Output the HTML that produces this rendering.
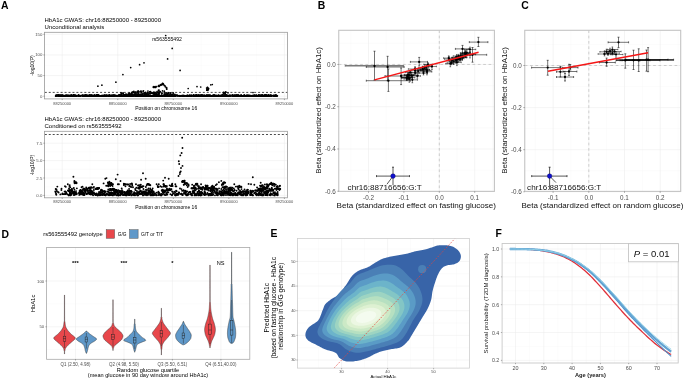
<!DOCTYPE html>
<html><head><meta charset="utf-8"><title>Figure</title>
<style>html,body{margin:0;padding:0;background:#fff;width:685px;height:381px;overflow:hidden}
svg{display:block;font-family:"Liberation Sans", sans-serif;will-change:transform}</style></head>
<body><svg width="685" height="381" viewBox="0 0 685 381">
<rect width="685" height="381" fill="#fff"/>
<text x="1" y="8.9" font-size="10.4" text-anchor="start" fill="#000" font-weight="bold" font-style="normal">A</text>
<text x="44.5" y="22" font-size="6" text-anchor="start" fill="#000" font-weight="normal" font-style="normal">HbA1c GWAS: chr16:88250000 - 89250000</text>
<text x="44.5" y="28.6" font-size="6" text-anchor="start" fill="#000" font-weight="normal" font-style="normal">Unconditional analysis</text>
<rect x="44.5" y="32.3" width="243" height="66.6" fill="#fff" stroke="none" stroke-width="0.5"/>
<line x1="89.97" y1="32.3" x2="89.97" y2="98.9" stroke="#f4f4f4" stroke-width="0.3"/>
<line x1="145.52" y1="32.3" x2="145.52" y2="98.9" stroke="#f4f4f4" stroke-width="0.3"/>
<line x1="201.07" y1="32.3" x2="201.07" y2="98.9" stroke="#f4f4f4" stroke-width="0.3"/>
<line x1="256.62" y1="32.3" x2="256.62" y2="98.9" stroke="#f4f4f4" stroke-width="0.3"/>
<line x1="44.5" y1="85.88" x2="287.5" y2="85.88" stroke="#f4f4f4" stroke-width="0.3"/>
<line x1="44.5" y1="65.25" x2="287.5" y2="65.25" stroke="#f4f4f4" stroke-width="0.3"/>
<line x1="44.5" y1="44.61" x2="287.5" y2="44.61" stroke="#f4f4f4" stroke-width="0.3"/>
<line x1="62.2" y1="32.3" x2="62.2" y2="98.9" stroke="#ebebeb" stroke-width="0.5"/>
<line x1="117.75" y1="32.3" x2="117.75" y2="98.9" stroke="#ebebeb" stroke-width="0.5"/>
<line x1="173.3" y1="32.3" x2="173.3" y2="98.9" stroke="#ebebeb" stroke-width="0.5"/>
<line x1="228.85" y1="32.3" x2="228.85" y2="98.9" stroke="#ebebeb" stroke-width="0.5"/>
<line x1="284.4" y1="32.3" x2="284.4" y2="98.9" stroke="#ebebeb" stroke-width="0.5"/>
<line x1="44.5" y1="96.2" x2="287.5" y2="96.2" stroke="#ebebeb" stroke-width="0.5"/>
<line x1="44.5" y1="75.56" x2="287.5" y2="75.56" stroke="#ebebeb" stroke-width="0.5"/>
<line x1="44.5" y1="54.93" x2="287.5" y2="54.93" stroke="#ebebeb" stroke-width="0.5"/>
<line x1="44.5" y1="34.3" x2="287.5" y2="34.3" stroke="#ebebeb" stroke-width="0.5"/>
<g fill="#000">
<circle cx="194.08" cy="96.03" r="0.85"/>
<circle cx="227.59" cy="95.69" r="0.85"/>
<circle cx="121.79" cy="95.63" r="0.85"/>
<circle cx="56.17" cy="95.43" r="0.85"/>
<circle cx="232.35" cy="95.84" r="0.85"/>
<circle cx="122.42" cy="95.99" r="0.85"/>
<circle cx="111.71" cy="95.66" r="0.85"/>
<circle cx="167.26" cy="95.8" r="0.85"/>
<circle cx="276.5" cy="95.94" r="0.85"/>
<circle cx="193.43" cy="95.45" r="0.85"/>
<circle cx="102.91" cy="96.06" r="0.85"/>
<circle cx="191.29" cy="96.04" r="0.85"/>
<circle cx="62.94" cy="96.09" r="0.85"/>
<circle cx="158.73" cy="95.89" r="0.85"/>
<circle cx="195" cy="96.13" r="0.85"/>
<circle cx="165.55" cy="95.92" r="0.85"/>
<circle cx="97.81" cy="95.73" r="0.85"/>
<circle cx="99.63" cy="95.73" r="0.85"/>
<circle cx="55.83" cy="95.69" r="0.85"/>
<circle cx="89.37" cy="96.14" r="0.85"/>
<circle cx="250.87" cy="96.16" r="0.85"/>
<circle cx="243.49" cy="96.16" r="0.85"/>
<circle cx="220.04" cy="95.31" r="0.85"/>
<circle cx="175.4" cy="96.13" r="0.85"/>
<circle cx="248.87" cy="95.04" r="0.85"/>
<circle cx="188.1" cy="95.51" r="0.85"/>
<circle cx="141.25" cy="95.87" r="0.85"/>
<circle cx="88.42" cy="95.81" r="0.85"/>
<circle cx="139.43" cy="95.81" r="0.85"/>
<circle cx="186.27" cy="95.81" r="0.85"/>
<circle cx="196.95" cy="95.93" r="0.85"/>
<circle cx="88.55" cy="95.51" r="0.85"/>
<circle cx="108.3" cy="96.09" r="0.85"/>
<circle cx="76.52" cy="95.54" r="0.85"/>
<circle cx="102.84" cy="95.74" r="0.85"/>
<circle cx="121.84" cy="95.05" r="0.85"/>
<circle cx="202.34" cy="96.14" r="0.85"/>
<circle cx="243.03" cy="95.8" r="0.85"/>
<circle cx="256.12" cy="95.99" r="0.85"/>
<circle cx="87.36" cy="95.32" r="0.85"/>
<circle cx="261.46" cy="96.02" r="0.85"/>
<circle cx="95.17" cy="96.13" r="0.85"/>
<circle cx="197.75" cy="95.56" r="0.85"/>
<circle cx="138.72" cy="95.94" r="0.85"/>
<circle cx="108.29" cy="95.82" r="0.85"/>
<circle cx="249.96" cy="95.81" r="0.85"/>
<circle cx="176.85" cy="95.59" r="0.85"/>
<circle cx="222.17" cy="95.86" r="0.85"/>
<circle cx="137.81" cy="96" r="0.85"/>
<circle cx="82.34" cy="95.02" r="0.85"/>
<circle cx="201.35" cy="95.68" r="0.85"/>
<circle cx="171.53" cy="94.9" r="0.85"/>
<circle cx="131.59" cy="95.84" r="0.85"/>
<circle cx="207.12" cy="95.92" r="0.85"/>
<circle cx="170.5" cy="96.08" r="0.85"/>
<circle cx="257.29" cy="95.9" r="0.85"/>
<circle cx="262.69" cy="96.15" r="0.85"/>
<circle cx="222.54" cy="95.59" r="0.85"/>
<circle cx="85.43" cy="95.7" r="0.85"/>
<circle cx="236.39" cy="96.09" r="0.85"/>
<circle cx="194.83" cy="95.86" r="0.85"/>
<circle cx="169.14" cy="95.05" r="0.85"/>
<circle cx="105.38" cy="95.99" r="0.85"/>
<circle cx="135.8" cy="95.71" r="0.85"/>
<circle cx="132" cy="95.76" r="0.85"/>
<circle cx="182.57" cy="95.75" r="0.85"/>
<circle cx="115.41" cy="95.31" r="0.85"/>
<circle cx="153.9" cy="95.37" r="0.85"/>
<circle cx="169.7" cy="96.04" r="0.85"/>
<circle cx="254.48" cy="95.64" r="0.85"/>
<circle cx="184.2" cy="95.89" r="0.85"/>
<circle cx="250.4" cy="95.74" r="0.85"/>
<circle cx="260.31" cy="95.46" r="0.85"/>
<circle cx="150.67" cy="96.11" r="0.85"/>
<circle cx="266.58" cy="96.19" r="0.85"/>
<circle cx="234.34" cy="96.01" r="0.85"/>
<circle cx="214.55" cy="96.2" r="0.85"/>
<circle cx="129.02" cy="96.03" r="0.85"/>
<circle cx="100.15" cy="95.73" r="0.85"/>
<circle cx="102.37" cy="95.81" r="0.85"/>
<circle cx="241.94" cy="96.01" r="0.85"/>
<circle cx="161.62" cy="95.36" r="0.85"/>
<circle cx="201.69" cy="95.83" r="0.85"/>
<circle cx="268.9" cy="95.78" r="0.85"/>
<circle cx="194.75" cy="96.16" r="0.85"/>
<circle cx="95.92" cy="95.94" r="0.85"/>
<circle cx="146.56" cy="96.12" r="0.85"/>
<circle cx="236.39" cy="95.5" r="0.85"/>
<circle cx="80.19" cy="95.91" r="0.85"/>
<circle cx="233.45" cy="96.18" r="0.85"/>
<circle cx="171.44" cy="95.91" r="0.85"/>
<circle cx="65.38" cy="96.03" r="0.85"/>
<circle cx="59.5" cy="96.19" r="0.85"/>
<circle cx="110.31" cy="95.81" r="0.85"/>
<circle cx="181.17" cy="95.87" r="0.85"/>
<circle cx="186.36" cy="95.65" r="0.85"/>
<circle cx="205.83" cy="96.12" r="0.85"/>
<circle cx="124.1" cy="95.75" r="0.85"/>
<circle cx="174.79" cy="95.67" r="0.85"/>
<circle cx="201.41" cy="95.32" r="0.85"/>
<circle cx="97.55" cy="95.7" r="0.85"/>
<circle cx="63.83" cy="95.7" r="0.85"/>
<circle cx="268.62" cy="95.34" r="0.85"/>
<circle cx="66.28" cy="95.22" r="0.85"/>
<circle cx="125.76" cy="95.61" r="0.85"/>
<circle cx="194.42" cy="95.71" r="0.85"/>
<circle cx="124.8" cy="94.98" r="0.85"/>
<circle cx="232.36" cy="96.17" r="0.85"/>
<circle cx="225.63" cy="96.18" r="0.85"/>
<circle cx="98.9" cy="95.33" r="0.85"/>
<circle cx="197.12" cy="95.64" r="0.85"/>
<circle cx="76.41" cy="95.91" r="0.85"/>
<circle cx="195.61" cy="95.97" r="0.85"/>
<circle cx="233.78" cy="95.82" r="0.85"/>
<circle cx="215.66" cy="95.69" r="0.85"/>
<circle cx="253.68" cy="95.75" r="0.85"/>
<circle cx="60.94" cy="96" r="0.85"/>
<circle cx="102.77" cy="95.4" r="0.85"/>
<circle cx="265.22" cy="96.15" r="0.85"/>
<circle cx="111.24" cy="95.36" r="0.85"/>
<circle cx="201.24" cy="95.77" r="0.85"/>
<circle cx="139.68" cy="96.15" r="0.85"/>
<circle cx="202.39" cy="95.53" r="0.85"/>
<circle cx="138.85" cy="94.93" r="0.85"/>
<circle cx="175.04" cy="95.06" r="0.85"/>
<circle cx="110.05" cy="95.8" r="0.85"/>
<circle cx="156.78" cy="95.43" r="0.85"/>
<circle cx="222.48" cy="95.52" r="0.85"/>
<circle cx="121.68" cy="95.55" r="0.85"/>
<circle cx="224.81" cy="96.17" r="0.85"/>
<circle cx="84.64" cy="96.18" r="0.85"/>
<circle cx="73.08" cy="95.88" r="0.85"/>
<circle cx="114.91" cy="95.6" r="0.85"/>
<circle cx="240.3" cy="95.8" r="0.85"/>
<circle cx="96.64" cy="95.47" r="0.85"/>
<circle cx="251.67" cy="96.2" r="0.85"/>
<circle cx="213.17" cy="95.21" r="0.85"/>
<circle cx="216.83" cy="95.93" r="0.85"/>
<circle cx="238.73" cy="95.98" r="0.85"/>
<circle cx="137.49" cy="96.06" r="0.85"/>
<circle cx="170.43" cy="96.15" r="0.85"/>
<circle cx="97.46" cy="96.04" r="0.85"/>
<circle cx="174.29" cy="95.51" r="0.85"/>
<circle cx="254.49" cy="96.2" r="0.85"/>
<circle cx="96" cy="95.88" r="0.85"/>
<circle cx="198.41" cy="95.15" r="0.85"/>
<circle cx="276.78" cy="95.64" r="0.85"/>
<circle cx="242.57" cy="95.81" r="0.85"/>
<circle cx="142.89" cy="96.08" r="0.85"/>
<circle cx="96.04" cy="96.08" r="0.85"/>
<circle cx="223.59" cy="95.33" r="0.85"/>
<circle cx="153.97" cy="96.17" r="0.85"/>
<circle cx="148.4" cy="95.83" r="0.85"/>
<circle cx="242.86" cy="95.91" r="0.85"/>
<circle cx="141.22" cy="96" r="0.85"/>
<circle cx="215.56" cy="96.16" r="0.85"/>
<circle cx="239.82" cy="95.97" r="0.85"/>
<circle cx="141.2" cy="96.07" r="0.85"/>
<circle cx="224.18" cy="95.28" r="0.85"/>
<circle cx="87.93" cy="95.71" r="0.85"/>
<circle cx="238.63" cy="95.75" r="0.85"/>
<circle cx="82.45" cy="95.41" r="0.85"/>
<circle cx="274.8" cy="96.02" r="0.85"/>
<circle cx="182.93" cy="96.09" r="0.85"/>
<circle cx="221.96" cy="95.63" r="0.85"/>
<circle cx="258.46" cy="95.04" r="0.85"/>
<circle cx="226.13" cy="96.08" r="0.85"/>
<circle cx="160.33" cy="96.02" r="0.85"/>
<circle cx="124.82" cy="95.56" r="0.85"/>
<circle cx="215.14" cy="95.68" r="0.85"/>
<circle cx="67.63" cy="95.32" r="0.85"/>
<circle cx="252.74" cy="95.88" r="0.85"/>
<circle cx="109.86" cy="96.09" r="0.85"/>
<circle cx="105.55" cy="95.42" r="0.85"/>
<circle cx="166.99" cy="95.35" r="0.85"/>
<circle cx="94.23" cy="95.66" r="0.85"/>
<circle cx="162.74" cy="95.91" r="0.85"/>
<circle cx="204.04" cy="96.08" r="0.85"/>
<circle cx="172.24" cy="96.03" r="0.85"/>
<circle cx="169.85" cy="96.18" r="0.85"/>
<circle cx="174.31" cy="96.15" r="0.85"/>
<circle cx="230.96" cy="95.12" r="0.85"/>
<circle cx="94.91" cy="96.17" r="0.85"/>
<circle cx="80.19" cy="95.98" r="0.85"/>
<circle cx="264.5" cy="95.39" r="0.85"/>
<circle cx="270.8" cy="95.79" r="0.85"/>
<circle cx="167.69" cy="95.21" r="0.85"/>
<circle cx="258.58" cy="95.81" r="0.85"/>
<circle cx="125.17" cy="94.9" r="0.85"/>
<circle cx="69.77" cy="95.75" r="0.85"/>
<circle cx="158.48" cy="96.17" r="0.85"/>
<circle cx="224.31" cy="95.53" r="0.85"/>
<circle cx="224.34" cy="95.54" r="0.85"/>
<circle cx="244.06" cy="95.59" r="0.85"/>
<circle cx="218.69" cy="95.93" r="0.85"/>
<circle cx="92.3" cy="96.12" r="0.85"/>
<circle cx="91.9" cy="96" r="0.85"/>
<circle cx="187.75" cy="95.37" r="0.85"/>
<circle cx="263.4" cy="96.09" r="0.85"/>
<circle cx="169.47" cy="95.62" r="0.85"/>
<circle cx="269.81" cy="95.75" r="0.85"/>
<circle cx="233.82" cy="95.97" r="0.85"/>
<circle cx="233.4" cy="95.61" r="0.85"/>
<circle cx="198.22" cy="95.5" r="0.85"/>
<circle cx="151.45" cy="95.73" r="0.85"/>
<circle cx="209" cy="95.1" r="0.85"/>
<circle cx="129.55" cy="95.85" r="0.85"/>
<circle cx="101.51" cy="95.98" r="0.85"/>
<circle cx="226.14" cy="95.55" r="0.85"/>
<circle cx="216.94" cy="96.1" r="0.85"/>
<circle cx="268.23" cy="95.83" r="0.85"/>
<circle cx="146.02" cy="95.23" r="0.85"/>
<circle cx="171.43" cy="95.63" r="0.85"/>
<circle cx="73.86" cy="95.58" r="0.85"/>
<circle cx="179.18" cy="95.6" r="0.85"/>
<circle cx="63.81" cy="95.93" r="0.85"/>
<circle cx="195.41" cy="95.89" r="0.85"/>
<circle cx="71.5" cy="96.02" r="0.85"/>
<circle cx="104.44" cy="95.45" r="0.85"/>
<circle cx="250.51" cy="95.69" r="0.85"/>
<circle cx="156.08" cy="96.2" r="0.85"/>
<circle cx="212.38" cy="95.64" r="0.85"/>
<circle cx="234.57" cy="95.9" r="0.85"/>
<circle cx="193.04" cy="95.75" r="0.85"/>
<circle cx="205.88" cy="96.07" r="0.85"/>
<circle cx="145.36" cy="95.86" r="0.85"/>
<circle cx="143.13" cy="95.85" r="0.85"/>
<circle cx="139.65" cy="95.57" r="0.85"/>
<circle cx="223.09" cy="96.17" r="0.85"/>
<circle cx="130.21" cy="95.68" r="0.85"/>
<circle cx="139.76" cy="95.21" r="0.85"/>
<circle cx="229.72" cy="95.58" r="0.85"/>
<circle cx="213.62" cy="96.17" r="0.85"/>
<circle cx="246.42" cy="95.32" r="0.85"/>
<circle cx="179.12" cy="95.77" r="0.85"/>
<circle cx="205.78" cy="95.98" r="0.85"/>
<circle cx="148.59" cy="95.78" r="0.85"/>
<circle cx="120.11" cy="95.76" r="0.85"/>
<circle cx="150.84" cy="95.64" r="0.85"/>
<circle cx="154.54" cy="95.14" r="0.85"/>
<circle cx="184.37" cy="96.01" r="0.85"/>
<circle cx="252.82" cy="96.18" r="0.85"/>
<circle cx="114.39" cy="96.17" r="0.85"/>
<circle cx="164.88" cy="95.6" r="0.85"/>
<circle cx="71.31" cy="95.62" r="0.85"/>
<circle cx="99.06" cy="95.77" r="0.85"/>
<circle cx="239.24" cy="95.64" r="0.85"/>
<circle cx="160.39" cy="96" r="0.85"/>
<circle cx="156.92" cy="94.8" r="0.85"/>
<circle cx="176.46" cy="95.58" r="0.85"/>
<circle cx="125.43" cy="95.58" r="0.85"/>
<circle cx="226.44" cy="95.33" r="0.85"/>
<circle cx="218.05" cy="95.4" r="0.85"/>
<circle cx="154.06" cy="95.97" r="0.85"/>
<circle cx="206.95" cy="95.11" r="0.85"/>
<circle cx="198.15" cy="96.18" r="0.85"/>
<circle cx="196.77" cy="96.15" r="0.85"/>
<circle cx="161.03" cy="96.16" r="0.85"/>
<circle cx="195.4" cy="95.45" r="0.85"/>
<circle cx="269.06" cy="96.12" r="0.85"/>
<circle cx="123.09" cy="96.16" r="0.85"/>
<circle cx="70.01" cy="95.77" r="0.85"/>
<circle cx="226.73" cy="95.6" r="0.85"/>
<circle cx="98.51" cy="96.14" r="0.85"/>
<circle cx="126.52" cy="96.09" r="0.85"/>
<circle cx="163.6" cy="95.65" r="0.85"/>
<circle cx="201.05" cy="95.88" r="0.85"/>
<circle cx="225.81" cy="96.2" r="0.85"/>
<circle cx="131.5" cy="96.16" r="0.85"/>
<circle cx="152.37" cy="95.84" r="0.85"/>
<circle cx="86.53" cy="95" r="0.85"/>
<circle cx="197.36" cy="96.11" r="0.85"/>
<circle cx="85.71" cy="95.95" r="0.85"/>
<circle cx="118.04" cy="95.64" r="0.85"/>
<circle cx="60.74" cy="95.88" r="0.85"/>
<circle cx="91.72" cy="95.5" r="0.85"/>
<circle cx="58.35" cy="96.12" r="0.85"/>
<circle cx="114.99" cy="95.95" r="0.85"/>
<circle cx="95.95" cy="95.24" r="0.85"/>
<circle cx="145.4" cy="96.06" r="0.85"/>
<circle cx="236.75" cy="95.98" r="0.85"/>
<circle cx="260.55" cy="96.05" r="0.85"/>
<circle cx="203.7" cy="95.95" r="0.85"/>
<circle cx="202.59" cy="95.33" r="0.85"/>
<circle cx="226.82" cy="95.52" r="0.85"/>
<circle cx="267.12" cy="96.06" r="0.85"/>
<circle cx="80.44" cy="95.66" r="0.85"/>
<circle cx="62.22" cy="94.8" r="0.85"/>
<circle cx="258.61" cy="95.34" r="0.85"/>
<circle cx="191.15" cy="95.83" r="0.85"/>
<circle cx="205.95" cy="95.99" r="0.85"/>
<circle cx="266.91" cy="95.19" r="0.85"/>
<circle cx="129.7" cy="96.14" r="0.85"/>
<circle cx="59.15" cy="95.47" r="0.85"/>
<circle cx="209.4" cy="95.95" r="0.85"/>
<circle cx="244.45" cy="96.14" r="0.85"/>
<circle cx="129.91" cy="95.75" r="0.85"/>
<circle cx="84.42" cy="95.78" r="0.85"/>
<circle cx="122.62" cy="95.58" r="0.85"/>
<circle cx="261.48" cy="96.02" r="0.85"/>
<circle cx="254.94" cy="95.62" r="0.85"/>
<circle cx="244.9" cy="95.86" r="0.85"/>
<circle cx="55.73" cy="96.02" r="0.85"/>
<circle cx="109.62" cy="95.99" r="0.85"/>
<circle cx="232.89" cy="95.7" r="0.85"/>
<circle cx="102.26" cy="96.01" r="0.85"/>
<circle cx="263.98" cy="95.98" r="0.85"/>
<circle cx="211.29" cy="96.19" r="0.85"/>
<circle cx="236.35" cy="94.8" r="0.85"/>
<circle cx="169.82" cy="95.89" r="0.85"/>
<circle cx="177.39" cy="95.22" r="0.85"/>
<circle cx="73.78" cy="96.02" r="0.85"/>
<circle cx="225.14" cy="95.75" r="0.85"/>
<circle cx="124.6" cy="96.18" r="0.85"/>
<circle cx="156.17" cy="95.07" r="0.85"/>
<circle cx="120.18" cy="96.17" r="0.85"/>
<circle cx="196.44" cy="95.42" r="0.85"/>
<circle cx="139.16" cy="95.35" r="0.85"/>
<circle cx="210.4" cy="96.09" r="0.85"/>
<circle cx="60.89" cy="95.75" r="0.85"/>
<circle cx="213.78" cy="95.33" r="0.85"/>
<circle cx="217.6" cy="96.01" r="0.85"/>
<circle cx="159.42" cy="95.32" r="0.85"/>
<circle cx="154.7" cy="95.91" r="0.85"/>
<circle cx="122.97" cy="95.93" r="0.85"/>
<circle cx="103.84" cy="96.06" r="0.85"/>
<circle cx="93.49" cy="95.67" r="0.85"/>
<circle cx="158.64" cy="96.08" r="0.85"/>
<circle cx="219.38" cy="95.81" r="0.85"/>
<circle cx="115.74" cy="95.67" r="0.85"/>
<circle cx="167.75" cy="96" r="0.85"/>
<circle cx="82.78" cy="96.08" r="0.85"/>
<circle cx="160.5" cy="95.83" r="0.85"/>
<circle cx="69.81" cy="95.5" r="0.85"/>
<circle cx="247.53" cy="95.05" r="0.85"/>
<circle cx="56.27" cy="96.07" r="0.85"/>
<circle cx="137.1" cy="96.13" r="0.85"/>
<circle cx="71.29" cy="96.13" r="0.85"/>
<circle cx="235.81" cy="95.72" r="0.85"/>
<circle cx="155.83" cy="95.37" r="0.85"/>
<circle cx="126.18" cy="95.76" r="0.85"/>
<circle cx="142.26" cy="96.08" r="0.85"/>
<circle cx="73.22" cy="96.01" r="0.85"/>
<circle cx="267.17" cy="95.69" r="0.85"/>
<circle cx="198.98" cy="95.61" r="0.85"/>
<circle cx="182.07" cy="96.18" r="0.85"/>
<circle cx="186.12" cy="96" r="0.85"/>
<circle cx="177.48" cy="95.8" r="0.85"/>
<circle cx="184.66" cy="95.6" r="0.85"/>
<circle cx="91.92" cy="94.8" r="0.85"/>
<circle cx="236.77" cy="96.14" r="0.85"/>
<circle cx="176.25" cy="95.01" r="0.85"/>
<circle cx="144.67" cy="95.99" r="0.85"/>
<circle cx="137.83" cy="95.91" r="0.85"/>
<circle cx="207.78" cy="95.91" r="0.85"/>
<circle cx="78.81" cy="95.21" r="0.85"/>
<circle cx="260.56" cy="95.8" r="0.85"/>
<circle cx="110.52" cy="95.78" r="0.85"/>
<circle cx="243.94" cy="96.09" r="0.85"/>
<circle cx="64.85" cy="95.81" r="0.85"/>
<circle cx="97.83" cy="95.22" r="0.85"/>
<circle cx="260.05" cy="95.77" r="0.85"/>
<circle cx="93.11" cy="95.85" r="0.85"/>
<circle cx="171.6" cy="94.87" r="0.85"/>
<circle cx="152.39" cy="96.05" r="0.85"/>
<circle cx="133.68" cy="95.06" r="0.85"/>
<circle cx="222.04" cy="95.16" r="0.85"/>
<circle cx="234.83" cy="95.5" r="0.85"/>
<circle cx="228.86" cy="96.15" r="0.85"/>
<circle cx="248.86" cy="96" r="0.85"/>
<circle cx="156.4" cy="96.03" r="0.85"/>
<circle cx="168" cy="96.02" r="0.85"/>
<circle cx="85.95" cy="95.89" r="0.85"/>
<circle cx="66.66" cy="95.23" r="0.85"/>
<circle cx="83.95" cy="95.13" r="0.85"/>
<circle cx="134.32" cy="95.44" r="0.85"/>
<circle cx="117.5" cy="95.81" r="0.85"/>
<circle cx="128.67" cy="96.17" r="0.85"/>
<circle cx="111.92" cy="96.03" r="0.85"/>
<circle cx="222.98" cy="95.95" r="0.85"/>
<circle cx="252.39" cy="95.57" r="0.85"/>
<circle cx="124.09" cy="94.88" r="0.85"/>
<circle cx="111.32" cy="96.06" r="0.85"/>
<circle cx="152.43" cy="95.79" r="0.85"/>
<circle cx="263.17" cy="96.08" r="0.85"/>
<circle cx="213.5" cy="96.04" r="0.85"/>
<circle cx="84.31" cy="95.3" r="0.85"/>
<circle cx="209.81" cy="96.15" r="0.85"/>
<circle cx="256.53" cy="95.34" r="0.85"/>
<circle cx="75.62" cy="95.81" r="0.85"/>
<circle cx="263.7" cy="95.82" r="0.85"/>
<circle cx="259.3" cy="95.39" r="0.85"/>
<circle cx="69.92" cy="95.77" r="0.85"/>
<circle cx="157.08" cy="95.82" r="0.85"/>
<circle cx="219.03" cy="95.67" r="0.85"/>
<circle cx="276.88" cy="95.99" r="0.85"/>
<circle cx="235.86" cy="95.83" r="0.85"/>
<circle cx="229.29" cy="96.02" r="0.85"/>
<circle cx="275.72" cy="96.08" r="0.85"/>
<circle cx="155.78" cy="95.76" r="0.85"/>
<circle cx="265.43" cy="95.5" r="0.85"/>
<circle cx="264.2" cy="95.83" r="0.85"/>
<circle cx="138.39" cy="96.17" r="0.85"/>
<circle cx="159.84" cy="95.8" r="0.85"/>
<circle cx="140.91" cy="95.99" r="0.85"/>
<circle cx="86.11" cy="95.84" r="0.85"/>
<circle cx="222.76" cy="95.49" r="0.85"/>
<circle cx="204.5" cy="95.97" r="0.85"/>
<circle cx="106.2" cy="95.36" r="0.85"/>
<circle cx="116.83" cy="96.05" r="0.85"/>
<circle cx="224.25" cy="95.41" r="0.85"/>
<circle cx="126.91" cy="96.14" r="0.85"/>
<circle cx="96.51" cy="95.21" r="0.85"/>
<circle cx="210.11" cy="96.15" r="0.85"/>
<circle cx="120.94" cy="96.15" r="0.85"/>
<circle cx="62.58" cy="95.88" r="0.85"/>
<circle cx="183.6" cy="96.18" r="0.85"/>
<circle cx="132.48" cy="94.8" r="0.85"/>
<circle cx="186.25" cy="95.93" r="0.85"/>
<circle cx="212.21" cy="95.75" r="0.85"/>
<circle cx="270.76" cy="95.92" r="0.85"/>
<circle cx="111.41" cy="95.63" r="0.85"/>
<circle cx="275.61" cy="95.93" r="0.85"/>
<circle cx="189.68" cy="95.36" r="0.85"/>
<circle cx="266.39" cy="96.11" r="0.85"/>
<circle cx="170.96" cy="95.18" r="0.85"/>
<circle cx="211.28" cy="95.74" r="0.85"/>
<circle cx="127.96" cy="96.15" r="0.85"/>
<circle cx="62.84" cy="95.84" r="0.85"/>
<circle cx="71.88" cy="95.52" r="0.85"/>
<circle cx="129.15" cy="95.36" r="0.85"/>
<circle cx="61.87" cy="95.53" r="0.85"/>
<circle cx="151.83" cy="95.66" r="0.85"/>
<circle cx="212.63" cy="96.11" r="0.85"/>
<circle cx="109.52" cy="95.76" r="0.85"/>
<circle cx="254.74" cy="96.15" r="0.85"/>
<circle cx="75.74" cy="95.5" r="0.85"/>
<circle cx="61.21" cy="95.19" r="0.85"/>
<circle cx="60.66" cy="96.19" r="0.85"/>
<circle cx="195.89" cy="95.44" r="0.85"/>
<circle cx="89.66" cy="95.73" r="0.85"/>
<circle cx="129.64" cy="95.7" r="0.85"/>
<circle cx="74.26" cy="95.75" r="0.85"/>
<circle cx="205.49" cy="96.11" r="0.85"/>
<circle cx="192.49" cy="95.66" r="0.85"/>
<circle cx="112.92" cy="95.93" r="0.85"/>
<circle cx="266.87" cy="95.95" r="0.85"/>
<circle cx="197.56" cy="96.04" r="0.85"/>
<circle cx="58.37" cy="96.12" r="0.85"/>
<circle cx="69.88" cy="96.19" r="0.85"/>
<circle cx="209.21" cy="95.64" r="0.85"/>
<circle cx="230.01" cy="95.82" r="0.85"/>
<circle cx="94.39" cy="96.09" r="0.85"/>
<circle cx="244.43" cy="95.54" r="0.85"/>
<circle cx="109.32" cy="95.03" r="0.85"/>
<circle cx="144.56" cy="95.77" r="0.85"/>
<circle cx="167.4" cy="96.14" r="0.85"/>
<circle cx="153.5" cy="95.44" r="0.85"/>
<circle cx="213.52" cy="96.17" r="0.85"/>
<circle cx="248.32" cy="96.09" r="0.85"/>
<circle cx="125.48" cy="96.04" r="0.85"/>
<circle cx="263.96" cy="96.18" r="0.85"/>
<circle cx="76.47" cy="95.9" r="0.85"/>
<circle cx="275.37" cy="95.68" r="0.85"/>
<circle cx="67.12" cy="96.11" r="0.85"/>
<circle cx="167.16" cy="95.6" r="0.85"/>
<circle cx="266.66" cy="95.79" r="0.85"/>
<circle cx="82.81" cy="96.02" r="0.85"/>
<circle cx="145.67" cy="95.51" r="0.85"/>
<circle cx="193.78" cy="95.51" r="0.85"/>
<circle cx="183.17" cy="95.56" r="0.85"/>
<circle cx="236.95" cy="96.14" r="0.85"/>
<circle cx="210.41" cy="95.99" r="0.85"/>
<circle cx="159.82" cy="95.51" r="0.85"/>
<circle cx="174.94" cy="95.97" r="0.85"/>
<circle cx="150.4" cy="95.83" r="0.85"/>
<circle cx="67.62" cy="96.18" r="0.85"/>
<circle cx="59.08" cy="95.92" r="0.85"/>
<circle cx="139.88" cy="96.18" r="0.85"/>
<circle cx="120.82" cy="95.95" r="0.85"/>
<circle cx="93.51" cy="96.08" r="0.85"/>
<circle cx="268.62" cy="95.51" r="0.85"/>
<circle cx="158.55" cy="94.89" r="0.85"/>
<circle cx="119.49" cy="95.73" r="0.85"/>
<circle cx="118.93" cy="95.13" r="0.85"/>
<circle cx="129.32" cy="95.07" r="0.85"/>
<circle cx="261.01" cy="95.82" r="0.85"/>
<circle cx="234.61" cy="95.77" r="0.85"/>
<circle cx="139.34" cy="95.94" r="0.85"/>
<circle cx="70.44" cy="96.16" r="0.85"/>
<circle cx="193.65" cy="94.89" r="0.85"/>
<circle cx="203.94" cy="95.6" r="0.85"/>
<circle cx="273.22" cy="96.07" r="0.85"/>
<circle cx="234.47" cy="95.98" r="0.85"/>
<circle cx="270.86" cy="95.67" r="0.85"/>
<circle cx="248.36" cy="96.18" r="0.85"/>
<circle cx="193.37" cy="96.11" r="0.85"/>
<circle cx="99.59" cy="96.12" r="0.85"/>
<circle cx="119.66" cy="96.19" r="0.85"/>
<circle cx="83.52" cy="95.87" r="0.85"/>
<circle cx="260.23" cy="96" r="0.85"/>
<circle cx="57.95" cy="96.11" r="0.85"/>
<circle cx="84.91" cy="95.68" r="0.85"/>
<circle cx="184.79" cy="95.97" r="0.85"/>
<circle cx="150.5" cy="95.72" r="0.85"/>
<circle cx="202.87" cy="95.97" r="0.85"/>
<circle cx="143.81" cy="95.03" r="0.85"/>
<circle cx="256.23" cy="95.17" r="0.85"/>
<circle cx="214.9" cy="95.82" r="0.85"/>
<circle cx="254.01" cy="95.95" r="0.85"/>
<circle cx="167.4" cy="96.17" r="0.85"/>
<circle cx="204.69" cy="95.16" r="0.85"/>
<circle cx="85.45" cy="94.92" r="0.85"/>
<circle cx="61.48" cy="95.78" r="0.85"/>
<circle cx="268.35" cy="96.07" r="0.85"/>
<circle cx="90.91" cy="95.37" r="0.85"/>
<circle cx="74.22" cy="95.58" r="0.85"/>
<circle cx="186.82" cy="95.64" r="0.85"/>
<circle cx="79.17" cy="95.59" r="0.85"/>
<circle cx="233.99" cy="95.41" r="0.85"/>
<circle cx="85.65" cy="96.02" r="0.85"/>
<circle cx="195.07" cy="95.87" r="0.85"/>
<circle cx="247.21" cy="96.09" r="0.85"/>
<circle cx="168.67" cy="95.64" r="0.85"/>
<circle cx="180.39" cy="96.06" r="0.85"/>
<circle cx="217.7" cy="96.17" r="0.85"/>
<circle cx="275.69" cy="95.05" r="0.85"/>
<circle cx="149.28" cy="95.69" r="0.85"/>
<circle cx="228.4" cy="95.74" r="0.85"/>
<circle cx="197.32" cy="95.4" r="0.85"/>
<circle cx="169.89" cy="94.8" r="0.85"/>
<circle cx="159.27" cy="95.56" r="0.85"/>
<circle cx="118.34" cy="95.97" r="0.85"/>
<circle cx="125.37" cy="95.73" r="0.85"/>
<circle cx="146.08" cy="95.69" r="0.85"/>
<circle cx="265.92" cy="95.98" r="0.85"/>
<circle cx="276.28" cy="95.3" r="0.85"/>
<circle cx="71.43" cy="94.91" r="0.85"/>
<circle cx="66.01" cy="95.84" r="0.85"/>
<circle cx="96.26" cy="95.12" r="0.85"/>
<circle cx="122.8" cy="95.53" r="0.85"/>
<circle cx="237.98" cy="95.53" r="0.85"/>
<circle cx="128.17" cy="95.65" r="0.85"/>
<circle cx="56.31" cy="95.27" r="0.85"/>
<circle cx="268.76" cy="94.81" r="0.85"/>
<circle cx="248.54" cy="96.04" r="0.85"/>
<circle cx="120.39" cy="96.1" r="0.85"/>
<circle cx="119.37" cy="96.08" r="0.85"/>
<circle cx="73.41" cy="94.96" r="0.85"/>
<circle cx="221.88" cy="95.79" r="0.85"/>
<circle cx="87.81" cy="96.07" r="0.85"/>
<circle cx="121.08" cy="95.83" r="0.85"/>
<circle cx="220.48" cy="96" r="0.85"/>
<circle cx="68.13" cy="95.02" r="0.85"/>
<circle cx="273.87" cy="95.36" r="0.85"/>
<circle cx="226.23" cy="94.8" r="0.85"/>
<circle cx="249.36" cy="95.51" r="0.85"/>
<circle cx="252.64" cy="96.08" r="0.85"/>
<circle cx="248.41" cy="96.08" r="0.85"/>
<circle cx="214.2" cy="95.77" r="0.85"/>
<circle cx="114.14" cy="95.95" r="0.85"/>
<circle cx="186.57" cy="96.17" r="0.85"/>
<circle cx="262.25" cy="96.1" r="0.85"/>
<circle cx="98.04" cy="95.99" r="0.85"/>
<circle cx="237.01" cy="95.99" r="0.85"/>
<circle cx="168.92" cy="96.13" r="0.85"/>
<circle cx="200.75" cy="95.76" r="0.85"/>
<circle cx="74.38" cy="95.43" r="0.85"/>
<circle cx="250.84" cy="95.77" r="0.85"/>
<circle cx="66.86" cy="95.81" r="0.85"/>
<circle cx="140.58" cy="95.79" r="0.85"/>
<circle cx="185.64" cy="95.75" r="0.85"/>
<circle cx="130.23" cy="95.78" r="0.85"/>
<circle cx="191.51" cy="96.18" r="0.85"/>
<circle cx="212.12" cy="95.83" r="0.85"/>
<circle cx="236.24" cy="95.76" r="0.85"/>
<circle cx="269.38" cy="96.02" r="0.85"/>
<circle cx="83.34" cy="95.91" r="0.85"/>
<circle cx="121.15" cy="94.8" r="0.85"/>
<circle cx="190.59" cy="96.12" r="0.85"/>
<circle cx="74.36" cy="95.84" r="0.85"/>
<circle cx="69.67" cy="95.59" r="0.85"/>
<circle cx="250.13" cy="95.65" r="0.85"/>
<circle cx="83.45" cy="96.14" r="0.85"/>
<circle cx="161.77" cy="95.71" r="0.85"/>
<circle cx="145.74" cy="96.11" r="0.85"/>
<circle cx="258.67" cy="95.6" r="0.85"/>
<circle cx="90.82" cy="95.73" r="0.85"/>
<circle cx="164.45" cy="95.66" r="0.85"/>
<circle cx="74.33" cy="96.17" r="0.85"/>
<circle cx="258.45" cy="95.98" r="0.85"/>
<circle cx="113.23" cy="95.91" r="0.85"/>
<circle cx="126.22" cy="96.06" r="0.85"/>
<circle cx="73.87" cy="95.53" r="0.85"/>
<circle cx="73.66" cy="94.94" r="0.85"/>
<circle cx="120.22" cy="96.07" r="0.85"/>
<circle cx="253.83" cy="95.73" r="0.85"/>
<circle cx="111.99" cy="96.2" r="0.85"/>
<circle cx="141.24" cy="95.12" r="0.85"/>
<circle cx="224.93" cy="95.71" r="0.85"/>
<circle cx="211.32" cy="96.07" r="0.85"/>
<circle cx="270.32" cy="95.68" r="0.85"/>
<circle cx="247.02" cy="95.67" r="0.85"/>
<circle cx="134.73" cy="95.54" r="0.85"/>
<circle cx="216.86" cy="96.12" r="0.85"/>
<circle cx="140.48" cy="95.72" r="0.85"/>
<circle cx="179.55" cy="96.08" r="0.85"/>
<circle cx="265.9" cy="95.99" r="0.85"/>
<circle cx="277.37" cy="95.87" r="0.85"/>
<circle cx="135.97" cy="95.69" r="0.85"/>
<circle cx="83.16" cy="95.69" r="0.85"/>
<circle cx="96.34" cy="96.15" r="0.85"/>
<circle cx="253.04" cy="95.72" r="0.85"/>
<circle cx="204.49" cy="96.06" r="0.85"/>
<circle cx="75.44" cy="95.19" r="0.85"/>
<circle cx="167.21" cy="95.33" r="0.85"/>
<circle cx="201.27" cy="95.36" r="0.85"/>
<circle cx="65.33" cy="95.45" r="0.85"/>
<circle cx="254.69" cy="95.32" r="0.85"/>
<circle cx="173.64" cy="95.47" r="0.85"/>
<circle cx="263.97" cy="95.81" r="0.85"/>
<circle cx="146.23" cy="96.04" r="0.85"/>
<circle cx="214.9" cy="95.52" r="0.85"/>
<circle cx="218.84" cy="95.52" r="0.85"/>
<circle cx="71.76" cy="95.82" r="0.85"/>
<circle cx="271.38" cy="96.12" r="0.85"/>
<circle cx="227.37" cy="95.98" r="0.85"/>
<circle cx="157.34" cy="95.99" r="0.85"/>
<circle cx="191.71" cy="95.37" r="0.85"/>
<circle cx="207.95" cy="96.07" r="0.85"/>
<circle cx="214.09" cy="95.59" r="0.85"/>
<circle cx="146.92" cy="94.8" r="0.85"/>
<circle cx="164.78" cy="95.94" r="0.85"/>
<circle cx="108.87" cy="96.09" r="0.85"/>
<circle cx="152.95" cy="95.92" r="0.85"/>
<circle cx="241.22" cy="95.03" r="0.85"/>
<circle cx="131.51" cy="95.49" r="0.85"/>
<circle cx="255.76" cy="95.95" r="0.85"/>
<circle cx="178.42" cy="95.74" r="0.85"/>
<circle cx="199.68" cy="95.67" r="0.85"/>
<circle cx="85.84" cy="95.75" r="0.85"/>
<circle cx="203.13" cy="96.01" r="0.85"/>
<circle cx="196.31" cy="94.8" r="0.85"/>
<circle cx="127.59" cy="95.4" r="0.85"/>
<circle cx="113.77" cy="96.13" r="0.85"/>
<circle cx="206.63" cy="95.68" r="0.85"/>
<circle cx="68.61" cy="96.01" r="0.85"/>
<circle cx="234.99" cy="95.89" r="0.85"/>
<circle cx="126.52" cy="95.86" r="0.85"/>
<circle cx="73.66" cy="95.96" r="0.85"/>
<circle cx="183.2" cy="95.32" r="0.85"/>
<circle cx="154.45" cy="95.34" r="0.85"/>
<circle cx="216.51" cy="95.37" r="0.85"/>
<circle cx="220.85" cy="95.71" r="0.85"/>
<circle cx="74.53" cy="95.86" r="0.85"/>
<circle cx="193.56" cy="95.62" r="0.85"/>
<circle cx="252.53" cy="96.08" r="0.85"/>
<circle cx="226.73" cy="96.1" r="0.85"/>
<circle cx="210.13" cy="96.18" r="0.85"/>
<circle cx="126.66" cy="95.22" r="0.85"/>
<circle cx="173.04" cy="95.68" r="0.85"/>
<circle cx="196.93" cy="95.71" r="0.85"/>
<circle cx="140.46" cy="95.75" r="0.85"/>
<circle cx="131.85" cy="95.56" r="0.85"/>
<circle cx="157.25" cy="95.84" r="0.85"/>
<circle cx="58.9" cy="94.8" r="0.85"/>
<circle cx="103.94" cy="96.07" r="0.85"/>
<circle cx="71.41" cy="96.03" r="0.85"/>
<circle cx="253.81" cy="95.38" r="0.85"/>
<circle cx="78.38" cy="95.16" r="0.85"/>
<circle cx="83.27" cy="96.07" r="0.85"/>
<circle cx="82.25" cy="95.69" r="0.85"/>
<circle cx="165.06" cy="95.79" r="0.85"/>
<circle cx="125.92" cy="95.89" r="0.85"/>
<circle cx="213.71" cy="95.43" r="0.85"/>
<circle cx="135.73" cy="96.08" r="0.85"/>
<circle cx="86.23" cy="95.69" r="0.85"/>
<circle cx="151.28" cy="95.98" r="0.85"/>
<circle cx="237.83" cy="95.46" r="0.85"/>
<circle cx="84.81" cy="95.79" r="0.85"/>
<circle cx="237.34" cy="95.47" r="0.85"/>
<circle cx="191.07" cy="95.13" r="0.85"/>
<circle cx="273.99" cy="95.26" r="0.85"/>
<circle cx="198.45" cy="95.96" r="0.85"/>
<circle cx="137.42" cy="95.33" r="0.85"/>
<circle cx="261.12" cy="95.67" r="0.85"/>
<circle cx="142.93" cy="96.01" r="0.85"/>
<circle cx="210.02" cy="96" r="0.85"/>
<circle cx="232.5" cy="95.44" r="0.85"/>
<circle cx="201.77" cy="96.02" r="0.85"/>
<circle cx="158.31" cy="95.63" r="0.85"/>
<circle cx="144.65" cy="95.87" r="0.85"/>
<circle cx="97.09" cy="95.84" r="0.85"/>
<circle cx="157.97" cy="95.17" r="0.85"/>
<circle cx="233.12" cy="95.96" r="0.85"/>
<circle cx="265.32" cy="94.96" r="0.85"/>
<circle cx="199.06" cy="95.77" r="0.85"/>
<circle cx="238.12" cy="94.93" r="0.85"/>
<circle cx="221.18" cy="95.55" r="0.85"/>
<circle cx="239.68" cy="95.49" r="0.85"/>
<circle cx="204.62" cy="96.11" r="0.85"/>
<circle cx="130.17" cy="95.84" r="0.85"/>
<circle cx="89.59" cy="94.8" r="0.85"/>
<circle cx="137.04" cy="95.79" r="0.85"/>
<circle cx="244.5" cy="95.67" r="0.85"/>
<circle cx="206.36" cy="95.28" r="0.85"/>
<circle cx="103.47" cy="96.19" r="0.85"/>
<circle cx="75.59" cy="96.1" r="0.85"/>
<circle cx="266.45" cy="95.22" r="0.85"/>
<circle cx="223.59" cy="95.63" r="0.85"/>
<circle cx="168.24" cy="96.14" r="0.85"/>
<circle cx="153.13" cy="95.45" r="0.85"/>
<circle cx="167.53" cy="95.5" r="0.85"/>
<circle cx="123.42" cy="96.01" r="0.85"/>
<circle cx="274.92" cy="95.48" r="0.85"/>
<circle cx="105.92" cy="95.44" r="0.85"/>
<circle cx="85.83" cy="95.26" r="0.85"/>
<circle cx="244.86" cy="96.07" r="0.85"/>
<circle cx="150.19" cy="95.54" r="0.85"/>
<circle cx="78.63" cy="95.36" r="0.85"/>
<circle cx="132.68" cy="95.92" r="0.85"/>
<circle cx="260.53" cy="95.79" r="0.85"/>
<circle cx="87.55" cy="95.74" r="0.85"/>
<circle cx="90.46" cy="96.04" r="0.85"/>
<circle cx="264.99" cy="95.87" r="0.85"/>
<circle cx="97.18" cy="95.21" r="0.85"/>
<circle cx="200.1" cy="95.38" r="0.85"/>
<circle cx="57.6" cy="95.65" r="0.85"/>
<circle cx="112.11" cy="95.94" r="0.85"/>
<circle cx="163.71" cy="95.73" r="0.85"/>
<circle cx="156.73" cy="95.77" r="0.85"/>
<circle cx="275.29" cy="95.71" r="0.85"/>
<circle cx="70.38" cy="95.35" r="0.85"/>
<circle cx="107.13" cy="95.33" r="0.85"/>
<circle cx="98.43" cy="94.8" r="0.85"/>
<circle cx="268.54" cy="95.29" r="0.85"/>
<circle cx="244.79" cy="96.1" r="0.85"/>
<circle cx="125.23" cy="96.14" r="0.85"/>
<circle cx="153.05" cy="95.81" r="0.85"/>
<circle cx="148.77" cy="96.07" r="0.85"/>
<circle cx="71.84" cy="96.15" r="0.85"/>
<circle cx="161.58" cy="95.79" r="0.85"/>
<circle cx="198.72" cy="95.09" r="0.85"/>
<circle cx="78.42" cy="95.43" r="0.85"/>
<circle cx="123.75" cy="95.89" r="0.85"/>
<circle cx="223.12" cy="95.6" r="0.85"/>
<circle cx="206.99" cy="95.9" r="0.85"/>
<circle cx="121.21" cy="95.76" r="0.85"/>
<circle cx="260.67" cy="95.87" r="0.85"/>
<circle cx="132.61" cy="96.04" r="0.85"/>
<circle cx="195.94" cy="95.61" r="0.85"/>
<circle cx="130.83" cy="95.71" r="0.85"/>
<circle cx="55.62" cy="96.1" r="0.85"/>
<circle cx="244.39" cy="95.68" r="0.85"/>
<circle cx="136.44" cy="95.97" r="0.85"/>
<circle cx="202.12" cy="95.77" r="0.85"/>
<circle cx="144.32" cy="96.09" r="0.85"/>
<circle cx="208.03" cy="95.25" r="0.85"/>
<circle cx="96.87" cy="95.17" r="0.85"/>
<circle cx="158.8" cy="95.34" r="0.85"/>
<circle cx="174" cy="95.79" r="0.85"/>
<circle cx="107.66" cy="95.49" r="0.85"/>
<circle cx="97.45" cy="95.22" r="0.85"/>
<circle cx="147.31" cy="95.76" r="0.85"/>
<circle cx="135.67" cy="95.81" r="0.85"/>
<circle cx="59.75" cy="95.69" r="0.85"/>
<circle cx="234.74" cy="95.84" r="0.85"/>
<circle cx="152.65" cy="96.11" r="0.85"/>
<circle cx="175.67" cy="95.36" r="0.85"/>
<circle cx="245.99" cy="95.52" r="0.85"/>
<circle cx="126.61" cy="95.99" r="0.85"/>
<circle cx="252.51" cy="95.88" r="0.85"/>
<circle cx="201.15" cy="95.21" r="0.85"/>
<circle cx="232.64" cy="94.8" r="0.85"/>
<circle cx="163.83" cy="95.61" r="0.85"/>
<circle cx="157.61" cy="96.13" r="0.85"/>
<circle cx="162.02" cy="95.5" r="0.85"/>
<circle cx="225.69" cy="95.33" r="0.85"/>
<circle cx="86.41" cy="95.95" r="0.85"/>
<circle cx="140.36" cy="95.94" r="0.85"/>
<circle cx="267.78" cy="95.66" r="0.85"/>
<circle cx="270.17" cy="95.46" r="0.85"/>
<circle cx="205.68" cy="96.14" r="0.85"/>
<circle cx="137.92" cy="96.2" r="0.85"/>
<circle cx="240.33" cy="95.94" r="0.85"/>
<circle cx="72.64" cy="95.54" r="0.85"/>
<circle cx="126.91" cy="95.34" r="0.85"/>
<circle cx="56.27" cy="95.28" r="0.85"/>
<circle cx="254.46" cy="95.68" r="0.85"/>
<circle cx="194.96" cy="95.47" r="0.85"/>
<circle cx="104.53" cy="96.2" r="0.85"/>
<circle cx="224.26" cy="96.13" r="0.85"/>
<circle cx="90.83" cy="95.05" r="0.85"/>
<circle cx="139.39" cy="95.11" r="0.85"/>
<circle cx="68.58" cy="95.92" r="0.85"/>
<circle cx="154.84" cy="95.82" r="0.85"/>
<circle cx="140.51" cy="95.8" r="0.85"/>
<circle cx="138.85" cy="95.21" r="0.85"/>
<circle cx="165.66" cy="95.73" r="0.85"/>
<circle cx="231.95" cy="95.98" r="0.85"/>
<circle cx="156.99" cy="95.81" r="0.85"/>
<circle cx="222.35" cy="94.94" r="0.85"/>
<circle cx="235.5" cy="95.99" r="0.85"/>
<circle cx="215.45" cy="95.96" r="0.85"/>
<circle cx="210.58" cy="96.16" r="0.85"/>
<circle cx="112.37" cy="95.03" r="0.85"/>
<circle cx="143.31" cy="96.03" r="0.85"/>
<circle cx="201.18" cy="95.22" r="0.85"/>
<circle cx="227.56" cy="96.18" r="0.85"/>
<circle cx="197.64" cy="95.53" r="0.85"/>
<circle cx="63" cy="95.48" r="0.85"/>
<circle cx="114.58" cy="95.42" r="0.85"/>
<circle cx="93.31" cy="95.9" r="0.85"/>
<circle cx="131.53" cy="95.97" r="0.85"/>
<circle cx="173.22" cy="96.07" r="0.85"/>
<circle cx="109.81" cy="94.89" r="0.85"/>
<circle cx="218.46" cy="95.6" r="0.85"/>
<circle cx="70.23" cy="95.69" r="0.85"/>
<circle cx="183.35" cy="96.02" r="0.85"/>
<circle cx="151.6" cy="96.13" r="0.85"/>
<circle cx="170.2" cy="95.77" r="0.85"/>
<circle cx="113.95" cy="95.23" r="0.85"/>
<circle cx="228.76" cy="95.82" r="0.85"/>
<circle cx="63.6" cy="95.67" r="0.85"/>
<circle cx="99.8" cy="96.04" r="0.85"/>
<circle cx="272.39" cy="95.72" r="0.85"/>
<circle cx="174.59" cy="95.54" r="0.85"/>
<circle cx="66.88" cy="96.09" r="0.85"/>
<circle cx="263.18" cy="95.72" r="0.85"/>
<circle cx="148" cy="94.94" r="0.85"/>
<circle cx="92.21" cy="95.89" r="0.85"/>
<circle cx="228.99" cy="96.1" r="0.85"/>
<circle cx="205.24" cy="96.09" r="0.85"/>
<circle cx="106.09" cy="96.08" r="0.85"/>
<circle cx="211.38" cy="96.04" r="0.85"/>
<circle cx="154.96" cy="95.37" r="0.85"/>
<circle cx="60.24" cy="96.16" r="0.85"/>
<circle cx="119.51" cy="94.96" r="0.85"/>
<circle cx="105.63" cy="95.98" r="0.85"/>
<circle cx="147.66" cy="96.05" r="0.85"/>
<circle cx="89.14" cy="95.96" r="0.85"/>
<circle cx="98.71" cy="95.66" r="0.85"/>
<circle cx="91" cy="96.12" r="0.85"/>
<circle cx="99.79" cy="95.87" r="0.85"/>
<circle cx="241.61" cy="96.17" r="0.85"/>
<circle cx="75.65" cy="95.59" r="0.85"/>
<circle cx="166.03" cy="95.71" r="0.85"/>
<circle cx="228.85" cy="95.75" r="0.85"/>
<circle cx="165.59" cy="95.2" r="0.85"/>
<circle cx="156.15" cy="95.96" r="0.85"/>
<circle cx="90.8" cy="95.9" r="0.85"/>
<circle cx="113.94" cy="94.97" r="0.85"/>
<circle cx="229.18" cy="95.38" r="0.85"/>
<circle cx="100.71" cy="95.96" r="0.85"/>
<circle cx="124.54" cy="95.41" r="0.85"/>
<circle cx="138.08" cy="96.19" r="0.85"/>
<circle cx="205.04" cy="95.87" r="0.85"/>
<circle cx="244.71" cy="95.74" r="0.85"/>
<circle cx="155.49" cy="95.94" r="0.85"/>
<circle cx="108.16" cy="95.48" r="0.85"/>
<circle cx="70.28" cy="95.75" r="0.85"/>
<circle cx="202.29" cy="95.6" r="0.85"/>
<circle cx="117" cy="95.59" r="0.85"/>
<circle cx="146.1" cy="95.49" r="0.85"/>
<circle cx="75.25" cy="96.14" r="0.85"/>
<circle cx="77.92" cy="96.1" r="0.85"/>
<circle cx="252.04" cy="95.67" r="0.85"/>
<circle cx="256.13" cy="95.75" r="0.85"/>
<circle cx="106.91" cy="95.82" r="0.85"/>
<circle cx="155.53" cy="96.04" r="0.85"/>
<circle cx="268.72" cy="96.14" r="0.85"/>
<circle cx="127.42" cy="95.76" r="0.85"/>
<circle cx="58.05" cy="94.83" r="0.85"/>
<circle cx="71.92" cy="95.82" r="0.85"/>
<circle cx="208" cy="95.14" r="0.85"/>
<circle cx="242.25" cy="96.06" r="0.85"/>
<circle cx="127.63" cy="95.67" r="0.85"/>
<circle cx="261.79" cy="94.9" r="0.85"/>
<circle cx="133.27" cy="95.79" r="0.85"/>
<circle cx="264.79" cy="95.61" r="0.85"/>
<circle cx="74.2" cy="95.2" r="0.85"/>
<circle cx="202.92" cy="95.2" r="0.85"/>
<circle cx="181.14" cy="95.56" r="0.85"/>
<circle cx="259.52" cy="95.53" r="0.85"/>
<circle cx="98.67" cy="96.1" r="0.85"/>
<circle cx="131.21" cy="95.38" r="0.85"/>
<circle cx="103.58" cy="95.81" r="0.85"/>
<circle cx="271.29" cy="96.16" r="0.85"/>
<circle cx="120.65" cy="95.74" r="0.85"/>
<circle cx="76.3" cy="95.92" r="0.85"/>
<circle cx="240.69" cy="95.99" r="0.85"/>
<circle cx="186.8" cy="95.92" r="0.85"/>
<circle cx="209.35" cy="95.61" r="0.85"/>
<circle cx="140.47" cy="95.56" r="0.85"/>
<circle cx="119.95" cy="95.76" r="0.85"/>
<circle cx="256.23" cy="96.14" r="0.85"/>
<circle cx="135.1" cy="95.79" r="0.85"/>
<circle cx="164.09" cy="95.96" r="0.85"/>
<circle cx="132.79" cy="95.94" r="0.85"/>
<circle cx="130.98" cy="95.88" r="0.85"/>
<circle cx="265.29" cy="95.66" r="0.85"/>
<circle cx="234.99" cy="94.95" r="0.85"/>
<circle cx="218.17" cy="95.78" r="0.85"/>
<circle cx="241.33" cy="95.39" r="0.85"/>
<circle cx="213.18" cy="95.53" r="0.85"/>
<circle cx="116.93" cy="95.99" r="0.85"/>
<circle cx="102.63" cy="95.77" r="0.85"/>
<circle cx="152.66" cy="95.58" r="0.85"/>
<circle cx="228.2" cy="96.16" r="0.85"/>
<circle cx="264.64" cy="95.13" r="0.85"/>
<circle cx="120.01" cy="96.06" r="0.85"/>
<circle cx="253.96" cy="95.38" r="0.85"/>
<circle cx="129.05" cy="95.62" r="0.85"/>
<circle cx="240.7" cy="95.55" r="0.85"/>
<circle cx="234.18" cy="95.99" r="0.85"/>
<circle cx="159.28" cy="96.02" r="0.85"/>
<circle cx="140.56" cy="94.9" r="0.85"/>
<circle cx="173.32" cy="95.73" r="0.85"/>
<circle cx="174.44" cy="95.52" r="0.85"/>
<circle cx="275.6" cy="95.5" r="0.85"/>
<circle cx="63.34" cy="95.84" r="0.85"/>
<circle cx="173.26" cy="96.19" r="0.85"/>
<circle cx="237.58" cy="95.87" r="0.85"/>
<circle cx="213.68" cy="95.95" r="0.85"/>
<circle cx="174.71" cy="96.04" r="0.85"/>
<circle cx="238" cy="95.49" r="0.85"/>
<circle cx="257.51" cy="96.1" r="0.85"/>
<circle cx="229.7" cy="95.41" r="0.85"/>
<circle cx="134" cy="95.99" r="0.85"/>
<circle cx="129.31" cy="96.16" r="0.85"/>
<circle cx="106.52" cy="95.6" r="0.85"/>
<circle cx="79.12" cy="96.03" r="0.85"/>
<circle cx="150" cy="95.61" r="0.85"/>
<circle cx="118.32" cy="95.55" r="0.85"/>
<circle cx="222.63" cy="95.51" r="0.85"/>
<circle cx="187.73" cy="95.79" r="0.85"/>
<circle cx="178.94" cy="95.97" r="0.85"/>
<circle cx="114.5" cy="96.07" r="0.85"/>
<circle cx="207.91" cy="95.9" r="0.85"/>
<circle cx="269.05" cy="96.14" r="0.85"/>
<circle cx="236.47" cy="96.15" r="0.85"/>
<circle cx="258.85" cy="95.03" r="0.85"/>
<circle cx="172.39" cy="95.46" r="0.85"/>
<circle cx="258.99" cy="96.02" r="0.85"/>
<circle cx="189.01" cy="96.08" r="0.85"/>
<circle cx="182.18" cy="95.62" r="0.85"/>
<circle cx="256.37" cy="95.81" r="0.85"/>
<circle cx="219.03" cy="95.8" r="0.85"/>
<circle cx="69.72" cy="96.03" r="0.85"/>
<circle cx="158.15" cy="96.19" r="0.85"/>
<circle cx="120.9" cy="94.86" r="0.85"/>
<circle cx="238.47" cy="95.89" r="0.85"/>
<circle cx="119.78" cy="95.43" r="0.85"/>
<circle cx="244.46" cy="96.05" r="0.85"/>
<circle cx="238.13" cy="95.39" r="0.85"/>
<circle cx="122.45" cy="95.73" r="0.85"/>
<circle cx="200.49" cy="96.16" r="0.85"/>
<circle cx="250.68" cy="96.2" r="0.85"/>
<circle cx="220.9" cy="96.13" r="0.85"/>
<circle cx="140.92" cy="96.04" r="0.85"/>
<circle cx="254.7" cy="95.68" r="0.85"/>
<circle cx="258.83" cy="96.17" r="0.85"/>
<circle cx="91.98" cy="96.13" r="0.85"/>
<circle cx="122.99" cy="95.04" r="0.85"/>
<circle cx="165.6" cy="95.94" r="0.85"/>
<circle cx="222.82" cy="94.93" r="0.85"/>
<circle cx="87.31" cy="96.15" r="0.85"/>
<circle cx="233.13" cy="96.02" r="0.85"/>
<circle cx="248.6" cy="96.19" r="0.85"/>
<circle cx="136.75" cy="95.69" r="0.85"/>
<circle cx="94.25" cy="95.62" r="0.85"/>
<circle cx="106.37" cy="96.01" r="0.85"/>
<circle cx="139.69" cy="95.67" r="0.85"/>
<circle cx="159.65" cy="95.56" r="0.85"/>
<circle cx="199.94" cy="95.39" r="0.85"/>
<circle cx="252.09" cy="96.14" r="0.85"/>
<circle cx="254.72" cy="95.8" r="0.85"/>
<circle cx="232.75" cy="95.77" r="0.85"/>
<circle cx="172.19" cy="95.32" r="0.85"/>
<circle cx="188.23" cy="96.13" r="0.85"/>
<circle cx="230.18" cy="95.92" r="0.85"/>
<circle cx="239.91" cy="96.12" r="0.85"/>
<circle cx="108.01" cy="95.8" r="0.85"/>
<circle cx="112.26" cy="96.11" r="0.85"/>
<circle cx="60.32" cy="96.06" r="0.85"/>
<circle cx="182.8" cy="95.86" r="0.85"/>
<circle cx="227.17" cy="96.11" r="0.85"/>
<circle cx="103.99" cy="95.5" r="0.85"/>
<circle cx="82.17" cy="95.75" r="0.85"/>
<circle cx="106.53" cy="95.38" r="0.85"/>
<circle cx="264.63" cy="95.52" r="0.85"/>
<circle cx="180.48" cy="95.91" r="0.85"/>
<circle cx="209.29" cy="96.18" r="0.85"/>
<circle cx="129.83" cy="95.5" r="0.85"/>
<circle cx="99.71" cy="95.81" r="0.85"/>
<circle cx="196.17" cy="95.84" r="0.85"/>
<circle cx="64.9" cy="96.01" r="0.85"/>
<circle cx="140.05" cy="95.72" r="0.85"/>
<circle cx="187.28" cy="95.82" r="0.85"/>
<circle cx="237.02" cy="96.2" r="0.85"/>
<circle cx="205.09" cy="95.92" r="0.85"/>
<circle cx="189.49" cy="95.41" r="0.85"/>
<circle cx="71.82" cy="96.15" r="0.85"/>
<circle cx="161.76" cy="96.06" r="0.85"/>
<circle cx="225.28" cy="94.8" r="0.85"/>
<circle cx="58.07" cy="94.99" r="0.85"/>
<circle cx="124.64" cy="96.14" r="0.85"/>
<circle cx="101.74" cy="95.7" r="0.85"/>
<circle cx="144.51" cy="96" r="0.85"/>
<circle cx="63.68" cy="95.69" r="0.85"/>
<circle cx="275.33" cy="95.89" r="0.85"/>
<circle cx="135.1" cy="95.4" r="0.85"/>
<circle cx="95.71" cy="95.82" r="0.85"/>
<circle cx="244.49" cy="96.16" r="0.85"/>
<circle cx="229.88" cy="95.98" r="0.85"/>
<circle cx="59.23" cy="95.55" r="0.85"/>
<circle cx="218.55" cy="95.56" r="0.85"/>
<circle cx="124.75" cy="95.19" r="0.85"/>
<circle cx="101.76" cy="95.64" r="0.85"/>
<circle cx="80.59" cy="96.03" r="0.85"/>
<circle cx="74.36" cy="95.85" r="0.85"/>
<circle cx="225.51" cy="96.2" r="0.85"/>
<circle cx="202.27" cy="95.32" r="0.85"/>
<circle cx="189.96" cy="95.44" r="0.85"/>
<circle cx="210.42" cy="95.42" r="0.85"/>
<circle cx="115.03" cy="95.82" r="0.85"/>
<circle cx="80.46" cy="95.73" r="0.85"/>
<circle cx="200.13" cy="95.92" r="0.85"/>
<circle cx="137.48" cy="96.12" r="0.85"/>
<circle cx="101.19" cy="96.14" r="0.85"/>
<circle cx="184.13" cy="95.76" r="0.85"/>
<circle cx="64.03" cy="95.88" r="0.85"/>
<circle cx="275.42" cy="95.24" r="0.85"/>
<circle cx="216.49" cy="95.74" r="0.85"/>
<circle cx="199.88" cy="95.92" r="0.85"/>
<circle cx="193.6" cy="96.19" r="0.85"/>
<circle cx="78.82" cy="95.65" r="0.85"/>
<circle cx="60.04" cy="95.4" r="0.85"/>
<circle cx="228.21" cy="95.9" r="0.85"/>
<circle cx="220.94" cy="95.82" r="0.85"/>
<circle cx="83.09" cy="95.99" r="0.85"/>
<circle cx="208.38" cy="95.51" r="0.85"/>
<circle cx="167.12" cy="95.2" r="0.85"/>
<circle cx="196.44" cy="96.19" r="0.85"/>
<circle cx="69.68" cy="95.62" r="0.85"/>
<circle cx="244.3" cy="95.12" r="0.85"/>
<circle cx="240.81" cy="95.3" r="0.85"/>
<circle cx="183.16" cy="95.99" r="0.85"/>
<circle cx="218.56" cy="95.6" r="0.85"/>
<circle cx="165.52" cy="95.66" r="0.85"/>
<circle cx="202.21" cy="95.59" r="0.85"/>
<circle cx="60.58" cy="95.04" r="0.85"/>
<circle cx="94.88" cy="95.89" r="0.85"/>
<circle cx="214.5" cy="94.99" r="0.85"/>
<circle cx="158.52" cy="94.92" r="0.85"/>
<circle cx="168.29" cy="96.12" r="0.85"/>
<circle cx="138.26" cy="96" r="0.85"/>
<circle cx="194.42" cy="95.86" r="0.85"/>
<circle cx="131.9" cy="96.16" r="0.85"/>
<circle cx="209.86" cy="95.9" r="0.85"/>
<circle cx="183.15" cy="96.16" r="0.85"/>
<circle cx="222.63" cy="95.67" r="0.85"/>
<circle cx="214.84" cy="95.4" r="0.85"/>
<circle cx="130.5" cy="95.65" r="0.85"/>
<circle cx="140.83" cy="95.76" r="0.85"/>
<circle cx="254.34" cy="95.93" r="0.85"/>
<circle cx="240" cy="96.03" r="0.85"/>
<circle cx="218.11" cy="95.88" r="0.85"/>
<circle cx="86.69" cy="95.29" r="0.85"/>
<circle cx="182.93" cy="96.11" r="0.85"/>
<circle cx="88.12" cy="95.53" r="0.85"/>
<circle cx="131.97" cy="94.8" r="0.85"/>
<circle cx="222.45" cy="95.36" r="0.85"/>
<circle cx="135.7" cy="94.8" r="0.85"/>
<circle cx="74.56" cy="96.16" r="0.85"/>
<circle cx="227.11" cy="96" r="0.85"/>
<circle cx="136.21" cy="95.46" r="0.85"/>
<circle cx="121.05" cy="95.29" r="0.85"/>
<circle cx="259.44" cy="96.04" r="0.85"/>
<circle cx="246.53" cy="95.79" r="0.85"/>
<circle cx="211.29" cy="95.79" r="0.85"/>
<circle cx="174.41" cy="96.17" r="0.85"/>
<circle cx="136.66" cy="95.45" r="0.85"/>
<circle cx="255.49" cy="95.85" r="0.85"/>
<circle cx="226.81" cy="95.93" r="0.85"/>
<circle cx="95.91" cy="95.92" r="0.85"/>
<circle cx="182.56" cy="95.87" r="0.85"/>
<circle cx="108.91" cy="95.1" r="0.85"/>
<circle cx="127.25" cy="96.05" r="0.85"/>
<circle cx="59.81" cy="95.64" r="0.85"/>
<circle cx="189.12" cy="95.98" r="0.85"/>
<circle cx="120.41" cy="95.91" r="0.85"/>
<circle cx="276.24" cy="95.37" r="0.85"/>
<circle cx="92.76" cy="96.06" r="0.85"/>
<circle cx="155.32" cy="95.75" r="0.85"/>
<circle cx="162" cy="95.89" r="0.85"/>
<circle cx="250.19" cy="96.1" r="0.85"/>
<circle cx="69.1" cy="96.05" r="0.85"/>
<circle cx="274.45" cy="96.11" r="0.85"/>
<circle cx="105.12" cy="95.84" r="0.85"/>
<circle cx="209.92" cy="95.26" r="0.85"/>
<circle cx="133.44" cy="95.23" r="0.85"/>
<circle cx="121.05" cy="95.76" r="0.85"/>
<circle cx="111.75" cy="95.84" r="0.85"/>
<circle cx="56.8" cy="95.39" r="0.85"/>
<circle cx="230.53" cy="96" r="0.85"/>
<circle cx="187.44" cy="95.69" r="0.85"/>
<circle cx="203.64" cy="95.55" r="0.85"/>
<circle cx="218.44" cy="95.39" r="0.85"/>
<circle cx="270.92" cy="94.8" r="0.85"/>
<circle cx="182.37" cy="95.65" r="0.85"/>
<circle cx="116.14" cy="95.56" r="0.85"/>
<circle cx="198.54" cy="96.07" r="0.85"/>
<circle cx="119.22" cy="95.08" r="0.85"/>
<circle cx="78.46" cy="95.98" r="0.85"/>
<circle cx="79.58" cy="95.87" r="0.85"/>
<circle cx="225.02" cy="95.69" r="0.85"/>
<circle cx="140.15" cy="95.96" r="0.85"/>
<circle cx="244.19" cy="95.03" r="0.85"/>
<circle cx="129.89" cy="94.88" r="0.85"/>
<circle cx="207.84" cy="95.61" r="0.85"/>
<circle cx="275.54" cy="96.13" r="0.85"/>
<circle cx="202.92" cy="95.86" r="0.85"/>
<circle cx="71.07" cy="95.74" r="0.85"/>
<circle cx="226.95" cy="95.1" r="0.85"/>
<circle cx="113.44" cy="96.15" r="0.85"/>
<circle cx="173.69" cy="95.78" r="0.85"/>
<circle cx="221.51" cy="95.5" r="0.85"/>
<circle cx="234.66" cy="95.73" r="0.85"/>
<circle cx="164.91" cy="94.99" r="0.85"/>
<circle cx="228.63" cy="95.79" r="0.85"/>
<circle cx="107.22" cy="95.58" r="0.85"/>
<circle cx="206.74" cy="95.36" r="0.85"/>
<circle cx="245.31" cy="96.16" r="0.85"/>
<circle cx="264.7" cy="95.77" r="0.85"/>
<circle cx="274.02" cy="95.59" r="0.85"/>
<circle cx="218.44" cy="95.98" r="0.85"/>
<circle cx="149.32" cy="96.14" r="0.85"/>
<circle cx="65.2" cy="95.63" r="0.85"/>
<circle cx="78.14" cy="95.66" r="0.85"/>
<circle cx="104.23" cy="95.07" r="0.85"/>
<circle cx="128.09" cy="95.51" r="0.85"/>
<circle cx="263.08" cy="96.16" r="0.85"/>
<circle cx="199.73" cy="95.58" r="0.85"/>
<circle cx="237.71" cy="96.14" r="0.85"/>
<circle cx="72.49" cy="95.59" r="0.85"/>
<circle cx="92.83" cy="96.05" r="0.85"/>
<circle cx="259.63" cy="96.2" r="0.85"/>
<circle cx="147.2" cy="96.13" r="0.85"/>
<circle cx="224.38" cy="95.81" r="0.85"/>
<circle cx="93.78" cy="95.77" r="0.85"/>
<circle cx="266.56" cy="95.46" r="0.85"/>
<circle cx="238.93" cy="95.97" r="0.85"/>
<circle cx="121.85" cy="96.1" r="0.85"/>
<circle cx="88.68" cy="95.9" r="0.85"/>
<circle cx="69.7" cy="96.1" r="0.85"/>
<circle cx="214.2" cy="95.43" r="0.85"/>
<circle cx="210.14" cy="95.87" r="0.85"/>
<circle cx="240.86" cy="95.78" r="0.85"/>
<circle cx="243.4" cy="96.07" r="0.85"/>
<circle cx="261.32" cy="95.98" r="0.85"/>
<circle cx="64.63" cy="96.09" r="0.85"/>
<circle cx="141.51" cy="96.18" r="0.85"/>
<circle cx="94.36" cy="94.8" r="0.85"/>
<circle cx="224.15" cy="95.1" r="0.85"/>
<circle cx="112.48" cy="95.55" r="0.85"/>
<circle cx="224.69" cy="95.97" r="0.85"/>
<circle cx="85.3" cy="96.12" r="0.85"/>
<circle cx="273.31" cy="95.86" r="0.85"/>
<circle cx="70.55" cy="95.51" r="0.85"/>
<circle cx="138.67" cy="95.65" r="0.85"/>
<circle cx="120.74" cy="96.16" r="0.85"/>
<circle cx="59.38" cy="95.93" r="0.85"/>
<circle cx="246.43" cy="96.06" r="0.85"/>
<circle cx="207.01" cy="95.75" r="0.85"/>
<circle cx="98.3" cy="96.04" r="0.85"/>
<circle cx="255.08" cy="95.35" r="0.85"/>
<circle cx="153.58" cy="95.89" r="0.85"/>
<circle cx="262.69" cy="94.84" r="0.85"/>
<circle cx="120.81" cy="95.88" r="0.85"/>
<circle cx="141.77" cy="95.38" r="0.85"/>
<circle cx="157.78" cy="95.96" r="0.85"/>
<circle cx="59.24" cy="96.06" r="0.85"/>
<circle cx="209.85" cy="95.37" r="0.85"/>
<circle cx="89.11" cy="95.36" r="0.85"/>
<circle cx="187.64" cy="95.53" r="0.85"/>
<circle cx="159.97" cy="95.69" r="0.85"/>
<circle cx="187.32" cy="95.7" r="0.85"/>
<circle cx="248.15" cy="95.98" r="0.85"/>
<circle cx="146.34" cy="96.1" r="0.85"/>
<circle cx="248.7" cy="95.85" r="0.85"/>
<circle cx="244.43" cy="96.08" r="0.85"/>
<circle cx="118.67" cy="95.36" r="0.85"/>
<circle cx="248.71" cy="95.94" r="0.85"/>
<circle cx="136.69" cy="95.26" r="0.85"/>
<circle cx="154.66" cy="95.77" r="0.85"/>
<circle cx="104.24" cy="96.1" r="0.85"/>
<circle cx="114.33" cy="96.15" r="0.85"/>
<circle cx="169.7" cy="95.9" r="0.85"/>
<circle cx="228.63" cy="95.71" r="0.85"/>
<circle cx="153.78" cy="96.03" r="0.85"/>
<circle cx="85.71" cy="95.95" r="0.85"/>
<circle cx="180.3" cy="96.04" r="0.85"/>
<circle cx="253.59" cy="95.97" r="0.85"/>
<circle cx="81.9" cy="95.68" r="0.85"/>
<circle cx="177.33" cy="95.81" r="0.85"/>
<circle cx="90.59" cy="95.24" r="0.85"/>
<circle cx="210.73" cy="95.9" r="0.85"/>
<circle cx="234.29" cy="95.52" r="0.85"/>
<circle cx="240.28" cy="96.06" r="0.85"/>
<circle cx="203.78" cy="95.95" r="0.85"/>
<circle cx="145.22" cy="95.77" r="0.85"/>
<circle cx="251.08" cy="95.86" r="0.85"/>
<circle cx="139.54" cy="95.94" r="0.85"/>
<circle cx="93.52" cy="96.1" r="0.85"/>
<circle cx="253.23" cy="96.05" r="0.85"/>
<circle cx="220.71" cy="95.86" r="0.85"/>
<circle cx="63.13" cy="95.89" r="0.85"/>
<circle cx="161.61" cy="96.03" r="0.85"/>
<circle cx="61.72" cy="95.98" r="0.85"/>
<circle cx="130.16" cy="96.13" r="0.85"/>
<circle cx="98.33" cy="95.4" r="0.85"/>
<circle cx="143.38" cy="95.75" r="0.85"/>
<circle cx="203.26" cy="96.1" r="0.85"/>
<circle cx="69.21" cy="96.17" r="0.85"/>
<circle cx="263.18" cy="96.07" r="0.85"/>
<circle cx="260.09" cy="95.06" r="0.85"/>
<circle cx="189.8" cy="96.04" r="0.85"/>
<circle cx="134.12" cy="95.61" r="0.85"/>
<circle cx="104.49" cy="95.57" r="0.85"/>
<circle cx="167.95" cy="96.05" r="0.85"/>
<circle cx="142.58" cy="96.03" r="0.85"/>
<circle cx="196.1" cy="95.75" r="0.85"/>
<circle cx="191.71" cy="95.81" r="0.85"/>
<circle cx="191.59" cy="96.16" r="0.85"/>
<circle cx="138.73" cy="95.23" r="0.85"/>
<circle cx="265.49" cy="95.7" r="0.85"/>
<circle cx="57.35" cy="95.24" r="0.85"/>
<circle cx="246.26" cy="95.5" r="0.85"/>
<circle cx="236.76" cy="95.95" r="0.85"/>
<circle cx="256.32" cy="95.66" r="0.85"/>
<circle cx="153.82" cy="95.86" r="0.85"/>
<circle cx="102.98" cy="95.76" r="0.85"/>
<circle cx="113.38" cy="95.36" r="0.85"/>
<circle cx="233.94" cy="95.87" r="0.85"/>
<circle cx="275.3" cy="96.16" r="0.85"/>
<circle cx="223.34" cy="95.98" r="0.85"/>
<circle cx="80.1" cy="95.75" r="0.85"/>
<circle cx="264.84" cy="96.18" r="0.85"/>
<circle cx="258.11" cy="95.66" r="0.85"/>
<circle cx="169.04" cy="93.12" r="0.85"/>
<circle cx="154.59" cy="94.69" r="0.85"/>
<circle cx="158.77" cy="95.34" r="0.85"/>
<circle cx="156.72" cy="93.76" r="0.85"/>
<circle cx="149.69" cy="95.29" r="0.85"/>
<circle cx="120.12" cy="95.51" r="0.85"/>
<circle cx="165.86" cy="95.46" r="0.85"/>
<circle cx="124.09" cy="95.33" r="0.85"/>
<circle cx="148.55" cy="94.14" r="0.85"/>
<circle cx="168.24" cy="93.2" r="0.85"/>
<circle cx="173.28" cy="93.1" r="0.85"/>
<circle cx="144.76" cy="95.7" r="0.85"/>
<circle cx="172.57" cy="95.4" r="0.85"/>
<circle cx="154.22" cy="95.27" r="0.85"/>
<circle cx="164.93" cy="95.5" r="0.85"/>
<circle cx="143.14" cy="95.43" r="0.85"/>
<circle cx="167.33" cy="94.03" r="0.85"/>
<circle cx="154.7" cy="95.1" r="0.85"/>
<circle cx="129.71" cy="93.19" r="0.85"/>
<circle cx="162.05" cy="93.62" r="0.85"/>
<circle cx="174.84" cy="94.24" r="0.85"/>
<circle cx="129.82" cy="94.06" r="0.85"/>
<circle cx="135.8" cy="94.4" r="0.85"/>
<circle cx="145.26" cy="94.22" r="0.85"/>
<circle cx="170.68" cy="93.36" r="0.85"/>
<circle cx="142.83" cy="93.33" r="0.85"/>
<circle cx="167.33" cy="93.48" r="0.85"/>
<circle cx="150.33" cy="93.05" r="0.85"/>
<circle cx="147.06" cy="95.83" r="0.85"/>
<circle cx="134.97" cy="93.89" r="0.85"/>
<circle cx="140.85" cy="94.72" r="0.85"/>
<circle cx="142.12" cy="95.53" r="0.85"/>
<circle cx="125.14" cy="96.03" r="0.85"/>
<circle cx="156.99" cy="95.06" r="0.85"/>
<circle cx="145.13" cy="92.92" r="0.85"/>
<circle cx="154.47" cy="93.36" r="0.85"/>
<circle cx="161.93" cy="92.85" r="0.85"/>
<circle cx="123.68" cy="94.85" r="0.85"/>
<circle cx="172.23" cy="94.57" r="0.85"/>
<circle cx="172.13" cy="95.55" r="0.85"/>
<circle cx="123.31" cy="93.06" r="0.85"/>
<circle cx="142.62" cy="94.42" r="0.85"/>
<circle cx="171.5" cy="95.43" r="0.85"/>
<circle cx="173.25" cy="94.81" r="0.85"/>
<circle cx="133.61" cy="95.38" r="0.85"/>
<circle cx="148.51" cy="94.56" r="0.85"/>
<circle cx="168.74" cy="96.02" r="0.85"/>
<circle cx="122.42" cy="95.66" r="0.85"/>
<circle cx="153.31" cy="93.46" r="0.85"/>
<circle cx="146.39" cy="94.05" r="0.85"/>
<circle cx="155.34" cy="96.13" r="0.85"/>
<circle cx="133.55" cy="92.7" r="0.85"/>
<circle cx="138.19" cy="92.88" r="0.85"/>
<circle cx="147.08" cy="95.42" r="0.85"/>
<circle cx="120.13" cy="95.44" r="0.85"/>
<circle cx="137.68" cy="94.66" r="0.85"/>
<circle cx="144.59" cy="94.28" r="0.85"/>
<circle cx="146.08" cy="96.08" r="0.85"/>
<circle cx="134.68" cy="92.83" r="0.85"/>
<circle cx="121.51" cy="93.62" r="0.85"/>
<circle cx="146.2" cy="93.72" r="0.85"/>
<circle cx="138.29" cy="94.9" r="0.85"/>
<circle cx="148.42" cy="93.01" r="0.85"/>
<circle cx="138.06" cy="95.9" r="0.85"/>
<circle cx="122.1" cy="93.11" r="0.85"/>
<circle cx="137.26" cy="95.78" r="0.85"/>
<circle cx="152.8" cy="93.24" r="0.85"/>
<circle cx="152.98" cy="95.67" r="0.85"/>
<circle cx="142.32" cy="95.27" r="0.85"/>
<circle cx="120.91" cy="92.81" r="0.85"/>
<circle cx="145.26" cy="95.73" r="0.85"/>
<circle cx="168.67" cy="92.74" r="0.85"/>
<circle cx="164.88" cy="95.31" r="0.85"/>
<circle cx="130.48" cy="94.36" r="0.85"/>
<circle cx="152.09" cy="93.12" r="0.85"/>
<circle cx="173.2" cy="93.01" r="0.85"/>
<circle cx="138.81" cy="94.15" r="0.85"/>
<circle cx="126.81" cy="94.38" r="0.85"/>
<circle cx="123.89" cy="95.81" r="0.85"/>
<circle cx="126.71" cy="95.14" r="0.85"/>
<circle cx="137.03" cy="93.73" r="0.85"/>
<circle cx="124.18" cy="95.81" r="0.85"/>
<circle cx="156.1" cy="93.84" r="0.85"/>
<circle cx="159.07" cy="93.67" r="0.85"/>
<circle cx="156.46" cy="94.26" r="0.85"/>
<circle cx="160.77" cy="95.91" r="0.85"/>
<circle cx="131.65" cy="93.6" r="0.85"/>
<circle cx="130.59" cy="94.34" r="0.85"/>
<circle cx="134.32" cy="94.69" r="0.85"/>
<circle cx="165.88" cy="93.88" r="0.85"/>
<circle cx="144.49" cy="95.24" r="0.85"/>
<circle cx="164.28" cy="93.9" r="0.85"/>
<circle cx="144.2" cy="93.15" r="0.85"/>
<circle cx="158.09" cy="92.76" r="0.85"/>
<circle cx="156.54" cy="93.04" r="0.85"/>
<circle cx="150.27" cy="93.71" r="0.85"/>
<circle cx="166.33" cy="95.88" r="0.85"/>
<circle cx="146.08" cy="94.08" r="0.85"/>
<circle cx="123.18" cy="93.43" r="0.85"/>
<circle cx="159.36" cy="92.92" r="0.85"/>
<circle cx="140.46" cy="94.55" r="0.85"/>
<circle cx="170.15" cy="94.76" r="0.85"/>
<circle cx="165.89" cy="94.72" r="0.85"/>
<circle cx="138.58" cy="95.23" r="0.85"/>
<circle cx="131.74" cy="94.69" r="0.85"/>
<circle cx="128.89" cy="93.3" r="0.85"/>
<circle cx="173.59" cy="95.86" r="0.85"/>
<circle cx="123.02" cy="96.19" r="0.85"/>
<circle cx="171.26" cy="95.94" r="0.85"/>
<circle cx="157.41" cy="95.13" r="0.85"/>
<circle cx="130.9" cy="95.34" r="0.85"/>
<circle cx="157.93" cy="96.14" r="0.85"/>
<circle cx="167.56" cy="94.21" r="0.85"/>
<circle cx="132.96" cy="95.47" r="0.85"/>
<circle cx="156.01" cy="93.99" r="0.85"/>
<circle cx="137.5" cy="95.03" r="0.85"/>
<circle cx="145.49" cy="93.01" r="0.85"/>
<circle cx="149.61" cy="93.25" r="0.85"/>
<circle cx="155.25" cy="94.23" r="0.85"/>
<circle cx="146.93" cy="93.81" r="0.85"/>
<circle cx="147.03" cy="93.65" r="0.85"/>
<circle cx="130.01" cy="95.07" r="0.85"/>
<circle cx="168.02" cy="94.81" r="0.85"/>
<circle cx="166.37" cy="92.91" r="0.85"/>
<circle cx="151.82" cy="95.84" r="0.85"/>
<circle cx="161.63" cy="93.86" r="0.85"/>
<circle cx="135.99" cy="93.17" r="0.85"/>
<circle cx="146.55" cy="96" r="0.85"/>
<circle cx="123.74" cy="95.4" r="0.85"/>
<circle cx="153.54" cy="93.34" r="0.85"/>
<circle cx="125.45" cy="96.12" r="0.85"/>
<circle cx="154.24" cy="94.76" r="0.85"/>
<circle cx="144.29" cy="93.32" r="0.85"/>
<circle cx="170.55" cy="92.81" r="0.85"/>
<circle cx="162.85" cy="96.19" r="0.85"/>
<circle cx="128.28" cy="94.14" r="0.85"/>
<circle cx="172.54" cy="95.91" r="0.85"/>
<circle cx="148.32" cy="94.81" r="0.85"/>
<circle cx="142.38" cy="95.26" r="0.85"/>
<circle cx="134.89" cy="95.36" r="0.85"/>
<circle cx="125.67" cy="94.26" r="0.85"/>
<circle cx="144.53" cy="93.7" r="0.85"/>
<circle cx="155.2" cy="92.86" r="0.85"/>
<circle cx="138.68" cy="93.1" r="0.85"/>
<circle cx="141.16" cy="93.88" r="0.85"/>
<circle cx="164.27" cy="94.81" r="0.85"/>
<circle cx="144.54" cy="93.99" r="0.85"/>
<circle cx="126.09" cy="94.33" r="0.85"/>
<circle cx="125.22" cy="95.41" r="0.85"/>
<circle cx="154.27" cy="92.79" r="0.85"/>
<circle cx="164.98" cy="92.67" r="0.85"/>
<circle cx="135.55" cy="92.03" r="0.85"/>
<circle cx="145.73" cy="92.37" r="0.85"/>
<circle cx="157.01" cy="91.55" r="0.85"/>
<circle cx="149.88" cy="91.77" r="0.85"/>
<circle cx="150.57" cy="91.64" r="0.85"/>
<circle cx="162.51" cy="90.97" r="0.85"/>
<circle cx="164.29" cy="91.18" r="0.85"/>
<circle cx="134.11" cy="92.19" r="0.85"/>
<circle cx="157.46" cy="92.58" r="0.85"/>
<circle cx="151.43" cy="93.17" r="0.85"/>
<circle cx="137.53" cy="92.32" r="0.85"/>
<circle cx="132.92" cy="92.26" r="0.85"/>
<circle cx="138.44" cy="91.18" r="0.85"/>
<circle cx="141.5" cy="92.37" r="0.85"/>
<circle cx="158.17" cy="91.93" r="0.85"/>
<circle cx="132.23" cy="92.77" r="0.85"/>
<circle cx="151.58" cy="92.82" r="0.85"/>
<circle cx="139.07" cy="91.77" r="0.85"/>
<circle cx="147.56" cy="92.64" r="0.85"/>
<circle cx="149.79" cy="91.74" r="0.85"/>
<circle cx="131.86" cy="92.63" r="0.85"/>
<circle cx="141.12" cy="91.14" r="0.85"/>
<circle cx="132.27" cy="92.45" r="0.85"/>
<circle cx="137.21" cy="91.59" r="0.85"/>
<circle cx="158.49" cy="93.17" r="0.85"/>
<circle cx="160.28" cy="91.59" r="0.85"/>
<circle cx="137.99" cy="91.04" r="0.85"/>
<circle cx="140.61" cy="91.36" r="0.85"/>
<circle cx="133.09" cy="92.18" r="0.85"/>
<circle cx="147.95" cy="91.09" r="0.85"/>
<circle cx="159.36" cy="91.96" r="0.85"/>
<circle cx="132.28" cy="92.25" r="0.85"/>
<circle cx="143.45" cy="90.85" r="0.85"/>
<circle cx="153.98" cy="92.31" r="0.85"/>
<circle cx="143.09" cy="91.41" r="0.85"/>
<circle cx="133.8" cy="91.29" r="0.85"/>
<circle cx="153.65" cy="92.23" r="0.85"/>
<circle cx="155.01" cy="92.33" r="0.85"/>
<circle cx="135.44" cy="92.28" r="0.85"/>
<circle cx="153.99" cy="87.26" r="0.85"/>
<circle cx="159.23" cy="86.3" r="0.85"/>
<circle cx="156.05" cy="86.67" r="0.85"/>
<circle cx="166.52" cy="88.58" r="0.85"/>
<circle cx="165.48" cy="86.89" r="0.85"/>
<circle cx="161.25" cy="84.41" r="0.85"/>
<circle cx="161.42" cy="84.97" r="0.85"/>
<circle cx="158.17" cy="86.3" r="0.85"/>
<circle cx="154.18" cy="86.76" r="0.85"/>
<circle cx="163.69" cy="84.53" r="0.85"/>
<circle cx="155.51" cy="87.42" r="0.85"/>
<circle cx="153.86" cy="87.48" r="0.85"/>
<circle cx="162.1" cy="84.33" r="0.85"/>
<circle cx="158.87" cy="85.66" r="0.85"/>
<circle cx="153.39" cy="87.26" r="0.85"/>
<circle cx="160.32" cy="85.29" r="0.85"/>
<circle cx="158.72" cy="85.61" r="0.85"/>
<circle cx="153.89" cy="86.57" r="0.85"/>
<circle cx="162.45" cy="84.38" r="0.85"/>
<circle cx="163.27" cy="83.87" r="0.85"/>
<circle cx="162.57" cy="83.25" r="0.85"/>
<circle cx="166.68" cy="87.59" r="0.85"/>
<circle cx="166.75" cy="89.15" r="0.85"/>
<circle cx="156.01" cy="86.59" r="0.85"/>
<circle cx="160.38" cy="84.8" r="0.85"/>
<circle cx="162.95" cy="83.59" r="0.85"/>
<circle cx="164.3" cy="85.51" r="0.85"/>
<circle cx="164.98" cy="85.85" r="0.85"/>
<circle cx="153.41" cy="86.81" r="0.85"/>
<circle cx="154.94" cy="87.05" r="0.85"/>
<circle cx="159" cy="90.2" r="0.85"/>
<circle cx="206.77" cy="90.13" r="0.85"/>
<circle cx="207.05" cy="89.41" r="0.85"/>
<circle cx="208.46" cy="88.26" r="0.85"/>
<circle cx="207.14" cy="90.22" r="0.85"/>
<circle cx="206.62" cy="88.04" r="0.85"/>
<circle cx="207.48" cy="89.13" r="0.85"/>
<circle cx="207.61" cy="87.57" r="0.85"/>
<circle cx="208.21" cy="89.59" r="0.85"/>
<circle cx="208.61" cy="88.82" r="0.85"/>
<circle cx="207.42" cy="87.23" r="0.85"/>
<circle cx="208.1" cy="89.27" r="0.85"/>
<circle cx="207.82" cy="90.37" r="0.85"/>
<circle cx="223.61" cy="93.13" r="0.85"/>
<circle cx="225.16" cy="93.3" r="0.85"/>
<circle cx="225.77" cy="91.97" r="0.85"/>
<circle cx="225.77" cy="92.31" r="0.85"/>
<circle cx="225.04" cy="93.41" r="0.85"/>
<circle cx="224.79" cy="92.67" r="0.85"/>
<circle cx="223.21" cy="92.69" r="0.85"/>
<circle cx="223.72" cy="92.28" r="0.85"/>
<circle cx="97.9" cy="86.2" r="0.85"/>
<circle cx="101.9" cy="85.2" r="0.85"/>
<circle cx="115.9" cy="82.2" r="0.85"/>
<circle cx="122.9" cy="74.6" r="0.85"/>
<circle cx="130.7" cy="67.6" r="0.85"/>
<circle cx="139.6" cy="64.7" r="0.85"/>
<circle cx="144" cy="62.8" r="0.85"/>
<circle cx="165.7" cy="35.5" r="0.85"/>
<circle cx="172.2" cy="48.4" r="0.85"/>
<circle cx="167.6" cy="58.9" r="0.85"/>
<circle cx="180.1" cy="70.4" r="0.85"/>
<circle cx="188.2" cy="88.5" r="0.85"/>
<circle cx="197" cy="86.6" r="0.85"/>
<circle cx="200.7" cy="87" r="0.85"/>
<circle cx="210.8" cy="84.8" r="0.85"/>
<circle cx="212.3" cy="84.5" r="0.85"/>
<circle cx="158.4" cy="90.3" r="0.85"/>
<circle cx="228" cy="92.8" r="0.85"/>
<circle cx="253" cy="92.5" r="0.85"/>
</g>
<line x1="44.8" y1="92.4" x2="287.5" y2="92.4" stroke="#000" stroke-width="0.7" stroke-dasharray="2,1.95"/>
<rect x="44.5" y="32.3" width="243" height="66.6" fill="none" stroke="#9a9a9a" stroke-width="0.8"/>
<text x="167" y="41" font-size="5.1" text-anchor="middle" fill="#000" font-weight="normal" font-style="normal">rs563555492</text>
<line x1="62.2" y1="98.9" x2="62.2" y2="100.1" stroke="#333" stroke-width="0.4"/>
<line x1="117.75" y1="98.9" x2="117.75" y2="100.1" stroke="#333" stroke-width="0.4"/>
<line x1="173.3" y1="98.9" x2="173.3" y2="100.1" stroke="#333" stroke-width="0.4"/>
<line x1="228.85" y1="98.9" x2="228.85" y2="100.1" stroke="#333" stroke-width="0.4"/>
<line x1="284.4" y1="98.9" x2="284.4" y2="100.1" stroke="#333" stroke-width="0.4"/>
<line x1="43.3" y1="96.2" x2="44.5" y2="96.2" stroke="#333" stroke-width="0.4"/>
<line x1="43.3" y1="75.56" x2="44.5" y2="75.56" stroke="#333" stroke-width="0.4"/>
<line x1="43.3" y1="54.93" x2="44.5" y2="54.93" stroke="#333" stroke-width="0.4"/>
<line x1="43.3" y1="34.3" x2="44.5" y2="34.3" stroke="#333" stroke-width="0.4"/>
<text x="42.3" y="97.7" font-size="4.3" text-anchor="end" fill="#4d4d4d" font-weight="normal" font-style="normal">0</text>
<text x="42.3" y="77.06" font-size="4.3" text-anchor="end" fill="#4d4d4d" font-weight="normal" font-style="normal">50</text>
<text x="42.3" y="56.43" font-size="4.3" text-anchor="end" fill="#4d4d4d" font-weight="normal" font-style="normal">100</text>
<text x="42.3" y="35.8" font-size="4.3" text-anchor="end" fill="#4d4d4d" font-weight="normal" font-style="normal">150</text>
<text x="62.2" y="104.5" font-size="4" text-anchor="middle" fill="#4d4d4d" font-weight="normal" font-style="normal">88250000</text>
<text x="117.75" y="104.5" font-size="4" text-anchor="middle" fill="#4d4d4d" font-weight="normal" font-style="normal">88500000</text>
<text x="173.3" y="104.5" font-size="4" text-anchor="middle" fill="#4d4d4d" font-weight="normal" font-style="normal">88750000</text>
<text x="228.85" y="104.5" font-size="4" text-anchor="middle" fill="#4d4d4d" font-weight="normal" font-style="normal">89000000</text>
<text x="284.4" y="104.5" font-size="4" text-anchor="middle" fill="#4d4d4d" font-weight="normal" font-style="normal">89250000</text>
<text x="166.2" y="110.4" font-size="5" text-anchor="middle" fill="#000" font-weight="normal" font-style="normal">Position on chromosome 16</text>
<text x="33.9" y="65.5" font-size="5" text-anchor="middle" fill="#000" font-weight="normal" font-style="normal" transform="rotate(-90 33.9 65.5)">-log10(P)</text>
<text x="44.5" y="121" font-size="6" text-anchor="start" fill="#000" font-weight="normal" font-style="normal">HbA1c GWAS: chr16:88250000 - 89250000</text>
<text x="44.5" y="127.6" font-size="6" text-anchor="start" fill="#000" font-weight="normal" font-style="normal">Conditioned on rs563555492</text>
<rect x="44.5" y="131.3" width="243" height="66.5" fill="#fff" stroke="none" stroke-width="0.5"/>
<line x1="89.97" y1="131.3" x2="89.97" y2="197.8" stroke="#f4f4f4" stroke-width="0.3"/>
<line x1="145.52" y1="131.3" x2="145.52" y2="197.8" stroke="#f4f4f4" stroke-width="0.3"/>
<line x1="201.07" y1="131.3" x2="201.07" y2="197.8" stroke="#f4f4f4" stroke-width="0.3"/>
<line x1="256.62" y1="131.3" x2="256.62" y2="197.8" stroke="#f4f4f4" stroke-width="0.3"/>
<line x1="44.5" y1="186.7" x2="287.5" y2="186.7" stroke="#f4f4f4" stroke-width="0.3"/>
<line x1="44.5" y1="169.3" x2="287.5" y2="169.3" stroke="#f4f4f4" stroke-width="0.3"/>
<line x1="44.5" y1="151.9" x2="287.5" y2="151.9" stroke="#f4f4f4" stroke-width="0.3"/>
<line x1="44.5" y1="134.5" x2="287.5" y2="134.5" stroke="#f4f4f4" stroke-width="0.3"/>
<line x1="62.2" y1="131.3" x2="62.2" y2="197.8" stroke="#ebebeb" stroke-width="0.5"/>
<line x1="117.75" y1="131.3" x2="117.75" y2="197.8" stroke="#ebebeb" stroke-width="0.5"/>
<line x1="173.3" y1="131.3" x2="173.3" y2="197.8" stroke="#ebebeb" stroke-width="0.5"/>
<line x1="228.85" y1="131.3" x2="228.85" y2="197.8" stroke="#ebebeb" stroke-width="0.5"/>
<line x1="284.4" y1="131.3" x2="284.4" y2="197.8" stroke="#ebebeb" stroke-width="0.5"/>
<line x1="44.5" y1="195.4" x2="287.5" y2="195.4" stroke="#ebebeb" stroke-width="0.5"/>
<line x1="44.5" y1="178" x2="287.5" y2="178" stroke="#ebebeb" stroke-width="0.5"/>
<line x1="44.5" y1="160.6" x2="287.5" y2="160.6" stroke="#ebebeb" stroke-width="0.5"/>
<line x1="44.5" y1="143.2" x2="287.5" y2="143.2" stroke="#ebebeb" stroke-width="0.5"/>
<g fill="#000">
<circle cx="139.19" cy="191.35" r="0.95"/>
<circle cx="216.52" cy="193.87" r="0.95"/>
<circle cx="250.5" cy="190.61" r="0.95"/>
<circle cx="150.23" cy="188.41" r="0.95"/>
<circle cx="153.76" cy="192.09" r="0.95"/>
<circle cx="211.35" cy="193.68" r="0.95"/>
<circle cx="151.81" cy="192.1" r="0.95"/>
<circle cx="165.14" cy="195.15" r="0.95"/>
<circle cx="143.42" cy="188.99" r="0.95"/>
<circle cx="241.31" cy="195.19" r="0.95"/>
<circle cx="140.84" cy="193.74" r="0.95"/>
<circle cx="204.92" cy="192.78" r="0.95"/>
<circle cx="176.66" cy="193.63" r="0.95"/>
<circle cx="57.32" cy="186.61" r="0.95"/>
<circle cx="266.27" cy="193.65" r="0.95"/>
<circle cx="276.29" cy="193.58" r="0.95"/>
<circle cx="178.19" cy="194.82" r="0.95"/>
<circle cx="213.81" cy="189.27" r="0.95"/>
<circle cx="232.61" cy="195.04" r="0.95"/>
<circle cx="195.4" cy="194.93" r="0.95"/>
<circle cx="241.5" cy="189.08" r="0.95"/>
<circle cx="152.52" cy="193.16" r="0.95"/>
<circle cx="149.56" cy="192.65" r="0.95"/>
<circle cx="216.86" cy="184.26" r="0.95"/>
<circle cx="222.38" cy="190.7" r="0.95"/>
<circle cx="104.5" cy="191.89" r="0.95"/>
<circle cx="124.03" cy="194.41" r="0.95"/>
<circle cx="262.85" cy="194.69" r="0.95"/>
<circle cx="140.4" cy="191.17" r="0.95"/>
<circle cx="151.7" cy="194.86" r="0.95"/>
<circle cx="175.72" cy="195.38" r="0.95"/>
<circle cx="187.19" cy="194.08" r="0.95"/>
<circle cx="250.8" cy="194.61" r="0.95"/>
<circle cx="195.45" cy="194.41" r="0.95"/>
<circle cx="132.74" cy="194.76" r="0.95"/>
<circle cx="274.71" cy="193.59" r="0.95"/>
<circle cx="258.98" cy="193.4" r="0.95"/>
<circle cx="258.82" cy="195.37" r="0.95"/>
<circle cx="217.7" cy="195.2" r="0.95"/>
<circle cx="58.62" cy="192.51" r="0.95"/>
<circle cx="152.69" cy="188.34" r="0.95"/>
<circle cx="137.1" cy="193.11" r="0.95"/>
<circle cx="193.35" cy="190.87" r="0.95"/>
<circle cx="109.26" cy="190.27" r="0.95"/>
<circle cx="100.39" cy="192.79" r="0.95"/>
<circle cx="128.52" cy="191.81" r="0.95"/>
<circle cx="101" cy="190.56" r="0.95"/>
<circle cx="116.32" cy="192.48" r="0.95"/>
<circle cx="126.55" cy="192.86" r="0.95"/>
<circle cx="243.64" cy="195.16" r="0.95"/>
<circle cx="222.67" cy="194.41" r="0.95"/>
<circle cx="100.89" cy="194.99" r="0.95"/>
<circle cx="148.84" cy="190.21" r="0.95"/>
<circle cx="67.33" cy="194.23" r="0.95"/>
<circle cx="115.16" cy="190.93" r="0.95"/>
<circle cx="138.18" cy="192.29" r="0.95"/>
<circle cx="271.76" cy="187.77" r="0.95"/>
<circle cx="139.25" cy="193.96" r="0.95"/>
<circle cx="234.63" cy="190.35" r="0.95"/>
<circle cx="247.04" cy="191.49" r="0.95"/>
<circle cx="114.88" cy="192.72" r="0.95"/>
<circle cx="258.31" cy="189.81" r="0.95"/>
<circle cx="238.31" cy="193.24" r="0.95"/>
<circle cx="225.58" cy="192.79" r="0.95"/>
<circle cx="250.94" cy="191.84" r="0.95"/>
<circle cx="238.51" cy="192.33" r="0.95"/>
<circle cx="148.6" cy="188.38" r="0.95"/>
<circle cx="216.07" cy="193.41" r="0.95"/>
<circle cx="180.16" cy="194.08" r="0.95"/>
<circle cx="135.09" cy="195.22" r="0.95"/>
<circle cx="205.64" cy="193.67" r="0.95"/>
<circle cx="198.94" cy="190.55" r="0.95"/>
<circle cx="201.38" cy="192.47" r="0.95"/>
<circle cx="90.93" cy="192.95" r="0.95"/>
<circle cx="185.75" cy="194.01" r="0.95"/>
<circle cx="265.59" cy="194.11" r="0.95"/>
<circle cx="161.28" cy="195.38" r="0.95"/>
<circle cx="197.65" cy="193.9" r="0.95"/>
<circle cx="127.63" cy="190.46" r="0.95"/>
<circle cx="111.77" cy="194.15" r="0.95"/>
<circle cx="270.6" cy="195.21" r="0.95"/>
<circle cx="227.19" cy="193.65" r="0.95"/>
<circle cx="235.91" cy="195.27" r="0.95"/>
<circle cx="256.86" cy="195.34" r="0.95"/>
<circle cx="162.76" cy="191.94" r="0.95"/>
<circle cx="161.72" cy="186.92" r="0.95"/>
<circle cx="259.57" cy="192.74" r="0.95"/>
<circle cx="200.71" cy="193.64" r="0.95"/>
<circle cx="214.96" cy="188.52" r="0.95"/>
<circle cx="218.5" cy="193.69" r="0.95"/>
<circle cx="175.32" cy="184.26" r="0.95"/>
<circle cx="186.59" cy="191.54" r="0.95"/>
<circle cx="190.37" cy="192.04" r="0.95"/>
<circle cx="164.11" cy="194.51" r="0.95"/>
<circle cx="154.93" cy="193.41" r="0.95"/>
<circle cx="239.28" cy="194.27" r="0.95"/>
<circle cx="178.12" cy="194" r="0.95"/>
<circle cx="148.78" cy="193.92" r="0.95"/>
<circle cx="217.37" cy="194.33" r="0.95"/>
<circle cx="135.55" cy="190.15" r="0.95"/>
<circle cx="76.42" cy="193.13" r="0.95"/>
<circle cx="217.28" cy="193.94" r="0.95"/>
<circle cx="223.55" cy="189.61" r="0.95"/>
<circle cx="198.69" cy="194.74" r="0.95"/>
<circle cx="220.85" cy="191.5" r="0.95"/>
<circle cx="80.27" cy="191.75" r="0.95"/>
<circle cx="136.34" cy="187.72" r="0.95"/>
<circle cx="259.13" cy="193.66" r="0.95"/>
<circle cx="266.88" cy="193.89" r="0.95"/>
<circle cx="96.68" cy="193.87" r="0.95"/>
<circle cx="220.23" cy="193.37" r="0.95"/>
<circle cx="206.27" cy="185.99" r="0.95"/>
<circle cx="152.54" cy="194.85" r="0.95"/>
<circle cx="76.85" cy="188.33" r="0.95"/>
<circle cx="221.35" cy="188.97" r="0.95"/>
<circle cx="217.66" cy="194.94" r="0.95"/>
<circle cx="244.55" cy="189.57" r="0.95"/>
<circle cx="233.11" cy="191.24" r="0.95"/>
<circle cx="274.86" cy="188.72" r="0.95"/>
<circle cx="139.06" cy="192.59" r="0.95"/>
<circle cx="195.38" cy="194.95" r="0.95"/>
<circle cx="158.42" cy="191.72" r="0.95"/>
<circle cx="138.55" cy="188.56" r="0.95"/>
<circle cx="76.07" cy="191.11" r="0.95"/>
<circle cx="167.35" cy="194.58" r="0.95"/>
<circle cx="244.95" cy="191.36" r="0.95"/>
<circle cx="212.52" cy="185.8" r="0.95"/>
<circle cx="204.52" cy="195.01" r="0.95"/>
<circle cx="113.31" cy="194.24" r="0.95"/>
<circle cx="198.75" cy="187.84" r="0.95"/>
<circle cx="234.83" cy="194.47" r="0.95"/>
<circle cx="250.99" cy="194.12" r="0.95"/>
<circle cx="140.5" cy="190.78" r="0.95"/>
<circle cx="148.62" cy="193.05" r="0.95"/>
<circle cx="208.38" cy="188.15" r="0.95"/>
<circle cx="168.32" cy="192.39" r="0.95"/>
<circle cx="113.45" cy="190.51" r="0.95"/>
<circle cx="214.96" cy="195.37" r="0.95"/>
<circle cx="260.52" cy="194.96" r="0.95"/>
<circle cx="195.24" cy="195.21" r="0.95"/>
<circle cx="211.85" cy="193.57" r="0.95"/>
<circle cx="258.37" cy="188.66" r="0.95"/>
<circle cx="138.77" cy="193.1" r="0.95"/>
<circle cx="162.35" cy="194.53" r="0.95"/>
<circle cx="56.15" cy="193.97" r="0.95"/>
<circle cx="133.6" cy="193.96" r="0.95"/>
<circle cx="187.03" cy="191.46" r="0.95"/>
<circle cx="102.72" cy="191.66" r="0.95"/>
<circle cx="240.44" cy="194.4" r="0.95"/>
<circle cx="88.28" cy="193.43" r="0.95"/>
<circle cx="82.99" cy="192.62" r="0.95"/>
<circle cx="78.79" cy="193.12" r="0.95"/>
<circle cx="75.13" cy="192.96" r="0.95"/>
<circle cx="145.2" cy="192.31" r="0.95"/>
<circle cx="108.3" cy="192.05" r="0.95"/>
<circle cx="271.02" cy="194.07" r="0.95"/>
<circle cx="220.79" cy="194.45" r="0.95"/>
<circle cx="271" cy="191" r="0.95"/>
<circle cx="108.26" cy="194.77" r="0.95"/>
<circle cx="264.9" cy="184.51" r="0.95"/>
<circle cx="91.92" cy="193.35" r="0.95"/>
<circle cx="275.11" cy="194.18" r="0.95"/>
<circle cx="121.94" cy="192.89" r="0.95"/>
<circle cx="113.78" cy="194.69" r="0.95"/>
<circle cx="145.72" cy="189.91" r="0.95"/>
<circle cx="187.19" cy="195.34" r="0.95"/>
<circle cx="264.22" cy="193.21" r="0.95"/>
<circle cx="144.5" cy="193.56" r="0.95"/>
<circle cx="110.65" cy="194.4" r="0.95"/>
<circle cx="128.98" cy="193.71" r="0.95"/>
<circle cx="216.88" cy="195.05" r="0.95"/>
<circle cx="148.77" cy="184.26" r="0.95"/>
<circle cx="133.89" cy="194.01" r="0.95"/>
<circle cx="239.96" cy="190.78" r="0.95"/>
<circle cx="266.3" cy="194.88" r="0.95"/>
<circle cx="230.73" cy="194.31" r="0.95"/>
<circle cx="72.39" cy="192.68" r="0.95"/>
<circle cx="251.35" cy="191.9" r="0.95"/>
<circle cx="272.54" cy="185.2" r="0.95"/>
<circle cx="208.34" cy="190.49" r="0.95"/>
<circle cx="83" cy="194.7" r="0.95"/>
<circle cx="262.76" cy="194.35" r="0.95"/>
<circle cx="89.76" cy="193.46" r="0.95"/>
<circle cx="142.07" cy="193.39" r="0.95"/>
<circle cx="199.24" cy="195.13" r="0.95"/>
<circle cx="123.96" cy="192.2" r="0.95"/>
<circle cx="189.69" cy="192.32" r="0.95"/>
<circle cx="142.07" cy="186.49" r="0.95"/>
<circle cx="242.58" cy="194.89" r="0.95"/>
<circle cx="98.88" cy="194.22" r="0.95"/>
<circle cx="193.88" cy="188.36" r="0.95"/>
<circle cx="95.68" cy="189.1" r="0.95"/>
<circle cx="235.47" cy="194.28" r="0.95"/>
<circle cx="115.38" cy="193.86" r="0.95"/>
<circle cx="117.85" cy="184.26" r="0.95"/>
<circle cx="244.05" cy="191.56" r="0.95"/>
<circle cx="201.99" cy="193.06" r="0.95"/>
<circle cx="230.37" cy="192.68" r="0.95"/>
<circle cx="163.4" cy="192" r="0.95"/>
<circle cx="240.26" cy="193.44" r="0.95"/>
<circle cx="80.33" cy="194.11" r="0.95"/>
<circle cx="72.02" cy="190.82" r="0.95"/>
<circle cx="277.62" cy="195.27" r="0.95"/>
<circle cx="229.38" cy="194.81" r="0.95"/>
<circle cx="84.09" cy="195.03" r="0.95"/>
<circle cx="112.34" cy="192.87" r="0.95"/>
<circle cx="203.71" cy="194.2" r="0.95"/>
<circle cx="99.08" cy="192" r="0.95"/>
<circle cx="192.87" cy="192.12" r="0.95"/>
<circle cx="194.66" cy="194.32" r="0.95"/>
<circle cx="146.51" cy="193.49" r="0.95"/>
<circle cx="188.83" cy="192.43" r="0.95"/>
<circle cx="213.06" cy="194.43" r="0.95"/>
<circle cx="131.02" cy="193.96" r="0.95"/>
<circle cx="234.47" cy="190.01" r="0.95"/>
<circle cx="242.86" cy="191.55" r="0.95"/>
<circle cx="250.62" cy="194.69" r="0.95"/>
<circle cx="226.02" cy="191.49" r="0.95"/>
<circle cx="276.2" cy="194.84" r="0.95"/>
<circle cx="119.48" cy="191.72" r="0.95"/>
<circle cx="151.27" cy="192.76" r="0.95"/>
<circle cx="186.29" cy="195.32" r="0.95"/>
<circle cx="266.88" cy="184.26" r="0.95"/>
<circle cx="129.78" cy="192.81" r="0.95"/>
<circle cx="75.05" cy="193.98" r="0.95"/>
<circle cx="83.36" cy="193.09" r="0.95"/>
<circle cx="124.72" cy="193.61" r="0.95"/>
<circle cx="129.74" cy="191.86" r="0.95"/>
<circle cx="150.98" cy="195.38" r="0.95"/>
<circle cx="67.81" cy="184.26" r="0.95"/>
<circle cx="146.8" cy="190.85" r="0.95"/>
<circle cx="74.56" cy="194.69" r="0.95"/>
<circle cx="155.94" cy="194.84" r="0.95"/>
<circle cx="261.39" cy="192.86" r="0.95"/>
<circle cx="210.45" cy="191.22" r="0.95"/>
<circle cx="147.67" cy="194.84" r="0.95"/>
<circle cx="100.27" cy="194.44" r="0.95"/>
<circle cx="149.08" cy="191.37" r="0.95"/>
<circle cx="113.74" cy="190.35" r="0.95"/>
<circle cx="189.62" cy="191.83" r="0.95"/>
<circle cx="266.72" cy="194.8" r="0.95"/>
<circle cx="190.81" cy="193.93" r="0.95"/>
<circle cx="167.4" cy="192.28" r="0.95"/>
<circle cx="264.63" cy="193.2" r="0.95"/>
<circle cx="251.93" cy="194.6" r="0.95"/>
<circle cx="267.38" cy="184.79" r="0.95"/>
<circle cx="209.74" cy="194.31" r="0.95"/>
<circle cx="274.04" cy="195.34" r="0.95"/>
<circle cx="98.58" cy="193.98" r="0.95"/>
<circle cx="73.38" cy="193.23" r="0.95"/>
<circle cx="144.67" cy="191.34" r="0.95"/>
<circle cx="250.56" cy="194.41" r="0.95"/>
<circle cx="134.76" cy="192.8" r="0.95"/>
<circle cx="134.11" cy="192.32" r="0.95"/>
<circle cx="160.43" cy="186.24" r="0.95"/>
<circle cx="177.62" cy="194.71" r="0.95"/>
<circle cx="111.87" cy="193.09" r="0.95"/>
<circle cx="95.83" cy="193.71" r="0.95"/>
<circle cx="150.71" cy="189.63" r="0.95"/>
<circle cx="167.29" cy="192.39" r="0.95"/>
<circle cx="162.14" cy="191.06" r="0.95"/>
<circle cx="109.87" cy="193.78" r="0.95"/>
<circle cx="229.94" cy="193.78" r="0.95"/>
<circle cx="135.36" cy="193.44" r="0.95"/>
<circle cx="109.12" cy="193.88" r="0.95"/>
<circle cx="141.95" cy="191.15" r="0.95"/>
<circle cx="101.83" cy="189.95" r="0.95"/>
<circle cx="269.49" cy="195.11" r="0.95"/>
<circle cx="175.06" cy="195.36" r="0.95"/>
<circle cx="198.06" cy="188.82" r="0.95"/>
<circle cx="81.55" cy="187.28" r="0.95"/>
<circle cx="200.84" cy="195.15" r="0.95"/>
<circle cx="95.52" cy="194.98" r="0.95"/>
<circle cx="99.21" cy="192.51" r="0.95"/>
<circle cx="238.88" cy="192.82" r="0.95"/>
<circle cx="213.22" cy="190.61" r="0.95"/>
<circle cx="69.49" cy="194.81" r="0.95"/>
<circle cx="245.61" cy="194.63" r="0.95"/>
<circle cx="211.81" cy="192.55" r="0.95"/>
<circle cx="128.51" cy="194.52" r="0.95"/>
<circle cx="71" cy="194.62" r="0.95"/>
<circle cx="234.19" cy="194.67" r="0.95"/>
<circle cx="184.96" cy="192.6" r="0.95"/>
<circle cx="169.36" cy="189.89" r="0.95"/>
<circle cx="274.96" cy="192.09" r="0.95"/>
<circle cx="252.91" cy="195.18" r="0.95"/>
<circle cx="230.87" cy="195.35" r="0.95"/>
<circle cx="60.36" cy="194.42" r="0.95"/>
<circle cx="85.7" cy="192.6" r="0.95"/>
<circle cx="111.27" cy="194.82" r="0.95"/>
<circle cx="131.48" cy="195.38" r="0.95"/>
<circle cx="150.53" cy="193.63" r="0.95"/>
<circle cx="91.29" cy="190.47" r="0.95"/>
<circle cx="274.19" cy="184.26" r="0.95"/>
<circle cx="191.97" cy="195.37" r="0.95"/>
<circle cx="251.96" cy="194.82" r="0.95"/>
<circle cx="201.06" cy="193.97" r="0.95"/>
<circle cx="166.47" cy="194.55" r="0.95"/>
<circle cx="100.62" cy="192.55" r="0.95"/>
<circle cx="73.87" cy="195.12" r="0.95"/>
<circle cx="72.87" cy="192.24" r="0.95"/>
<circle cx="116.64" cy="192.45" r="0.95"/>
<circle cx="115.3" cy="194.49" r="0.95"/>
<circle cx="198.85" cy="194.4" r="0.95"/>
<circle cx="235.23" cy="192.98" r="0.95"/>
<circle cx="102.48" cy="194.4" r="0.95"/>
<circle cx="265.63" cy="194.97" r="0.95"/>
<circle cx="138.06" cy="185.45" r="0.95"/>
<circle cx="137.65" cy="195.21" r="0.95"/>
<circle cx="110.29" cy="193.96" r="0.95"/>
<circle cx="110.48" cy="192.64" r="0.95"/>
<circle cx="267.62" cy="192.72" r="0.95"/>
<circle cx="205.13" cy="193.49" r="0.95"/>
<circle cx="99.57" cy="194.25" r="0.95"/>
<circle cx="236.57" cy="190.75" r="0.95"/>
<circle cx="185.47" cy="194.05" r="0.95"/>
<circle cx="129" cy="192.55" r="0.95"/>
<circle cx="163.67" cy="192.95" r="0.95"/>
<circle cx="87.99" cy="191.74" r="0.95"/>
<circle cx="245.97" cy="194.69" r="0.95"/>
<circle cx="247.33" cy="195.12" r="0.95"/>
<circle cx="104.08" cy="195.02" r="0.95"/>
<circle cx="178.83" cy="192.53" r="0.95"/>
<circle cx="222.7" cy="194.82" r="0.95"/>
<circle cx="250.22" cy="194.97" r="0.95"/>
<circle cx="84.41" cy="194.92" r="0.95"/>
<circle cx="226.94" cy="195.04" r="0.95"/>
<circle cx="250.68" cy="194.98" r="0.95"/>
<circle cx="86.4" cy="194.03" r="0.95"/>
<circle cx="185.21" cy="190.81" r="0.95"/>
<circle cx="177.66" cy="193.98" r="0.95"/>
<circle cx="88.12" cy="190.66" r="0.95"/>
<circle cx="55.72" cy="189.01" r="0.95"/>
<circle cx="166.36" cy="193.27" r="0.95"/>
<circle cx="80.4" cy="193.3" r="0.95"/>
<circle cx="119.89" cy="192.48" r="0.95"/>
<circle cx="126.6" cy="195.21" r="0.95"/>
<circle cx="176.69" cy="191.24" r="0.95"/>
<circle cx="182.39" cy="194.42" r="0.95"/>
<circle cx="121.31" cy="194.08" r="0.95"/>
<circle cx="237.58" cy="195.35" r="0.95"/>
<circle cx="210.93" cy="188.18" r="0.95"/>
<circle cx="102.23" cy="194.94" r="0.95"/>
<circle cx="122.41" cy="193.69" r="0.95"/>
<circle cx="65.8" cy="186.86" r="0.95"/>
<circle cx="79.27" cy="194.91" r="0.95"/>
<circle cx="118.84" cy="195.35" r="0.95"/>
<circle cx="199.02" cy="193.75" r="0.95"/>
<circle cx="166.57" cy="193.91" r="0.95"/>
<circle cx="61.39" cy="190.05" r="0.95"/>
<circle cx="156.95" cy="195.12" r="0.95"/>
<circle cx="90.9" cy="194.33" r="0.95"/>
<circle cx="120.91" cy="194.6" r="0.95"/>
<circle cx="266.96" cy="193.77" r="0.95"/>
<circle cx="174.87" cy="193.97" r="0.95"/>
<circle cx="65.27" cy="191.4" r="0.95"/>
<circle cx="66.3" cy="192.17" r="0.95"/>
<circle cx="145.15" cy="194.81" r="0.95"/>
<circle cx="211.76" cy="186.49" r="0.95"/>
<circle cx="277.57" cy="193.57" r="0.95"/>
<circle cx="87.8" cy="193.24" r="0.95"/>
<circle cx="81.54" cy="191.77" r="0.95"/>
<circle cx="191.37" cy="193.94" r="0.95"/>
<circle cx="112.8" cy="195.39" r="0.95"/>
<circle cx="126.43" cy="194.81" r="0.95"/>
<circle cx="245.33" cy="191.66" r="0.95"/>
<circle cx="69" cy="188.46" r="0.95"/>
<circle cx="117.66" cy="193.65" r="0.95"/>
<circle cx="122.71" cy="191.22" r="0.95"/>
<circle cx="215.74" cy="185.14" r="0.95"/>
<circle cx="128.36" cy="193.38" r="0.95"/>
<circle cx="99.9" cy="195.31" r="0.95"/>
<circle cx="108.26" cy="189.45" r="0.95"/>
<circle cx="111.03" cy="194.96" r="0.95"/>
<circle cx="99.77" cy="195.02" r="0.95"/>
<circle cx="179.09" cy="192.65" r="0.95"/>
<circle cx="248.22" cy="193.07" r="0.95"/>
<circle cx="152.72" cy="195.31" r="0.95"/>
<circle cx="242.7" cy="194.62" r="0.95"/>
<circle cx="146.95" cy="195.2" r="0.95"/>
<circle cx="162.8" cy="192.6" r="0.95"/>
<circle cx="160.87" cy="195.32" r="0.95"/>
<circle cx="176.11" cy="190.67" r="0.95"/>
<circle cx="104.98" cy="192.36" r="0.95"/>
<circle cx="141.37" cy="193.79" r="0.95"/>
<circle cx="62.37" cy="194.15" r="0.95"/>
<circle cx="118.91" cy="184.26" r="0.95"/>
<circle cx="263.2" cy="195.34" r="0.95"/>
<circle cx="194.43" cy="195.25" r="0.95"/>
<circle cx="239.43" cy="192.53" r="0.95"/>
<circle cx="164.9" cy="191.91" r="0.95"/>
<circle cx="65.36" cy="193.77" r="0.95"/>
<circle cx="152.9" cy="193.53" r="0.95"/>
<circle cx="146.02" cy="194.26" r="0.95"/>
<circle cx="254.32" cy="184.7" r="0.95"/>
<circle cx="164.02" cy="190.81" r="0.95"/>
<circle cx="160.5" cy="194.17" r="0.95"/>
<circle cx="251.36" cy="194.32" r="0.95"/>
<circle cx="118.1" cy="193.43" r="0.95"/>
<circle cx="163.86" cy="184.26" r="0.95"/>
<circle cx="165.23" cy="191.26" r="0.95"/>
<circle cx="166.45" cy="194.66" r="0.95"/>
<circle cx="134.72" cy="194.07" r="0.95"/>
<circle cx="276.93" cy="194.17" r="0.95"/>
<circle cx="82.38" cy="194.12" r="0.95"/>
<circle cx="206.91" cy="194.49" r="0.95"/>
<circle cx="235.33" cy="193.5" r="0.95"/>
<circle cx="138.17" cy="195.2" r="0.95"/>
<circle cx="210.32" cy="193.65" r="0.95"/>
<circle cx="205.12" cy="193.09" r="0.95"/>
<circle cx="241.2" cy="194.04" r="0.95"/>
<circle cx="96.01" cy="188.75" r="0.95"/>
<circle cx="156.74" cy="192.8" r="0.95"/>
<circle cx="212.43" cy="186.67" r="0.95"/>
<circle cx="205.12" cy="189.57" r="0.95"/>
<circle cx="166.98" cy="188.41" r="0.95"/>
<circle cx="117.69" cy="194.22" r="0.95"/>
<circle cx="101.19" cy="194.13" r="0.95"/>
<circle cx="74.43" cy="189.79" r="0.95"/>
<circle cx="144.65" cy="192.65" r="0.95"/>
<circle cx="236.6" cy="194.68" r="0.95"/>
<circle cx="82.29" cy="191.49" r="0.95"/>
<circle cx="201.07" cy="191.65" r="0.95"/>
<circle cx="276.2" cy="193.7" r="0.95"/>
<circle cx="248.71" cy="191.69" r="0.95"/>
<circle cx="105.48" cy="195.01" r="0.95"/>
<circle cx="151.03" cy="194.97" r="0.95"/>
<circle cx="149.05" cy="194.85" r="0.95"/>
<circle cx="70.27" cy="195.38" r="0.95"/>
<circle cx="274.71" cy="195.39" r="0.95"/>
<circle cx="80.84" cy="192.72" r="0.95"/>
<circle cx="257.8" cy="194.64" r="0.95"/>
<circle cx="244.9" cy="193.87" r="0.95"/>
<circle cx="83.44" cy="194.73" r="0.95"/>
<circle cx="240.4" cy="194.54" r="0.95"/>
<circle cx="134" cy="194.98" r="0.95"/>
<circle cx="201.06" cy="184.26" r="0.95"/>
<circle cx="238.19" cy="188.54" r="0.95"/>
<circle cx="120.2" cy="195.15" r="0.95"/>
<circle cx="111.89" cy="189.7" r="0.95"/>
<circle cx="65.54" cy="193.21" r="0.95"/>
<circle cx="226.22" cy="193.15" r="0.95"/>
<circle cx="118.78" cy="195.22" r="0.95"/>
<circle cx="207.42" cy="193.07" r="0.95"/>
<circle cx="188.04" cy="194.73" r="0.95"/>
<circle cx="132.85" cy="194.18" r="0.95"/>
<circle cx="94.88" cy="193.63" r="0.95"/>
<circle cx="114.87" cy="193.6" r="0.95"/>
<circle cx="65.42" cy="194.08" r="0.95"/>
<circle cx="129.88" cy="195.05" r="0.95"/>
<circle cx="62.47" cy="193.52" r="0.95"/>
<circle cx="233.82" cy="188.34" r="0.95"/>
<circle cx="267.09" cy="193.97" r="0.95"/>
<circle cx="158.73" cy="195.05" r="0.95"/>
<circle cx="74.27" cy="193.85" r="0.95"/>
<circle cx="149.18" cy="190.37" r="0.95"/>
<circle cx="125.44" cy="186.32" r="0.95"/>
<circle cx="182.11" cy="190.81" r="0.95"/>
<circle cx="139.48" cy="193.89" r="0.95"/>
<circle cx="209.13" cy="193.88" r="0.95"/>
<circle cx="117.71" cy="193.88" r="0.95"/>
<circle cx="127.43" cy="193.12" r="0.95"/>
<circle cx="120.51" cy="193.41" r="0.95"/>
<circle cx="237.65" cy="194.69" r="0.95"/>
<circle cx="267.27" cy="195.23" r="0.95"/>
<circle cx="170.41" cy="194.29" r="0.95"/>
<circle cx="190.63" cy="194.43" r="0.95"/>
<circle cx="175.1" cy="192.14" r="0.95"/>
<circle cx="70.25" cy="190.45" r="0.95"/>
<circle cx="270.72" cy="193.97" r="0.95"/>
<circle cx="110.5" cy="194.89" r="0.95"/>
<circle cx="56.32" cy="194.77" r="0.95"/>
<circle cx="195.62" cy="187.34" r="0.95"/>
<circle cx="148.17" cy="193.47" r="0.95"/>
<circle cx="150.88" cy="194.92" r="0.95"/>
<circle cx="125.22" cy="195.17" r="0.95"/>
<circle cx="261.08" cy="190.91" r="0.95"/>
<circle cx="69.73" cy="192.17" r="0.95"/>
<circle cx="91.35" cy="192.09" r="0.95"/>
<circle cx="130.03" cy="194.07" r="0.95"/>
<circle cx="124.95" cy="184.26" r="0.95"/>
<circle cx="251.91" cy="192.57" r="0.95"/>
<circle cx="146.55" cy="193.19" r="0.95"/>
<circle cx="241.95" cy="194.96" r="0.95"/>
<circle cx="124.97" cy="184.26" r="0.95"/>
<circle cx="156.62" cy="184.26" r="0.95"/>
<circle cx="143.37" cy="195.12" r="0.95"/>
<circle cx="57.84" cy="191.87" r="0.95"/>
<circle cx="139.96" cy="194.29" r="0.95"/>
<circle cx="207.76" cy="188.39" r="0.95"/>
<circle cx="210.53" cy="194.4" r="0.95"/>
<circle cx="242.96" cy="193.12" r="0.95"/>
<circle cx="154.65" cy="194.93" r="0.95"/>
<circle cx="137.01" cy="193.54" r="0.95"/>
<circle cx="213.95" cy="192.77" r="0.95"/>
<circle cx="266.07" cy="193.94" r="0.95"/>
<circle cx="197.64" cy="192.05" r="0.95"/>
<circle cx="173.36" cy="193.31" r="0.95"/>
<circle cx="181.43" cy="189.11" r="0.95"/>
<circle cx="245.95" cy="195.39" r="0.95"/>
<circle cx="196.39" cy="189.05" r="0.95"/>
<circle cx="142.28" cy="192.38" r="0.95"/>
<circle cx="195.25" cy="188.57" r="0.95"/>
<circle cx="136.64" cy="193.37" r="0.95"/>
<circle cx="131.76" cy="192.06" r="0.95"/>
<circle cx="251.02" cy="184.26" r="0.95"/>
<circle cx="266.31" cy="193.75" r="0.95"/>
<circle cx="232.65" cy="195" r="0.95"/>
<circle cx="260.63" cy="193.96" r="0.95"/>
<circle cx="196.05" cy="194.31" r="0.95"/>
<circle cx="212.86" cy="188.27" r="0.95"/>
<circle cx="120.38" cy="195.25" r="0.95"/>
<circle cx="106.94" cy="193.44" r="0.95"/>
<circle cx="153.5" cy="191.37" r="0.95"/>
<circle cx="242.8" cy="194.98" r="0.95"/>
<circle cx="134.2" cy="193.27" r="0.95"/>
<circle cx="228.29" cy="194.78" r="0.95"/>
<circle cx="81.95" cy="191.46" r="0.95"/>
<circle cx="116.69" cy="195.27" r="0.95"/>
<circle cx="110.31" cy="193.74" r="0.95"/>
<circle cx="66.26" cy="193.6" r="0.95"/>
<circle cx="75.56" cy="194.02" r="0.95"/>
<circle cx="243.95" cy="193.93" r="0.95"/>
<circle cx="83.05" cy="192.46" r="0.95"/>
<circle cx="145.75" cy="194.42" r="0.95"/>
<circle cx="201.78" cy="195.11" r="0.95"/>
<circle cx="121.15" cy="193.9" r="0.95"/>
<circle cx="191.96" cy="195.23" r="0.95"/>
<circle cx="158.35" cy="193.01" r="0.95"/>
<circle cx="139.96" cy="193.09" r="0.95"/>
<circle cx="213.02" cy="194.38" r="0.95"/>
<circle cx="86.22" cy="187.36" r="0.95"/>
<circle cx="150.64" cy="191.92" r="0.95"/>
<circle cx="250.65" cy="192.17" r="0.95"/>
<circle cx="181.31" cy="193.73" r="0.95"/>
<circle cx="118.28" cy="193.27" r="0.95"/>
<circle cx="275.89" cy="193.49" r="0.95"/>
<circle cx="239.5" cy="187.18" r="0.95"/>
<circle cx="142.02" cy="194.29" r="0.95"/>
<circle cx="268.06" cy="192.48" r="0.95"/>
<circle cx="114.63" cy="193.05" r="0.95"/>
<circle cx="172.16" cy="191.48" r="0.95"/>
<circle cx="70.15" cy="187.18" r="0.95"/>
<circle cx="111.38" cy="192.08" r="0.95"/>
<circle cx="198.85" cy="193.54" r="0.95"/>
<circle cx="126.59" cy="195.36" r="0.95"/>
<circle cx="75.02" cy="194.62" r="0.95"/>
<circle cx="274.32" cy="193.1" r="0.95"/>
<circle cx="101.16" cy="189.63" r="0.95"/>
<circle cx="83.35" cy="188.36" r="0.95"/>
<circle cx="109.31" cy="192.9" r="0.95"/>
<circle cx="123.35" cy="194.98" r="0.95"/>
<circle cx="130.58" cy="191.42" r="0.95"/>
<circle cx="93.95" cy="192.57" r="0.95"/>
<circle cx="121.69" cy="188.41" r="0.95"/>
<circle cx="216.86" cy="192.24" r="0.95"/>
<circle cx="142.96" cy="195.39" r="0.95"/>
<circle cx="153.08" cy="191.93" r="0.95"/>
<circle cx="192.21" cy="184.64" r="0.95"/>
<circle cx="219.82" cy="193.58" r="0.95"/>
<circle cx="221.81" cy="192.61" r="0.95"/>
<circle cx="104.77" cy="193.99" r="0.95"/>
<circle cx="231.18" cy="194.15" r="0.95"/>
<circle cx="247.73" cy="192.69" r="0.95"/>
<circle cx="111.6" cy="193.32" r="0.95"/>
<circle cx="153.34" cy="194.55" r="0.95"/>
<circle cx="212.24" cy="191.77" r="0.95"/>
<circle cx="225.1" cy="194.95" r="0.95"/>
<circle cx="146.97" cy="189.47" r="0.95"/>
<circle cx="225.99" cy="189.39" r="0.95"/>
<circle cx="137.36" cy="192.08" r="0.95"/>
<circle cx="258.87" cy="193.2" r="0.95"/>
<circle cx="183.39" cy="190.61" r="0.95"/>
<circle cx="273.63" cy="192.53" r="0.95"/>
<circle cx="193.68" cy="193.09" r="0.95"/>
<circle cx="238.67" cy="189.48" r="0.95"/>
<circle cx="153.19" cy="195.21" r="0.95"/>
<circle cx="71.06" cy="193.8" r="0.95"/>
<circle cx="134.12" cy="195.2" r="0.95"/>
<circle cx="148.23" cy="192.34" r="0.95"/>
<circle cx="107.23" cy="194.45" r="0.95"/>
<circle cx="246.28" cy="191.26" r="0.95"/>
<circle cx="121.01" cy="191.62" r="0.95"/>
<circle cx="154.85" cy="193.37" r="0.95"/>
<circle cx="204.46" cy="192.29" r="0.95"/>
<circle cx="188.74" cy="194.24" r="0.95"/>
<circle cx="261.85" cy="191.92" r="0.95"/>
<circle cx="92.42" cy="192.02" r="0.95"/>
<circle cx="89.36" cy="193.5" r="0.95"/>
<circle cx="68.15" cy="190.51" r="0.95"/>
<circle cx="118.15" cy="195.39" r="0.95"/>
<circle cx="114.66" cy="194.49" r="0.95"/>
<circle cx="121.77" cy="194.03" r="0.95"/>
<circle cx="113.29" cy="193.54" r="0.95"/>
<circle cx="215.95" cy="192.22" r="0.95"/>
<circle cx="90.42" cy="192.33" r="0.95"/>
<circle cx="156.41" cy="195.18" r="0.95"/>
<circle cx="250.31" cy="193.3" r="0.95"/>
<circle cx="234.27" cy="184.26" r="0.95"/>
<circle cx="70.91" cy="193.9" r="0.95"/>
<circle cx="202.46" cy="193.43" r="0.95"/>
<circle cx="204.33" cy="193.51" r="0.95"/>
<circle cx="92.68" cy="192" r="0.95"/>
<circle cx="254.26" cy="193.13" r="0.95"/>
<circle cx="84.47" cy="193.34" r="0.95"/>
<circle cx="277.57" cy="194.52" r="0.95"/>
<circle cx="145.87" cy="186.93" r="0.95"/>
<circle cx="222.84" cy="193.76" r="0.95"/>
<circle cx="228.48" cy="194.13" r="0.95"/>
<circle cx="270.54" cy="193.1" r="0.95"/>
<circle cx="182.42" cy="195.05" r="0.95"/>
<circle cx="92.32" cy="184.26" r="0.95"/>
<circle cx="246.32" cy="192.33" r="0.95"/>
<circle cx="129.52" cy="194.7" r="0.95"/>
<circle cx="265.91" cy="192.41" r="0.95"/>
<circle cx="254.68" cy="193.16" r="0.95"/>
<circle cx="141.95" cy="192.97" r="0.95"/>
<circle cx="109.1" cy="195.18" r="0.95"/>
<circle cx="55.69" cy="192.72" r="0.95"/>
<circle cx="205.47" cy="194.63" r="0.95"/>
<circle cx="114.02" cy="193.55" r="0.95"/>
<circle cx="70.6" cy="192.58" r="0.95"/>
<circle cx="277.15" cy="194.81" r="0.95"/>
<circle cx="272.56" cy="194.86" r="0.95"/>
<circle cx="215.49" cy="192.85" r="0.95"/>
<circle cx="229.6" cy="194.99" r="0.95"/>
<circle cx="164.21" cy="192.13" r="0.95"/>
<circle cx="175.97" cy="194.41" r="0.95"/>
<circle cx="64.56" cy="191.6" r="0.95"/>
<circle cx="151.8" cy="190.1" r="0.95"/>
<circle cx="79.95" cy="192.77" r="0.95"/>
<circle cx="176.75" cy="195.07" r="0.95"/>
<circle cx="122.92" cy="195.09" r="0.95"/>
<circle cx="178.7" cy="192.91" r="0.95"/>
<circle cx="161.62" cy="193.83" r="0.95"/>
<circle cx="182.61" cy="195.08" r="0.95"/>
<circle cx="222.46" cy="187.29" r="0.95"/>
<circle cx="144.02" cy="192.7" r="0.95"/>
<circle cx="239.24" cy="192.54" r="0.95"/>
<circle cx="252.13" cy="190.75" r="0.95"/>
<circle cx="255.63" cy="194.59" r="0.95"/>
<circle cx="84.81" cy="191.04" r="0.95"/>
<circle cx="200.41" cy="193.91" r="0.95"/>
<circle cx="233.4" cy="194.23" r="0.95"/>
<circle cx="252.82" cy="195.34" r="0.95"/>
<circle cx="194.64" cy="190.31" r="0.95"/>
<circle cx="276.5" cy="189.97" r="0.95"/>
<circle cx="162.77" cy="189.69" r="0.95"/>
<circle cx="69.46" cy="186.01" r="0.95"/>
<circle cx="117.21" cy="195.01" r="0.95"/>
<circle cx="100.74" cy="191.07" r="0.95"/>
<circle cx="269.43" cy="188.6" r="0.95"/>
<circle cx="163.24" cy="190.73" r="0.95"/>
<circle cx="191.78" cy="193.58" r="0.95"/>
<circle cx="202.36" cy="189.7" r="0.95"/>
<circle cx="187.69" cy="186.99" r="0.95"/>
<circle cx="171.97" cy="195.33" r="0.95"/>
<circle cx="257.07" cy="187.4" r="0.95"/>
<circle cx="71.77" cy="190.79" r="0.95"/>
<circle cx="174.55" cy="191.66" r="0.95"/>
<circle cx="260.7" cy="190.78" r="0.95"/>
<circle cx="81.03" cy="194.42" r="0.95"/>
<circle cx="118.43" cy="190.12" r="0.95"/>
<circle cx="141.49" cy="193.07" r="0.95"/>
<circle cx="197.88" cy="185.88" r="0.95"/>
<circle cx="120.23" cy="194.57" r="0.95"/>
<circle cx="93.85" cy="190.05" r="0.95"/>
<circle cx="79.77" cy="194.31" r="0.95"/>
<circle cx="74.1" cy="191.68" r="0.95"/>
<circle cx="90.58" cy="194.42" r="0.95"/>
<circle cx="146.17" cy="194.26" r="0.95"/>
<circle cx="111.82" cy="192.88" r="0.95"/>
<circle cx="92.58" cy="194.2" r="0.95"/>
<circle cx="90.28" cy="194.09" r="0.95"/>
<circle cx="120.83" cy="192.66" r="0.95"/>
<circle cx="250.97" cy="193.71" r="0.95"/>
<circle cx="230.02" cy="192.04" r="0.95"/>
<circle cx="233.84" cy="194.52" r="0.95"/>
<circle cx="171.46" cy="189.09" r="0.95"/>
<circle cx="186.68" cy="195.11" r="0.95"/>
<circle cx="204.62" cy="195.02" r="0.95"/>
<circle cx="129.05" cy="195.14" r="0.95"/>
<circle cx="244" cy="193.32" r="0.95"/>
<circle cx="128.44" cy="184.5" r="0.95"/>
<circle cx="270.3" cy="194.21" r="0.95"/>
<circle cx="240.63" cy="192.21" r="0.95"/>
<circle cx="208.73" cy="195.38" r="0.95"/>
<circle cx="262.41" cy="190.7" r="0.95"/>
<circle cx="149.86" cy="192.27" r="0.95"/>
<circle cx="93.09" cy="195.29" r="0.95"/>
<circle cx="144.3" cy="194.16" r="0.95"/>
<circle cx="269.27" cy="190.85" r="0.95"/>
<circle cx="109.37" cy="192.36" r="0.95"/>
<circle cx="172.63" cy="194.15" r="0.95"/>
<circle cx="148.46" cy="190.71" r="0.95"/>
<circle cx="158.78" cy="184.26" r="0.95"/>
<circle cx="193.38" cy="192.03" r="0.95"/>
<circle cx="260.56" cy="194.63" r="0.95"/>
<circle cx="192.7" cy="191.21" r="0.95"/>
<circle cx="217.84" cy="192.18" r="0.95"/>
<circle cx="68.68" cy="195.22" r="0.95"/>
<circle cx="232.88" cy="195.38" r="0.95"/>
<circle cx="277.63" cy="192.01" r="0.95"/>
<circle cx="242.97" cy="195.39" r="0.95"/>
<circle cx="63.25" cy="194.17" r="0.95"/>
<circle cx="172.74" cy="191.87" r="0.95"/>
<circle cx="187.36" cy="194.46" r="0.95"/>
<circle cx="273.02" cy="193.49" r="0.95"/>
<circle cx="232.13" cy="194.52" r="0.95"/>
<circle cx="99.55" cy="194.67" r="0.95"/>
<circle cx="69.6" cy="194.82" r="0.95"/>
<circle cx="275.06" cy="193.53" r="0.95"/>
<circle cx="109.91" cy="193.5" r="0.95"/>
<circle cx="240.78" cy="191.55" r="0.95"/>
<circle cx="71.23" cy="194.02" r="0.95"/>
<circle cx="250.53" cy="190.82" r="0.95"/>
<circle cx="188.4" cy="194.31" r="0.95"/>
<circle cx="202.03" cy="192.35" r="0.95"/>
<circle cx="107.67" cy="191.34" r="0.95"/>
<circle cx="223.48" cy="192.52" r="0.95"/>
<circle cx="256.13" cy="194.16" r="0.95"/>
<circle cx="259.69" cy="194.51" r="0.95"/>
<circle cx="245.47" cy="192.08" r="0.95"/>
<circle cx="234.01" cy="194.42" r="0.95"/>
<circle cx="106.71" cy="194.29" r="0.95"/>
<circle cx="71.55" cy="194.09" r="0.95"/>
<circle cx="127.51" cy="191.81" r="0.95"/>
<circle cx="263.28" cy="195.06" r="0.95"/>
<circle cx="243.21" cy="191.72" r="0.95"/>
<circle cx="114.85" cy="194.47" r="0.95"/>
<circle cx="135.23" cy="188.95" r="0.95"/>
<circle cx="224.53" cy="192.73" r="0.95"/>
<circle cx="205.09" cy="192.85" r="0.95"/>
<circle cx="196.34" cy="193.84" r="0.95"/>
<circle cx="223.71" cy="194.18" r="0.95"/>
<circle cx="135.97" cy="184.26" r="0.95"/>
<circle cx="256.36" cy="193.18" r="0.95"/>
<circle cx="204.7" cy="191.38" r="0.95"/>
<circle cx="169.5" cy="189.15" r="0.95"/>
<circle cx="243.25" cy="191.25" r="0.95"/>
<circle cx="265.5" cy="189.52" r="0.95"/>
<circle cx="171.94" cy="194.84" r="0.95"/>
<circle cx="55.28" cy="191.4" r="0.95"/>
<circle cx="136.87" cy="190.92" r="0.95"/>
<circle cx="240.89" cy="192.51" r="0.95"/>
<circle cx="137.25" cy="195.37" r="0.95"/>
<circle cx="159.22" cy="192.93" r="0.95"/>
<circle cx="121.95" cy="190.23" r="0.95"/>
<circle cx="171.96" cy="184.75" r="0.95"/>
<circle cx="269.22" cy="194.83" r="0.95"/>
<circle cx="183.97" cy="192.89" r="0.95"/>
<circle cx="129.06" cy="188.97" r="0.95"/>
<circle cx="69.74" cy="193.73" r="0.95"/>
<circle cx="56.46" cy="189.54" r="0.95"/>
<circle cx="184.12" cy="193.63" r="0.95"/>
<circle cx="211.85" cy="194.24" r="0.95"/>
<circle cx="102.65" cy="190.75" r="0.95"/>
<circle cx="108.4" cy="194.62" r="0.95"/>
<circle cx="191.88" cy="193.82" r="0.95"/>
<circle cx="235.47" cy="193.12" r="0.95"/>
<circle cx="109.23" cy="194.95" r="0.95"/>
<circle cx="251.2" cy="192.87" r="0.95"/>
<circle cx="69.7" cy="190.86" r="0.95"/>
<circle cx="211.4" cy="186.91" r="0.95"/>
<circle cx="125.44" cy="195.21" r="0.95"/>
<circle cx="195.53" cy="190.22" r="0.95"/>
<circle cx="265.28" cy="194.96" r="0.95"/>
<circle cx="89.19" cy="193.05" r="0.95"/>
<circle cx="224.1" cy="193.24" r="0.95"/>
<circle cx="64.89" cy="194.13" r="0.95"/>
<circle cx="231.7" cy="193.47" r="0.95"/>
<circle cx="210.6" cy="190.37" r="0.95"/>
<circle cx="179" cy="192.59" r="0.95"/>
<circle cx="230.19" cy="188.83" r="0.95"/>
<circle cx="181.6" cy="193.72" r="0.95"/>
<circle cx="274.19" cy="186.02" r="0.95"/>
<circle cx="231.39" cy="192.91" r="0.95"/>
<circle cx="268.35" cy="191.45" r="0.95"/>
<circle cx="68.7" cy="195.29" r="0.95"/>
<circle cx="144.87" cy="194.48" r="0.95"/>
<circle cx="270.94" cy="194.44" r="0.95"/>
<circle cx="263.59" cy="188.5" r="0.95"/>
<circle cx="265.04" cy="192.98" r="0.95"/>
<circle cx="102.27" cy="194.77" r="0.95"/>
<circle cx="125.03" cy="194.85" r="0.95"/>
<circle cx="136.81" cy="194.31" r="0.95"/>
<circle cx="161.73" cy="190.3" r="0.95"/>
<circle cx="255.18" cy="192.14" r="0.95"/>
<circle cx="247.52" cy="193.96" r="0.95"/>
<circle cx="163.42" cy="184.26" r="0.95"/>
<circle cx="198.97" cy="195.26" r="0.95"/>
<circle cx="83.63" cy="193.86" r="0.95"/>
<circle cx="71.43" cy="194.77" r="0.95"/>
<circle cx="130.63" cy="193.65" r="0.95"/>
<circle cx="100.44" cy="194.3" r="0.95"/>
<circle cx="221.8" cy="194.59" r="0.95"/>
<circle cx="159.23" cy="194.74" r="0.95"/>
<circle cx="236.35" cy="194.51" r="0.95"/>
<circle cx="221.03" cy="194.67" r="0.95"/>
<circle cx="233.75" cy="191.39" r="0.95"/>
<circle cx="124.57" cy="193.56" r="0.95"/>
<circle cx="125.27" cy="193.52" r="0.95"/>
<circle cx="124.42" cy="191.9" r="0.95"/>
<circle cx="125.47" cy="192.75" r="0.95"/>
<circle cx="125.47" cy="192.66" r="0.95"/>
<circle cx="127.15" cy="194.22" r="0.95"/>
<circle cx="128.27" cy="194.61" r="0.95"/>
<circle cx="126.32" cy="194.12" r="0.95"/>
<circle cx="171.19" cy="189.55" r="0.95"/>
<circle cx="168.08" cy="190.56" r="0.95"/>
<circle cx="167.33" cy="189.82" r="0.95"/>
<circle cx="168.65" cy="189.9" r="0.95"/>
<circle cx="169.24" cy="189.22" r="0.95"/>
<circle cx="169.89" cy="190.34" r="0.95"/>
<circle cx="168" cy="189.63" r="0.95"/>
<circle cx="169.65" cy="189.79" r="0.95"/>
<circle cx="170.59" cy="189.87" r="0.95"/>
<circle cx="169.27" cy="189.89" r="0.95"/>
<circle cx="111.23" cy="182.84" r="0.95"/>
<circle cx="108.06" cy="182.43" r="0.95"/>
<circle cx="108.7" cy="183.03" r="0.95"/>
<circle cx="109.97" cy="183" r="0.95"/>
<circle cx="107.86" cy="182.81" r="0.95"/>
<circle cx="109.75" cy="183.55" r="0.95"/>
<circle cx="108.6" cy="183.48" r="0.95"/>
<circle cx="111.33" cy="182.98" r="0.95"/>
<circle cx="109.86" cy="183.66" r="0.95"/>
<circle cx="108.92" cy="183.1" r="0.95"/>
<circle cx="223.46" cy="183.29" r="0.95"/>
<circle cx="225.17" cy="182.82" r="0.95"/>
<circle cx="223.33" cy="183.25" r="0.95"/>
<circle cx="224.12" cy="182.15" r="0.95"/>
<circle cx="221.84" cy="185.02" r="0.95"/>
<circle cx="222.27" cy="184.14" r="0.95"/>
<circle cx="222.81" cy="183.5" r="0.95"/>
<circle cx="224" cy="182.68" r="0.95"/>
<circle cx="223.36" cy="184.6" r="0.95"/>
<circle cx="223.5" cy="182.69" r="0.95"/>
<circle cx="123.82" cy="183.63" r="0.95"/>
<circle cx="123.91" cy="184.39" r="0.95"/>
<circle cx="127.24" cy="184.59" r="0.95"/>
<circle cx="131.79" cy="183.49" r="0.95"/>
<circle cx="123.84" cy="185.07" r="0.95"/>
<circle cx="130.14" cy="183.96" r="0.95"/>
<circle cx="124.19" cy="183.86" r="0.95"/>
<circle cx="132.1" cy="184.17" r="0.95"/>
<circle cx="124.96" cy="184.37" r="0.95"/>
<circle cx="126.94" cy="184.23" r="0.95"/>
<circle cx="278.16" cy="189.17" r="0.95"/>
<circle cx="280.23" cy="189.05" r="0.95"/>
<circle cx="279.44" cy="189.97" r="0.95"/>
<circle cx="277.55" cy="188.58" r="0.95"/>
<circle cx="276.58" cy="188.51" r="0.95"/>
<circle cx="278.06" cy="188.11" r="0.95"/>
<circle cx="279.15" cy="189.31" r="0.95"/>
<circle cx="279.96" cy="188.82" r="0.95"/>
<circle cx="279.13" cy="188.41" r="0.95"/>
<circle cx="277.25" cy="188.6" r="0.95"/>
<circle cx="275.57" cy="188.66" r="0.95"/>
<circle cx="270.16" cy="183.69" r="0.95"/>
<circle cx="272.04" cy="184.02" r="0.95"/>
<circle cx="270.39" cy="184.15" r="0.95"/>
<circle cx="269.23" cy="184.54" r="0.95"/>
<circle cx="273" cy="183.51" r="0.95"/>
<circle cx="272.95" cy="184.44" r="0.95"/>
<circle cx="271.45" cy="183.92" r="0.95"/>
<circle cx="267.94" cy="185.49" r="0.95"/>
<circle cx="272.2" cy="184.36" r="0.95"/>
<circle cx="271.41" cy="184.1" r="0.95"/>
<circle cx="271.8" cy="184.51" r="0.95"/>
<circle cx="200.61" cy="195.3" r="0.95"/>
<circle cx="196.35" cy="195.19" r="0.95"/>
<circle cx="200.41" cy="195.3" r="0.95"/>
<circle cx="198.1" cy="195.3" r="0.95"/>
<circle cx="201.1" cy="195.3" r="0.95"/>
<circle cx="194.94" cy="194.14" r="0.95"/>
<circle cx="194.32" cy="192.97" r="0.95"/>
<circle cx="68.87" cy="190.97" r="0.95"/>
<circle cx="73.79" cy="188.05" r="0.95"/>
<circle cx="67.98" cy="190.62" r="0.95"/>
<circle cx="71.93" cy="188.76" r="0.95"/>
<circle cx="69.05" cy="190.44" r="0.95"/>
<circle cx="71.32" cy="189.66" r="0.95"/>
<circle cx="70.08" cy="190.36" r="0.95"/>
<circle cx="69.14" cy="190.79" r="0.95"/>
<circle cx="69.19" cy="190.95" r="0.95"/>
<circle cx="69.73" cy="190.26" r="0.95"/>
<circle cx="253.23" cy="191.03" r="0.95"/>
<circle cx="255.02" cy="190.39" r="0.95"/>
<circle cx="257.6" cy="190.82" r="0.95"/>
<circle cx="256.47" cy="190.9" r="0.95"/>
<circle cx="253.15" cy="191.58" r="0.95"/>
<circle cx="257.44" cy="190.87" r="0.95"/>
<circle cx="256.02" cy="190.29" r="0.95"/>
<circle cx="129.38" cy="186.24" r="0.95"/>
<circle cx="129.76" cy="186.07" r="0.95"/>
<circle cx="132.25" cy="185.67" r="0.95"/>
<circle cx="133" cy="187.18" r="0.95"/>
<circle cx="130.53" cy="186.58" r="0.95"/>
<circle cx="131.2" cy="187.08" r="0.95"/>
<circle cx="79.97" cy="190.92" r="0.95"/>
<circle cx="80.35" cy="190.99" r="0.95"/>
<circle cx="80.97" cy="190.41" r="0.95"/>
<circle cx="80.72" cy="190.48" r="0.95"/>
<circle cx="79.68" cy="190.71" r="0.95"/>
<circle cx="80.53" cy="190.42" r="0.95"/>
<circle cx="80.78" cy="190.65" r="0.95"/>
<circle cx="80.48" cy="189.98" r="0.95"/>
<circle cx="232.3" cy="187.61" r="0.95"/>
<circle cx="230.11" cy="187.88" r="0.95"/>
<circle cx="229.72" cy="188.97" r="0.95"/>
<circle cx="230.93" cy="187.4" r="0.95"/>
<circle cx="228.99" cy="188.4" r="0.95"/>
<circle cx="227.12" cy="189" r="0.95"/>
<circle cx="228.91" cy="188.43" r="0.95"/>
<circle cx="229.34" cy="187.6" r="0.95"/>
<circle cx="219.21" cy="193.65" r="0.95"/>
<circle cx="222" cy="193.36" r="0.95"/>
<circle cx="219.54" cy="193.04" r="0.95"/>
<circle cx="222.37" cy="193.39" r="0.95"/>
<circle cx="220.25" cy="194.26" r="0.95"/>
<circle cx="205.95" cy="186.51" r="0.95"/>
<circle cx="205.56" cy="185.46" r="0.95"/>
<circle cx="207.36" cy="185.62" r="0.95"/>
<circle cx="205.94" cy="186.31" r="0.95"/>
<circle cx="207.62" cy="186.06" r="0.95"/>
<circle cx="206.27" cy="186.37" r="0.95"/>
<circle cx="206.89" cy="186.28" r="0.95"/>
<circle cx="207.1" cy="185.71" r="0.95"/>
<circle cx="206.43" cy="185.94" r="0.95"/>
<circle cx="207.23" cy="186.18" r="0.95"/>
<circle cx="128.81" cy="191.21" r="0.95"/>
<circle cx="129.1" cy="191.02" r="0.95"/>
<circle cx="130.1" cy="191.01" r="0.95"/>
<circle cx="131.58" cy="191.37" r="0.95"/>
<circle cx="131.09" cy="190.86" r="0.95"/>
<circle cx="129.69" cy="190.91" r="0.95"/>
<circle cx="130.98" cy="191.53" r="0.95"/>
<circle cx="242.41" cy="191.45" r="0.95"/>
<circle cx="237.54" cy="193.71" r="0.95"/>
<circle cx="238.05" cy="193" r="0.95"/>
<circle cx="241.48" cy="192.11" r="0.95"/>
<circle cx="141.88" cy="187.08" r="0.95"/>
<circle cx="140.43" cy="187.07" r="0.95"/>
<circle cx="139.15" cy="187.73" r="0.95"/>
<circle cx="138.27" cy="187.9" r="0.95"/>
<circle cx="138.31" cy="188.08" r="0.95"/>
<circle cx="141.34" cy="186.87" r="0.95"/>
<circle cx="140.99" cy="187.17" r="0.95"/>
<circle cx="139.76" cy="188.75" r="0.95"/>
<circle cx="140.78" cy="184.66" r="0.95"/>
<circle cx="143.43" cy="186.29" r="0.95"/>
<circle cx="139.76" cy="186.16" r="0.95"/>
<circle cx="140.1" cy="185.03" r="0.95"/>
<circle cx="138.6" cy="185.51" r="0.95"/>
<circle cx="142.26" cy="186.48" r="0.95"/>
<circle cx="206.67" cy="189.24" r="0.95"/>
<circle cx="206.8" cy="189.36" r="0.95"/>
<circle cx="206.68" cy="189.15" r="0.95"/>
<circle cx="208.02" cy="189.46" r="0.95"/>
<circle cx="197.54" cy="192.16" r="0.95"/>
<circle cx="199.08" cy="191.2" r="0.95"/>
<circle cx="194.34" cy="191.96" r="0.95"/>
<circle cx="198.76" cy="191.16" r="0.95"/>
<circle cx="75.21" cy="193.78" r="0.95"/>
<circle cx="75.1" cy="193.2" r="0.95"/>
<circle cx="75.26" cy="193.11" r="0.95"/>
<circle cx="74" cy="193.68" r="0.95"/>
<circle cx="74.94" cy="193.17" r="0.95"/>
<circle cx="74.61" cy="192.55" r="0.95"/>
<circle cx="73.76" cy="192.54" r="0.95"/>
<circle cx="75.43" cy="193.09" r="0.95"/>
<circle cx="224.11" cy="190.24" r="0.95"/>
<circle cx="225.97" cy="191.85" r="0.95"/>
<circle cx="226.98" cy="192.31" r="0.95"/>
<circle cx="224.8" cy="191.06" r="0.95"/>
<circle cx="226.67" cy="192.34" r="0.95"/>
<circle cx="224.44" cy="191.4" r="0.95"/>
<circle cx="267.03" cy="190.74" r="0.95"/>
<circle cx="273.26" cy="190.47" r="0.95"/>
<circle cx="272.81" cy="190.85" r="0.95"/>
<circle cx="273.19" cy="189.82" r="0.95"/>
<circle cx="268.92" cy="190.57" r="0.95"/>
<circle cx="104.66" cy="194.24" r="0.95"/>
<circle cx="103.2" cy="193.78" r="0.95"/>
<circle cx="101.67" cy="192.26" r="0.95"/>
<circle cx="101.97" cy="192.56" r="0.95"/>
<circle cx="103.68" cy="194.47" r="0.95"/>
<circle cx="105.64" cy="195.3" r="0.95"/>
<circle cx="103.31" cy="193.82" r="0.95"/>
<circle cx="101.91" cy="192.63" r="0.95"/>
<circle cx="104.7" cy="194.7" r="0.95"/>
<circle cx="105.09" cy="195.01" r="0.95"/>
<circle cx="105.44" cy="195.3" r="0.95"/>
<circle cx="203.38" cy="187.42" r="0.95"/>
<circle cx="202.18" cy="187.41" r="0.95"/>
<circle cx="200.39" cy="187.56" r="0.95"/>
<circle cx="203.68" cy="187.74" r="0.95"/>
<circle cx="202.22" cy="187.7" r="0.95"/>
<circle cx="203.08" cy="186.88" r="0.95"/>
<circle cx="198.76" cy="186.9" r="0.95"/>
<circle cx="230.1" cy="189.65" r="0.95"/>
<circle cx="229.66" cy="190.51" r="0.95"/>
<circle cx="228.76" cy="189.39" r="0.95"/>
<circle cx="229.01" cy="189.45" r="0.95"/>
<circle cx="89.71" cy="190.55" r="0.95"/>
<circle cx="90.27" cy="190.98" r="0.95"/>
<circle cx="89.85" cy="190.44" r="0.95"/>
<circle cx="91.31" cy="191.43" r="0.95"/>
<circle cx="90.25" cy="189.87" r="0.95"/>
<circle cx="91.26" cy="190.92" r="0.95"/>
<circle cx="90.38" cy="190.67" r="0.95"/>
<circle cx="90.1" cy="190.72" r="0.95"/>
<circle cx="92.06" cy="191.31" r="0.95"/>
<circle cx="158.52" cy="186.83" r="0.95"/>
<circle cx="157.75" cy="186.04" r="0.95"/>
<circle cx="157.87" cy="186.94" r="0.95"/>
<circle cx="158.47" cy="187.03" r="0.95"/>
<circle cx="261.55" cy="185.57" r="0.95"/>
<circle cx="260.03" cy="185.58" r="0.95"/>
<circle cx="262.66" cy="185.21" r="0.95"/>
<circle cx="260.65" cy="186.38" r="0.95"/>
<circle cx="262.63" cy="185.76" r="0.95"/>
<circle cx="260.78" cy="185.87" r="0.95"/>
<circle cx="112.05" cy="184" r="0.95"/>
<circle cx="111.22" cy="184.33" r="0.95"/>
<circle cx="110.96" cy="184.87" r="0.95"/>
<circle cx="111.55" cy="185.01" r="0.95"/>
<circle cx="111.51" cy="184.62" r="0.95"/>
<circle cx="112.99" cy="184.13" r="0.95"/>
<circle cx="111.4" cy="184.86" r="0.95"/>
<circle cx="108.45" cy="186.29" r="0.95"/>
<circle cx="259.35" cy="193.95" r="0.95"/>
<circle cx="258.39" cy="193.64" r="0.95"/>
<circle cx="260.29" cy="193.67" r="0.95"/>
<circle cx="263.03" cy="194.79" r="0.95"/>
<circle cx="260.15" cy="194.1" r="0.95"/>
<circle cx="262.03" cy="195.09" r="0.95"/>
<circle cx="262.82" cy="195.28" r="0.95"/>
<circle cx="258.34" cy="193.36" r="0.95"/>
<circle cx="261.75" cy="195.3" r="0.95"/>
<circle cx="262.38" cy="195.3" r="0.95"/>
<circle cx="261.91" cy="194.25" r="0.95"/>
<circle cx="221.51" cy="195.3" r="0.95"/>
<circle cx="223.29" cy="195.28" r="0.95"/>
<circle cx="221.11" cy="195.2" r="0.95"/>
<circle cx="216.8" cy="193.66" r="0.95"/>
<circle cx="220.5" cy="194.76" r="0.95"/>
<circle cx="144.93" cy="193.02" r="0.95"/>
<circle cx="147.15" cy="193.64" r="0.95"/>
<circle cx="143.52" cy="191.36" r="0.95"/>
<circle cx="143.58" cy="192.64" r="0.95"/>
<circle cx="147.23" cy="193.12" r="0.95"/>
<circle cx="143.31" cy="192.8" r="0.95"/>
<circle cx="145.76" cy="192.3" r="0.95"/>
<circle cx="146.36" cy="192.81" r="0.95"/>
<circle cx="146.05" cy="192.87" r="0.95"/>
<circle cx="146.12" cy="193.34" r="0.95"/>
<circle cx="145.09" cy="192.73" r="0.95"/>
<circle cx="107.51" cy="185.85" r="0.95"/>
<circle cx="108.23" cy="185.05" r="0.95"/>
<circle cx="112.57" cy="186" r="0.95"/>
<circle cx="109.24" cy="184.99" r="0.95"/>
<circle cx="110.17" cy="186.02" r="0.95"/>
<circle cx="106.21" cy="185.7" r="0.95"/>
<circle cx="260.7" cy="188.72" r="0.95"/>
<circle cx="260.83" cy="188.9" r="0.95"/>
<circle cx="259.62" cy="189.45" r="0.95"/>
<circle cx="262.53" cy="188.02" r="0.95"/>
<circle cx="260.31" cy="188.49" r="0.95"/>
<circle cx="259.79" cy="189.5" r="0.95"/>
<circle cx="262.52" cy="189.07" r="0.95"/>
<circle cx="259.62" cy="190.03" r="0.95"/>
<circle cx="259.96" cy="188.6" r="0.95"/>
<circle cx="259.94" cy="188.72" r="0.95"/>
<circle cx="122.16" cy="192.71" r="0.95"/>
<circle cx="122.37" cy="193.14" r="0.95"/>
<circle cx="125.26" cy="192.78" r="0.95"/>
<circle cx="125.1" cy="192.65" r="0.95"/>
<circle cx="120.86" cy="191.54" r="0.95"/>
<circle cx="126.63" cy="193.34" r="0.95"/>
<circle cx="122.17" cy="192.27" r="0.95"/>
<circle cx="79.5" cy="192.23" r="0.95"/>
<circle cx="79.52" cy="192.33" r="0.95"/>
<circle cx="82.29" cy="193.6" r="0.95"/>
<circle cx="81.16" cy="192.95" r="0.95"/>
<circle cx="80.08" cy="193.51" r="0.95"/>
<circle cx="80.72" cy="193.21" r="0.95"/>
<circle cx="81.48" cy="193.3" r="0.95"/>
<circle cx="119.44" cy="192.14" r="0.95"/>
<circle cx="121.22" cy="192.75" r="0.95"/>
<circle cx="114.27" cy="191.82" r="0.95"/>
<circle cx="114.58" cy="192.04" r="0.95"/>
<circle cx="114.24" cy="192.42" r="0.95"/>
<circle cx="119.56" cy="192.2" r="0.95"/>
<circle cx="120.52" cy="191.91" r="0.95"/>
<circle cx="93.9" cy="187.02" r="0.95"/>
<circle cx="89.02" cy="188.4" r="0.95"/>
<circle cx="88.92" cy="187.76" r="0.95"/>
<circle cx="89.23" cy="188.42" r="0.95"/>
<circle cx="90.49" cy="188.16" r="0.95"/>
<circle cx="91.75" cy="187.53" r="0.95"/>
<circle cx="91.19" cy="187.53" r="0.95"/>
<circle cx="88.77" cy="188.2" r="0.95"/>
<circle cx="93.12" cy="187.87" r="0.95"/>
<circle cx="115.98" cy="189.87" r="0.95"/>
<circle cx="115.53" cy="190.03" r="0.95"/>
<circle cx="110.97" cy="189.53" r="0.95"/>
<circle cx="114.67" cy="189.52" r="0.95"/>
<circle cx="112.45" cy="189.59" r="0.95"/>
<circle cx="265.15" cy="191.63" r="0.95"/>
<circle cx="265.54" cy="192.22" r="0.95"/>
<circle cx="264.02" cy="192.18" r="0.95"/>
<circle cx="267.59" cy="190.45" r="0.95"/>
<circle cx="266.42" cy="191.19" r="0.95"/>
<circle cx="269.27" cy="189.91" r="0.95"/>
<circle cx="196.34" cy="184.17" r="0.95"/>
<circle cx="196.56" cy="183.84" r="0.95"/>
<circle cx="196.15" cy="183.73" r="0.95"/>
<circle cx="195.66" cy="184.65" r="0.95"/>
<circle cx="197.45" cy="184.28" r="0.95"/>
<circle cx="196.24" cy="184.04" r="0.95"/>
<circle cx="193.91" cy="185.99" r="0.95"/>
<circle cx="194.11" cy="185.77" r="0.95"/>
<circle cx="197.21" cy="183.58" r="0.95"/>
<circle cx="197.04" cy="184.27" r="0.95"/>
<circle cx="69.59" cy="190.62" r="0.95"/>
<circle cx="71.21" cy="190.65" r="0.95"/>
<circle cx="71.7" cy="191.29" r="0.95"/>
<circle cx="69.59" cy="191.36" r="0.95"/>
<circle cx="71.5" cy="190.15" r="0.95"/>
<circle cx="72.23" cy="190.32" r="0.95"/>
<circle cx="68.84" cy="190.72" r="0.95"/>
<circle cx="184.9" cy="183.5" r="0.95"/>
<circle cx="183.76" cy="184.77" r="0.95"/>
<circle cx="185.18" cy="184.09" r="0.95"/>
<circle cx="183.84" cy="184.62" r="0.95"/>
<circle cx="74.43" cy="192.59" r="0.95"/>
<circle cx="76.5" cy="193.33" r="0.95"/>
<circle cx="73.6" cy="192.25" r="0.95"/>
<circle cx="72.13" cy="192.7" r="0.95"/>
<circle cx="75.29" cy="192.14" r="0.95"/>
<circle cx="76.39" cy="193.47" r="0.95"/>
<circle cx="73.84" cy="193.33" r="0.95"/>
<circle cx="76.68" cy="194.37" r="0.95"/>
<circle cx="267.11" cy="186.71" r="0.95"/>
<circle cx="268.46" cy="185.41" r="0.95"/>
<circle cx="267.95" cy="186.39" r="0.95"/>
<circle cx="267.52" cy="185.85" r="0.95"/>
<circle cx="267.3" cy="186.72" r="0.95"/>
<circle cx="267.3" cy="186.01" r="0.95"/>
<circle cx="266.1" cy="187.51" r="0.95"/>
<circle cx="268.28" cy="185.98" r="0.95"/>
<circle cx="220.12" cy="191.77" r="0.95"/>
<circle cx="219.54" cy="191.26" r="0.95"/>
<circle cx="216.27" cy="190.85" r="0.95"/>
<circle cx="221.59" cy="191.35" r="0.95"/>
<circle cx="259.83" cy="191.05" r="0.95"/>
<circle cx="258.76" cy="189.94" r="0.95"/>
<circle cx="261.11" cy="189.73" r="0.95"/>
<circle cx="263.47" cy="190.79" r="0.95"/>
<circle cx="263.45" cy="190.41" r="0.95"/>
<circle cx="261.68" cy="190.71" r="0.95"/>
<circle cx="257.45" cy="190.33" r="0.95"/>
<circle cx="260.07" cy="190.8" r="0.95"/>
<circle cx="260.04" cy="189.72" r="0.95"/>
<circle cx="261.49" cy="190.35" r="0.95"/>
<circle cx="258.85" cy="190.73" r="0.95"/>
<circle cx="209.77" cy="187.99" r="0.95"/>
<circle cx="212.32" cy="187.6" r="0.95"/>
<circle cx="210.27" cy="188.35" r="0.95"/>
<circle cx="212.64" cy="187.71" r="0.95"/>
<circle cx="214.02" cy="186.66" r="0.95"/>
<circle cx="213.78" cy="187.93" r="0.95"/>
<circle cx="213.16" cy="187.2" r="0.95"/>
<circle cx="212.68" cy="188.03" r="0.95"/>
<circle cx="213.97" cy="187.26" r="0.95"/>
<circle cx="172.64" cy="185.97" r="0.95"/>
<circle cx="170.94" cy="186.08" r="0.95"/>
<circle cx="171.47" cy="185.41" r="0.95"/>
<circle cx="171.41" cy="186.16" r="0.95"/>
<circle cx="171.87" cy="185.26" r="0.95"/>
<circle cx="169.67" cy="185.37" r="0.95"/>
<circle cx="262.55" cy="188.43" r="0.95"/>
<circle cx="265.14" cy="188.19" r="0.95"/>
<circle cx="267.36" cy="187.48" r="0.95"/>
<circle cx="265.98" cy="188" r="0.95"/>
<circle cx="261.32" cy="189.18" r="0.95"/>
<circle cx="263.94" cy="188.98" r="0.95"/>
<circle cx="262.64" cy="188.63" r="0.95"/>
<circle cx="266.68" cy="188.47" r="0.95"/>
<circle cx="264.48" cy="189.04" r="0.95"/>
<circle cx="267.2" cy="188.12" r="0.95"/>
<circle cx="267.7" cy="188.29" r="0.95"/>
<circle cx="224.58" cy="187.99" r="0.95"/>
<circle cx="224.47" cy="187.65" r="0.95"/>
<circle cx="226.11" cy="186.65" r="0.95"/>
<circle cx="225.98" cy="186.56" r="0.95"/>
<circle cx="245.58" cy="191.85" r="0.95"/>
<circle cx="247.91" cy="189.84" r="0.95"/>
<circle cx="247.35" cy="189.81" r="0.95"/>
<circle cx="246.24" cy="191.28" r="0.95"/>
<circle cx="247.41" cy="189.95" r="0.95"/>
<circle cx="201.72" cy="188.25" r="0.95"/>
<circle cx="201.16" cy="189.01" r="0.95"/>
<circle cx="206.03" cy="188.42" r="0.95"/>
<circle cx="200.45" cy="188.81" r="0.95"/>
<circle cx="206.17" cy="189.02" r="0.95"/>
<circle cx="204.57" cy="189.51" r="0.95"/>
<circle cx="206.69" cy="189.11" r="0.95"/>
<circle cx="206.47" cy="188.73" r="0.95"/>
<circle cx="206.7" cy="189.2" r="0.95"/>
<circle cx="199.41" cy="188.29" r="0.95"/>
<circle cx="96.81" cy="188.53" r="0.95"/>
<circle cx="97.43" cy="188.38" r="0.95"/>
<circle cx="97.15" cy="189.15" r="0.95"/>
<circle cx="99.03" cy="188.07" r="0.95"/>
<circle cx="98.39" cy="188.81" r="0.95"/>
<circle cx="98.58" cy="188.53" r="0.95"/>
<circle cx="96.77" cy="188.33" r="0.95"/>
<circle cx="97.62" cy="188.01" r="0.95"/>
<circle cx="272.43" cy="190.17" r="0.95"/>
<circle cx="270.53" cy="190.42" r="0.95"/>
<circle cx="271.87" cy="189.65" r="0.95"/>
<circle cx="271.7" cy="188.81" r="0.95"/>
<circle cx="270.19" cy="189.43" r="0.95"/>
<circle cx="272.32" cy="189.54" r="0.95"/>
<circle cx="270.08" cy="189.86" r="0.95"/>
<circle cx="164.87" cy="186.26" r="0.95"/>
<circle cx="165.41" cy="185.93" r="0.95"/>
<circle cx="165.65" cy="185.96" r="0.95"/>
<circle cx="165.19" cy="186.48" r="0.95"/>
<circle cx="164.43" cy="185.64" r="0.95"/>
<circle cx="166.16" cy="186.64" r="0.95"/>
<circle cx="165.64" cy="186.48" r="0.95"/>
<circle cx="164.15" cy="185.65" r="0.95"/>
<circle cx="166.92" cy="186.11" r="0.95"/>
<circle cx="163.4" cy="186.46" r="0.95"/>
<circle cx="165.28" cy="186.01" r="0.95"/>
<circle cx="204.53" cy="188.3" r="0.95"/>
<circle cx="208.51" cy="188.13" r="0.95"/>
<circle cx="208.83" cy="187.93" r="0.95"/>
<circle cx="206.96" cy="187.65" r="0.95"/>
<circle cx="205.53" cy="187.95" r="0.95"/>
<circle cx="206.19" cy="187.98" r="0.95"/>
<circle cx="231.97" cy="189.25" r="0.95"/>
<circle cx="229.85" cy="188.9" r="0.95"/>
<circle cx="230.96" cy="189.04" r="0.95"/>
<circle cx="232.32" cy="190.06" r="0.95"/>
<circle cx="232.36" cy="190.2" r="0.95"/>
<circle cx="231.14" cy="188.97" r="0.95"/>
<circle cx="231.57" cy="189.19" r="0.95"/>
<circle cx="230.93" cy="188.74" r="0.95"/>
<circle cx="229.54" cy="189.05" r="0.95"/>
<circle cx="232.07" cy="189.38" r="0.95"/>
<circle cx="89.44" cy="187.74" r="0.95"/>
<circle cx="87.62" cy="188.6" r="0.95"/>
<circle cx="87.42" cy="189.13" r="0.95"/>
<circle cx="87.26" cy="188.79" r="0.95"/>
<circle cx="90.56" cy="187.36" r="0.95"/>
<circle cx="89.93" cy="187.59" r="0.95"/>
<circle cx="86.19" cy="188.69" r="0.95"/>
<circle cx="85.09" cy="190.54" r="0.95"/>
<circle cx="200.82" cy="192.9" r="0.95"/>
<circle cx="199.57" cy="193.32" r="0.95"/>
<circle cx="199.76" cy="193.4" r="0.95"/>
<circle cx="199.98" cy="192.22" r="0.95"/>
<circle cx="200.6" cy="193.1" r="0.95"/>
<circle cx="200.06" cy="192.63" r="0.95"/>
<circle cx="198.15" cy="193.52" r="0.95"/>
<circle cx="111.91" cy="189.41" r="0.95"/>
<circle cx="116.59" cy="190.08" r="0.95"/>
<circle cx="116.27" cy="189.88" r="0.95"/>
<circle cx="114.34" cy="189.36" r="0.95"/>
<circle cx="110.82" cy="189.86" r="0.95"/>
<circle cx="74.84" cy="182.35" r="0.95"/>
<circle cx="75.98" cy="182.91" r="0.95"/>
<circle cx="76.24" cy="183.26" r="0.95"/>
<circle cx="75.33" cy="182.8" r="0.95"/>
<circle cx="74.6" cy="182.06" r="0.95"/>
<circle cx="74.62" cy="183.23" r="0.95"/>
<circle cx="75.25" cy="183.13" r="0.95"/>
<circle cx="76.61" cy="182.91" r="0.95"/>
<circle cx="74.63" cy="182.13" r="0.95"/>
<circle cx="186.77" cy="183.14" r="0.95"/>
<circle cx="186.79" cy="183.21" r="0.95"/>
<circle cx="186.6" cy="183.49" r="0.95"/>
<circle cx="184.98" cy="182.78" r="0.95"/>
<circle cx="184.42" cy="181.94" r="0.95"/>
<circle cx="183.28" cy="181.54" r="0.95"/>
<circle cx="188.59" cy="185.76" r="0.95"/>
<circle cx="188.51" cy="184.43" r="0.95"/>
<circle cx="187.41" cy="183.91" r="0.95"/>
<circle cx="186.79" cy="185.37" r="0.95"/>
<circle cx="214.21" cy="190.34" r="0.95"/>
<circle cx="210.64" cy="190.25" r="0.95"/>
<circle cx="215.8" cy="188.67" r="0.95"/>
<circle cx="211.52" cy="190.16" r="0.95"/>
<circle cx="216.6" cy="188.81" r="0.95"/>
<circle cx="210.91" cy="190.05" r="0.95"/>
<circle cx="211.84" cy="190.27" r="0.95"/>
<circle cx="217.25" cy="189.19" r="0.95"/>
<circle cx="219.05" cy="188.36" r="0.95"/>
<circle cx="211.83" cy="189.25" r="0.95"/>
<circle cx="216.25" cy="188.98" r="0.95"/>
<circle cx="117.01" cy="191.83" r="0.95"/>
<circle cx="117.53" cy="190.74" r="0.95"/>
<circle cx="117.73" cy="191.53" r="0.95"/>
<circle cx="119.74" cy="190.99" r="0.95"/>
<circle cx="119.35" cy="191.84" r="0.95"/>
<circle cx="119.98" cy="191.07" r="0.95"/>
<circle cx="117.12" cy="191.78" r="0.95"/>
<circle cx="115.8" cy="191.87" r="0.95"/>
<circle cx="104.21" cy="191.25" r="0.95"/>
<circle cx="104.05" cy="191.45" r="0.95"/>
<circle cx="105.71" cy="191.39" r="0.95"/>
<circle cx="104.86" cy="191.35" r="0.95"/>
<circle cx="109.82" cy="192.9" r="0.95"/>
<circle cx="104.23" cy="191.54" r="0.95"/>
<circle cx="172.21" cy="183.74" r="0.95"/>
<circle cx="175.6" cy="186.29" r="0.95"/>
<circle cx="176.36" cy="186.4" r="0.95"/>
<circle cx="179.98" cy="188.52" r="0.95"/>
<circle cx="127.48" cy="192.32" r="0.95"/>
<circle cx="127.32" cy="193.09" r="0.95"/>
<circle cx="126.68" cy="191.94" r="0.95"/>
<circle cx="126.88" cy="192.98" r="0.95"/>
<circle cx="127.21" cy="192.75" r="0.95"/>
<circle cx="128.09" cy="192.34" r="0.95"/>
<circle cx="129.43" cy="192.1" r="0.95"/>
<circle cx="127.65" cy="192.01" r="0.95"/>
<circle cx="126.69" cy="192.44" r="0.95"/>
<circle cx="127.94" cy="192.6" r="0.95"/>
<circle cx="127.53" cy="192.15" r="0.95"/>
<circle cx="212.32" cy="189.18" r="0.95"/>
<circle cx="212.8" cy="188.96" r="0.95"/>
<circle cx="210.34" cy="190.41" r="0.95"/>
<circle cx="210.46" cy="189.68" r="0.95"/>
<circle cx="211.93" cy="189.09" r="0.95"/>
<circle cx="212.36" cy="189.44" r="0.95"/>
<circle cx="166.33" cy="190.05" r="0.95"/>
<circle cx="167.87" cy="189.82" r="0.95"/>
<circle cx="164.02" cy="190.47" r="0.95"/>
<circle cx="165.18" cy="191.19" r="0.95"/>
<circle cx="169.27" cy="189.34" r="0.95"/>
<circle cx="164.73" cy="190.66" r="0.95"/>
<circle cx="169.66" cy="188.74" r="0.95"/>
<circle cx="162.95" cy="191.51" r="0.95"/>
<circle cx="166.74" cy="189.61" r="0.95"/>
<circle cx="166.05" cy="190.64" r="0.95"/>
<circle cx="86.76" cy="194" r="0.95"/>
<circle cx="83.89" cy="192.51" r="0.95"/>
<circle cx="81.73" cy="192.71" r="0.95"/>
<circle cx="86.7" cy="193.84" r="0.95"/>
<circle cx="82.79" cy="192.34" r="0.95"/>
<circle cx="80.69" cy="192.08" r="0.95"/>
<circle cx="84.69" cy="193.87" r="0.95"/>
<circle cx="82.62" cy="193.02" r="0.95"/>
<circle cx="85.43" cy="190.65" r="0.95"/>
<circle cx="84.77" cy="190.35" r="0.95"/>
<circle cx="85.66" cy="191.3" r="0.95"/>
<circle cx="82.04" cy="191.79" r="0.95"/>
<circle cx="90.41" cy="193.49" r="0.95"/>
<circle cx="88.81" cy="192.86" r="0.95"/>
<circle cx="96.74" cy="193.54" r="0.95"/>
<circle cx="94.27" cy="193.59" r="0.95"/>
<circle cx="91.33" cy="193.64" r="0.95"/>
<circle cx="91.91" cy="194.2" r="0.95"/>
<circle cx="93.27" cy="193.19" r="0.95"/>
<circle cx="94.86" cy="194.16" r="0.95"/>
<circle cx="89.69" cy="194.03" r="0.95"/>
<circle cx="92.21" cy="193.58" r="0.95"/>
<circle cx="182.79" cy="181.87" r="0.95"/>
<circle cx="183.87" cy="181.55" r="0.95"/>
<circle cx="182.28" cy="181.46" r="0.95"/>
<circle cx="182.21" cy="182.04" r="0.95"/>
<circle cx="182.92" cy="181.39" r="0.95"/>
<circle cx="184.67" cy="180.74" r="0.95"/>
<circle cx="182.64" cy="180.97" r="0.95"/>
<circle cx="184.14" cy="180.74" r="0.95"/>
<circle cx="98.05" cy="195.3" r="0.95"/>
<circle cx="96.92" cy="194.66" r="0.95"/>
<circle cx="95.21" cy="194.28" r="0.95"/>
<circle cx="95.07" cy="194.1" r="0.95"/>
<circle cx="97.32" cy="195.3" r="0.95"/>
<circle cx="97.93" cy="195.3" r="0.95"/>
<circle cx="97.37" cy="195.3" r="0.95"/>
<circle cx="95.5" cy="194.81" r="0.95"/>
<circle cx="95.87" cy="194.42" r="0.95"/>
<circle cx="228.83" cy="191.48" r="0.95"/>
<circle cx="226.92" cy="190.91" r="0.95"/>
<circle cx="228.25" cy="191.99" r="0.95"/>
<circle cx="226.58" cy="192.05" r="0.95"/>
<circle cx="225.84" cy="192.54" r="0.95"/>
<circle cx="230.9" cy="190.07" r="0.95"/>
<circle cx="225.49" cy="193.32" r="0.95"/>
<circle cx="228.46" cy="190.81" r="0.95"/>
<circle cx="230.82" cy="190.75" r="0.95"/>
<circle cx="112.1" cy="189.44" r="0.95"/>
<circle cx="109.97" cy="188.85" r="0.95"/>
<circle cx="112.99" cy="189.22" r="0.95"/>
<circle cx="110.56" cy="188.96" r="0.95"/>
<circle cx="113.74" cy="189.15" r="0.95"/>
<circle cx="110.42" cy="190.36" r="0.95"/>
<circle cx="111.17" cy="189.79" r="0.95"/>
<circle cx="112.52" cy="188.67" r="0.95"/>
<circle cx="113.44" cy="188.6" r="0.95"/>
<circle cx="113.84" cy="189.25" r="0.95"/>
<circle cx="233.96" cy="193.72" r="0.95"/>
<circle cx="232.86" cy="193.63" r="0.95"/>
<circle cx="234.05" cy="193.74" r="0.95"/>
<circle cx="236.76" cy="194.58" r="0.95"/>
<circle cx="236.37" cy="194.75" r="0.95"/>
<circle cx="279.64" cy="185.95" r="0.95"/>
<circle cx="277.41" cy="186.69" r="0.95"/>
<circle cx="277.18" cy="186.66" r="0.95"/>
<circle cx="279.95" cy="185.81" r="0.95"/>
<circle cx="277.66" cy="186.81" r="0.95"/>
<circle cx="277.56" cy="186.32" r="0.95"/>
<circle cx="276.52" cy="186.63" r="0.95"/>
<circle cx="151.22" cy="190.99" r="0.95"/>
<circle cx="152.25" cy="189.99" r="0.95"/>
<circle cx="150" cy="191.63" r="0.95"/>
<circle cx="152.17" cy="190.71" r="0.95"/>
<circle cx="149.44" cy="192.58" r="0.95"/>
<circle cx="149.04" cy="192.2" r="0.95"/>
<circle cx="151.8" cy="190.92" r="0.95"/>
<circle cx="149.13" cy="190.75" r="0.95"/>
<circle cx="151.27" cy="191.08" r="0.95"/>
<circle cx="149.54" cy="192.08" r="0.95"/>
<circle cx="267.27" cy="192.23" r="0.95"/>
<circle cx="265.73" cy="192.06" r="0.95"/>
<circle cx="267.84" cy="192.62" r="0.95"/>
<circle cx="266.1" cy="193.28" r="0.95"/>
<circle cx="266.35" cy="191.76" r="0.95"/>
<circle cx="266.71" cy="191.68" r="0.95"/>
<circle cx="266.36" cy="192.5" r="0.95"/>
<circle cx="265.87" cy="191.81" r="0.95"/>
<circle cx="267.2" cy="192.6" r="0.95"/>
<circle cx="266.08" cy="192.11" r="0.95"/>
<circle cx="185.1" cy="191.52" r="0.95"/>
<circle cx="185.92" cy="192.14" r="0.95"/>
<circle cx="183.31" cy="190.4" r="0.95"/>
<circle cx="183.79" cy="190.5" r="0.95"/>
<circle cx="241" cy="186.89" r="0.95"/>
<circle cx="237.26" cy="186.48" r="0.95"/>
<circle cx="240.8" cy="186.39" r="0.95"/>
<circle cx="241.41" cy="187.05" r="0.95"/>
<circle cx="238.06" cy="186.98" r="0.95"/>
<circle cx="239.18" cy="185.81" r="0.95"/>
<circle cx="235.87" cy="186.61" r="0.95"/>
<circle cx="238.95" cy="186.68" r="0.95"/>
<circle cx="261.76" cy="185.98" r="0.95"/>
<circle cx="261.09" cy="186.36" r="0.95"/>
<circle cx="264.69" cy="187.42" r="0.95"/>
<circle cx="265.98" cy="188.41" r="0.95"/>
<circle cx="263.96" cy="186.63" r="0.95"/>
<circle cx="261.51" cy="186.44" r="0.95"/>
<circle cx="263.86" cy="187.51" r="0.95"/>
<circle cx="84.7" cy="188.73" r="0.95"/>
<circle cx="83.39" cy="189.69" r="0.95"/>
<circle cx="82.82" cy="190.04" r="0.95"/>
<circle cx="83.63" cy="189.25" r="0.95"/>
<circle cx="85.71" cy="190.1" r="0.95"/>
<circle cx="87.15" cy="190.49" r="0.95"/>
<circle cx="85.79" cy="189.97" r="0.95"/>
<circle cx="84.07" cy="189.18" r="0.95"/>
<circle cx="192.25" cy="188.43" r="0.95"/>
<circle cx="192.12" cy="188.12" r="0.95"/>
<circle cx="194.21" cy="188.16" r="0.95"/>
<circle cx="191.42" cy="188.27" r="0.95"/>
<circle cx="194.37" cy="187.45" r="0.95"/>
<circle cx="193.58" cy="188.17" r="0.95"/>
<circle cx="193.6" cy="188.28" r="0.95"/>
<circle cx="194.37" cy="188.87" r="0.95"/>
<circle cx="192.31" cy="188.34" r="0.95"/>
<circle cx="227.99" cy="192.86" r="0.95"/>
<circle cx="230.53" cy="193.39" r="0.95"/>
<circle cx="228.77" cy="193.73" r="0.95"/>
<circle cx="227.85" cy="192.44" r="0.95"/>
<circle cx="228.2" cy="192.19" r="0.95"/>
<circle cx="227.76" cy="192.65" r="0.95"/>
<circle cx="228.37" cy="193.03" r="0.95"/>
<circle cx="224.78" cy="191.62" r="0.95"/>
<circle cx="224.47" cy="191.8" r="0.95"/>
<circle cx="223.98" cy="193.16" r="0.95"/>
<circle cx="222.97" cy="192.76" r="0.95"/>
<circle cx="224.88" cy="192.03" r="0.95"/>
<circle cx="223.33" cy="192.35" r="0.95"/>
<circle cx="225.46" cy="192.16" r="0.95"/>
<circle cx="224.8" cy="192.04" r="0.95"/>
<circle cx="223.97" cy="192.58" r="0.95"/>
<circle cx="224.64" cy="191.96" r="0.95"/>
<circle cx="210.64" cy="194.67" r="0.95"/>
<circle cx="212.6" cy="195.01" r="0.95"/>
<circle cx="211.28" cy="195.12" r="0.95"/>
<circle cx="209.02" cy="193.88" r="0.95"/>
<circle cx="210.92" cy="195.3" r="0.95"/>
<circle cx="210.78" cy="194.65" r="0.95"/>
<circle cx="209.88" cy="194.71" r="0.95"/>
<circle cx="208.28" cy="194.5" r="0.95"/>
<circle cx="209.92" cy="194.58" r="0.95"/>
<circle cx="147.6" cy="183.96" r="0.95"/>
<circle cx="148.67" cy="184.09" r="0.95"/>
<circle cx="149.65" cy="184.78" r="0.95"/>
<circle cx="147.38" cy="184.26" r="0.95"/>
<circle cx="150.32" cy="185.31" r="0.95"/>
<circle cx="148.36" cy="184.47" r="0.95"/>
<circle cx="149.27" cy="184.88" r="0.95"/>
<circle cx="245.84" cy="194.31" r="0.95"/>
<circle cx="248.6" cy="192.85" r="0.95"/>
<circle cx="245.99" cy="194.06" r="0.95"/>
<circle cx="247.14" cy="193.97" r="0.95"/>
<circle cx="246.73" cy="193.97" r="0.95"/>
<circle cx="247.74" cy="192.35" r="0.95"/>
<circle cx="246.6" cy="193.88" r="0.95"/>
<circle cx="247.62" cy="192.96" r="0.95"/>
<circle cx="248.15" cy="192.46" r="0.95"/>
<circle cx="223.87" cy="187.82" r="0.95"/>
<circle cx="225.18" cy="187.32" r="0.95"/>
<circle cx="223.68" cy="187.31" r="0.95"/>
<circle cx="227.07" cy="186.98" r="0.95"/>
<circle cx="224.94" cy="186.82" r="0.95"/>
<circle cx="225.32" cy="187.45" r="0.95"/>
<circle cx="225.13" cy="187.67" r="0.95"/>
<circle cx="214.68" cy="191.13" r="0.95"/>
<circle cx="213.07" cy="190.51" r="0.95"/>
<circle cx="213.07" cy="190.22" r="0.95"/>
<circle cx="217.6" cy="190.02" r="0.95"/>
<circle cx="73.4" cy="176.7" r="0.95"/>
<circle cx="74.4" cy="181" r="0.95"/>
<circle cx="76.1" cy="182.2" r="0.95"/>
<circle cx="105.3" cy="178.7" r="0.95"/>
<circle cx="106.5" cy="178.1" r="0.95"/>
<circle cx="103.6" cy="183.4" r="0.95"/>
<circle cx="109.4" cy="181.6" r="0.95"/>
<circle cx="117.6" cy="174.6" r="0.95"/>
<circle cx="115.8" cy="179.3" r="0.95"/>
<circle cx="120.5" cy="181" r="0.95"/>
<circle cx="143" cy="173.2" r="0.95"/>
<circle cx="141.1" cy="179.7" r="0.95"/>
<circle cx="145.7" cy="178.7" r="0.95"/>
<circle cx="146.7" cy="185.2" r="0.95"/>
<circle cx="165" cy="177.8" r="0.95"/>
<circle cx="168.7" cy="178.7" r="0.95"/>
<circle cx="163.2" cy="180.6" r="0.95"/>
<circle cx="182.2" cy="137.7" r="0.95"/>
<circle cx="182.5" cy="148" r="0.95"/>
<circle cx="181.6" cy="153" r="0.95"/>
<circle cx="180.3" cy="155.4" r="0.95"/>
<circle cx="178.8" cy="161.3" r="0.95"/>
<circle cx="179.2" cy="164" r="0.95"/>
<circle cx="182.5" cy="165.9" r="0.95"/>
<circle cx="180.7" cy="171.4" r="0.95"/>
<circle cx="179.8" cy="174.1" r="0.95"/>
<circle cx="178.5" cy="176" r="0.95"/>
<circle cx="181" cy="168" r="0.95"/>
<circle cx="180" cy="172.5" r="0.95"/>
<circle cx="252.8" cy="177.2" r="0.95"/>
<circle cx="221.3" cy="180.9" r="0.95"/>
<circle cx="218.9" cy="182.2" r="0.95"/>
<circle cx="222.6" cy="184.2" r="0.95"/>
<circle cx="248.6" cy="183.9" r="0.95"/>
<circle cx="260.7" cy="182.8" r="0.95"/>
<circle cx="271.2" cy="182.8" r="0.95"/>
<circle cx="274.5" cy="183.9" r="0.95"/>
<circle cx="275.8" cy="184.8" r="0.95"/>
<circle cx="196.3" cy="184.8" r="0.95"/>
<circle cx="198.9" cy="186.1" r="0.95"/>
<circle cx="56.8" cy="191" r="0.95"/>
<circle cx="61.5" cy="188.6" r="0.95"/>
<circle cx="65" cy="186.3" r="0.95"/>
<circle cx="69.7" cy="185.1" r="0.95"/>
<circle cx="82.5" cy="186.6" r="0.95"/>
<circle cx="95.4" cy="188.6" r="0.95"/>
<circle cx="98.9" cy="188" r="0.95"/>
</g>
<line x1="44.8" y1="134.5" x2="287.5" y2="134.5" stroke="#000" stroke-width="0.7" stroke-dasharray="2,1.95"/>
<rect x="44.5" y="131.3" width="243" height="66.5" fill="none" stroke="#9a9a9a" stroke-width="0.8"/>
<line x1="62.2" y1="197.8" x2="62.2" y2="199" stroke="#333" stroke-width="0.4"/>
<line x1="117.75" y1="197.8" x2="117.75" y2="199" stroke="#333" stroke-width="0.4"/>
<line x1="173.3" y1="197.8" x2="173.3" y2="199" stroke="#333" stroke-width="0.4"/>
<line x1="228.85" y1="197.8" x2="228.85" y2="199" stroke="#333" stroke-width="0.4"/>
<line x1="284.4" y1="197.8" x2="284.4" y2="199" stroke="#333" stroke-width="0.4"/>
<line x1="43.3" y1="195.4" x2="44.5" y2="195.4" stroke="#333" stroke-width="0.4"/>
<line x1="43.3" y1="178" x2="44.5" y2="178" stroke="#333" stroke-width="0.4"/>
<line x1="43.3" y1="160.6" x2="44.5" y2="160.6" stroke="#333" stroke-width="0.4"/>
<line x1="43.3" y1="143.2" x2="44.5" y2="143.2" stroke="#333" stroke-width="0.4"/>
<text x="42.3" y="196.9" font-size="4.3" text-anchor="end" fill="#4d4d4d" font-weight="normal" font-style="normal">0.0</text>
<text x="42.3" y="179.5" font-size="4.3" text-anchor="end" fill="#4d4d4d" font-weight="normal" font-style="normal">2.5</text>
<text x="42.3" y="162.1" font-size="4.3" text-anchor="end" fill="#4d4d4d" font-weight="normal" font-style="normal">5.0</text>
<text x="42.3" y="144.7" font-size="4.3" text-anchor="end" fill="#4d4d4d" font-weight="normal" font-style="normal">7.5</text>
<text x="62.2" y="203.4" font-size="4" text-anchor="middle" fill="#4d4d4d" font-weight="normal" font-style="normal">88250000</text>
<text x="117.75" y="203.4" font-size="4" text-anchor="middle" fill="#4d4d4d" font-weight="normal" font-style="normal">88500000</text>
<text x="173.3" y="203.4" font-size="4" text-anchor="middle" fill="#4d4d4d" font-weight="normal" font-style="normal">88750000</text>
<text x="228.85" y="203.4" font-size="4" text-anchor="middle" fill="#4d4d4d" font-weight="normal" font-style="normal">89000000</text>
<text x="284.4" y="203.4" font-size="4" text-anchor="middle" fill="#4d4d4d" font-weight="normal" font-style="normal">89250000</text>
<text x="166.2" y="209.3" font-size="5" text-anchor="middle" fill="#000" font-weight="normal" font-style="normal">Position on chromosome 16</text>
<text x="33.9" y="165" font-size="5" text-anchor="middle" fill="#000" font-weight="normal" font-style="normal" transform="rotate(-90 33.9 165)">-log10(P)</text>
<text x="317.8" y="8.9" font-size="10.4" text-anchor="start" fill="#000" font-weight="bold" font-style="normal">B</text>
<rect x="338.75" y="30.3" width="155.65" height="161.1" fill="#fff" stroke="none" stroke-width="0.5"/>
<line x1="386.2" y1="30.3" x2="386.2" y2="191.4" stroke="#f4f4f4" stroke-width="0.35"/>
<line x1="421.6" y1="30.3" x2="421.6" y2="191.4" stroke="#f4f4f4" stroke-width="0.35"/>
<line x1="457" y1="30.3" x2="457" y2="191.4" stroke="#f4f4f4" stroke-width="0.35"/>
<line x1="492.4" y1="30.3" x2="492.4" y2="191.4" stroke="#f4f4f4" stroke-width="0.35"/>
<line x1="350.8" y1="30.3" x2="350.8" y2="191.4" stroke="#f4f4f4" stroke-width="0.35"/>
<line x1="338.75" y1="43.32" x2="494.4" y2="43.32" stroke="#f4f4f4" stroke-width="0.35"/>
<line x1="338.75" y1="85.58" x2="494.4" y2="85.58" stroke="#f4f4f4" stroke-width="0.35"/>
<line x1="338.75" y1="127.84" x2="494.4" y2="127.84" stroke="#f4f4f4" stroke-width="0.35"/>
<line x1="338.75" y1="170.1" x2="494.4" y2="170.1" stroke="#f4f4f4" stroke-width="0.35"/>
<line x1="368.5" y1="30.3" x2="368.5" y2="191.4" stroke="#ebebeb" stroke-width="0.55"/>
<line x1="403.9" y1="30.3" x2="403.9" y2="191.4" stroke="#ebebeb" stroke-width="0.55"/>
<line x1="439.3" y1="30.3" x2="439.3" y2="191.4" stroke="#ebebeb" stroke-width="0.55"/>
<line x1="474.7" y1="30.3" x2="474.7" y2="191.4" stroke="#ebebeb" stroke-width="0.55"/>
<line x1="338.75" y1="64.45" x2="494.4" y2="64.45" stroke="#ebebeb" stroke-width="0.55"/>
<line x1="338.75" y1="106.71" x2="494.4" y2="106.71" stroke="#ebebeb" stroke-width="0.55"/>
<line x1="338.75" y1="148.97" x2="494.4" y2="148.97" stroke="#ebebeb" stroke-width="0.55"/>
<line x1="338.75" y1="191.23" x2="494.4" y2="191.23" stroke="#ebebeb" stroke-width="0.55"/>
<line x1="439.3" y1="30.3" x2="439.3" y2="191.4" stroke="#aaaaaa" stroke-width="0.55" stroke-dasharray="2.7,2.65"/>
<line x1="338.75" y1="64.45" x2="494.4" y2="64.45" stroke="#aaaaaa" stroke-width="0.55" stroke-dasharray="2.7,2.65"/>
<g>
<line x1="345.1" y1="65.7" x2="404.1" y2="65.7" stroke="#7a7a7a" stroke-width="1.4"/>
<line x1="345.1" y1="64.7" x2="345.1" y2="66.7" stroke="#555" stroke-width="0.5"/>
<line x1="374.5" y1="51.2" x2="374.5" y2="80" stroke="#000" stroke-width="0.55"/>
<line x1="373.5" y1="51.2" x2="375.5" y2="51.2" stroke="#000" stroke-width="0.55"/>
<line x1="373.5" y1="80" x2="375.5" y2="80" stroke="#000" stroke-width="0.55"/>
<circle cx="374.5" cy="66" r="1.15" fill="#000"/>
<line x1="366.3" y1="67" x2="404.1" y2="67" stroke="#000" stroke-width="0.55"/>
<line x1="366.3" y1="66" x2="366.3" y2="68" stroke="#000" stroke-width="0.55"/>
<line x1="404.1" y1="66" x2="404.1" y2="68" stroke="#000" stroke-width="0.55"/>
<line x1="387.6" y1="56.3" x2="387.6" y2="80.7" stroke="#000" stroke-width="0.55"/>
<line x1="386.6" y1="56.3" x2="388.6" y2="56.3" stroke="#000" stroke-width="0.55"/>
<line x1="386.6" y1="80.7" x2="388.6" y2="80.7" stroke="#000" stroke-width="0.55"/>
<circle cx="387.6" cy="67" r="1.15" fill="#000"/>
<line x1="366.3" y1="80.7" x2="410.4" y2="80.7" stroke="#000" stroke-width="0.55"/>
<line x1="366.3" y1="79.7" x2="366.3" y2="81.7" stroke="#000" stroke-width="0.55"/>
<line x1="410.4" y1="79.7" x2="410.4" y2="81.7" stroke="#000" stroke-width="0.55"/>
<line x1="388.4" y1="68.9" x2="388.4" y2="91.4" stroke="#000" stroke-width="0.55"/>
<line x1="387.4" y1="68.9" x2="389.4" y2="68.9" stroke="#000" stroke-width="0.55"/>
<line x1="387.4" y1="91.4" x2="389.4" y2="91.4" stroke="#000" stroke-width="0.55"/>
<circle cx="388.4" cy="80.7" r="1.15" fill="#000"/>
<line x1="385" y1="76" x2="412.5" y2="76" stroke="#000" stroke-width="0.55"/>
<line x1="385" y1="75" x2="385" y2="77" stroke="#000" stroke-width="0.55"/>
<line x1="412.5" y1="75" x2="412.5" y2="77" stroke="#000" stroke-width="0.55"/>
<line x1="401.1" y1="68" x2="401.1" y2="84.6" stroke="#000" stroke-width="0.55"/>
<line x1="400.1" y1="68" x2="402.1" y2="68" stroke="#000" stroke-width="0.55"/>
<line x1="400.1" y1="84.6" x2="402.1" y2="84.6" stroke="#000" stroke-width="0.55"/>
<circle cx="401.1" cy="76" r="1.15" fill="#000"/>
<line x1="410.4" y1="61.9" x2="427.5" y2="61.9" stroke="#000" stroke-width="0.55"/>
<line x1="410.4" y1="60.9" x2="410.4" y2="62.9" stroke="#000" stroke-width="0.55"/>
<line x1="427.5" y1="60.9" x2="427.5" y2="62.9" stroke="#000" stroke-width="0.55"/>
<line x1="419.2" y1="57.4" x2="419.2" y2="66" stroke="#000" stroke-width="0.55"/>
<line x1="418.2" y1="57.4" x2="420.2" y2="57.4" stroke="#000" stroke-width="0.55"/>
<line x1="418.2" y1="66" x2="420.2" y2="66" stroke="#000" stroke-width="0.55"/>
<circle cx="419.2" cy="61.9" r="1.15" fill="#000"/>
<line x1="469.3" y1="42.1" x2="487.9" y2="42.1" stroke="#000" stroke-width="0.55"/>
<line x1="469.3" y1="41.1" x2="469.3" y2="43.1" stroke="#000" stroke-width="0.55"/>
<line x1="487.9" y1="41.1" x2="487.9" y2="43.1" stroke="#000" stroke-width="0.55"/>
<line x1="478.4" y1="37.3" x2="478.4" y2="46.5" stroke="#000" stroke-width="0.55"/>
<line x1="477.4" y1="37.3" x2="479.4" y2="37.3" stroke="#000" stroke-width="0.55"/>
<line x1="477.4" y1="46.5" x2="479.4" y2="46.5" stroke="#000" stroke-width="0.55"/>
<circle cx="478.4" cy="42.1" r="1.15" fill="#000"/>
<line x1="463.6" y1="54.8" x2="486.7" y2="54.8" stroke="#000" stroke-width="0.55"/>
<line x1="463.6" y1="53.8" x2="463.6" y2="55.8" stroke="#000" stroke-width="0.55"/>
<line x1="486.7" y1="53.8" x2="486.7" y2="55.8" stroke="#000" stroke-width="0.55"/>
<line x1="472.5" y1="47.5" x2="472.5" y2="62.2" stroke="#000" stroke-width="0.55"/>
<line x1="471.5" y1="47.5" x2="473.5" y2="47.5" stroke="#000" stroke-width="0.55"/>
<line x1="471.5" y1="62.2" x2="473.5" y2="62.2" stroke="#000" stroke-width="0.55"/>
<circle cx="472.5" cy="54.8" r="1.15" fill="#000"/>
<line x1="455.4" y1="48.9" x2="469" y2="48.9" stroke="#000" stroke-width="0.55"/>
<line x1="455.4" y1="47.9" x2="455.4" y2="49.9" stroke="#000" stroke-width="0.55"/>
<line x1="469" y1="47.9" x2="469" y2="49.9" stroke="#000" stroke-width="0.55"/>
<line x1="462.5" y1="45.4" x2="462.5" y2="53.6" stroke="#000" stroke-width="0.55"/>
<line x1="461.5" y1="45.4" x2="463.5" y2="45.4" stroke="#000" stroke-width="0.55"/>
<line x1="461.5" y1="53.6" x2="463.5" y2="53.6" stroke="#000" stroke-width="0.55"/>
<circle cx="462.5" cy="48.9" r="1.15" fill="#000"/>
<line x1="403.94" y1="78.92" x2="412.46" y2="78.92" stroke="#000" stroke-width="0.5"/>
<line x1="403.94" y1="78.12" x2="403.94" y2="79.72" stroke="#000" stroke-width="0.5"/>
<line x1="412.46" y1="78.12" x2="412.46" y2="79.72" stroke="#000" stroke-width="0.5"/>
<line x1="409.34" y1="77.13" x2="409.34" y2="82.28" stroke="#000" stroke-width="0.5"/>
<line x1="408.54" y1="77.13" x2="410.14" y2="77.13" stroke="#000" stroke-width="0.5"/>
<line x1="408.54" y1="82.28" x2="410.14" y2="82.28" stroke="#000" stroke-width="0.5"/>
<circle cx="409.34" cy="78.92" r="1.1" fill="#000"/>
<line x1="401.04" y1="75.2" x2="413.32" y2="75.2" stroke="#000" stroke-width="0.5"/>
<line x1="401.04" y1="74.4" x2="401.04" y2="76" stroke="#000" stroke-width="0.5"/>
<line x1="413.32" y1="74.4" x2="413.32" y2="76" stroke="#000" stroke-width="0.5"/>
<line x1="407.83" y1="72.96" x2="407.83" y2="77.72" stroke="#000" stroke-width="0.5"/>
<line x1="407.03" y1="72.96" x2="408.63" y2="72.96" stroke="#000" stroke-width="0.5"/>
<line x1="407.03" y1="77.72" x2="408.63" y2="77.72" stroke="#000" stroke-width="0.5"/>
<circle cx="407.83" cy="75.2" r="1.1" fill="#000"/>
<line x1="419.68" y1="69.62" x2="429.39" y2="69.62" stroke="#000" stroke-width="0.5"/>
<line x1="419.68" y1="68.82" x2="419.68" y2="70.42" stroke="#000" stroke-width="0.5"/>
<line x1="429.39" y1="68.82" x2="429.39" y2="70.42" stroke="#000" stroke-width="0.5"/>
<line x1="423.23" y1="66.78" x2="423.23" y2="72.15" stroke="#000" stroke-width="0.5"/>
<line x1="422.43" y1="66.78" x2="424.03" y2="66.78" stroke="#000" stroke-width="0.5"/>
<line x1="422.43" y1="72.15" x2="424.03" y2="72.15" stroke="#000" stroke-width="0.5"/>
<circle cx="423.23" cy="69.62" r="1.1" fill="#000"/>
<line x1="420.31" y1="70.71" x2="431.05" y2="70.71" stroke="#000" stroke-width="0.5"/>
<line x1="420.31" y1="69.91" x2="420.31" y2="71.51" stroke="#000" stroke-width="0.5"/>
<line x1="431.05" y1="69.91" x2="431.05" y2="71.51" stroke="#000" stroke-width="0.5"/>
<line x1="427.24" y1="68.1" x2="427.24" y2="73.17" stroke="#000" stroke-width="0.5"/>
<line x1="426.44" y1="68.1" x2="428.04" y2="68.1" stroke="#000" stroke-width="0.5"/>
<line x1="426.44" y1="73.17" x2="428.04" y2="73.17" stroke="#000" stroke-width="0.5"/>
<circle cx="427.24" cy="70.71" r="1.1" fill="#000"/>
<line x1="411.24" y1="70.38" x2="421.39" y2="70.38" stroke="#000" stroke-width="0.5"/>
<line x1="411.24" y1="69.58" x2="411.24" y2="71.18" stroke="#000" stroke-width="0.5"/>
<line x1="421.39" y1="69.58" x2="421.39" y2="71.18" stroke="#000" stroke-width="0.5"/>
<line x1="415.19" y1="67.14" x2="415.19" y2="72.14" stroke="#000" stroke-width="0.5"/>
<line x1="414.39" y1="67.14" x2="415.99" y2="67.14" stroke="#000" stroke-width="0.5"/>
<line x1="414.39" y1="72.14" x2="415.99" y2="72.14" stroke="#000" stroke-width="0.5"/>
<circle cx="415.19" cy="70.38" r="1.1" fill="#000"/>
<line x1="414.81" y1="71.1" x2="424.73" y2="71.1" stroke="#000" stroke-width="0.5"/>
<line x1="414.81" y1="70.3" x2="414.81" y2="71.9" stroke="#000" stroke-width="0.5"/>
<line x1="424.73" y1="70.3" x2="424.73" y2="71.9" stroke="#000" stroke-width="0.5"/>
<line x1="418.14" y1="68.74" x2="418.14" y2="72.89" stroke="#000" stroke-width="0.5"/>
<line x1="417.34" y1="68.74" x2="418.94" y2="68.74" stroke="#000" stroke-width="0.5"/>
<line x1="417.34" y1="72.89" x2="418.94" y2="72.89" stroke="#000" stroke-width="0.5"/>
<circle cx="418.14" cy="71.1" r="1.1" fill="#000"/>
<line x1="416.9" y1="73.07" x2="427.38" y2="73.07" stroke="#000" stroke-width="0.5"/>
<line x1="416.9" y1="72.27" x2="416.9" y2="73.87" stroke="#000" stroke-width="0.5"/>
<line x1="427.38" y1="72.27" x2="427.38" y2="73.87" stroke="#000" stroke-width="0.5"/>
<line x1="423.51" y1="71.5" x2="423.51" y2="74.97" stroke="#000" stroke-width="0.5"/>
<line x1="422.71" y1="71.5" x2="424.31" y2="71.5" stroke="#000" stroke-width="0.5"/>
<line x1="422.71" y1="74.97" x2="424.31" y2="74.97" stroke="#000" stroke-width="0.5"/>
<circle cx="423.51" cy="73.07" r="1.1" fill="#000"/>
<line x1="408.36" y1="69.03" x2="420.78" y2="69.03" stroke="#000" stroke-width="0.5"/>
<line x1="408.36" y1="68.23" x2="408.36" y2="69.83" stroke="#000" stroke-width="0.5"/>
<line x1="420.78" y1="68.23" x2="420.78" y2="69.83" stroke="#000" stroke-width="0.5"/>
<line x1="414.99" y1="66.86" x2="414.99" y2="70.57" stroke="#000" stroke-width="0.5"/>
<line x1="414.19" y1="66.86" x2="415.79" y2="66.86" stroke="#000" stroke-width="0.5"/>
<line x1="414.19" y1="70.57" x2="415.79" y2="70.57" stroke="#000" stroke-width="0.5"/>
<circle cx="414.99" cy="69.03" r="1.1" fill="#000"/>
<line x1="405.32" y1="72.35" x2="415.92" y2="72.35" stroke="#000" stroke-width="0.5"/>
<line x1="405.32" y1="71.55" x2="405.32" y2="73.15" stroke="#000" stroke-width="0.5"/>
<line x1="415.92" y1="71.55" x2="415.92" y2="73.15" stroke="#000" stroke-width="0.5"/>
<line x1="410.16" y1="70.74" x2="410.16" y2="73.91" stroke="#000" stroke-width="0.5"/>
<line x1="409.36" y1="70.74" x2="410.96" y2="70.74" stroke="#000" stroke-width="0.5"/>
<line x1="409.36" y1="73.91" x2="410.96" y2="73.91" stroke="#000" stroke-width="0.5"/>
<circle cx="410.16" cy="72.35" r="1.1" fill="#000"/>
<line x1="423.76" y1="64.39" x2="432.26" y2="64.39" stroke="#000" stroke-width="0.5"/>
<line x1="423.76" y1="63.59" x2="423.76" y2="65.19" stroke="#000" stroke-width="0.5"/>
<line x1="432.26" y1="63.59" x2="432.26" y2="65.19" stroke="#000" stroke-width="0.5"/>
<line x1="427.99" y1="62.71" x2="427.99" y2="66.24" stroke="#000" stroke-width="0.5"/>
<line x1="427.19" y1="62.71" x2="428.79" y2="62.71" stroke="#000" stroke-width="0.5"/>
<line x1="427.19" y1="66.24" x2="428.79" y2="66.24" stroke="#000" stroke-width="0.5"/>
<circle cx="427.99" cy="64.39" r="1.1" fill="#000"/>
<line x1="401.77" y1="78.12" x2="410.15" y2="78.12" stroke="#000" stroke-width="0.5"/>
<line x1="401.77" y1="77.32" x2="401.77" y2="78.92" stroke="#000" stroke-width="0.5"/>
<line x1="410.15" y1="77.32" x2="410.15" y2="78.92" stroke="#000" stroke-width="0.5"/>
<line x1="406.64" y1="75.14" x2="406.64" y2="80.01" stroke="#000" stroke-width="0.5"/>
<line x1="405.84" y1="75.14" x2="407.44" y2="75.14" stroke="#000" stroke-width="0.5"/>
<line x1="405.84" y1="80.01" x2="407.44" y2="80.01" stroke="#000" stroke-width="0.5"/>
<circle cx="406.64" cy="78.12" r="1.1" fill="#000"/>
<line x1="401.03" y1="77.24" x2="410.72" y2="77.24" stroke="#000" stroke-width="0.5"/>
<line x1="401.03" y1="76.44" x2="401.03" y2="78.04" stroke="#000" stroke-width="0.5"/>
<line x1="410.72" y1="76.44" x2="410.72" y2="78.04" stroke="#000" stroke-width="0.5"/>
<line x1="407.61" y1="74.13" x2="407.61" y2="79.12" stroke="#000" stroke-width="0.5"/>
<line x1="406.81" y1="74.13" x2="408.41" y2="74.13" stroke="#000" stroke-width="0.5"/>
<line x1="406.81" y1="79.12" x2="408.41" y2="79.12" stroke="#000" stroke-width="0.5"/>
<circle cx="407.61" cy="77.24" r="1.1" fill="#000"/>
<line x1="404.24" y1="74.63" x2="414.32" y2="74.63" stroke="#000" stroke-width="0.5"/>
<line x1="404.24" y1="73.83" x2="404.24" y2="75.43" stroke="#000" stroke-width="0.5"/>
<line x1="414.32" y1="73.83" x2="414.32" y2="75.43" stroke="#000" stroke-width="0.5"/>
<line x1="408.42" y1="72.14" x2="408.42" y2="77.84" stroke="#000" stroke-width="0.5"/>
<line x1="407.62" y1="72.14" x2="409.22" y2="72.14" stroke="#000" stroke-width="0.5"/>
<line x1="407.62" y1="77.84" x2="409.22" y2="77.84" stroke="#000" stroke-width="0.5"/>
<circle cx="408.42" cy="74.63" r="1.1" fill="#000"/>
<line x1="407.61" y1="75.44" x2="418.56" y2="75.44" stroke="#000" stroke-width="0.5"/>
<line x1="407.61" y1="74.64" x2="407.61" y2="76.24" stroke="#000" stroke-width="0.5"/>
<line x1="418.56" y1="74.64" x2="418.56" y2="76.24" stroke="#000" stroke-width="0.5"/>
<line x1="411.65" y1="72.06" x2="411.65" y2="77.62" stroke="#000" stroke-width="0.5"/>
<line x1="410.85" y1="72.06" x2="412.45" y2="72.06" stroke="#000" stroke-width="0.5"/>
<line x1="410.85" y1="77.62" x2="412.45" y2="77.62" stroke="#000" stroke-width="0.5"/>
<circle cx="411.65" cy="75.44" r="1.1" fill="#000"/>
<line x1="411.35" y1="75.98" x2="420.5" y2="75.98" stroke="#000" stroke-width="0.5"/>
<line x1="411.35" y1="75.18" x2="411.35" y2="76.78" stroke="#000" stroke-width="0.5"/>
<line x1="420.5" y1="75.18" x2="420.5" y2="76.78" stroke="#000" stroke-width="0.5"/>
<line x1="417.34" y1="74.35" x2="417.34" y2="78.29" stroke="#000" stroke-width="0.5"/>
<line x1="416.54" y1="74.35" x2="418.14" y2="74.35" stroke="#000" stroke-width="0.5"/>
<line x1="416.54" y1="78.29" x2="418.14" y2="78.29" stroke="#000" stroke-width="0.5"/>
<circle cx="417.34" cy="75.98" r="1.1" fill="#000"/>
<line x1="406.41" y1="79.86" x2="417.56" y2="79.86" stroke="#000" stroke-width="0.5"/>
<line x1="406.41" y1="79.06" x2="406.41" y2="80.66" stroke="#000" stroke-width="0.5"/>
<line x1="417.56" y1="79.06" x2="417.56" y2="80.66" stroke="#000" stroke-width="0.5"/>
<line x1="412.37" y1="77.04" x2="412.37" y2="82.75" stroke="#000" stroke-width="0.5"/>
<line x1="411.57" y1="77.04" x2="413.17" y2="77.04" stroke="#000" stroke-width="0.5"/>
<line x1="411.57" y1="82.75" x2="413.17" y2="82.75" stroke="#000" stroke-width="0.5"/>
<circle cx="412.37" cy="79.86" r="1.1" fill="#000"/>
<line x1="422.71" y1="66.73" x2="431.81" y2="66.73" stroke="#000" stroke-width="0.5"/>
<line x1="422.71" y1="65.93" x2="422.71" y2="67.53" stroke="#000" stroke-width="0.5"/>
<line x1="431.81" y1="65.93" x2="431.81" y2="67.53" stroke="#000" stroke-width="0.5"/>
<line x1="426.31" y1="64.94" x2="426.31" y2="69.12" stroke="#000" stroke-width="0.5"/>
<line x1="425.51" y1="64.94" x2="427.11" y2="64.94" stroke="#000" stroke-width="0.5"/>
<line x1="425.51" y1="69.12" x2="427.11" y2="69.12" stroke="#000" stroke-width="0.5"/>
<circle cx="426.31" cy="66.73" r="1.1" fill="#000"/>
<line x1="420.41" y1="69.85" x2="429.59" y2="69.85" stroke="#000" stroke-width="0.5"/>
<line x1="420.41" y1="69.05" x2="420.41" y2="70.65" stroke="#000" stroke-width="0.5"/>
<line x1="429.59" y1="69.05" x2="429.59" y2="70.65" stroke="#000" stroke-width="0.5"/>
<line x1="426.44" y1="67.63" x2="426.44" y2="71.67" stroke="#000" stroke-width="0.5"/>
<line x1="425.64" y1="67.63" x2="427.24" y2="67.63" stroke="#000" stroke-width="0.5"/>
<line x1="425.64" y1="71.67" x2="427.24" y2="71.67" stroke="#000" stroke-width="0.5"/>
<circle cx="426.44" cy="69.85" r="1.1" fill="#000"/>
<line x1="427.99" y1="66.44" x2="436.4" y2="66.44" stroke="#000" stroke-width="0.5"/>
<line x1="427.99" y1="65.64" x2="427.99" y2="67.24" stroke="#000" stroke-width="0.5"/>
<line x1="436.4" y1="65.64" x2="436.4" y2="67.24" stroke="#000" stroke-width="0.5"/>
<line x1="431.97" y1="64.82" x2="431.97" y2="69.68" stroke="#000" stroke-width="0.5"/>
<line x1="431.17" y1="64.82" x2="432.77" y2="64.82" stroke="#000" stroke-width="0.5"/>
<line x1="431.17" y1="69.68" x2="432.77" y2="69.68" stroke="#000" stroke-width="0.5"/>
<circle cx="431.97" cy="66.44" r="1.1" fill="#000"/>
<line x1="417.55" y1="68.89" x2="425.86" y2="68.89" stroke="#000" stroke-width="0.5"/>
<line x1="417.55" y1="68.09" x2="417.55" y2="69.69" stroke="#000" stroke-width="0.5"/>
<line x1="425.86" y1="68.09" x2="425.86" y2="69.69" stroke="#000" stroke-width="0.5"/>
<line x1="422.55" y1="66.17" x2="422.55" y2="70.85" stroke="#000" stroke-width="0.5"/>
<line x1="421.75" y1="66.17" x2="423.35" y2="66.17" stroke="#000" stroke-width="0.5"/>
<line x1="421.75" y1="70.85" x2="423.35" y2="70.85" stroke="#000" stroke-width="0.5"/>
<circle cx="422.55" cy="68.89" r="1.1" fill="#000"/>
<line x1="401.78" y1="77.44" x2="412.55" y2="77.44" stroke="#000" stroke-width="0.5"/>
<line x1="401.78" y1="76.64" x2="401.78" y2="78.24" stroke="#000" stroke-width="0.5"/>
<line x1="412.55" y1="76.64" x2="412.55" y2="78.24" stroke="#000" stroke-width="0.5"/>
<line x1="407" y1="75.29" x2="407" y2="80.23" stroke="#000" stroke-width="0.5"/>
<line x1="406.2" y1="75.29" x2="407.8" y2="75.29" stroke="#000" stroke-width="0.5"/>
<line x1="406.2" y1="80.23" x2="407.8" y2="80.23" stroke="#000" stroke-width="0.5"/>
<circle cx="407" cy="77.44" r="1.1" fill="#000"/>
<line x1="410.89" y1="72.9" x2="419.73" y2="72.9" stroke="#000" stroke-width="0.5"/>
<line x1="410.89" y1="72.1" x2="410.89" y2="73.7" stroke="#000" stroke-width="0.5"/>
<line x1="419.73" y1="72.1" x2="419.73" y2="73.7" stroke="#000" stroke-width="0.5"/>
<line x1="415.15" y1="69.57" x2="415.15" y2="74.63" stroke="#000" stroke-width="0.5"/>
<line x1="414.35" y1="69.57" x2="415.95" y2="69.57" stroke="#000" stroke-width="0.5"/>
<line x1="414.35" y1="74.63" x2="415.95" y2="74.63" stroke="#000" stroke-width="0.5"/>
<circle cx="415.15" cy="72.9" r="1.1" fill="#000"/>
<line x1="401.39" y1="77.61" x2="414.87" y2="77.61" stroke="#000" stroke-width="0.5"/>
<line x1="401.39" y1="76.81" x2="401.39" y2="78.41" stroke="#000" stroke-width="0.5"/>
<line x1="414.87" y1="76.81" x2="414.87" y2="78.41" stroke="#000" stroke-width="0.5"/>
<line x1="408.24" y1="74.71" x2="408.24" y2="79.25" stroke="#000" stroke-width="0.5"/>
<line x1="407.44" y1="74.71" x2="409.04" y2="74.71" stroke="#000" stroke-width="0.5"/>
<line x1="407.44" y1="79.25" x2="409.04" y2="79.25" stroke="#000" stroke-width="0.5"/>
<circle cx="408.24" cy="77.61" r="1.1" fill="#000"/>
<line x1="423.39" y1="71.79" x2="431.83" y2="71.79" stroke="#000" stroke-width="0.5"/>
<line x1="423.39" y1="70.99" x2="423.39" y2="72.59" stroke="#000" stroke-width="0.5"/>
<line x1="431.83" y1="70.99" x2="431.83" y2="72.59" stroke="#000" stroke-width="0.5"/>
<line x1="426.97" y1="70.19" x2="426.97" y2="74.9" stroke="#000" stroke-width="0.5"/>
<line x1="426.17" y1="70.19" x2="427.77" y2="70.19" stroke="#000" stroke-width="0.5"/>
<line x1="426.17" y1="74.9" x2="427.77" y2="74.9" stroke="#000" stroke-width="0.5"/>
<circle cx="426.97" cy="71.79" r="1.1" fill="#000"/>
<line x1="418.64" y1="67.89" x2="428.75" y2="67.89" stroke="#000" stroke-width="0.5"/>
<line x1="418.64" y1="67.09" x2="418.64" y2="68.69" stroke="#000" stroke-width="0.5"/>
<line x1="428.75" y1="67.09" x2="428.75" y2="68.69" stroke="#000" stroke-width="0.5"/>
<line x1="424.68" y1="64.81" x2="424.68" y2="69.89" stroke="#000" stroke-width="0.5"/>
<line x1="423.88" y1="64.81" x2="425.48" y2="64.81" stroke="#000" stroke-width="0.5"/>
<line x1="423.88" y1="69.89" x2="425.48" y2="69.89" stroke="#000" stroke-width="0.5"/>
<circle cx="424.68" cy="67.89" r="1.1" fill="#000"/>
<line x1="404.59" y1="75.43" x2="413.73" y2="75.43" stroke="#000" stroke-width="0.5"/>
<line x1="404.59" y1="74.63" x2="404.59" y2="76.23" stroke="#000" stroke-width="0.5"/>
<line x1="413.73" y1="74.63" x2="413.73" y2="76.23" stroke="#000" stroke-width="0.5"/>
<line x1="409.59" y1="72.72" x2="409.59" y2="78.14" stroke="#000" stroke-width="0.5"/>
<line x1="408.79" y1="72.72" x2="410.39" y2="72.72" stroke="#000" stroke-width="0.5"/>
<line x1="408.79" y1="78.14" x2="410.39" y2="78.14" stroke="#000" stroke-width="0.5"/>
<circle cx="409.59" cy="75.43" r="1.1" fill="#000"/>
<line x1="449.68" y1="61.34" x2="458.96" y2="61.34" stroke="#000" stroke-width="0.5"/>
<line x1="449.68" y1="60.54" x2="449.68" y2="62.14" stroke="#000" stroke-width="0.5"/>
<line x1="458.96" y1="60.54" x2="458.96" y2="62.14" stroke="#000" stroke-width="0.5"/>
<line x1="453.76" y1="59.26" x2="453.76" y2="64.44" stroke="#000" stroke-width="0.5"/>
<line x1="452.96" y1="59.26" x2="454.56" y2="59.26" stroke="#000" stroke-width="0.5"/>
<line x1="452.96" y1="64.44" x2="454.56" y2="64.44" stroke="#000" stroke-width="0.5"/>
<circle cx="453.76" cy="61.34" r="1.1" fill="#000"/>
<line x1="452.94" y1="59.14" x2="462.52" y2="59.14" stroke="#000" stroke-width="0.5"/>
<line x1="452.94" y1="58.34" x2="452.94" y2="59.94" stroke="#000" stroke-width="0.5"/>
<line x1="462.52" y1="58.34" x2="462.52" y2="59.94" stroke="#000" stroke-width="0.5"/>
<line x1="457.96" y1="57.12" x2="457.96" y2="62.59" stroke="#000" stroke-width="0.5"/>
<line x1="457.16" y1="57.12" x2="458.76" y2="57.12" stroke="#000" stroke-width="0.5"/>
<line x1="457.16" y1="62.59" x2="458.76" y2="62.59" stroke="#000" stroke-width="0.5"/>
<circle cx="457.96" cy="59.14" r="1.1" fill="#000"/>
<line x1="445.66" y1="63.65" x2="453.39" y2="63.65" stroke="#000" stroke-width="0.5"/>
<line x1="445.66" y1="62.85" x2="445.66" y2="64.45" stroke="#000" stroke-width="0.5"/>
<line x1="453.39" y1="62.85" x2="453.39" y2="64.45" stroke="#000" stroke-width="0.5"/>
<line x1="450.31" y1="61.84" x2="450.31" y2="66.75" stroke="#000" stroke-width="0.5"/>
<line x1="449.51" y1="61.84" x2="451.11" y2="61.84" stroke="#000" stroke-width="0.5"/>
<line x1="449.51" y1="66.75" x2="451.11" y2="66.75" stroke="#000" stroke-width="0.5"/>
<circle cx="450.31" cy="63.65" r="1.1" fill="#000"/>
<line x1="461.11" y1="54.87" x2="472.08" y2="54.87" stroke="#000" stroke-width="0.5"/>
<line x1="461.11" y1="54.07" x2="461.11" y2="55.67" stroke="#000" stroke-width="0.5"/>
<line x1="472.08" y1="54.07" x2="472.08" y2="55.67" stroke="#000" stroke-width="0.5"/>
<line x1="466.81" y1="52.77" x2="466.81" y2="57.66" stroke="#000" stroke-width="0.5"/>
<line x1="466.01" y1="52.77" x2="467.61" y2="52.77" stroke="#000" stroke-width="0.5"/>
<line x1="466.01" y1="57.66" x2="467.61" y2="57.66" stroke="#000" stroke-width="0.5"/>
<circle cx="466.81" cy="54.87" r="1.1" fill="#000"/>
<line x1="450.53" y1="59.49" x2="461.23" y2="59.49" stroke="#000" stroke-width="0.5"/>
<line x1="450.53" y1="58.69" x2="450.53" y2="60.29" stroke="#000" stroke-width="0.5"/>
<line x1="461.23" y1="58.69" x2="461.23" y2="60.29" stroke="#000" stroke-width="0.5"/>
<line x1="456.16" y1="56.5" x2="456.16" y2="62.11" stroke="#000" stroke-width="0.5"/>
<line x1="455.36" y1="56.5" x2="456.96" y2="56.5" stroke="#000" stroke-width="0.5"/>
<line x1="455.36" y1="62.11" x2="456.96" y2="62.11" stroke="#000" stroke-width="0.5"/>
<circle cx="456.16" cy="59.49" r="1.1" fill="#000"/>
<line x1="462.09" y1="52.48" x2="469.98" y2="52.48" stroke="#000" stroke-width="0.5"/>
<line x1="462.09" y1="51.68" x2="462.09" y2="53.28" stroke="#000" stroke-width="0.5"/>
<line x1="469.98" y1="51.68" x2="469.98" y2="53.28" stroke="#000" stroke-width="0.5"/>
<line x1="466.79" y1="49.87" x2="466.79" y2="55.61" stroke="#000" stroke-width="0.5"/>
<line x1="465.99" y1="49.87" x2="467.59" y2="49.87" stroke="#000" stroke-width="0.5"/>
<line x1="465.99" y1="55.61" x2="467.59" y2="55.61" stroke="#000" stroke-width="0.5"/>
<circle cx="466.79" cy="52.48" r="1.1" fill="#000"/>
<line x1="460.44" y1="53" x2="470.58" y2="53" stroke="#000" stroke-width="0.5"/>
<line x1="460.44" y1="52.2" x2="460.44" y2="53.8" stroke="#000" stroke-width="0.5"/>
<line x1="470.58" y1="52.2" x2="470.58" y2="53.8" stroke="#000" stroke-width="0.5"/>
<line x1="464.93" y1="51.28" x2="464.93" y2="56.25" stroke="#000" stroke-width="0.5"/>
<line x1="464.13" y1="51.28" x2="465.73" y2="51.28" stroke="#000" stroke-width="0.5"/>
<line x1="464.13" y1="56.25" x2="465.73" y2="56.25" stroke="#000" stroke-width="0.5"/>
<circle cx="464.93" cy="53" r="1.1" fill="#000"/>
<line x1="452.05" y1="62.4" x2="461.28" y2="62.4" stroke="#000" stroke-width="0.5"/>
<line x1="452.05" y1="61.6" x2="452.05" y2="63.2" stroke="#000" stroke-width="0.5"/>
<line x1="461.28" y1="61.6" x2="461.28" y2="63.2" stroke="#000" stroke-width="0.5"/>
<line x1="456.91" y1="60.05" x2="456.91" y2="65.61" stroke="#000" stroke-width="0.5"/>
<line x1="456.11" y1="60.05" x2="457.71" y2="60.05" stroke="#000" stroke-width="0.5"/>
<line x1="456.11" y1="65.61" x2="457.71" y2="65.61" stroke="#000" stroke-width="0.5"/>
<circle cx="456.91" cy="62.4" r="1.1" fill="#000"/>
<line x1="447.07" y1="62.92" x2="455.89" y2="62.92" stroke="#000" stroke-width="0.5"/>
<line x1="447.07" y1="62.12" x2="447.07" y2="63.72" stroke="#000" stroke-width="0.5"/>
<line x1="455.89" y1="62.12" x2="455.89" y2="63.72" stroke="#000" stroke-width="0.5"/>
<line x1="451.31" y1="60.42" x2="451.31" y2="64.68" stroke="#000" stroke-width="0.5"/>
<line x1="450.51" y1="60.42" x2="452.11" y2="60.42" stroke="#000" stroke-width="0.5"/>
<line x1="450.51" y1="64.68" x2="452.11" y2="64.68" stroke="#000" stroke-width="0.5"/>
<circle cx="451.31" cy="62.92" r="1.1" fill="#000"/>
<line x1="457.25" y1="57.65" x2="463.49" y2="57.65" stroke="#000" stroke-width="0.5"/>
<line x1="457.25" y1="56.85" x2="457.25" y2="58.45" stroke="#000" stroke-width="0.5"/>
<line x1="463.49" y1="56.85" x2="463.49" y2="58.45" stroke="#000" stroke-width="0.5"/>
<line x1="460.29" y1="55.23" x2="460.29" y2="61.1" stroke="#000" stroke-width="0.5"/>
<line x1="459.49" y1="55.23" x2="461.09" y2="55.23" stroke="#000" stroke-width="0.5"/>
<line x1="459.49" y1="61.1" x2="461.09" y2="61.1" stroke="#000" stroke-width="0.5"/>
<circle cx="460.29" cy="57.65" r="1.1" fill="#000"/>
<line x1="444.45" y1="59.05" x2="452.42" y2="59.05" stroke="#000" stroke-width="0.5"/>
<line x1="444.45" y1="58.25" x2="444.45" y2="59.85" stroke="#000" stroke-width="0.5"/>
<line x1="452.42" y1="58.25" x2="452.42" y2="59.85" stroke="#000" stroke-width="0.5"/>
<line x1="449.06" y1="56.71" x2="449.06" y2="60.96" stroke="#000" stroke-width="0.5"/>
<line x1="448.26" y1="56.71" x2="449.86" y2="56.71" stroke="#000" stroke-width="0.5"/>
<line x1="448.26" y1="60.96" x2="449.86" y2="60.96" stroke="#000" stroke-width="0.5"/>
<circle cx="449.06" cy="59.05" r="1.1" fill="#000"/>
<line x1="461.28" y1="53.81" x2="468.91" y2="53.81" stroke="#000" stroke-width="0.5"/>
<line x1="461.28" y1="53.01" x2="461.28" y2="54.61" stroke="#000" stroke-width="0.5"/>
<line x1="468.91" y1="53.01" x2="468.91" y2="54.61" stroke="#000" stroke-width="0.5"/>
<line x1="465.14" y1="50.58" x2="465.14" y2="56.85" stroke="#000" stroke-width="0.5"/>
<line x1="464.34" y1="50.58" x2="465.94" y2="50.58" stroke="#000" stroke-width="0.5"/>
<line x1="464.34" y1="56.85" x2="465.94" y2="56.85" stroke="#000" stroke-width="0.5"/>
<circle cx="465.14" cy="53.81" r="1.1" fill="#000"/>
<line x1="453.26" y1="56.03" x2="464.38" y2="56.03" stroke="#000" stroke-width="0.5"/>
<line x1="453.26" y1="55.23" x2="453.26" y2="56.83" stroke="#000" stroke-width="0.5"/>
<line x1="464.38" y1="55.23" x2="464.38" y2="56.83" stroke="#000" stroke-width="0.5"/>
<line x1="458.47" y1="54.37" x2="458.47" y2="57.85" stroke="#000" stroke-width="0.5"/>
<line x1="457.67" y1="54.37" x2="459.27" y2="54.37" stroke="#000" stroke-width="0.5"/>
<line x1="457.67" y1="57.85" x2="459.27" y2="57.85" stroke="#000" stroke-width="0.5"/>
<circle cx="458.47" cy="56.03" r="1.1" fill="#000"/>
<line x1="453.48" y1="58.32" x2="459.86" y2="58.32" stroke="#000" stroke-width="0.5"/>
<line x1="453.48" y1="57.52" x2="453.48" y2="59.12" stroke="#000" stroke-width="0.5"/>
<line x1="459.86" y1="57.52" x2="459.86" y2="59.12" stroke="#000" stroke-width="0.5"/>
<line x1="456.7" y1="56.38" x2="456.7" y2="60.59" stroke="#000" stroke-width="0.5"/>
<line x1="455.9" y1="56.38" x2="457.5" y2="56.38" stroke="#000" stroke-width="0.5"/>
<line x1="455.9" y1="60.59" x2="457.5" y2="60.59" stroke="#000" stroke-width="0.5"/>
<circle cx="456.7" cy="58.32" r="1.1" fill="#000"/>
<line x1="462.66" y1="53.62" x2="468.88" y2="53.62" stroke="#000" stroke-width="0.5"/>
<line x1="462.66" y1="52.82" x2="462.66" y2="54.42" stroke="#000" stroke-width="0.5"/>
<line x1="468.88" y1="52.82" x2="468.88" y2="54.42" stroke="#000" stroke-width="0.5"/>
<line x1="465.74" y1="51.22" x2="465.74" y2="56.87" stroke="#000" stroke-width="0.5"/>
<line x1="464.94" y1="51.22" x2="466.54" y2="51.22" stroke="#000" stroke-width="0.5"/>
<line x1="464.94" y1="56.87" x2="466.54" y2="56.87" stroke="#000" stroke-width="0.5"/>
<circle cx="465.74" cy="53.62" r="1.1" fill="#000"/>
<line x1="464.3" y1="49.45" x2="475.75" y2="49.45" stroke="#000" stroke-width="0.5"/>
<line x1="464.3" y1="48.65" x2="464.3" y2="50.25" stroke="#000" stroke-width="0.5"/>
<line x1="475.75" y1="48.65" x2="475.75" y2="50.25" stroke="#000" stroke-width="0.5"/>
<line x1="469.96" y1="47.14" x2="469.96" y2="52.45" stroke="#000" stroke-width="0.5"/>
<line x1="469.16" y1="47.14" x2="470.76" y2="47.14" stroke="#000" stroke-width="0.5"/>
<line x1="469.16" y1="52.45" x2="470.76" y2="52.45" stroke="#000" stroke-width="0.5"/>
<circle cx="469.96" cy="49.45" r="1.1" fill="#000"/>
<line x1="452.04" y1="57.39" x2="460.03" y2="57.39" stroke="#000" stroke-width="0.5"/>
<line x1="452.04" y1="56.59" x2="452.04" y2="58.19" stroke="#000" stroke-width="0.5"/>
<line x1="460.03" y1="56.59" x2="460.03" y2="58.19" stroke="#000" stroke-width="0.5"/>
<line x1="456.77" y1="54.56" x2="456.77" y2="60.51" stroke="#000" stroke-width="0.5"/>
<line x1="455.97" y1="54.56" x2="457.57" y2="54.56" stroke="#000" stroke-width="0.5"/>
<line x1="455.97" y1="60.51" x2="457.57" y2="60.51" stroke="#000" stroke-width="0.5"/>
<circle cx="456.77" cy="57.39" r="1.1" fill="#000"/>
<line x1="466.62" y1="54.55" x2="475.68" y2="54.55" stroke="#000" stroke-width="0.5"/>
<line x1="466.62" y1="53.75" x2="466.62" y2="55.35" stroke="#000" stroke-width="0.5"/>
<line x1="475.68" y1="53.75" x2="475.68" y2="55.35" stroke="#000" stroke-width="0.5"/>
<line x1="469.97" y1="51.31" x2="469.97" y2="57.98" stroke="#000" stroke-width="0.5"/>
<line x1="469.17" y1="51.31" x2="470.77" y2="51.31" stroke="#000" stroke-width="0.5"/>
<line x1="469.17" y1="57.98" x2="470.77" y2="57.98" stroke="#000" stroke-width="0.5"/>
<circle cx="469.97" cy="54.55" r="1.1" fill="#000"/>
<line x1="458.14" y1="57.46" x2="465.8" y2="57.46" stroke="#000" stroke-width="0.5"/>
<line x1="458.14" y1="56.66" x2="458.14" y2="58.26" stroke="#000" stroke-width="0.5"/>
<line x1="465.8" y1="56.66" x2="465.8" y2="58.26" stroke="#000" stroke-width="0.5"/>
<line x1="462.26" y1="55.37" x2="462.26" y2="60.4" stroke="#000" stroke-width="0.5"/>
<line x1="461.46" y1="55.37" x2="463.06" y2="55.37" stroke="#000" stroke-width="0.5"/>
<line x1="461.46" y1="60.4" x2="463.06" y2="60.4" stroke="#000" stroke-width="0.5"/>
<circle cx="462.26" cy="57.46" r="1.1" fill="#000"/>
<line x1="451.29" y1="59.91" x2="460.15" y2="59.91" stroke="#000" stroke-width="0.5"/>
<line x1="451.29" y1="59.11" x2="451.29" y2="60.71" stroke="#000" stroke-width="0.5"/>
<line x1="460.15" y1="59.11" x2="460.15" y2="60.71" stroke="#000" stroke-width="0.5"/>
<line x1="455.8" y1="56.47" x2="455.8" y2="61.74" stroke="#000" stroke-width="0.5"/>
<line x1="455" y1="56.47" x2="456.6" y2="56.47" stroke="#000" stroke-width="0.5"/>
<line x1="455" y1="61.74" x2="456.6" y2="61.74" stroke="#000" stroke-width="0.5"/>
<circle cx="455.8" cy="59.91" r="1.1" fill="#000"/>
<line x1="453.88" y1="58.51" x2="464.16" y2="58.51" stroke="#000" stroke-width="0.5"/>
<line x1="453.88" y1="57.71" x2="453.88" y2="59.31" stroke="#000" stroke-width="0.5"/>
<line x1="464.16" y1="57.71" x2="464.16" y2="59.31" stroke="#000" stroke-width="0.5"/>
<line x1="459.69" y1="56.35" x2="459.69" y2="60.35" stroke="#000" stroke-width="0.5"/>
<line x1="458.89" y1="56.35" x2="460.49" y2="56.35" stroke="#000" stroke-width="0.5"/>
<line x1="458.89" y1="60.35" x2="460.49" y2="60.35" stroke="#000" stroke-width="0.5"/>
<circle cx="459.69" cy="58.51" r="1.1" fill="#000"/>
<line x1="458.88" y1="56.44" x2="465.36" y2="56.44" stroke="#000" stroke-width="0.5"/>
<line x1="458.88" y1="55.64" x2="458.88" y2="57.24" stroke="#000" stroke-width="0.5"/>
<line x1="465.36" y1="55.64" x2="465.36" y2="57.24" stroke="#000" stroke-width="0.5"/>
<line x1="462.26" y1="54.16" x2="462.26" y2="59.11" stroke="#000" stroke-width="0.5"/>
<line x1="461.46" y1="54.16" x2="463.06" y2="54.16" stroke="#000" stroke-width="0.5"/>
<line x1="461.46" y1="59.11" x2="463.06" y2="59.11" stroke="#000" stroke-width="0.5"/>
<circle cx="462.26" cy="56.44" r="1.1" fill="#000"/>
<line x1="454.72" y1="57.49" x2="466.26" y2="57.49" stroke="#000" stroke-width="0.5"/>
<line x1="454.72" y1="56.69" x2="454.72" y2="58.29" stroke="#000" stroke-width="0.5"/>
<line x1="466.26" y1="56.69" x2="466.26" y2="58.29" stroke="#000" stroke-width="0.5"/>
<line x1="460.45" y1="54.39" x2="460.45" y2="59.94" stroke="#000" stroke-width="0.5"/>
<line x1="459.65" y1="54.39" x2="461.25" y2="54.39" stroke="#000" stroke-width="0.5"/>
<line x1="459.65" y1="59.94" x2="461.25" y2="59.94" stroke="#000" stroke-width="0.5"/>
<circle cx="460.45" cy="57.49" r="1.1" fill="#000"/>
<line x1="456.37" y1="56.11" x2="463.7" y2="56.11" stroke="#000" stroke-width="0.5"/>
<line x1="456.37" y1="55.31" x2="456.37" y2="56.91" stroke="#000" stroke-width="0.5"/>
<line x1="463.7" y1="55.31" x2="463.7" y2="56.91" stroke="#000" stroke-width="0.5"/>
<line x1="460.57" y1="53.01" x2="460.57" y2="58.1" stroke="#000" stroke-width="0.5"/>
<line x1="459.77" y1="53.01" x2="461.37" y2="53.01" stroke="#000" stroke-width="0.5"/>
<line x1="459.77" y1="58.1" x2="461.37" y2="58.1" stroke="#000" stroke-width="0.5"/>
<circle cx="460.57" cy="56.11" r="1.1" fill="#000"/>
<line x1="443.55" y1="58.08" x2="453.01" y2="58.08" stroke="#000" stroke-width="0.5"/>
<line x1="443.55" y1="57.28" x2="443.55" y2="58.88" stroke="#000" stroke-width="0.5"/>
<line x1="453.01" y1="57.28" x2="453.01" y2="58.88" stroke="#000" stroke-width="0.5"/>
<line x1="448.7" y1="55.85" x2="448.7" y2="60.89" stroke="#000" stroke-width="0.5"/>
<line x1="447.9" y1="55.85" x2="449.5" y2="55.85" stroke="#000" stroke-width="0.5"/>
<line x1="447.9" y1="60.89" x2="449.5" y2="60.89" stroke="#000" stroke-width="0.5"/>
<circle cx="448.7" cy="58.08" r="1.1" fill="#000"/>
<line x1="447.13" y1="60.72" x2="456.5" y2="60.72" stroke="#000" stroke-width="0.5"/>
<line x1="447.13" y1="59.92" x2="447.13" y2="61.52" stroke="#000" stroke-width="0.5"/>
<line x1="456.5" y1="59.92" x2="456.5" y2="61.52" stroke="#000" stroke-width="0.5"/>
<line x1="451.91" y1="57.49" x2="451.91" y2="63.05" stroke="#000" stroke-width="0.5"/>
<line x1="451.11" y1="57.49" x2="452.71" y2="57.49" stroke="#000" stroke-width="0.5"/>
<line x1="451.11" y1="63.05" x2="452.71" y2="63.05" stroke="#000" stroke-width="0.5"/>
<circle cx="451.91" cy="60.72" r="1.1" fill="#000"/>
</g>
<line x1="374.5" y1="79.9" x2="478.6" y2="52.3" stroke="#f51616" stroke-width="1.5"/>
<line x1="376.5" y1="176.1" x2="409.5" y2="176.1" stroke="#111" stroke-width="0.7"/>
<line x1="392" y1="176.1" x2="394" y2="176.1" stroke="#111" stroke-width="0.7"/>
<line x1="393" y1="167.2" x2="393" y2="185.1" stroke="#111" stroke-width="0.7"/>
<line x1="392" y1="167.2" x2="394" y2="167.2" stroke="#111" stroke-width="0.7"/>
<line x1="376.5" y1="175.1" x2="376.5" y2="177.1" stroke="#111" stroke-width="0.7"/>
<line x1="409.5" y1="175.1" x2="409.5" y2="177.1" stroke="#111" stroke-width="0.7"/>
<line x1="393" y1="176.1" x2="387" y2="184.2" stroke="#111" stroke-width="0.7"/>
<circle cx="393" cy="176.1" r="2.3" fill="#1010d0" stroke="#000060" stroke-width="0.4"/>
<text x="347.6" y="189.5" font-size="7.6" text-anchor="start" fill="#111" font-weight="normal" font-style="normal" textLength="74.2" lengthAdjust="spacingAndGlyphs">chr16:88716656:G:T</text>
<rect x="338.75" y="30.3" width="155.65" height="161.1" fill="none" stroke="#c4c4c4" stroke-width="1.1"/>
<line x1="368.5" y1="191.4" x2="368.5" y2="192.8" stroke="#555" stroke-width="0.5"/>
<line x1="403.9" y1="191.4" x2="403.9" y2="192.8" stroke="#555" stroke-width="0.5"/>
<line x1="439.3" y1="191.4" x2="439.3" y2="192.8" stroke="#555" stroke-width="0.5"/>
<line x1="474.7" y1="191.4" x2="474.7" y2="192.8" stroke="#555" stroke-width="0.5"/>
<line x1="337.35" y1="64.45" x2="338.75" y2="64.45" stroke="#555" stroke-width="0.5"/>
<line x1="337.35" y1="106.71" x2="338.75" y2="106.71" stroke="#555" stroke-width="0.5"/>
<line x1="337.35" y1="148.97" x2="338.75" y2="148.97" stroke="#555" stroke-width="0.5"/>
<line x1="337.35" y1="191.23" x2="338.75" y2="191.23" stroke="#555" stroke-width="0.5"/>
<text x="368.5" y="199.6" font-size="6.3" text-anchor="middle" fill="#4d4d4d" font-weight="normal" font-style="normal">-0.2</text>
<text x="403.9" y="199.6" font-size="6.3" text-anchor="middle" fill="#4d4d4d" font-weight="normal" font-style="normal">-0.1</text>
<text x="439.3" y="199.6" font-size="6.3" text-anchor="middle" fill="#4d4d4d" font-weight="normal" font-style="normal">0.0</text>
<text x="474.7" y="199.6" font-size="6.3" text-anchor="middle" fill="#4d4d4d" font-weight="normal" font-style="normal">0.1</text>
<text x="335.85" y="66.75" font-size="6.3" text-anchor="end" fill="#4d4d4d" font-weight="normal" font-style="normal">0.0</text>
<text x="335.85" y="109.01" font-size="6.3" text-anchor="end" fill="#4d4d4d" font-weight="normal" font-style="normal">-0.2</text>
<text x="335.85" y="151.27" font-size="6.3" text-anchor="end" fill="#4d4d4d" font-weight="normal" font-style="normal">-0.4</text>
<text x="335.85" y="193.53" font-size="6.3" text-anchor="end" fill="#4d4d4d" font-weight="normal" font-style="normal">-0.6</text>
<text x="416.3" y="208.1" font-size="7.6" text-anchor="middle" fill="#111" font-weight="normal" font-style="normal" textLength="159.5" lengthAdjust="spacingAndGlyphs">Beta (standardized effect on fasting glucose)</text>
<text x="321.3" y="110.4" font-size="7.6" text-anchor="middle" fill="#111" font-weight="normal" font-style="normal" transform="rotate(-90 321.3 110.4)" textLength="126.5" lengthAdjust="spacingAndGlyphs">Beta (standardized effect on HbA1c)</text>
<text x="521.3" y="8.9" font-size="10.4" text-anchor="start" fill="#000" font-weight="bold" font-style="normal">C</text>
<rect x="524.75" y="30.3" width="155.95" height="161.1" fill="#fff" stroke="none" stroke-width="0.5"/>
<line x1="570.95" y1="30.3" x2="570.95" y2="191.4" stroke="#f4f4f4" stroke-width="0.35"/>
<line x1="606.65" y1="30.3" x2="606.65" y2="191.4" stroke="#f4f4f4" stroke-width="0.35"/>
<line x1="642.35" y1="30.3" x2="642.35" y2="191.4" stroke="#f4f4f4" stroke-width="0.35"/>
<line x1="678.05" y1="30.3" x2="678.05" y2="191.4" stroke="#f4f4f4" stroke-width="0.35"/>
<line x1="535.25" y1="30.3" x2="535.25" y2="191.4" stroke="#f4f4f4" stroke-width="0.35"/>
<line x1="524.75" y1="44.45" x2="680.7" y2="44.45" stroke="#f4f4f4" stroke-width="0.35"/>
<line x1="524.75" y1="86.55" x2="680.7" y2="86.55" stroke="#f4f4f4" stroke-width="0.35"/>
<line x1="524.75" y1="128.65" x2="680.7" y2="128.65" stroke="#f4f4f4" stroke-width="0.35"/>
<line x1="524.75" y1="170.75" x2="680.7" y2="170.75" stroke="#f4f4f4" stroke-width="0.35"/>
<line x1="553.1" y1="30.3" x2="553.1" y2="191.4" stroke="#ebebeb" stroke-width="0.55"/>
<line x1="588.8" y1="30.3" x2="588.8" y2="191.4" stroke="#ebebeb" stroke-width="0.55"/>
<line x1="624.5" y1="30.3" x2="624.5" y2="191.4" stroke="#ebebeb" stroke-width="0.55"/>
<line x1="660.2" y1="30.3" x2="660.2" y2="191.4" stroke="#ebebeb" stroke-width="0.55"/>
<line x1="524.75" y1="65.5" x2="680.7" y2="65.5" stroke="#ebebeb" stroke-width="0.55"/>
<line x1="524.75" y1="107.6" x2="680.7" y2="107.6" stroke="#ebebeb" stroke-width="0.55"/>
<line x1="524.75" y1="149.7" x2="680.7" y2="149.7" stroke="#ebebeb" stroke-width="0.55"/>
<line x1="524.75" y1="191.8" x2="680.7" y2="191.8" stroke="#ebebeb" stroke-width="0.55"/>
<line x1="588.8" y1="30.3" x2="588.8" y2="191.4" stroke="#aaaaaa" stroke-width="0.55" stroke-dasharray="2.7,2.65"/>
<line x1="524.75" y1="65.5" x2="680.7" y2="65.5" stroke="#aaaaaa" stroke-width="0.55" stroke-dasharray="2.7,2.65"/>
<g>
<line x1="616" y1="60" x2="673.6" y2="60" stroke="#000" stroke-width="1.1"/>
<line x1="531.6" y1="67.6" x2="560.4" y2="67.6" stroke="#000" stroke-width="0.55"/>
<line x1="531.6" y1="66.6" x2="531.6" y2="68.6" stroke="#000" stroke-width="0.55"/>
<line x1="560.4" y1="66.6" x2="560.4" y2="68.6" stroke="#000" stroke-width="0.55"/>
<line x1="547.7" y1="60.3" x2="547.7" y2="75.2" stroke="#000" stroke-width="0.55"/>
<line x1="546.7" y1="60.3" x2="548.7" y2="60.3" stroke="#000" stroke-width="0.55"/>
<line x1="546.7" y1="75.2" x2="548.7" y2="75.2" stroke="#000" stroke-width="0.55"/>
<circle cx="547.7" cy="67.6" r="1.15" fill="#000"/>
<line x1="556.5" y1="71.8" x2="565" y2="71.8" stroke="#000" stroke-width="0.55"/>
<line x1="556.5" y1="70.8" x2="556.5" y2="72.8" stroke="#000" stroke-width="0.55"/>
<line x1="565" y1="70.8" x2="565" y2="72.8" stroke="#000" stroke-width="0.55"/>
<line x1="560.4" y1="66.3" x2="560.4" y2="77" stroke="#000" stroke-width="0.55"/>
<line x1="559.4" y1="66.3" x2="561.4" y2="66.3" stroke="#000" stroke-width="0.55"/>
<line x1="559.4" y1="77" x2="561.4" y2="77" stroke="#000" stroke-width="0.55"/>
<circle cx="560.4" cy="71.8" r="1.15" fill="#000"/>
<line x1="556.5" y1="77" x2="573.6" y2="77" stroke="#000" stroke-width="0.55"/>
<line x1="556.5" y1="76" x2="556.5" y2="78" stroke="#000" stroke-width="0.55"/>
<line x1="573.6" y1="76" x2="573.6" y2="78" stroke="#000" stroke-width="0.55"/>
<line x1="565" y1="73.5" x2="565" y2="81" stroke="#000" stroke-width="0.55"/>
<line x1="564" y1="73.5" x2="566" y2="73.5" stroke="#000" stroke-width="0.55"/>
<line x1="564" y1="81" x2="566" y2="81" stroke="#000" stroke-width="0.55"/>
<circle cx="565" cy="77" r="1.15" fill="#000"/>
<line x1="563" y1="71.5" x2="576.9" y2="71.5" stroke="#000" stroke-width="0.55"/>
<line x1="563" y1="70.5" x2="563" y2="72.5" stroke="#000" stroke-width="0.55"/>
<line x1="576.9" y1="70.5" x2="576.9" y2="72.5" stroke="#000" stroke-width="0.55"/>
<line x1="569" y1="64.3" x2="569" y2="75.4" stroke="#000" stroke-width="0.55"/>
<line x1="568" y1="64.3" x2="570" y2="64.3" stroke="#000" stroke-width="0.55"/>
<line x1="568" y1="75.4" x2="570" y2="75.4" stroke="#000" stroke-width="0.55"/>
<circle cx="569" cy="71.5" r="1.15" fill="#000"/>
<line x1="562" y1="67.6" x2="578" y2="67.6" stroke="#000" stroke-width="0.55"/>
<line x1="562" y1="66.6" x2="562" y2="68.6" stroke="#000" stroke-width="0.55"/>
<line x1="578" y1="66.6" x2="578" y2="68.6" stroke="#000" stroke-width="0.55"/>
<line x1="570.3" y1="64.5" x2="570.3" y2="70" stroke="#000" stroke-width="0.55"/>
<line x1="569.3" y1="64.5" x2="571.3" y2="64.5" stroke="#000" stroke-width="0.55"/>
<line x1="569.3" y1="70" x2="571.3" y2="70" stroke="#000" stroke-width="0.55"/>
<circle cx="570.3" cy="67.6" r="1.15" fill="#000"/>
<line x1="608.1" y1="42.3" x2="628.6" y2="42.3" stroke="#000" stroke-width="0.55"/>
<line x1="608.1" y1="41.3" x2="608.1" y2="43.3" stroke="#000" stroke-width="0.55"/>
<line x1="628.6" y1="41.3" x2="628.6" y2="43.3" stroke="#000" stroke-width="0.55"/>
<line x1="618.5" y1="37.2" x2="618.5" y2="47.6" stroke="#000" stroke-width="0.55"/>
<line x1="617.5" y1="37.2" x2="619.5" y2="37.2" stroke="#000" stroke-width="0.55"/>
<line x1="617.5" y1="47.6" x2="619.5" y2="47.6" stroke="#000" stroke-width="0.55"/>
<circle cx="618.5" cy="42.3" r="1.15" fill="#000"/>
<line x1="599.4" y1="62.5" x2="615.3" y2="62.5" stroke="#000" stroke-width="0.55"/>
<line x1="599.4" y1="61.5" x2="599.4" y2="63.5" stroke="#000" stroke-width="0.55"/>
<line x1="615.3" y1="61.5" x2="615.3" y2="63.5" stroke="#000" stroke-width="0.55"/>
<line x1="606.6" y1="58.1" x2="606.6" y2="66.3" stroke="#000" stroke-width="0.55"/>
<line x1="605.6" y1="58.1" x2="607.6" y2="58.1" stroke="#000" stroke-width="0.55"/>
<line x1="605.6" y1="66.3" x2="607.6" y2="66.3" stroke="#000" stroke-width="0.55"/>
<circle cx="606.6" cy="62.5" r="1.15" fill="#000"/>
<line x1="616" y1="60.4" x2="640" y2="60.4" stroke="#000" stroke-width="0.55"/>
<line x1="616" y1="59.4" x2="616" y2="61.4" stroke="#000" stroke-width="0.55"/>
<line x1="640" y1="59.4" x2="640" y2="61.4" stroke="#000" stroke-width="0.55"/>
<line x1="625.3" y1="53.8" x2="625.3" y2="68.2" stroke="#000" stroke-width="0.55"/>
<line x1="624.3" y1="53.8" x2="626.3" y2="53.8" stroke="#000" stroke-width="0.55"/>
<line x1="624.3" y1="68.2" x2="626.3" y2="68.2" stroke="#000" stroke-width="0.55"/>
<circle cx="625.3" cy="60.4" r="1.15" fill="#000"/>
<line x1="620" y1="60.3" x2="650" y2="60.3" stroke="#000" stroke-width="0.55"/>
<line x1="620" y1="59.3" x2="620" y2="61.3" stroke="#000" stroke-width="0.55"/>
<line x1="650" y1="59.3" x2="650" y2="61.3" stroke="#000" stroke-width="0.55"/>
<line x1="633.5" y1="50.2" x2="633.5" y2="69.5" stroke="#000" stroke-width="0.55"/>
<line x1="632.5" y1="50.2" x2="634.5" y2="50.2" stroke="#000" stroke-width="0.55"/>
<line x1="632.5" y1="69.5" x2="634.5" y2="69.5" stroke="#000" stroke-width="0.55"/>
<circle cx="633.5" cy="60.3" r="1.15" fill="#000"/>
<line x1="622" y1="60.4" x2="660" y2="60.4" stroke="#000" stroke-width="0.55"/>
<line x1="622" y1="59.4" x2="622" y2="61.4" stroke="#000" stroke-width="0.55"/>
<line x1="660" y1="59.4" x2="660" y2="61.4" stroke="#000" stroke-width="0.55"/>
<line x1="638.7" y1="48.8" x2="638.7" y2="71.5" stroke="#000" stroke-width="0.55"/>
<line x1="637.7" y1="48.8" x2="639.7" y2="48.8" stroke="#000" stroke-width="0.55"/>
<line x1="637.7" y1="71.5" x2="639.7" y2="71.5" stroke="#000" stroke-width="0.55"/>
<circle cx="638.7" cy="60.4" r="1.15" fill="#000"/>
<line x1="625" y1="59.6" x2="668" y2="59.6" stroke="#000" stroke-width="0.55"/>
<line x1="625" y1="58.6" x2="625" y2="60.6" stroke="#000" stroke-width="0.55"/>
<line x1="668" y1="58.6" x2="668" y2="60.6" stroke="#000" stroke-width="0.55"/>
<line x1="646.5" y1="50" x2="646.5" y2="71.2" stroke="#000" stroke-width="0.55"/>
<line x1="645.5" y1="50" x2="647.5" y2="50" stroke="#000" stroke-width="0.55"/>
<line x1="645.5" y1="71.2" x2="647.5" y2="71.2" stroke="#000" stroke-width="0.55"/>
<circle cx="646.5" cy="59.6" r="1.15" fill="#000"/>
<line x1="626" y1="59.7" x2="673.6" y2="59.7" stroke="#000" stroke-width="0.55"/>
<line x1="626" y1="58.7" x2="626" y2="60.7" stroke="#000" stroke-width="0.55"/>
<line x1="673.6" y1="58.7" x2="673.6" y2="60.7" stroke="#000" stroke-width="0.55"/>
<line x1="648.1" y1="47.6" x2="648.1" y2="71.7" stroke="#000" stroke-width="0.55"/>
<line x1="647.1" y1="47.6" x2="649.1" y2="47.6" stroke="#000" stroke-width="0.55"/>
<line x1="647.1" y1="71.7" x2="649.1" y2="71.7" stroke="#000" stroke-width="0.55"/>
<circle cx="648.1" cy="59.7" r="1.15" fill="#000"/>
<line x1="598.08" y1="54" x2="610.92" y2="54" stroke="#000" stroke-width="0.5"/>
<line x1="598.08" y1="53.2" x2="598.08" y2="54.8" stroke="#000" stroke-width="0.5"/>
<line x1="610.92" y1="53.2" x2="610.92" y2="54.8" stroke="#000" stroke-width="0.5"/>
<line x1="604.5" y1="51.73" x2="604.5" y2="55.93" stroke="#000" stroke-width="0.5"/>
<line x1="603.7" y1="51.73" x2="605.3" y2="51.73" stroke="#000" stroke-width="0.5"/>
<line x1="603.7" y1="55.93" x2="605.3" y2="55.93" stroke="#000" stroke-width="0.5"/>
<circle cx="604.5" cy="54" r="1.1" fill="#000"/>
<line x1="603.84" y1="53.8" x2="613.15" y2="53.8" stroke="#000" stroke-width="0.5"/>
<line x1="603.84" y1="53" x2="603.84" y2="54.6" stroke="#000" stroke-width="0.5"/>
<line x1="613.15" y1="53" x2="613.15" y2="54.6" stroke="#000" stroke-width="0.5"/>
<line x1="608" y1="51.69" x2="608" y2="55.37" stroke="#000" stroke-width="0.5"/>
<line x1="607.2" y1="51.69" x2="608.8" y2="51.69" stroke="#000" stroke-width="0.5"/>
<line x1="607.2" y1="55.37" x2="608.8" y2="55.37" stroke="#000" stroke-width="0.5"/>
<circle cx="608" cy="53.8" r="1.1" fill="#000"/>
<line x1="608.25" y1="53.1" x2="619.4" y2="53.1" stroke="#000" stroke-width="0.5"/>
<line x1="608.25" y1="52.3" x2="608.25" y2="53.9" stroke="#000" stroke-width="0.5"/>
<line x1="619.4" y1="52.3" x2="619.4" y2="53.9" stroke="#000" stroke-width="0.5"/>
<line x1="612.4" y1="50.62" x2="612.4" y2="54.95" stroke="#000" stroke-width="0.5"/>
<line x1="611.6" y1="50.62" x2="613.2" y2="50.62" stroke="#000" stroke-width="0.5"/>
<line x1="611.6" y1="54.95" x2="613.2" y2="54.95" stroke="#000" stroke-width="0.5"/>
<circle cx="612.4" cy="53.1" r="1.1" fill="#000"/>
<line x1="610.7" y1="54.5" x2="622.92" y2="54.5" stroke="#000" stroke-width="0.5"/>
<line x1="610.7" y1="53.7" x2="610.7" y2="55.3" stroke="#000" stroke-width="0.5"/>
<line x1="622.92" y1="53.7" x2="622.92" y2="55.3" stroke="#000" stroke-width="0.5"/>
<line x1="616" y1="51.65" x2="616" y2="57.27" stroke="#000" stroke-width="0.5"/>
<line x1="615.2" y1="51.65" x2="616.8" y2="51.65" stroke="#000" stroke-width="0.5"/>
<line x1="615.2" y1="57.27" x2="616.8" y2="57.27" stroke="#000" stroke-width="0.5"/>
<circle cx="616" cy="54.5" r="1.1" fill="#000"/>
<line x1="607.22" y1="49.5" x2="617.88" y2="49.5" stroke="#000" stroke-width="0.5"/>
<line x1="607.22" y1="48.7" x2="607.22" y2="50.3" stroke="#000" stroke-width="0.5"/>
<line x1="617.88" y1="48.7" x2="617.88" y2="50.3" stroke="#000" stroke-width="0.5"/>
<line x1="612.4" y1="46.98" x2="612.4" y2="51.09" stroke="#000" stroke-width="0.5"/>
<line x1="611.6" y1="46.98" x2="613.2" y2="46.98" stroke="#000" stroke-width="0.5"/>
<line x1="611.6" y1="51.09" x2="613.2" y2="51.09" stroke="#000" stroke-width="0.5"/>
<circle cx="612.4" cy="49.5" r="1.1" fill="#000"/>
<line x1="604.33" y1="51" x2="614.81" y2="51" stroke="#000" stroke-width="0.5"/>
<line x1="604.33" y1="50.2" x2="604.33" y2="51.8" stroke="#000" stroke-width="0.5"/>
<line x1="614.81" y1="50.2" x2="614.81" y2="51.8" stroke="#000" stroke-width="0.5"/>
<line x1="610" y1="48.18" x2="610" y2="52.6" stroke="#000" stroke-width="0.5"/>
<line x1="609.2" y1="48.18" x2="610.8" y2="48.18" stroke="#000" stroke-width="0.5"/>
<line x1="609.2" y1="52.6" x2="610.8" y2="52.6" stroke="#000" stroke-width="0.5"/>
<circle cx="610" cy="51" r="1.1" fill="#000"/>
<line x1="608.46" y1="51.5" x2="621.11" y2="51.5" stroke="#000" stroke-width="0.5"/>
<line x1="608.46" y1="50.7" x2="608.46" y2="52.3" stroke="#000" stroke-width="0.5"/>
<line x1="621.11" y1="50.7" x2="621.11" y2="52.3" stroke="#000" stroke-width="0.5"/>
<line x1="614.5" y1="49.66" x2="614.5" y2="54.34" stroke="#000" stroke-width="0.5"/>
<line x1="613.7" y1="49.66" x2="615.3" y2="49.66" stroke="#000" stroke-width="0.5"/>
<line x1="613.7" y1="54.34" x2="615.3" y2="54.34" stroke="#000" stroke-width="0.5"/>
<circle cx="614.5" cy="51.5" r="1.1" fill="#000"/>
<line x1="599.88" y1="51.8" x2="610.56" y2="51.8" stroke="#000" stroke-width="0.5"/>
<line x1="599.88" y1="51" x2="599.88" y2="52.6" stroke="#000" stroke-width="0.5"/>
<line x1="610.56" y1="51" x2="610.56" y2="52.6" stroke="#000" stroke-width="0.5"/>
<line x1="606.5" y1="49.24" x2="606.5" y2="53.3" stroke="#000" stroke-width="0.5"/>
<line x1="605.7" y1="49.24" x2="607.3" y2="49.24" stroke="#000" stroke-width="0.5"/>
<line x1="605.7" y1="53.3" x2="607.3" y2="53.3" stroke="#000" stroke-width="0.5"/>
<circle cx="606.5" cy="51.8" r="1.1" fill="#000"/>
</g>
<line x1="548" y1="71.2" x2="648.1" y2="52.8" stroke="#f51616" stroke-width="1.5"/>
<line x1="531.7" y1="176.1" x2="567" y2="176.1" stroke="#111" stroke-width="0.7"/>
<line x1="548.6" y1="176.1" x2="550.6" y2="176.1" stroke="#111" stroke-width="0.7"/>
<line x1="549.6" y1="167.2" x2="549.6" y2="189.6" stroke="#111" stroke-width="0.7"/>
<line x1="548.6" y1="167.2" x2="550.6" y2="167.2" stroke="#111" stroke-width="0.7"/>
<line x1="531.7" y1="175.1" x2="531.7" y2="177.1" stroke="#111" stroke-width="0.7"/>
<line x1="567" y1="175.1" x2="567" y2="177.1" stroke="#111" stroke-width="0.7"/>
<line x1="549.6" y1="176.1" x2="556" y2="182.6" stroke="#111" stroke-width="0.7"/>
<circle cx="549.6" cy="176.1" r="2.3" fill="#1010d0" stroke="#000060" stroke-width="0.4"/>
<text x="527.1" y="189.5" font-size="7.6" text-anchor="start" fill="#111" font-weight="normal" font-style="normal" textLength="74.2" lengthAdjust="spacingAndGlyphs">chr16:88716656:G:T</text>
<rect x="524.75" y="30.3" width="155.95" height="161.1" fill="none" stroke="#c4c4c4" stroke-width="1.1"/>
<line x1="553.1" y1="191.4" x2="553.1" y2="192.8" stroke="#555" stroke-width="0.5"/>
<line x1="588.8" y1="191.4" x2="588.8" y2="192.8" stroke="#555" stroke-width="0.5"/>
<line x1="624.5" y1="191.4" x2="624.5" y2="192.8" stroke="#555" stroke-width="0.5"/>
<line x1="660.2" y1="191.4" x2="660.2" y2="192.8" stroke="#555" stroke-width="0.5"/>
<line x1="523.35" y1="65.5" x2="524.75" y2="65.5" stroke="#555" stroke-width="0.5"/>
<line x1="523.35" y1="107.6" x2="524.75" y2="107.6" stroke="#555" stroke-width="0.5"/>
<line x1="523.35" y1="149.7" x2="524.75" y2="149.7" stroke="#555" stroke-width="0.5"/>
<line x1="523.35" y1="191.8" x2="524.75" y2="191.8" stroke="#555" stroke-width="0.5"/>
<text x="553.1" y="199.6" font-size="6.3" text-anchor="middle" fill="#4d4d4d" font-weight="normal" font-style="normal">-0.1</text>
<text x="588.8" y="199.6" font-size="6.3" text-anchor="middle" fill="#4d4d4d" font-weight="normal" font-style="normal">0.0</text>
<text x="624.5" y="199.6" font-size="6.3" text-anchor="middle" fill="#4d4d4d" font-weight="normal" font-style="normal">0.1</text>
<text x="660.2" y="199.6" font-size="6.3" text-anchor="middle" fill="#4d4d4d" font-weight="normal" font-style="normal">0.2</text>
<text x="521.85" y="67.8" font-size="6.3" text-anchor="end" fill="#4d4d4d" font-weight="normal" font-style="normal">0.0</text>
<text x="521.85" y="109.9" font-size="6.3" text-anchor="end" fill="#4d4d4d" font-weight="normal" font-style="normal">-0.2</text>
<text x="521.85" y="152" font-size="6.3" text-anchor="end" fill="#4d4d4d" font-weight="normal" font-style="normal">-0.4</text>
<text x="521.85" y="194.1" font-size="6.3" text-anchor="end" fill="#4d4d4d" font-weight="normal" font-style="normal">-0.6</text>
<text x="602.4" y="208.1" font-size="7.6" text-anchor="middle" fill="#111" font-weight="normal" font-style="normal" textLength="162" lengthAdjust="spacingAndGlyphs">Beta (standardized effect on random glucose)</text>
<text x="507.3" y="110.4" font-size="7.6" text-anchor="middle" fill="#111" font-weight="normal" font-style="normal" transform="rotate(-90 507.3 110.4)" textLength="126.5" lengthAdjust="spacingAndGlyphs">Beta (standardized effect on HbA1c)</text>
<text x="1.6" y="237.8" font-size="10.4" text-anchor="start" fill="#000" font-weight="bold" font-style="normal">D</text>
<rect x="46.6" y="247.4" width="203.2" height="111.9" fill="#fff" stroke="none" stroke-width="0.5"/>
<line x1="46.6" y1="349.7" x2="249.8" y2="349.7" stroke="#f4f4f4" stroke-width="0.35"/>
<line x1="46.6" y1="303.9" x2="249.8" y2="303.9" stroke="#f4f4f4" stroke-width="0.35"/>
<line x1="46.6" y1="258.1" x2="249.8" y2="258.1" stroke="#f4f4f4" stroke-width="0.35"/>
<line x1="75.5" y1="247.4" x2="75.5" y2="359.3" stroke="#ebebeb" stroke-width="0.5"/>
<line x1="124" y1="247.4" x2="124" y2="359.3" stroke="#ebebeb" stroke-width="0.5"/>
<line x1="172.4" y1="247.4" x2="172.4" y2="359.3" stroke="#ebebeb" stroke-width="0.5"/>
<line x1="220.9" y1="247.4" x2="220.9" y2="359.3" stroke="#ebebeb" stroke-width="0.5"/>
<line x1="46.6" y1="326.8" x2="249.8" y2="326.8" stroke="#ebebeb" stroke-width="0.5"/>
<line x1="46.6" y1="281" x2="249.8" y2="281" stroke="#ebebeb" stroke-width="0.5"/>
<path d="M64.42,295 L64.42,295.42 L64.42,295.85 L64.42,296.27 L64.42,296.7 L64.42,297.12 L64.42,297.55 L64.42,297.97 L64.42,298.4 L64.42,298.82 L64.42,299.24 L64.42,299.67 L64.42,300.09 L64.42,300.52 L64.42,300.94 L64.42,301.37 L64.42,301.79 L64.42,302.22 L64.42,302.64 L64.42,303.06 L64.42,303.49 L64.42,303.91 L64.42,304.34 L64.42,304.76 L64.42,305.19 L64.42,305.61 L64.42,306.04 L64.42,306.46 L64.42,306.88 L64.42,307.31 L64.42,307.73 L64.41,308.16 L64.41,308.58 L64.41,309.01 L64.41,309.43 L64.41,309.86 L64.41,310.28 L64.41,310.71 L64.41,311.13 L64.41,311.55 L64.41,311.98 L64.41,312.4 L64.4,312.83 L64.4,313.25 L64.4,313.68 L64.4,314.1 L64.4,314.53 L64.4,314.95 L64.4,315.37 L64.4,315.8 L64.39,316.22 L64.39,316.65 L64.39,317.07 L64.39,317.5 L64.39,317.92 L64.39,318.35 L64.38,318.77 L64.38,319.19 L64.38,319.62 L64.38,320.04 L64.38,320.47 L64.37,320.89 L64.37,321.32 L64.03,321.74 L64,322.17 L63.96,322.59 L63.92,323.01 L63.87,323.44 L63.82,323.86 L63.77,324.29 L63.71,324.71 L63.64,325.14 L63.57,325.56 L63.5,325.99 L63.41,326.41 L63.27,326.83 L63.1,327.26 L62.9,327.68 L62.67,328.11 L62.43,328.53 L62.16,328.96 L61.9,329.38 L61.62,329.81 L61.35,330.23 L61.04,330.65 L60.71,331.08 L60.35,331.5 L59.97,331.93 L59.57,332.35 L59.17,332.78 L58.76,333.2 L58.35,333.63 L57.95,334.05 L57.5,334.47 L56.98,334.9 L56.42,335.32 L55.85,335.75 L55.29,336.17 L54.78,336.6 L54.34,337.02 L54.01,337.45 L53.8,337.87 L53.76,338.29 L53.89,338.72 L54.19,339.14 L54.59,339.57 L55.06,339.99 L55.56,340.42 L56.04,340.84 L56.48,341.27 L56.95,341.69 L57.46,342.12 L57.98,342.54 L58.5,342.96 L59.01,343.39 L59.5,343.81 L59.95,344.24 L60.4,344.66 L60.85,345.09 L61.28,345.51 L61.7,345.94 L62.08,346.36 L62.44,346.78 L62.76,347.21 L63.08,347.63 L63.38,348.06 L63.62,348.48 L63.78,348.91 L63.86,349.33 L63.92,349.76 L63.98,350.18 L64.04,350.6 L64.38,351.03 L64.39,351.45 L64.4,351.88 L64.41,352.3 L64.42,352.73 L64.42,353.15 L64.42,353.58 L64.42,354 L64.58,354 L64.58,353.58 L64.58,353.15 L64.58,352.73 L64.59,352.3 L64.6,351.88 L64.61,351.45 L64.62,351.03 L64.96,350.6 L65.02,350.18 L65.08,349.76 L65.14,349.33 L65.22,348.91 L65.38,348.48 L65.62,348.06 L65.92,347.63 L66.24,347.21 L66.56,346.78 L66.92,346.36 L67.3,345.94 L67.72,345.51 L68.15,345.09 L68.6,344.66 L69.05,344.24 L69.5,343.81 L69.99,343.39 L70.5,342.96 L71.02,342.54 L71.54,342.12 L72.05,341.69 L72.52,341.27 L72.96,340.84 L73.44,340.42 L73.94,339.99 L74.41,339.57 L74.81,339.14 L75.11,338.72 L75.24,338.29 L75.2,337.87 L74.99,337.45 L74.66,337.02 L74.22,336.6 L73.71,336.17 L73.15,335.75 L72.58,335.32 L72.02,334.9 L71.5,334.47 L71.05,334.05 L70.65,333.63 L70.24,333.2 L69.83,332.78 L69.43,332.35 L69.03,331.93 L68.65,331.5 L68.29,331.08 L67.96,330.65 L67.65,330.23 L67.38,329.81 L67.1,329.38 L66.84,328.96 L66.57,328.53 L66.33,328.11 L66.1,327.68 L65.9,327.26 L65.73,326.83 L65.59,326.41 L65.5,325.99 L65.43,325.56 L65.36,325.14 L65.29,324.71 L65.23,324.29 L65.18,323.86 L65.13,323.44 L65.08,323.01 L65.04,322.59 L65,322.17 L64.97,321.74 L64.63,321.32 L64.63,320.89 L64.62,320.47 L64.62,320.04 L64.62,319.62 L64.62,319.19 L64.62,318.77 L64.61,318.35 L64.61,317.92 L64.61,317.5 L64.61,317.07 L64.61,316.65 L64.61,316.22 L64.6,315.8 L64.6,315.37 L64.6,314.95 L64.6,314.53 L64.6,314.1 L64.6,313.68 L64.6,313.25 L64.6,312.83 L64.59,312.4 L64.59,311.98 L64.59,311.55 L64.59,311.13 L64.59,310.71 L64.59,310.28 L64.59,309.86 L64.59,309.43 L64.59,309.01 L64.59,308.58 L64.59,308.16 L64.58,307.73 L64.58,307.31 L64.58,306.88 L64.58,306.46 L64.58,306.04 L64.58,305.61 L64.58,305.19 L64.58,304.76 L64.58,304.34 L64.58,303.91 L64.58,303.49 L64.58,303.06 L64.58,302.64 L64.58,302.22 L64.58,301.79 L64.58,301.37 L64.58,300.94 L64.58,300.52 L64.58,300.09 L64.58,299.67 L64.58,299.24 L64.58,298.82 L64.58,298.4 L64.58,297.97 L64.58,297.55 L64.58,297.12 L64.58,296.7 L64.58,296.27 L64.58,295.85 L64.58,295.42 L64.58,295 Z" fill="#e8474b" stroke="#2a2a2a" stroke-width="0.45" stroke-linejoin="round"/>
<line x1="64.5" y1="330" x2="64.5" y2="336.2" stroke="#2a2a2a" stroke-width="0.45"/>
<line x1="64.5" y1="341.3" x2="64.5" y2="348" stroke="#2a2a2a" stroke-width="0.45"/>
<rect x="63.2" y="336.2" width="2.6" height="5.1" fill="none" stroke="#222" stroke-width="0.45"/>
<line x1="63.2" y1="338.6" x2="65.8" y2="338.6" stroke="#222" stroke-width="0.5"/>
<path d="M86.31,331 L86.27,331.16 L85.83,331.32 L85.69,331.48 L85.54,331.64 L85.39,331.8 L85.24,331.96 L85.08,332.12 L84.91,332.28 L84.74,332.44 L84.56,332.6 L84.38,332.76 L84.2,332.93 L84.02,333.09 L83.83,333.25 L83.63,333.41 L83.44,333.57 L83.24,333.73 L83.04,333.89 L82.84,334.05 L82.63,334.21 L82.42,334.37 L82.2,334.53 L81.97,334.69 L81.74,334.85 L81.51,335.01 L81.28,335.17 L81.05,335.33 L80.81,335.49 L80.58,335.65 L80.35,335.81 L80.12,335.97 L79.9,336.13 L79.67,336.29 L79.46,336.45 L79.24,336.62 L79.01,336.78 L78.76,336.94 L78.51,337.1 L78.25,337.26 L77.98,337.42 L77.72,337.58 L77.47,337.74 L77.23,337.9 L77,338.06 L76.79,338.22 L76.61,338.38 L76.46,338.54 L76.34,338.7 L76.25,338.86 L76.21,339.02 L76.21,339.18 L76.25,339.34 L76.34,339.5 L76.46,339.66 L76.6,339.82 L76.78,339.98 L76.97,340.14 L77.18,340.31 L77.39,340.47 L77.61,340.63 L77.82,340.79 L78.03,340.95 L78.24,341.11 L78.47,341.27 L78.72,341.43 L78.99,341.59 L79.27,341.75 L79.56,341.91 L79.86,342.07 L80.15,342.23 L80.44,342.39 L80.72,342.55 L80.98,342.71 L81.22,342.87 L81.44,343.03 L81.66,343.19 L81.87,343.35 L82.08,343.51 L82.29,343.67 L82.49,343.83 L82.68,343.99 L82.87,344.16 L83.04,344.32 L83.2,344.48 L83.34,344.64 L83.47,344.8 L83.58,344.96 L83.67,345.12 L83.75,345.28 L83.83,345.44 L83.91,345.6 L83.98,345.76 L84.04,345.92 L84.11,346.08 L84.17,346.24 L84.22,346.4 L84.28,346.56 L84.33,346.72 L84.38,346.88 L84.43,347.04 L84.47,347.2 L84.52,347.36 L84.57,347.52 L84.61,347.68 L84.66,347.85 L84.7,348.01 L84.75,348.17 L84.79,348.33 L84.83,348.49 L84.87,348.65 L84.91,348.81 L84.94,348.97 L84.98,349.13 L85.01,349.29 L85.05,349.45 L85.08,349.61 L85.11,349.77 L85.15,349.93 L85.18,350.09 L85.22,350.25 L85.26,350.41 L85.29,350.57 L85.33,350.73 L85.37,350.89 L85.41,351.05 L85.46,351.21 L85.5,351.37 L85.55,351.54 L85.59,351.7 L85.64,351.86 L85.69,352.02 L85.74,352.18 L85.79,352.34 L85.84,352.5 L85.89,352.66 L85.94,352.82 L86.28,352.98 L86.29,353.14 L86.31,353.3 L86.49,353.3 L86.51,353.14 L86.52,352.98 L86.86,352.82 L86.91,352.66 L86.96,352.5 L87.01,352.34 L87.06,352.18 L87.11,352.02 L87.16,351.86 L87.21,351.7 L87.25,351.54 L87.3,351.37 L87.34,351.21 L87.39,351.05 L87.43,350.89 L87.47,350.73 L87.51,350.57 L87.54,350.41 L87.58,350.25 L87.62,350.09 L87.65,349.93 L87.69,349.77 L87.72,349.61 L87.75,349.45 L87.79,349.29 L87.82,349.13 L87.86,348.97 L87.89,348.81 L87.93,348.65 L87.97,348.49 L88.01,348.33 L88.05,348.17 L88.1,348.01 L88.14,347.85 L88.19,347.68 L88.23,347.52 L88.28,347.36 L88.33,347.2 L88.37,347.04 L88.42,346.88 L88.47,346.72 L88.52,346.56 L88.58,346.4 L88.63,346.24 L88.69,346.08 L88.76,345.92 L88.82,345.76 L88.89,345.6 L88.97,345.44 L89.05,345.28 L89.13,345.12 L89.22,344.96 L89.33,344.8 L89.46,344.64 L89.6,344.48 L89.76,344.32 L89.93,344.16 L90.12,343.99 L90.31,343.83 L90.51,343.67 L90.72,343.51 L90.93,343.35 L91.14,343.19 L91.36,343.03 L91.58,342.87 L91.82,342.71 L92.08,342.55 L92.36,342.39 L92.65,342.23 L92.94,342.07 L93.24,341.91 L93.53,341.75 L93.81,341.59 L94.08,341.43 L94.33,341.27 L94.56,341.11 L94.77,340.95 L94.98,340.79 L95.19,340.63 L95.41,340.47 L95.62,340.31 L95.83,340.14 L96.02,339.98 L96.2,339.82 L96.34,339.66 L96.46,339.5 L96.55,339.34 L96.59,339.18 L96.59,339.02 L96.55,338.86 L96.46,338.7 L96.34,338.54 L96.19,338.38 L96.01,338.22 L95.8,338.06 L95.57,337.9 L95.33,337.74 L95.08,337.58 L94.82,337.42 L94.55,337.26 L94.29,337.1 L94.04,336.94 L93.79,336.78 L93.56,336.62 L93.34,336.45 L93.13,336.29 L92.9,336.13 L92.68,335.97 L92.45,335.81 L92.22,335.65 L91.99,335.49 L91.75,335.33 L91.52,335.17 L91.29,335.01 L91.06,334.85 L90.83,334.69 L90.6,334.53 L90.38,334.37 L90.17,334.21 L89.96,334.05 L89.76,333.89 L89.56,333.73 L89.36,333.57 L89.17,333.41 L88.97,333.25 L88.78,333.09 L88.6,332.93 L88.42,332.76 L88.24,332.6 L88.06,332.44 L87.89,332.28 L87.72,332.12 L87.56,331.96 L87.41,331.8 L87.26,331.64 L87.11,331.48 L86.97,331.32 L86.53,331.16 L86.49,331 Z" fill="#5f98c9" stroke="#2a2a2a" stroke-width="0.45" stroke-linejoin="round"/>
<line x1="86.4" y1="333" x2="86.4" y2="337" stroke="#2a2a2a" stroke-width="0.45"/>
<line x1="86.4" y1="342" x2="86.4" y2="348.5" stroke="#2a2a2a" stroke-width="0.45"/>
<rect x="85.1" y="337" width="2.6" height="5" fill="none" stroke="#222" stroke-width="0.45"/>
<line x1="85.1" y1="339.3" x2="87.7" y2="339.3" stroke="#222" stroke-width="0.5"/>
<path d="M112.92,299.7 L112.92,300.07 L112.92,300.43 L112.92,300.8 L112.92,301.16 L112.92,301.53 L112.92,301.89 L112.92,302.26 L112.92,302.62 L112.92,302.99 L112.92,303.35 L112.92,303.72 L112.92,304.09 L112.92,304.45 L112.92,304.82 L112.92,305.18 L112.92,305.55 L112.92,305.91 L112.92,306.28 L112.92,306.64 L112.92,307.01 L112.92,307.37 L112.92,307.74 L112.92,308.11 L112.92,308.47 L112.92,308.84 L112.92,309.2 L112.92,309.57 L112.92,309.93 L112.92,310.3 L112.92,310.66 L112.92,311.03 L112.92,311.39 L112.91,311.76 L112.91,312.13 L112.91,312.49 L112.91,312.86 L112.91,313.22 L112.91,313.59 L112.91,313.95 L112.91,314.32 L112.91,314.68 L112.91,315.05 L112.91,315.42 L112.9,315.78 L112.9,316.15 L112.9,316.51 L112.9,316.88 L112.9,317.24 L112.9,317.61 L112.9,317.97 L112.9,318.34 L112.89,318.7 L112.89,319.07 L112.89,319.44 L112.89,319.8 L112.89,320.17 L112.89,320.53 L112.89,320.9 L112.88,321.26 L112.88,321.63 L112.88,321.99 L112.88,322.36 L112.87,322.72 L112.5,323.09 L112.43,323.46 L112.35,323.82 L112.26,324.19 L112.15,324.55 L112.04,324.92 L111.91,325.28 L111.78,325.65 L111.6,326.01 L111.34,326.38 L111.03,326.74 L110.69,327.11 L110.32,327.48 L109.96,327.84 L109.59,328.21 L109.19,328.57 L108.75,328.94 L108.31,329.3 L107.87,329.67 L107.46,330.03 L107.06,330.4 L106.66,330.76 L106.25,331.13 L105.85,331.5 L105.47,331.86 L105.12,332.23 L104.8,332.59 L104.53,332.96 L104.28,333.32 L104.03,333.69 L103.78,334.05 L103.55,334.42 L103.34,334.78 L103.18,335.15 L103.06,335.52 L103,335.88 L103.01,336.25 L103.06,336.61 L103.14,336.98 L103.26,337.34 L103.39,337.71 L103.55,338.07 L103.72,338.44 L103.9,338.81 L104.09,339.17 L104.35,339.54 L104.66,339.9 L105.03,340.27 L105.42,340.63 L105.84,341 L106.27,341.36 L106.7,341.73 L107.1,342.09 L107.53,342.46 L107.97,342.83 L108.43,343.19 L108.89,343.56 L109.33,343.92 L109.76,344.29 L110.17,344.65 L110.61,345.02 L111.05,345.38 L111.46,345.75 L111.79,346.11 L111.99,346.48 L112.11,346.85 L112.23,347.21 L112.33,347.58 L112.42,347.94 L112.51,348.31 L112.87,348.67 L112.89,349.04 L112.91,349.4 L112.92,349.77 L112.92,350.13 L112.92,350.5 L113.08,350.5 L113.08,350.13 L113.08,349.77 L113.09,349.4 L113.11,349.04 L113.13,348.67 L113.49,348.31 L113.58,347.94 L113.67,347.58 L113.77,347.21 L113.89,346.85 L114.01,346.48 L114.21,346.11 L114.54,345.75 L114.95,345.38 L115.39,345.02 L115.83,344.65 L116.24,344.29 L116.67,343.92 L117.11,343.56 L117.57,343.19 L118.03,342.83 L118.47,342.46 L118.9,342.09 L119.3,341.73 L119.73,341.36 L120.16,341 L120.58,340.63 L120.97,340.27 L121.34,339.9 L121.65,339.54 L121.91,339.17 L122.1,338.81 L122.28,338.44 L122.45,338.07 L122.61,337.71 L122.74,337.34 L122.86,336.98 L122.94,336.61 L122.99,336.25 L123,335.88 L122.94,335.52 L122.82,335.15 L122.66,334.78 L122.45,334.42 L122.22,334.05 L121.97,333.69 L121.72,333.32 L121.47,332.96 L121.2,332.59 L120.88,332.23 L120.53,331.86 L120.15,331.5 L119.75,331.13 L119.34,330.76 L118.94,330.4 L118.54,330.03 L118.13,329.67 L117.69,329.3 L117.25,328.94 L116.81,328.57 L116.41,328.21 L116.04,327.84 L115.68,327.48 L115.31,327.11 L114.97,326.74 L114.66,326.38 L114.4,326.01 L114.22,325.65 L114.09,325.28 L113.96,324.92 L113.85,324.55 L113.74,324.19 L113.65,323.82 L113.57,323.46 L113.5,323.09 L113.13,322.72 L113.12,322.36 L113.12,321.99 L113.12,321.63 L113.12,321.26 L113.11,320.9 L113.11,320.53 L113.11,320.17 L113.11,319.8 L113.11,319.44 L113.11,319.07 L113.11,318.7 L113.1,318.34 L113.1,317.97 L113.1,317.61 L113.1,317.24 L113.1,316.88 L113.1,316.51 L113.1,316.15 L113.1,315.78 L113.09,315.42 L113.09,315.05 L113.09,314.68 L113.09,314.32 L113.09,313.95 L113.09,313.59 L113.09,313.22 L113.09,312.86 L113.09,312.49 L113.09,312.13 L113.09,311.76 L113.08,311.39 L113.08,311.03 L113.08,310.66 L113.08,310.3 L113.08,309.93 L113.08,309.57 L113.08,309.2 L113.08,308.84 L113.08,308.47 L113.08,308.11 L113.08,307.74 L113.08,307.37 L113.08,307.01 L113.08,306.64 L113.08,306.28 L113.08,305.91 L113.08,305.55 L113.08,305.18 L113.08,304.82 L113.08,304.45 L113.08,304.09 L113.08,303.72 L113.08,303.35 L113.08,302.99 L113.08,302.62 L113.08,302.26 L113.08,301.89 L113.08,301.53 L113.08,301.16 L113.08,300.8 L113.08,300.43 L113.08,300.07 L113.08,299.7 Z" fill="#e8474b" stroke="#2a2a2a" stroke-width="0.45" stroke-linejoin="round"/>
<line x1="113" y1="327" x2="113" y2="334.5" stroke="#2a2a2a" stroke-width="0.45"/>
<line x1="113" y1="339.3" x2="113" y2="346" stroke="#2a2a2a" stroke-width="0.45"/>
<rect x="111.7" y="334.5" width="2.6" height="4.8" fill="none" stroke="#222" stroke-width="0.45"/>
<line x1="111.7" y1="337" x2="114.3" y2="337" stroke="#222" stroke-width="0.5"/>
<path d="M134.61,319.1 L134.61,319.34 L134.61,319.58 L134.61,319.81 L134.61,320.05 L134.61,320.29 L134.61,320.53 L134.6,320.77 L134.6,321.01 L134.6,321.24 L134.6,321.48 L134.6,321.72 L134.59,321.96 L134.59,322.2 L134.59,322.43 L134.58,322.67 L134.58,322.91 L134.58,323.15 L134.57,323.39 L134.57,323.62 L134.24,323.86 L134.23,324.1 L134.21,324.34 L134.2,324.58 L134.18,324.82 L134.16,325.05 L134.14,325.29 L134.12,325.53 L134.1,325.77 L134.09,326.01 L134.06,326.24 L134.04,326.48 L134.02,326.72 L134,326.96 L133.98,327.2 L133.96,327.43 L133.93,327.67 L133.91,327.91 L133.88,328.15 L133.85,328.39 L133.82,328.63 L133.78,328.86 L133.74,329.1 L133.69,329.34 L133.63,329.58 L133.57,329.82 L133.51,330.05 L133.44,330.29 L133.36,330.53 L133.28,330.77 L133.2,331.01 L133.09,331.24 L132.96,331.48 L132.8,331.72 L132.62,331.96 L132.43,332.2 L132.21,332.44 L131.99,332.67 L131.76,332.91 L131.52,333.15 L131.29,333.39 L131.05,333.63 L130.83,333.86 L130.61,334.1 L130.39,334.34 L130.16,334.58 L129.94,334.82 L129.7,335.05 L129.47,335.29 L129.23,335.53 L128.99,335.77 L128.75,336.01 L128.5,336.25 L128.25,336.48 L128,336.72 L127.74,336.96 L127.47,337.2 L127.16,337.44 L126.82,337.67 L126.46,337.91 L126.09,338.15 L125.72,338.39 L125.35,338.63 L125,338.86 L124.67,339.1 L124.38,339.34 L124.12,339.58 L123.92,339.82 L123.78,340.06 L123.71,340.29 L123.74,340.53 L124.03,340.77 L124.51,341.01 L125.12,341.25 L125.81,341.48 L126.49,341.72 L127.11,341.96 L127.67,342.2 L128.27,342.44 L128.88,342.67 L129.48,342.91 L130.03,343.15 L130.51,343.39 L130.9,343.63 L131.27,343.87 L131.61,344.1 L131.91,344.34 L132.18,344.58 L132.39,344.82 L132.53,345.06 L132.64,345.29 L132.74,345.53 L132.83,345.77 L132.91,346.01 L132.98,346.25 L133.04,346.48 L133.1,346.72 L133.15,346.96 L133.21,347.2 L133.26,347.44 L133.32,347.68 L133.38,347.91 L133.44,348.15 L133.5,348.39 L133.57,348.63 L133.63,348.87 L133.69,349.1 L133.75,349.34 L133.81,349.58 L133.87,349.82 L133.92,350.06 L133.98,350.29 L134.04,350.53 L134.09,350.77 L134.15,351.01 L134.2,351.25 L134.57,351.49 L134.58,351.72 L134.6,351.96 L134.61,352.2 L134.79,352.2 L134.8,351.96 L134.82,351.72 L134.83,351.49 L135.2,351.25 L135.25,351.01 L135.31,350.77 L135.36,350.53 L135.42,350.29 L135.48,350.06 L135.53,349.82 L135.59,349.58 L135.65,349.34 L135.71,349.1 L135.77,348.87 L135.83,348.63 L135.9,348.39 L135.96,348.15 L136.02,347.91 L136.08,347.68 L136.14,347.44 L136.19,347.2 L136.25,346.96 L136.3,346.72 L136.36,346.48 L136.42,346.25 L136.49,346.01 L136.57,345.77 L136.66,345.53 L136.76,345.29 L136.87,345.06 L137.01,344.82 L137.22,344.58 L137.49,344.34 L137.79,344.1 L138.13,343.87 L138.5,343.63 L138.89,343.39 L139.37,343.15 L139.92,342.91 L140.52,342.67 L141.13,342.44 L141.73,342.2 L142.29,341.96 L142.91,341.72 L143.59,341.48 L144.28,341.25 L144.89,341.01 L145.37,340.77 L145.66,340.53 L145.69,340.29 L145.62,340.06 L145.48,339.82 L145.28,339.58 L145.02,339.34 L144.73,339.1 L144.4,338.86 L144.05,338.63 L143.68,338.39 L143.31,338.15 L142.94,337.91 L142.58,337.67 L142.24,337.44 L141.93,337.2 L141.66,336.96 L141.4,336.72 L141.15,336.48 L140.9,336.25 L140.65,336.01 L140.41,335.77 L140.17,335.53 L139.93,335.29 L139.7,335.05 L139.46,334.82 L139.24,334.58 L139.01,334.34 L138.79,334.1 L138.57,333.86 L138.35,333.63 L138.11,333.39 L137.88,333.15 L137.64,332.91 L137.41,332.67 L137.19,332.44 L136.97,332.2 L136.78,331.96 L136.6,331.72 L136.44,331.48 L136.31,331.24 L136.2,331.01 L136.12,330.77 L136.04,330.53 L135.96,330.29 L135.89,330.05 L135.83,329.82 L135.77,329.58 L135.71,329.34 L135.66,329.1 L135.62,328.86 L135.58,328.63 L135.55,328.39 L135.52,328.15 L135.49,327.91 L135.47,327.67 L135.44,327.43 L135.42,327.2 L135.4,326.96 L135.38,326.72 L135.36,326.48 L135.34,326.24 L135.31,326.01 L135.3,325.77 L135.28,325.53 L135.26,325.29 L135.24,325.05 L135.22,324.82 L135.2,324.58 L135.19,324.34 L135.17,324.1 L135.16,323.86 L134.83,323.62 L134.83,323.39 L134.82,323.15 L134.82,322.91 L134.82,322.67 L134.81,322.43 L134.81,322.2 L134.81,321.96 L134.8,321.72 L134.8,321.48 L134.8,321.24 L134.8,321.01 L134.8,320.77 L134.79,320.53 L134.79,320.29 L134.79,320.05 L134.79,319.81 L134.79,319.58 L134.79,319.34 L134.79,319.1 Z" fill="#5f98c9" stroke="#2a2a2a" stroke-width="0.45" stroke-linejoin="round"/>
<line x1="134.7" y1="331" x2="134.7" y2="337.5" stroke="#2a2a2a" stroke-width="0.45"/>
<line x1="134.7" y1="343" x2="134.7" y2="349" stroke="#2a2a2a" stroke-width="0.45"/>
<rect x="133.4" y="337.5" width="2.6" height="5.5" fill="none" stroke="#222" stroke-width="0.45"/>
<line x1="133.4" y1="340" x2="136" y2="340" stroke="#222" stroke-width="0.5"/>
<path d="M161.33,308.2 L161.32,308.54 L161.32,308.87 L161.32,309.21 L161.32,309.55 L161.32,309.88 L161.32,310.22 L161.32,310.56 L161.32,310.89 L161.32,311.23 L161.32,311.57 L161.31,311.9 L161.31,312.24 L161.31,312.58 L161.31,312.91 L161.31,313.25 L161.3,313.59 L161.3,313.92 L161.3,314.26 L161.29,314.6 L161.29,314.93 L161.29,315.27 L161.28,315.61 L161.28,315.94 L161.27,316.28 L161.27,316.62 L161.27,316.95 L160.94,317.29 L160.92,317.63 L160.9,317.96 L160.88,318.3 L160.84,318.64 L160.79,318.97 L160.72,319.31 L160.64,319.65 L160.56,319.98 L160.46,320.32 L160.36,320.66 L160.25,320.99 L160.14,321.33 L160.02,321.67 L159.9,322 L159.76,322.34 L159.61,322.68 L159.43,323.01 L159.23,323.35 L159.02,323.69 L158.8,324.02 L158.56,324.36 L158.32,324.7 L158.08,325.03 L157.84,325.37 L157.6,325.71 L157.37,326.04 L157.13,326.38 L156.89,326.72 L156.63,327.05 L156.37,327.39 L156.11,327.73 L155.85,328.06 L155.58,328.4 L155.32,328.74 L155.07,329.07 L154.82,329.41 L154.57,329.75 L154.34,330.08 L154.09,330.42 L153.82,330.76 L153.54,331.09 L153.27,331.43 L153.01,331.77 L152.77,332.11 L152.58,332.44 L152.44,332.78 L152.36,333.12 L152.36,333.45 L152.43,333.79 L152.58,334.13 L152.77,334.46 L153,334.8 L153.25,335.14 L153.51,335.47 L153.77,335.81 L154,336.15 L154.25,336.48 L154.51,336.82 L154.79,337.16 L155.08,337.49 L155.38,337.83 L155.68,338.17 L155.97,338.5 L156.26,338.84 L156.55,339.18 L156.84,339.51 L157.15,339.85 L157.45,340.19 L157.75,340.52 L158.05,340.86 L158.33,341.2 L158.59,341.53 L158.82,341.87 L159.03,342.21 L159.23,342.54 L159.44,342.88 L159.64,343.22 L159.84,343.55 L160.02,343.89 L160.18,344.23 L160.33,344.56 L160.45,344.9 L160.54,345.24 L160.6,345.57 L160.64,345.91 L160.67,346.25 L160.71,346.58 L160.74,346.92 L160.78,347.26 L160.81,347.59 L160.84,347.93 L160.87,348.27 L160.9,348.6 L160.92,348.94 L160.95,349.28 L161.27,349.61 L161.28,349.95 L161.28,350.29 L161.29,350.62 L161.29,350.96 L161.3,351.3 L161.3,351.63 L161.31,351.97 L161.31,352.31 L161.31,352.64 L161.32,352.98 L161.32,353.32 L161.32,353.65 L161.32,353.99 L161.32,354.33 L161.32,354.66 L161.33,355 L161.47,355 L161.48,354.66 L161.48,354.33 L161.48,353.99 L161.48,353.65 L161.48,353.32 L161.48,352.98 L161.49,352.64 L161.49,352.31 L161.49,351.97 L161.5,351.63 L161.5,351.3 L161.51,350.96 L161.51,350.62 L161.52,350.29 L161.52,349.95 L161.53,349.61 L161.85,349.28 L161.88,348.94 L161.9,348.6 L161.93,348.27 L161.96,347.93 L161.99,347.59 L162.02,347.26 L162.06,346.92 L162.09,346.58 L162.13,346.25 L162.16,345.91 L162.2,345.57 L162.26,345.24 L162.35,344.9 L162.47,344.56 L162.62,344.23 L162.78,343.89 L162.96,343.55 L163.16,343.22 L163.36,342.88 L163.57,342.54 L163.77,342.21 L163.98,341.87 L164.21,341.53 L164.47,341.2 L164.75,340.86 L165.05,340.52 L165.35,340.19 L165.65,339.85 L165.96,339.51 L166.25,339.18 L166.54,338.84 L166.83,338.5 L167.12,338.17 L167.42,337.83 L167.72,337.49 L168.01,337.16 L168.29,336.82 L168.55,336.48 L168.8,336.15 L169.03,335.81 L169.29,335.47 L169.55,335.14 L169.8,334.8 L170.03,334.46 L170.22,334.13 L170.37,333.79 L170.44,333.45 L170.44,333.12 L170.36,332.78 L170.22,332.44 L170.03,332.11 L169.79,331.77 L169.53,331.43 L169.26,331.09 L168.98,330.76 L168.71,330.42 L168.46,330.08 L168.23,329.75 L167.98,329.41 L167.73,329.07 L167.48,328.74 L167.22,328.4 L166.95,328.06 L166.69,327.73 L166.43,327.39 L166.17,327.05 L165.91,326.72 L165.67,326.38 L165.43,326.04 L165.2,325.71 L164.96,325.37 L164.72,325.03 L164.48,324.7 L164.24,324.36 L164,324.02 L163.78,323.69 L163.57,323.35 L163.37,323.01 L163.19,322.68 L163.04,322.34 L162.9,322 L162.78,321.67 L162.66,321.33 L162.55,320.99 L162.44,320.66 L162.34,320.32 L162.24,319.98 L162.16,319.65 L162.08,319.31 L162.01,318.97 L161.96,318.64 L161.92,318.3 L161.9,317.96 L161.88,317.63 L161.86,317.29 L161.53,316.95 L161.53,316.62 L161.53,316.28 L161.52,315.94 L161.52,315.61 L161.51,315.27 L161.51,314.93 L161.51,314.6 L161.5,314.26 L161.5,313.92 L161.5,313.59 L161.49,313.25 L161.49,312.91 L161.49,312.58 L161.49,312.24 L161.49,311.9 L161.48,311.57 L161.48,311.23 L161.48,310.89 L161.48,310.56 L161.48,310.22 L161.48,309.88 L161.48,309.55 L161.48,309.21 L161.48,308.87 L161.48,308.54 L161.47,308.2 Z" fill="#e8474b" stroke="#2a2a2a" stroke-width="0.45" stroke-linejoin="round"/>
<line x1="161.4" y1="322" x2="161.4" y2="330.5" stroke="#2a2a2a" stroke-width="0.45"/>
<line x1="161.4" y1="337" x2="161.4" y2="346" stroke="#2a2a2a" stroke-width="0.45"/>
<rect x="160.1" y="330.5" width="2.6" height="6.5" fill="none" stroke="#222" stroke-width="0.45"/>
<line x1="160.1" y1="333.5" x2="162.7" y2="333.5" stroke="#222" stroke-width="0.5"/>
<path d="M183.31,321.2 L183.3,321.37 L183.29,321.54 L183.28,321.71 L183.27,321.88 L182.91,322.05 L182.86,322.22 L182.81,322.39 L182.75,322.56 L182.69,322.73 L182.63,322.9 L182.57,323.07 L182.5,323.24 L182.44,323.41 L182.37,323.58 L182.29,323.75 L182.21,323.92 L182.12,324.09 L182.02,324.26 L181.92,324.43 L181.82,324.6 L181.71,324.77 L181.6,324.94 L181.49,325.11 L181.38,325.27 L181.26,325.44 L181.15,325.61 L181.04,325.78 L180.93,325.95 L180.82,326.12 L180.71,326.29 L180.6,326.46 L180.49,326.63 L180.38,326.8 L180.27,326.97 L180.15,327.14 L180.04,327.31 L179.93,327.48 L179.81,327.65 L179.7,327.82 L179.58,327.99 L179.47,328.16 L179.35,328.33 L179.24,328.5 L179.12,328.67 L179.01,328.84 L178.89,329.01 L178.78,329.18 L178.66,329.35 L178.54,329.52 L178.42,329.69 L178.3,329.86 L178.18,330.03 L178.05,330.2 L177.93,330.37 L177.81,330.54 L177.69,330.71 L177.58,330.88 L177.46,331.05 L177.35,331.22 L177.24,331.39 L177.14,331.56 L177.04,331.73 L176.95,331.9 L176.87,332.07 L176.78,332.24 L176.69,332.41 L176.6,332.58 L176.51,332.75 L176.41,332.92 L176.32,333.08 L176.23,333.25 L176.15,333.42 L176.06,333.59 L175.98,333.76 L175.91,333.93 L175.84,334.1 L175.77,334.27 L175.71,334.44 L175.66,334.61 L175.62,334.78 L175.59,334.95 L175.57,335.12 L175.55,335.29 L175.55,335.46 L175.55,335.63 L175.56,335.8 L175.57,335.97 L175.59,336.14 L175.6,336.31 L175.62,336.48 L175.65,336.65 L175.67,336.82 L175.7,336.99 L175.73,337.16 L175.76,337.33 L175.79,337.5 L175.83,337.67 L175.86,337.84 L175.9,338.01 L175.95,338.18 L176,338.35 L176.07,338.52 L176.15,338.69 L176.24,338.86 L176.34,339.03 L176.45,339.2 L176.56,339.37 L176.68,339.54 L176.8,339.71 L176.93,339.88 L177.05,340.05 L177.18,340.22 L177.31,340.39 L177.44,340.56 L177.58,340.73 L177.72,340.89 L177.88,341.06 L178.04,341.23 L178.2,341.4 L178.38,341.57 L178.56,341.74 L178.74,341.91 L178.93,342.08 L179.12,342.25 L179.31,342.42 L179.51,342.59 L179.71,342.76 L179.91,342.93 L180.13,343.1 L180.35,343.27 L180.58,343.44 L180.81,343.61 L181.06,343.78 L181.32,343.95 L181.6,344.12 L181.9,344.29 L182.22,344.46 L182.55,344.63 L182.9,344.8 L183.9,344.8 L184.25,344.63 L184.58,344.46 L184.9,344.29 L185.2,344.12 L185.48,343.95 L185.74,343.78 L185.99,343.61 L186.22,343.44 L186.45,343.27 L186.67,343.1 L186.89,342.93 L187.09,342.76 L187.29,342.59 L187.49,342.42 L187.68,342.25 L187.87,342.08 L188.06,341.91 L188.24,341.74 L188.42,341.57 L188.6,341.4 L188.76,341.23 L188.92,341.06 L189.08,340.89 L189.22,340.73 L189.36,340.56 L189.49,340.39 L189.62,340.22 L189.75,340.05 L189.87,339.88 L190,339.71 L190.12,339.54 L190.24,339.37 L190.35,339.2 L190.46,339.03 L190.56,338.86 L190.65,338.69 L190.73,338.52 L190.8,338.35 L190.85,338.18 L190.9,338.01 L190.94,337.84 L190.97,337.67 L191.01,337.5 L191.04,337.33 L191.07,337.16 L191.1,336.99 L191.13,336.82 L191.15,336.65 L191.18,336.48 L191.2,336.31 L191.21,336.14 L191.23,335.97 L191.24,335.8 L191.25,335.63 L191.25,335.46 L191.25,335.29 L191.23,335.12 L191.21,334.95 L191.18,334.78 L191.14,334.61 L191.09,334.44 L191.03,334.27 L190.96,334.1 L190.89,333.93 L190.82,333.76 L190.74,333.59 L190.65,333.42 L190.57,333.25 L190.48,333.08 L190.39,332.92 L190.29,332.75 L190.2,332.58 L190.11,332.41 L190.02,332.24 L189.93,332.07 L189.85,331.9 L189.76,331.73 L189.66,331.56 L189.56,331.39 L189.45,331.22 L189.34,331.05 L189.22,330.88 L189.11,330.71 L188.99,330.54 L188.87,330.37 L188.75,330.2 L188.62,330.03 L188.5,329.86 L188.38,329.69 L188.26,329.52 L188.14,329.35 L188.02,329.18 L187.91,329.01 L187.79,328.84 L187.68,328.67 L187.56,328.5 L187.45,328.33 L187.33,328.16 L187.22,327.99 L187.1,327.82 L186.99,327.65 L186.87,327.48 L186.76,327.31 L186.65,327.14 L186.53,326.97 L186.42,326.8 L186.31,326.63 L186.2,326.46 L186.09,326.29 L185.98,326.12 L185.87,325.95 L185.76,325.78 L185.65,325.61 L185.54,325.44 L185.42,325.27 L185.31,325.11 L185.2,324.94 L185.09,324.77 L184.98,324.6 L184.88,324.43 L184.78,324.26 L184.68,324.09 L184.59,323.92 L184.51,323.75 L184.43,323.58 L184.36,323.41 L184.3,323.24 L184.23,323.07 L184.17,322.9 L184.11,322.73 L184.05,322.56 L183.99,322.39 L183.94,322.22 L183.89,322.05 L183.53,321.88 L183.52,321.71 L183.51,321.54 L183.5,321.37 L183.49,321.2 Z" fill="#5f98c9" stroke="#2a2a2a" stroke-width="0.45" stroke-linejoin="round"/>
<line x1="183.4" y1="325" x2="183.4" y2="333" stroke="#2a2a2a" stroke-width="0.45"/>
<line x1="183.4" y1="338.5" x2="183.4" y2="343.5" stroke="#2a2a2a" stroke-width="0.45"/>
<rect x="182.1" y="333" width="2.6" height="5.5" fill="none" stroke="#222" stroke-width="0.45"/>
<line x1="182.1" y1="335.5" x2="184.7" y2="335.5" stroke="#222" stroke-width="0.5"/>
<path d="M209.93,265 L209.92,265.6 L209.92,266.19 L209.92,266.79 L209.92,267.39 L209.92,267.99 L209.92,268.58 L209.92,269.18 L209.92,269.78 L209.92,270.37 L209.92,270.97 L209.92,271.57 L209.92,272.17 L209.92,272.76 L209.92,273.36 L209.92,273.96 L209.92,274.55 L209.92,275.15 L209.92,275.75 L209.92,276.35 L209.92,276.94 L209.92,277.54 L209.92,278.14 L209.92,278.73 L209.92,279.33 L209.92,279.93 L209.92,280.53 L209.92,281.12 L209.92,281.72 L209.91,282.32 L209.91,282.91 L209.91,283.51 L209.91,284.11 L209.91,284.71 L209.91,285.3 L209.91,285.9 L209.91,286.5 L209.91,287.09 L209.91,287.69 L209.91,288.29 L209.91,288.88 L209.9,289.48 L209.9,290.08 L209.9,290.68 L209.9,291.27 L209.9,291.87 L209.9,292.47 L209.9,293.06 L209.9,293.66 L209.89,294.26 L209.89,294.86 L209.89,295.45 L209.89,296.05 L209.89,296.65 L209.89,297.24 L209.89,297.84 L209.88,298.44 L209.88,299.04 L209.88,299.63 L209.88,300.23 L209.88,300.83 L209.87,301.42 L209.87,302.02 L209.55,302.62 L209.53,303.22 L209.51,303.81 L209.49,304.41 L209.46,305.01 L209.43,305.6 L209.4,306.2 L209.37,306.8 L209.34,307.4 L209.3,307.99 L209.26,308.59 L209.2,309.19 L209.12,309.78 L209.04,310.38 L208.96,310.98 L208.87,311.58 L208.77,312.17 L208.68,312.77 L208.57,313.37 L208.46,313.96 L208.34,314.56 L208.22,315.16 L208.09,315.76 L207.95,316.35 L207.81,316.95 L207.67,317.55 L207.52,318.14 L207.36,318.74 L207.18,319.34 L206.98,319.94 L206.77,320.53 L206.55,321.13 L206.32,321.73 L206.1,322.32 L205.9,322.92 L205.72,323.52 L205.57,324.12 L205.43,324.71 L205.28,325.31 L205.14,325.91 L205,326.5 L204.88,327.1 L204.77,327.7 L204.68,328.29 L204.63,328.89 L204.6,329.49 L204.61,330.09 L204.65,330.68 L204.71,331.28 L204.8,331.88 L204.9,332.47 L205.01,333.07 L205.13,333.67 L205.26,334.27 L205.44,334.86 L205.66,335.46 L205.91,336.06 L206.18,336.65 L206.46,337.25 L206.73,337.85 L207,338.45 L207.29,339.04 L207.59,339.64 L207.88,340.24 L208.14,340.83 L208.36,341.43 L208.57,342.03 L208.76,342.63 L208.94,343.22 L209.09,343.82 L209.22,344.42 L209.34,345.01 L209.45,345.61 L209.55,346.21 L209.89,346.81 L209.91,347.4 L209.93,348 L210.07,348 L210.09,347.4 L210.11,346.81 L210.45,346.21 L210.55,345.61 L210.66,345.01 L210.78,344.42 L210.91,343.82 L211.06,343.22 L211.24,342.63 L211.43,342.03 L211.64,341.43 L211.86,340.83 L212.12,340.24 L212.41,339.64 L212.71,339.04 L213,338.45 L213.27,337.85 L213.54,337.25 L213.82,336.65 L214.09,336.06 L214.34,335.46 L214.56,334.86 L214.74,334.27 L214.87,333.67 L214.99,333.07 L215.1,332.47 L215.2,331.88 L215.29,331.28 L215.35,330.68 L215.39,330.09 L215.4,329.49 L215.37,328.89 L215.32,328.29 L215.23,327.7 L215.12,327.1 L215,326.5 L214.86,325.91 L214.72,325.31 L214.57,324.71 L214.43,324.12 L214.28,323.52 L214.1,322.92 L213.9,322.32 L213.68,321.73 L213.45,321.13 L213.23,320.53 L213.02,319.94 L212.82,319.34 L212.64,318.74 L212.48,318.14 L212.33,317.55 L212.19,316.95 L212.05,316.35 L211.91,315.76 L211.78,315.16 L211.66,314.56 L211.54,313.96 L211.43,313.37 L211.32,312.77 L211.23,312.17 L211.13,311.58 L211.04,310.98 L210.96,310.38 L210.88,309.78 L210.8,309.19 L210.74,308.59 L210.7,307.99 L210.66,307.4 L210.63,306.8 L210.6,306.2 L210.57,305.6 L210.54,305.01 L210.51,304.41 L210.49,303.81 L210.47,303.22 L210.45,302.62 L210.13,302.02 L210.13,301.42 L210.12,300.83 L210.12,300.23 L210.12,299.63 L210.12,299.04 L210.12,298.44 L210.11,297.84 L210.11,297.24 L210.11,296.65 L210.11,296.05 L210.11,295.45 L210.11,294.86 L210.11,294.26 L210.1,293.66 L210.1,293.06 L210.1,292.47 L210.1,291.87 L210.1,291.27 L210.1,290.68 L210.1,290.08 L210.1,289.48 L210.09,288.88 L210.09,288.29 L210.09,287.69 L210.09,287.09 L210.09,286.5 L210.09,285.9 L210.09,285.3 L210.09,284.71 L210.09,284.11 L210.09,283.51 L210.09,282.91 L210.09,282.32 L210.08,281.72 L210.08,281.12 L210.08,280.53 L210.08,279.93 L210.08,279.33 L210.08,278.73 L210.08,278.14 L210.08,277.54 L210.08,276.94 L210.08,276.35 L210.08,275.75 L210.08,275.15 L210.08,274.55 L210.08,273.96 L210.08,273.36 L210.08,272.76 L210.08,272.17 L210.08,271.57 L210.08,270.97 L210.08,270.37 L210.08,269.78 L210.08,269.18 L210.08,268.58 L210.08,267.99 L210.08,267.39 L210.08,266.79 L210.08,266.19 L210.08,265.6 L210.07,265 Z" fill="#e8474b" stroke="#2a2a2a" stroke-width="0.45" stroke-linejoin="round"/>
<line x1="210" y1="312" x2="210" y2="324.1" stroke="#2a2a2a" stroke-width="0.45"/>
<line x1="210" y1="334.2" x2="210" y2="344" stroke="#2a2a2a" stroke-width="0.45"/>
<rect x="208.7" y="324.1" width="2.6" height="10.1" fill="none" stroke="#222" stroke-width="0.45"/>
<line x1="208.7" y1="330" x2="211.3" y2="330" stroke="#222" stroke-width="0.5"/>
<path d="M231.53,252.2 L231.52,252.86 L231.52,253.51 L231.52,254.17 L231.52,254.82 L231.52,255.48 L231.52,256.14 L231.52,256.79 L231.52,257.45 L231.52,258.11 L231.52,258.76 L231.52,259.42 L231.52,260.07 L231.52,260.73 L231.52,261.39 L231.52,262.04 L231.52,262.7 L231.52,263.35 L231.52,264.01 L231.51,264.67 L231.51,265.32 L231.51,265.98 L231.51,266.63 L231.51,267.29 L231.51,267.95 L231.51,268.6 L231.51,269.26 L231.5,269.92 L231.5,270.57 L231.5,271.23 L231.5,271.88 L231.5,272.54 L231.5,273.2 L231.5,273.85 L231.49,274.51 L231.49,275.16 L231.49,275.82 L231.49,276.48 L231.49,277.13 L231.49,277.79 L231.48,278.44 L231.48,279.1 L231.48,279.76 L231.48,280.41 L231.48,281.07 L231.47,281.73 L231.47,282.38 L231.47,283.04 L231.47,283.69 L231.14,284.35 L231.13,285.01 L231.12,285.66 L231.1,286.32 L231.09,286.97 L231.08,287.63 L231.06,288.29 L231.05,288.94 L231.03,289.6 L231.02,290.25 L231,290.91 L230.98,291.57 L230.97,292.22 L230.95,292.88 L230.94,293.54 L230.92,294.19 L230.9,294.85 L230.89,295.5 L230.87,296.16 L230.85,296.82 L230.83,297.47 L230.82,298.13 L230.8,298.78 L230.78,299.44 L230.76,300.1 L230.74,300.75 L230.72,301.41 L230.69,302.06 L230.67,302.72 L230.65,303.38 L230.63,304.03 L230.61,304.69 L230.59,305.35 L230.57,306 L230.55,306.66 L230.54,307.31 L230.52,307.97 L230.51,308.63 L230.49,309.28 L230.48,309.94 L230.46,310.59 L230.44,311.25 L230.42,311.91 L230.4,312.56 L230.38,313.22 L230.35,313.87 L230.33,314.53 L230.29,315.19 L230.26,315.84 L230.22,316.5 L230.17,317.16 L230.06,317.81 L229.91,318.47 L229.73,319.12 L229.53,319.78 L229.34,320.44 L229.17,321.09 L229.03,321.75 L228.89,322.4 L228.75,323.06 L228.62,323.72 L228.49,324.37 L228.37,325.03 L228.25,325.68 L228.14,326.34 L228.02,327 L227.91,327.65 L227.8,328.31 L227.71,328.97 L227.63,329.62 L227.58,330.28 L227.54,330.93 L227.5,331.59 L227.47,332.25 L227.45,332.9 L227.45,333.56 L227.47,334.21 L227.5,334.87 L227.55,335.53 L227.61,336.18 L227.68,336.84 L227.78,337.49 L227.94,338.15 L228.16,338.81 L228.4,339.46 L228.64,340.12 L228.88,340.78 L229.15,341.43 L229.51,342.09 L230.05,342.74 L231.1,343.4 L232.1,343.4 L233.15,342.74 L233.69,342.09 L234.05,341.43 L234.32,340.78 L234.56,340.12 L234.8,339.46 L235.04,338.81 L235.26,338.15 L235.42,337.49 L235.52,336.84 L235.59,336.18 L235.65,335.53 L235.7,334.87 L235.73,334.21 L235.75,333.56 L235.75,332.9 L235.73,332.25 L235.7,331.59 L235.66,330.93 L235.62,330.28 L235.57,329.62 L235.49,328.97 L235.4,328.31 L235.29,327.65 L235.18,327 L235.06,326.34 L234.95,325.68 L234.83,325.03 L234.71,324.37 L234.58,323.72 L234.45,323.06 L234.31,322.4 L234.17,321.75 L234.03,321.09 L233.86,320.44 L233.67,319.78 L233.47,319.12 L233.29,318.47 L233.14,317.81 L233.03,317.16 L232.98,316.5 L232.94,315.84 L232.91,315.19 L232.87,314.53 L232.85,313.87 L232.82,313.22 L232.8,312.56 L232.78,311.91 L232.76,311.25 L232.74,310.59 L232.72,309.94 L232.71,309.28 L232.69,308.63 L232.68,307.97 L232.66,307.31 L232.65,306.66 L232.63,306 L232.61,305.35 L232.59,304.69 L232.57,304.03 L232.55,303.38 L232.53,302.72 L232.51,302.06 L232.48,301.41 L232.46,300.75 L232.44,300.1 L232.42,299.44 L232.4,298.78 L232.38,298.13 L232.37,297.47 L232.35,296.82 L232.33,296.16 L232.31,295.5 L232.3,294.85 L232.28,294.19 L232.26,293.54 L232.25,292.88 L232.23,292.22 L232.22,291.57 L232.2,290.91 L232.18,290.25 L232.17,289.6 L232.15,288.94 L232.14,288.29 L232.12,287.63 L232.11,286.97 L232.1,286.32 L232.08,285.66 L232.07,285.01 L232.06,284.35 L231.73,283.69 L231.73,283.04 L231.73,282.38 L231.73,281.73 L231.72,281.07 L231.72,280.41 L231.72,279.76 L231.72,279.1 L231.72,278.44 L231.71,277.79 L231.71,277.13 L231.71,276.48 L231.71,275.82 L231.71,275.16 L231.71,274.51 L231.7,273.85 L231.7,273.2 L231.7,272.54 L231.7,271.88 L231.7,271.23 L231.7,270.57 L231.7,269.92 L231.69,269.26 L231.69,268.6 L231.69,267.95 L231.69,267.29 L231.69,266.63 L231.69,265.98 L231.69,265.32 L231.69,264.67 L231.68,264.01 L231.68,263.35 L231.68,262.7 L231.68,262.04 L231.68,261.39 L231.68,260.73 L231.68,260.07 L231.68,259.42 L231.68,258.76 L231.68,258.11 L231.68,257.45 L231.68,256.79 L231.68,256.14 L231.68,255.48 L231.68,254.82 L231.68,254.17 L231.68,253.51 L231.68,252.86 L231.67,252.2 Z" fill="#5f98c9" stroke="#2a2a2a" stroke-width="0.45" stroke-linejoin="round"/>
<line x1="231.6" y1="300" x2="231.6" y2="320.4" stroke="#2a2a2a" stroke-width="0.45"/>
<line x1="231.6" y1="335.1" x2="231.6" y2="343" stroke="#2a2a2a" stroke-width="0.45"/>
<rect x="230.3" y="320.4" width="2.6" height="14.7" fill="none" stroke="#222" stroke-width="0.45"/>
<line x1="230.3" y1="330" x2="232.9" y2="330" stroke="#222" stroke-width="0.5"/>
<rect x="46.6" y="247.4" width="203.2" height="111.9" fill="none" stroke="#a8a8a8" stroke-width="0.8"/>
<line x1="75.5" y1="359.3" x2="75.5" y2="360.5" stroke="#333" stroke-width="0.4"/>
<line x1="124" y1="359.3" x2="124" y2="360.5" stroke="#333" stroke-width="0.4"/>
<line x1="172.4" y1="359.3" x2="172.4" y2="360.5" stroke="#333" stroke-width="0.4"/>
<line x1="220.9" y1="359.3" x2="220.9" y2="360.5" stroke="#333" stroke-width="0.4"/>
<line x1="45.4" y1="326.8" x2="46.6" y2="326.8" stroke="#333" stroke-width="0.4"/>
<line x1="45.4" y1="281" x2="46.6" y2="281" stroke="#333" stroke-width="0.4"/>
<text x="44.2" y="328.3" font-size="4.3" text-anchor="end" fill="#4d4d4d" font-weight="normal" font-style="normal">50</text>
<text x="44.2" y="282.5" font-size="4.3" text-anchor="end" fill="#4d4d4d" font-weight="normal" font-style="normal">100</text>
<text x="75.5" y="365.7" font-size="4.45" text-anchor="middle" fill="#4d4d4d" font-weight="normal" font-style="normal">Q1 (2.50, 4.98)</text>
<text x="124" y="365.7" font-size="4.45" text-anchor="middle" fill="#4d4d4d" font-weight="normal" font-style="normal">Q2 (4.98, 5.50)</text>
<text x="172.4" y="365.7" font-size="4.45" text-anchor="middle" fill="#4d4d4d" font-weight="normal" font-style="normal">Q3 (5.50, 6.51)</text>
<text x="220.9" y="365.7" font-size="4.45" text-anchor="middle" fill="#4d4d4d" font-weight="normal" font-style="normal">Q4 (6.51,40.00)</text>
<text x="148" y="372.2" font-size="5.65" text-anchor="middle" fill="#000" font-weight="normal" font-style="normal">Random glucose quartile</text>
<text x="148" y="377.2" font-size="5.6" text-anchor="middle" fill="#000" font-weight="normal" font-style="normal">(mean glucose in 90 day window around HbA1c)</text>
<text x="35" y="303.5" font-size="5.9" text-anchor="middle" fill="#000" font-weight="normal" font-style="normal" transform="rotate(-90 35 303.5)">HbA1c</text>
<text x="75.5" y="265" font-size="5.8" text-anchor="middle" fill="#000" font-weight="bold" font-style="normal">***</text>
<text x="124" y="265" font-size="5.8" text-anchor="middle" fill="#000" font-weight="bold" font-style="normal">***</text>
<text x="172.4" y="265" font-size="5.8" text-anchor="middle" fill="#000" font-weight="bold" font-style="normal">*</text>
<text x="220.6" y="265.3" font-size="5.6" text-anchor="middle" fill="#000" font-weight="normal" font-style="normal">NS</text>
<text x="43.3" y="236.2" font-size="5.8" text-anchor="start" fill="#000" font-weight="normal" font-style="normal">rs563555492 genotype</text>
<rect x="106.2" y="229.7" width="8.4" height="8.6" fill="#e8474b" stroke="#555" stroke-width="0.5"/>
<text x="117.7" y="236" font-size="4.75" text-anchor="start" fill="#000" font-weight="normal" font-style="normal">G/G</text>
<rect x="129.5" y="229.7" width="8.6" height="8.6" fill="#5f98c9" stroke="#555" stroke-width="0.5"/>
<text x="141" y="236" font-size="4.85" text-anchor="start" fill="#000" font-weight="normal" font-style="normal">G/T or T/T</text>
<text x="270.6" y="236.7" font-size="10.4" text-anchor="start" fill="#000" font-weight="bold" font-style="normal">E</text>
<rect x="297.5" y="238.4" width="172" height="129.7" fill="#fff" stroke="none" stroke-width="0.5"/>
<line x1="318.6" y1="238.4" x2="318.6" y2="368.1" stroke="#f4f4f4" stroke-width="0.35"/>
<line x1="364.6" y1="238.4" x2="364.6" y2="368.1" stroke="#f4f4f4" stroke-width="0.35"/>
<line x1="410.6" y1="238.4" x2="410.6" y2="368.1" stroke="#f4f4f4" stroke-width="0.35"/>
<line x1="456.6" y1="238.4" x2="456.6" y2="368.1" stroke="#f4f4f4" stroke-width="0.35"/>
<line x1="297.5" y1="347.68" x2="469.5" y2="347.68" stroke="#f4f4f4" stroke-width="0.35"/>
<line x1="297.5" y1="323.02" x2="469.5" y2="323.02" stroke="#f4f4f4" stroke-width="0.35"/>
<line x1="297.5" y1="298.38" x2="469.5" y2="298.38" stroke="#f4f4f4" stroke-width="0.35"/>
<line x1="297.5" y1="273.73" x2="469.5" y2="273.73" stroke="#f4f4f4" stroke-width="0.35"/>
<line x1="297.5" y1="249.07" x2="469.5" y2="249.07" stroke="#f4f4f4" stroke-width="0.35"/>
<line x1="341.6" y1="238.4" x2="341.6" y2="368.1" stroke="#ebebeb" stroke-width="0.5"/>
<line x1="387.6" y1="238.4" x2="387.6" y2="368.1" stroke="#ebebeb" stroke-width="0.5"/>
<line x1="433.6" y1="238.4" x2="433.6" y2="368.1" stroke="#ebebeb" stroke-width="0.5"/>
<line x1="297.5" y1="360" x2="469.5" y2="360" stroke="#ebebeb" stroke-width="0.5"/>
<line x1="297.5" y1="335.35" x2="469.5" y2="335.35" stroke="#ebebeb" stroke-width="0.5"/>
<line x1="297.5" y1="310.7" x2="469.5" y2="310.7" stroke="#ebebeb" stroke-width="0.5"/>
<line x1="297.5" y1="286.05" x2="469.5" y2="286.05" stroke="#ebebeb" stroke-width="0.5"/>
<line x1="297.5" y1="261.4" x2="469.5" y2="261.4" stroke="#ebebeb" stroke-width="0.5"/>
<path d="M305.4,334.2 L305.51,333.39 L305.71,332.55 L306,331.69 L306.37,330.82 L306.84,329.94 L307.4,329.05 L308.05,328.17 L308.8,327.3 L309.71,326.46 L310.82,325.66 L312.06,324.87 L313.38,324.07 L314.7,323.24 L315.97,322.37 L317.12,321.43 L318.1,320.4 L318.91,319.24 L319.63,317.94 L320.26,316.55 L320.83,315.12 L321.34,313.71 L321.81,312.35 L322.26,311.1 L322.7,310 L323.09,309.06 L323.4,308.22 L323.66,307.47 L323.89,306.79 L324.14,306.16 L324.41,305.54 L324.76,304.93 L325.2,304.3 L325.73,303.66 L326.33,303.05 L326.97,302.46 L327.66,301.89 L328.39,301.32 L329.14,300.75 L329.92,300.18 L330.7,299.6 L331.51,299.05 L332.34,298.54 L333.21,298.05 L334.1,297.55 L335.01,297.01 L335.93,296.41 L336.86,295.72 L337.8,294.9 L338.76,293.94 L339.76,292.86 L340.77,291.68 L341.8,290.44 L342.82,289.17 L343.82,287.88 L344.78,286.62 L345.7,285.4 L346.56,284.19 L347.37,282.95 L348.14,281.7 L348.9,280.45 L349.65,279.23 L350.41,278.07 L351.19,276.99 L352,276 L352.84,275.11 L353.68,274.3 L354.54,273.55 L355.41,272.86 L356.29,272.22 L357.2,271.62 L358.14,271.05 L359.1,270.5 L360.12,269.99 L361.2,269.55 L362.32,269.16 L363.45,268.8 L364.58,268.45 L365.68,268.1 L366.72,267.72 L367.7,267.3 L368.58,266.85 L369.38,266.39 L370.13,265.92 L370.85,265.44 L371.57,264.94 L372.32,264.44 L373.12,263.93 L374,263.4 L374.95,262.85 L375.93,262.26 L376.94,261.65 L377.99,261.04 L379.08,260.43 L380.21,259.85 L381.38,259.3 L382.6,258.8 L383.88,258.35 L385.24,257.93 L386.64,257.54 L388.08,257.18 L389.54,256.83 L391.01,256.51 L392.47,256.2 L393.9,255.9 L395.32,255.63 L396.75,255.4 L398.18,255.19 L399.61,255 L401.03,254.81 L402.44,254.6 L403.83,254.37 L405.2,254.1 L406.54,253.78 L407.86,253.43 L409.17,253.05 L410.46,252.66 L411.74,252.26 L413.02,251.88 L414.31,251.52 L415.6,251.2 L416.93,250.91 L418.31,250.65 L419.71,250.41 L421.09,250.19 L422.44,249.97 L423.73,249.75 L424.92,249.53 L426,249.3 L426.94,249.06 L427.76,248.82 L428.49,248.58 L429.15,248.34 L429.78,248.11 L430.39,247.87 L431.02,247.63 L431.7,247.4 L432.39,247.16 L433.06,246.91 L433.72,246.66 L434.38,246.41 L435.06,246.17 L435.76,245.95 L436.5,245.76 L437.3,245.6 L438.15,245.47 L439.06,245.36 L440.01,245.27 L440.98,245.21 L441.97,245.16 L442.96,245.15 L443.94,245.16 L444.9,245.2 L445.85,245.26 L446.82,245.35 L447.8,245.45 L448.77,245.59 L449.72,245.75 L450.65,245.96 L451.55,246.21 L452.4,246.5 L453.22,246.84 L454.02,247.23 L454.8,247.66 L455.54,248.13 L456.25,248.63 L456.92,249.16 L457.54,249.72 L458.1,250.3 L458.62,250.91 L459.11,251.57 L459.57,252.26 L459.98,252.98 L460.32,253.71 L460.6,254.45 L460.79,255.18 L460.9,255.9 L460.91,256.63 L460.84,257.39 L460.69,258.16 L460.48,258.93 L460.19,259.67 L459.85,260.38 L459.45,261.03 L459,261.6 L458.48,262.1 L457.88,262.55 L457.21,262.94 L456.49,263.29 L455.74,263.61 L454.96,263.89 L454.17,264.16 L453.4,264.4 L452.61,264.6 L451.78,264.73 L450.92,264.83 L450.05,264.9 L449.19,264.97 L448.35,265.07 L447.55,265.2 L446.8,265.4 L446.11,265.64 L445.45,265.91 L444.82,266.19 L444.22,266.51 L443.64,266.86 L443.08,267.25 L442.54,267.7 L442,268.2 L441.48,268.76 L440.98,269.38 L440.5,270.05 L440.03,270.76 L439.58,271.5 L439.14,272.28 L438.72,273.08 L438.3,273.9 L437.9,274.74 L437.52,275.6 L437.15,276.49 L436.79,277.41 L436.45,278.36 L436.1,279.34 L435.75,280.35 L435.4,281.4 L435.04,282.49 L434.66,283.64 L434.29,284.83 L433.91,286.05 L433.55,287.28 L433.21,288.51 L432.89,289.72 L432.6,290.9 L432.36,292.06 L432.18,293.21 L432.03,294.35 L431.9,295.49 L431.76,296.62 L431.59,297.75 L431.38,298.87 L431.1,300 L430.76,301.12 L430.39,302.24 L429.98,303.35 L429.54,304.46 L429.07,305.56 L428.58,306.67 L428.05,307.78 L427.5,308.9 L426.91,310.02 L426.27,311.15 L425.6,312.27 L424.91,313.4 L424.2,314.53 L423.49,315.65 L422.78,316.78 L422.1,317.9 L421.43,319.02 L420.77,320.13 L420.11,321.24 L419.45,322.36 L418.79,323.47 L418.13,324.58 L417.47,325.69 L416.8,326.8 L416.12,327.94 L415.41,329.11 L414.7,330.29 L413.99,331.47 L413.29,332.62 L412.62,333.72 L411.98,334.75 L411.4,335.7 L410.9,336.54 L410.48,337.28 L410.11,337.95 L409.76,338.57 L409.4,339.17 L408.99,339.78 L408.5,340.41 L407.9,341.1 L407.19,341.87 L406.4,342.7 L405.55,343.56 L404.64,344.43 L403.69,345.26 L402.71,346.04 L401.71,346.73 L400.7,347.3 L399.67,347.74 L398.59,348.06 L397.49,348.3 L396.36,348.48 L395.21,348.62 L394.06,348.75 L392.92,348.91 L391.8,349.1 L390.68,349.32 L389.54,349.53 L388.39,349.74 L387.24,349.94 L386.11,350.16 L385.01,350.39 L383.93,350.63 L382.9,350.9 L381.93,351.18 L381.02,351.47 L380.15,351.77 L379.3,352.09 L378.45,352.42 L377.58,352.78 L376.67,353.17 L375.7,353.6 L374.67,354.08 L373.59,354.62 L372.49,355.2 L371.36,355.8 L370.21,356.4 L369.06,356.98 L367.92,357.52 L366.8,358 L365.69,358.43 L364.58,358.84 L363.47,359.22 L362.36,359.57 L361.24,359.89 L360.13,360.19 L359.02,360.46 L357.9,360.7 L356.75,360.91 L355.57,361.09 L354.37,361.25 L353.17,361.38 L352.01,361.47 L350.89,361.54 L349.85,361.59 L348.9,361.6 L348.04,361.58 L347.25,361.52 L346.53,361.43 L345.86,361.32 L345.23,361.18 L344.66,361.03 L344.11,360.87 L343.6,360.7 L343.13,360.52 L342.73,360.31 L342.37,360.08 L342.05,359.84 L341.75,359.6 L341.47,359.36 L341.19,359.12 L340.9,358.9 L340.62,358.71 L340.36,358.56 L340.13,358.42 L339.89,358.27 L339.66,358.11 L339.4,357.91 L339.12,357.64 L338.8,357.3 L338.49,356.86 L338.21,356.34 L337.93,355.75 L337.62,355.12 L337.24,354.48 L336.77,353.84 L336.17,353.24 L335.4,352.7 L334.43,352.22 L333.26,351.77 L331.96,351.36 L330.56,350.95 L329.12,350.54 L327.68,350.13 L326.29,349.68 L325,349.2 L323.79,348.68 L322.59,348.13 L321.41,347.56 L320.26,346.97 L319.12,346.37 L317.99,345.78 L316.89,345.18 L315.8,344.6 L314.7,344.03 L313.56,343.48 L312.43,342.93 L311.32,342.38 L310.26,341.81 L309.29,341.23 L308.43,340.63 L307.7,340 L307.1,339.34 L306.58,338.66 L306.16,337.96 L305.83,337.24 L305.59,336.51 L305.44,335.76 L305.38,334.99Z" fill="#3864a8"/>
<circle cx="422.2" cy="269.2" r="4.1" fill="#4a7fb6"/>
<path d="M323.93,317 L324.63,315.56 L325.31,314.15 L325.98,312.79 L326.65,311.47 L327.33,310.18 L328.03,308.93 L328.74,307.71 L329.45,306.52 L330.19,305.36 L330.93,304.24 L331.68,303.14 L332.43,302.05 L333.17,300.99 L333.91,299.93 L334.63,298.89 L335.36,297.85 L336.1,296.83 L336.85,295.82 L337.62,294.82 L338.4,293.84 L339.21,292.88 L340.05,291.94 L340.93,291.04 L341.84,290.17 L342.77,289.32 L343.73,288.5 L344.69,287.67 L345.67,286.86 L346.66,286.04 L347.65,285.22 L348.64,284.35 L349.63,283.44 L350.61,282.44 L351.59,281.33 L352.57,280.09 L353.58,278.77 L354.66,277.45 L355.84,276.26 L357.13,275.29 L358.51,274.5 L359.93,273.83 L361.4,273.25 L362.9,272.71 L364.43,272.17 L366,271.59 L367.61,270.93 L369.27,270.21 L371,269.46 L372.79,268.67 L374.66,267.89 L376.6,267.15 L378.6,266.48 L380.66,265.87 L382.78,265.36 L384.93,265 L387.09,264.79 L389.28,264.71 L391.47,264.78 L393.62,265.06 L395.68,265.6 L397.62,266.4 L399.43,267.43 L401.14,268.63 L402.73,269.99 L404.2,271.47 L405.62,273 L407.03,274.51 L408.49,275.97 L409.99,277.39 L411.51,278.81 L413.05,280.24 L414.55,281.72 L416,283.27 L417.31,284.94 L418.49,286.7 L419.52,288.54 L420.41,290.46 L421.16,292.44 L421.77,294.47 L422.22,296.54 L422.45,298.66 L422.43,300.82 L422.12,303.01 L421.52,305.2 L420.7,307.35 L419.76,309.44 L418.76,311.45 L417.63,313.39 L416.41,315.24 L415.22,317 L414.12,318.68 L413.13,320.3 L412.25,321.86 L411.45,323.39 L410.69,324.88 L409.95,326.34 L409.23,327.78 L408.5,329.19 L407.77,330.57 L407.02,331.93 L406.23,333.25 L405.42,334.55 L404.6,335.83 L403.74,337.07 L402.81,338.25 L401.79,339.37 L400.65,340.37 L399.39,341.26 L398.01,342.01 L396.57,342.65 L395.14,343.23 L393.74,343.79 L392.37,344.31 L391,344.76 L389.64,345.17 L388.31,345.55 L387.01,345.91 L385.75,346.28 L384.51,346.63 L383.3,346.97 L382.11,347.3 L380.93,347.62 L379.77,347.93 L378.62,348.24 L377.48,348.54 L376.35,348.84 L375.22,349.15 L374.09,349.47 L372.97,349.78 L371.84,350.1 L370.7,350.41 L369.54,350.71 L368.38,351 L367.2,351.26 L366,351.51 L364.79,351.76 L363.55,352.02 L362.29,352.28 L361.01,352.51 L359.7,352.7 L358.39,352.82 L357.06,352.85 L355.75,352.76 L354.45,352.55 L353.17,352.25 L351.91,351.87 L350.67,351.42 L349.46,350.92 L348.25,350.38 L347.07,349.79 L345.91,349.15 L344.82,348.41 L343.79,347.58 L342.79,346.7 L341.8,345.84 L340.78,345.01 L339.67,344.27 L338.42,343.63 L336.99,343.12 L335.37,342.7 L333.58,342.33 L331.65,341.96 L329.6,341.55 L327.59,341 L325.67,340.28 L323.77,339.45 L321.94,338.49 L320.28,337.36 L318.96,336.01 L318.04,334.46 L317.51,332.75 L317.45,330.92 L318.06,328.95 L318.87,327.02 L319.77,325.15 L320.68,323.37 L321.57,321.67 L322.42,320.05 L323.19,318.49Z" fill="#4a7fb6" fill-rule="evenodd"/>
<path d="M327.6,317 L328.29,315.68 L328.98,314.41 L329.67,313.18 L330.36,311.99 L331.06,310.84 L331.78,309.73 L332.5,308.65 L333.23,307.6 L333.96,306.59 L334.71,305.61 L335.46,304.66 L336.2,303.73 L336.93,302.82 L337.65,301.92 L338.36,301.04 L339.07,300.17 L339.78,299.32 L340.5,298.48 L341.23,297.65 L341.97,296.84 L342.73,296.04 L343.5,295.27 L344.3,294.53 L345.12,293.81 L345.96,293.12 L346.82,292.44 L347.67,291.77 L348.54,291.11 L349.41,290.45 L350.28,289.78 L351.16,289.08 L352.03,288.35 L352.89,287.56 L353.75,286.69 L354.61,285.72 L355.5,284.68 L356.44,283.66 L357.45,282.72 L358.55,281.96 L359.71,281.33 L360.91,280.8 L362.15,280.32 L363.4,279.89 L364.69,279.45 L366,278.99 L367.35,278.46 L368.73,277.89 L370.17,277.3 L371.67,276.68 L373.22,276.07 L374.82,275.48 L376.48,274.96 L378.19,274.48 L379.95,274.08 L381.73,273.79 L383.53,273.61 L385.35,273.53 L387.18,273.57 L388.99,273.77 L390.73,274.17 L392.39,274.76 L393.97,275.53 L395.47,276.44 L396.89,277.46 L398.23,278.59 L399.54,279.75 L400.85,280.91 L402.2,282.04 L403.59,283.16 L405,284.28 L406.42,285.42 L407.82,286.62 L409.17,287.88 L410.42,289.24 L411.55,290.7 L412.56,292.24 L413.46,293.85 L414.22,295.53 L414.86,297.26 L415.34,299.04 L415.63,300.87 L415.69,302.75 L415.5,304.66 L415.06,306.57 L414.42,308.46 L413.65,310.3 L412.81,312.08 L411.85,313.79 L410.8,315.44 L409.75,317 L408.76,318.49 L407.85,319.93 L407,321.31 L406.21,322.65 L405.45,323.96 L404.71,325.23 L403.97,326.47 L403.24,327.68 L402.5,328.86 L401.75,330.01 L400.98,331.13 L400.19,332.22 L399.4,333.29 L398.59,334.33 L397.72,335.31 L396.79,336.24 L395.78,337.09 L394.67,337.83 L393.49,338.47 L392.26,339.03 L391.03,339.54 L389.84,340.02 L388.67,340.48 L387.5,340.88 L386.35,341.25 L385.21,341.59 L384.1,341.92 L383.03,342.24 L381.97,342.56 L380.93,342.86 L379.91,343.15 L378.9,343.44 L377.9,343.72 L376.91,343.99 L375.92,344.26 L374.94,344.53 L373.97,344.8 L373,345.07 L372.03,345.35 L371.05,345.62 L370.06,345.89 L369.06,346.15 L368.06,346.4 L367.03,346.63 L366,346.84 L364.95,347.06 L363.88,347.29 L362.79,347.51 L361.68,347.71 L360.55,347.88 L359.41,348 L358.26,348.04 L357.11,348 L355.97,347.86 L354.84,347.66 L353.72,347.39 L352.61,347.07 L351.51,346.71 L350.41,346.31 L349.32,345.89 L348.25,345.41 L347.21,344.85 L346.22,344.23 L345.24,343.57 L344.27,342.9 L343.25,342.26 L342.17,341.68 L340.98,341.17 L339.64,340.74 L338.16,340.36 L336.55,340.01 L334.83,339.65 L333.03,339.24 L331.26,338.71 L329.56,338.04 L327.9,337.26 L326.3,336.36 L324.85,335.32 L323.68,334.1 L322.85,332.71 L322.34,331.19 L322.22,329.55 L322.63,327.81 L323.23,326.09 L323.93,324.42 L324.68,322.81 L325.43,321.26 L326.18,319.78 L326.9,318.37Z" fill="#5a9bc6" fill-rule="evenodd"/>
<path d="M331.1,317 L331.76,315.8 L332.44,314.65 L333.11,313.54 L333.8,312.47 L334.5,311.44 L335.2,310.45 L335.91,309.5 L336.63,308.58 L337.35,307.69 L338.07,306.84 L338.8,306.01 L339.51,305.21 L340.21,304.42 L340.91,303.66 L341.59,302.91 L342.27,302.17 L342.94,301.45 L343.62,300.74 L344.31,300.05 L345,299.37 L345.69,298.72 L346.4,298.08 L347.13,297.46 L347.87,296.87 L348.62,296.29 L349.39,295.73 L350.15,295.18 L350.92,294.64 L351.69,294.09 L352.46,293.55 L353.23,292.98 L354,292.39 L354.76,291.76 L355.52,291.06 L356.28,290.3 L357.06,289.48 L357.88,288.68 L358.76,287.94 L359.69,287.34 L360.68,286.83 L361.7,286.4 L362.74,286.01 L363.81,285.65 L364.89,285.3 L366,284.92 L367.13,284.5 L368.3,284.05 L369.51,283.57 L370.77,283.08 L372.07,282.6 L373.41,282.14 L374.8,281.72 L376.22,281.34 L377.69,281.02 L379.18,280.78 L380.69,280.64 L382.22,280.56 L383.76,280.58 L385.29,280.72 L386.78,281.01 L388.21,281.45 L389.59,282.03 L390.91,282.71 L392.18,283.49 L393.4,284.35 L394.6,285.24 L395.8,286.14 L397.04,287.02 L398.32,287.9 L399.61,288.8 L400.92,289.72 L402.21,290.69 L403.46,291.73 L404.63,292.86 L405.71,294.08 L406.68,295.37 L407.55,296.74 L408.3,298.17 L408.94,299.65 L409.43,301.19 L409.74,302.79 L409.86,304.42 L409.75,306.09 L409.43,307.77 L408.92,309.43 L408.29,311.06 L407.58,312.63 L406.76,314.15 L405.85,315.61 L404.93,317 L404.04,318.33 L403.19,319.6 L402.4,320.83 L401.64,322.01 L400.9,323.15 L400.17,324.26 L399.45,325.34 L398.73,326.38 L398.01,327.4 L397.28,328.38 L396.54,329.34 L395.79,330.26 L395.04,331.16 L394.28,332.04 L393.48,332.87 L392.64,333.65 L391.73,334.36 L390.77,334.99 L389.74,335.54 L388.68,336.03 L387.63,336.48 L386.61,336.9 L385.6,337.3 L384.6,337.66 L383.61,337.99 L382.63,338.29 L381.68,338.59 L380.76,338.88 L379.85,339.16 L378.95,339.43 L378.07,339.69 L377.19,339.95 L376.33,340.2 L375.47,340.44 L374.62,340.68 L373.77,340.91 L372.93,341.15 L372.08,341.39 L371.24,341.63 L370.39,341.87 L369.53,342.1 L368.66,342.33 L367.79,342.54 L366.9,342.74 L366,342.93 L365.09,343.13 L364.16,343.32 L363.21,343.51 L362.25,343.69 L361.27,343.84 L360.27,343.95 L359.27,344.01 L358.26,343.99 L357.26,343.91 L356.26,343.77 L355.26,343.59 L354.26,343.36 L353.27,343.11 L352.27,342.82 L351.28,342.5 L350.28,342.15 L349.32,341.73 L348.37,341.26 L347.44,340.75 L346.5,340.24 L345.52,339.74 L344.49,339.28 L343.36,338.86 L342.13,338.5 L340.78,338.16 L339.33,337.84 L337.8,337.49 L336.21,337.09 L334.65,336.59 L333.15,335.97 L331.68,335.25 L330.28,334.42 L329.02,333.47 L327.98,332.36 L327.23,331.11 L326.75,329.75 L326.59,328.3 L326.86,326.76 L327.3,325.23 L327.86,323.73 L328.47,322.27 L329.11,320.88 L329.78,319.53 L330.43,318.24Z" fill="#6cb4ca" fill-rule="evenodd"/>
<path d="M334.57,317 L335.2,315.92 L335.84,314.89 L336.49,313.9 L337.16,312.95 L337.83,312.03 L338.51,311.16 L339.2,310.32 L339.88,309.51 L340.57,308.74 L341.26,308 L341.94,307.28 L342.62,306.59 L343.28,305.92 L343.94,305.27 L344.58,304.63 L345.22,304.01 L345.85,303.41 L346.48,302.82 L347.11,302.24 L347.75,301.68 L348.39,301.14 L349.03,300.61 L349.68,300.1 L350.35,299.62 L351.02,299.14 L351.69,298.68 L352.36,298.23 L353.04,297.79 L353.72,297.34 L354.4,296.9 L355.07,296.45 L355.75,295.97 L356.42,295.47 L357.08,294.92 L357.75,294.33 L358.43,293.69 L359.14,293.07 L359.89,292.5 L360.69,292.02 L361.52,291.62 L362.38,291.27 L363.26,290.96 L364.16,290.67 L365.07,290.38 L366,290.07 L366.95,289.74 L367.93,289.38 L368.94,289.01 L369.99,288.62 L371.07,288.24 L372.19,287.88 L373.34,287.56 L374.53,287.26 L375.75,287 L376.99,286.81 L378.25,286.69 L379.53,286.62 L380.82,286.62 L382.1,286.71 L383.37,286.92 L384.6,287.24 L385.79,287.66 L386.95,288.17 L388.07,288.75 L389.17,289.39 L390.25,290.06 L391.35,290.75 L392.48,291.43 L393.64,292.11 L394.82,292.82 L396,293.56 L397.18,294.35 L398.32,295.2 L399.41,296.13 L400.41,297.13 L401.33,298.21 L402.16,299.36 L402.88,300.58 L403.5,301.85 L403.98,303.18 L404.31,304.55 L404.46,305.97 L404.42,307.42 L404.18,308.88 L403.79,310.34 L403.28,311.76 L402.68,313.14 L401.98,314.48 L401.2,315.77 L400.39,317 L399.6,318.17 L398.83,319.3 L398.09,320.37 L397.37,321.41 L396.66,322.41 L395.97,323.37 L395.27,324.3 L394.58,325.2 L393.9,326.06 L393.2,326.9 L392.5,327.71 L391.81,328.49 L391.11,329.25 L390.4,329.97 L389.67,330.67 L388.92,331.32 L388.12,331.92 L387.27,332.46 L386.39,332.93 L385.49,333.35 L384.59,333.74 L383.71,334.1 L382.85,334.45 L382,334.77 L381.16,335.06 L380.32,335.33 L379.51,335.6 L378.72,335.86 L377.94,336.11 L377.17,336.35 L376.41,336.58 L375.66,336.8 L374.92,337.02 L374.18,337.24 L373.44,337.45 L372.71,337.66 L371.98,337.87 L371.25,338.07 L370.52,338.28 L369.79,338.49 L369.05,338.69 L368.3,338.88 L367.54,339.07 L366.78,339.24 L366,339.41 L365.21,339.58 L364.41,339.75 L363.59,339.91 L362.76,340.07 L361.91,340.2 L361.05,340.3 L360.18,340.36 L359.3,340.37 L358.42,340.33 L357.54,340.24 L356.66,340.12 L355.77,339.97 L354.88,339.79 L353.99,339.59 L353.09,339.37 L352.18,339.11 L351.29,338.81 L350.41,338.46 L349.53,338.08 L348.64,337.69 L347.71,337.31 L346.74,336.94 L345.7,336.6 L344.57,336.3 L343.35,336 L342.06,335.7 L340.71,335.38 L339.31,335 L337.94,334.53 L336.63,333.96 L335.35,333.3 L334.13,332.54 L333.03,331.68 L332.12,330.69 L331.44,329.58 L330.99,328.37 L330.81,327.09 L330.97,325.73 L331.29,324.38 L331.72,323.04 L332.22,321.75 L332.77,320.49 L333.36,319.28 L333.95,318.12Z" fill="#83c6c5" fill-rule="evenodd"/>
<path d="M337.92,317 L338.51,316.04 L339.11,315.12 L339.73,314.24 L340.36,313.4 L341,312.59 L341.64,311.82 L342.29,311.09 L342.94,310.39 L343.58,309.72 L344.23,309.08 L344.87,308.46 L345.5,307.87 L346.11,307.3 L346.72,306.75 L347.32,306.21 L347.91,305.7 L348.49,305.19 L349.07,304.7 L349.65,304.23 L350.23,303.76 L350.8,303.32 L351.38,302.88 L351.97,302.47 L352.56,302.07 L353.15,301.68 L353.74,301.31 L354.33,300.94 L354.92,300.58 L355.52,300.22 L356.11,299.87 L356.7,299.5 L357.28,299.13 L357.87,298.73 L358.45,298.31 L359.03,297.85 L359.62,297.36 L360.23,296.89 L360.88,296.45 L361.55,296.07 L362.25,295.76 L362.98,295.48 L363.71,295.23 L364.46,295 L365.22,294.76 L366,294.52 L366.79,294.26 L367.61,293.98 L368.45,293.69 L369.32,293.39 L370.21,293.1 L371.14,292.82 L372.09,292.57 L373.07,292.34 L374.08,292.14 L375.11,291.98 L376.15,291.88 L377.21,291.82 L378.29,291.81 L379.37,291.86 L380.43,292 L381.48,292.23 L382.51,292.53 L383.52,292.89 L384.51,293.31 L385.49,293.78 L386.46,294.27 L387.45,294.79 L388.47,295.3 L389.51,295.83 L390.57,296.38 L391.64,296.97 L392.7,297.6 L393.74,298.29 L394.73,299.05 L395.66,299.88 L396.52,300.77 L397.29,301.74 L397.97,302.76 L398.56,303.85 L399.03,304.98 L399.35,306.16 L399.52,307.39 L399.53,308.64 L399.37,309.91 L399.06,311.17 L398.65,312.41 L398.15,313.62 L397.56,314.79 L396.89,315.92 L396.19,317 L395.49,318.03 L394.79,319.01 L394.11,319.95 L393.44,320.86 L392.78,321.72 L392.12,322.55 L391.47,323.35 L390.82,324.12 L390.18,324.86 L389.53,325.56 L388.88,326.24 L388.23,326.9 L387.59,327.53 L386.94,328.14 L386.29,328.71 L385.61,329.26 L384.91,329.75 L384.18,330.21 L383.42,330.61 L382.65,330.97 L381.89,331.31 L381.15,331.63 L380.42,331.93 L379.69,332.21 L378.97,332.46 L378.27,332.7 L377.58,332.94 L376.9,333.16 L376.24,333.39 L375.58,333.6 L374.93,333.8 L374.29,334 L373.66,334.19 L373.02,334.38 L372.39,334.57 L371.77,334.75 L371.14,334.93 L370.52,335.11 L369.89,335.29 L369.26,335.46 L368.62,335.64 L367.98,335.8 L367.33,335.96 L366.67,336.12 L366,336.26 L365.32,336.41 L364.63,336.55 L363.93,336.69 L363.21,336.82 L362.48,336.94 L361.74,337.04 L360.99,337.1 L360.23,337.12 L359.46,337.11 L358.7,337.07 L357.92,337 L357.14,336.91 L356.35,336.79 L355.55,336.66 L354.74,336.5 L353.92,336.33 L353.11,336.11 L352.3,335.86 L351.48,335.58 L350.65,335.29 L349.79,335 L348.89,334.72 L347.93,334.45 L346.91,334.19 L345.82,333.93 L344.68,333.66 L343.49,333.36 L342.27,333 L341.08,332.57 L339.93,332.05 L338.82,331.45 L337.76,330.77 L336.81,330 L336.02,329.11 L335.41,328.13 L335,327.07 L334.8,325.95 L334.89,324.76 L335.11,323.57 L335.44,322.39 L335.84,321.24 L336.31,320.12 L336.82,319.04 L337.36,318Z" fill="#9dd4c2" fill-rule="evenodd"/>
<path d="M341.08,317 L341.62,316.15 L342.18,315.33 L342.75,314.56 L343.34,313.82 L343.94,313.11 L344.54,312.44 L345.14,311.8 L345.75,311.19 L346.35,310.61 L346.94,310.06 L347.53,309.54 L348.11,309.04 L348.68,308.55 L349.24,308.09 L349.79,307.64 L350.33,307.21 L350.86,306.79 L351.39,306.39 L351.91,305.99 L352.43,305.62 L352.95,305.25 L353.47,304.9 L353.99,304.56 L354.51,304.23 L355.03,303.92 L355.54,303.62 L356.06,303.32 L356.58,303.03 L357.09,302.74 L357.61,302.46 L358.12,302.17 L358.62,301.88 L359.13,301.57 L359.63,301.24 L360.14,300.9 L360.65,300.53 L361.17,300.17 L361.72,299.84 L362.29,299.56 L362.88,299.31 L363.48,299.09 L364.1,298.89 L364.72,298.7 L365.35,298.52 L366,298.33 L366.66,298.12 L367.34,297.9 L368.03,297.68 L368.75,297.46 L369.48,297.24 L370.25,297.03 L371.03,296.83 L371.83,296.65 L372.66,296.5 L373.51,296.38 L374.37,296.29 L375.24,296.24 L376.14,296.22 L377.04,296.24 L377.93,296.33 L378.82,296.48 L379.7,296.69 L380.58,296.93 L381.45,297.23 L382.31,297.56 L383.19,297.91 L384.07,298.29 L384.98,298.67 L385.91,299.07 L386.86,299.49 L387.82,299.95 L388.77,300.46 L389.71,301.01 L390.6,301.63 L391.45,302.31 L392.23,303.05 L392.95,303.85 L393.59,304.72 L394.14,305.63 L394.58,306.6 L394.9,307.61 L395.08,308.66 L395.12,309.74 L395.01,310.83 L394.78,311.92 L394.45,313 L394.04,314.05 L393.54,315.07 L392.97,316.06 L392.36,317 L391.74,317.9 L391.12,318.76 L390.5,319.58 L389.89,320.36 L389.27,321.1 L388.66,321.82 L388.06,322.5 L387.45,323.15 L386.85,323.78 L386.25,324.37 L385.66,324.94 L385.07,325.49 L384.48,326.01 L383.9,326.52 L383.31,326.99 L382.71,327.44 L382.09,327.86 L381.46,328.23 L380.82,328.58 L380.17,328.89 L379.52,329.18 L378.89,329.45 L378.28,329.71 L377.66,329.95 L377.06,330.18 L376.46,330.39 L375.88,330.6 L375.31,330.8 L374.74,330.99 L374.18,331.18 L373.63,331.35 L373.09,331.53 L372.54,331.7 L372.01,331.86 L371.47,332.02 L370.93,332.18 L370.4,332.34 L369.86,332.49 L369.33,332.65 L368.79,332.8 L368.24,332.94 L367.69,333.09 L367.13,333.22 L366.57,333.35 L366,333.48 L365.42,333.6 L364.83,333.73 L364.23,333.85 L363.62,333.96 L362.99,334.06 L362.35,334.15 L361.71,334.21 L361.05,334.25 L360.39,334.26 L359.72,334.25 L359.04,334.22 L358.36,334.17 L357.66,334.1 L356.95,334.02 L356.23,333.92 L355.5,333.81 L354.76,333.66 L354.02,333.48 L353.27,333.29 L352.51,333.08 L351.71,332.87 L350.89,332.65 L350.02,332.43 L349.1,332.22 L348.13,331.99 L347.13,331.75 L346.09,331.47 L345.03,331.14 L344,330.75 L343,330.28 L342.04,329.74 L341.13,329.13 L340.31,328.44 L339.62,327.66 L339.08,326.8 L338.71,325.87 L338.51,324.88 L338.53,323.85 L338.67,322.81 L338.92,321.77 L339.25,320.76 L339.64,319.77 L340.08,318.81 L340.56,317.89Z" fill="#b6e0c1" fill-rule="evenodd"/>
<path d="M344.5,317 L344.98,316.27 L345.49,315.57 L346.01,314.9 L346.54,314.26 L347.08,313.66 L347.62,313.09 L348.16,312.55 L348.7,312.04 L349.24,311.55 L349.77,311.09 L350.3,310.66 L350.82,310.24 L351.32,309.84 L351.82,309.46 L352.31,309.1 L352.79,308.74 L353.26,308.41 L353.73,308.08 L354.19,307.77 L354.64,307.47 L355.09,307.18 L355.54,306.9 L355.99,306.63 L356.43,306.38 L356.88,306.13 L357.32,305.89 L357.76,305.66 L358.2,305.43 L358.63,305.21 L359.06,304.99 L359.5,304.77 L359.93,304.54 L360.35,304.32 L360.78,304.07 L361.2,303.82 L361.63,303.56 L362.07,303.3 L362.52,303.06 L362.99,302.85 L363.47,302.67 L363.96,302.5 L364.46,302.35 L364.97,302.2 L365.48,302.06 L366,301.91 L366.53,301.75 L367.08,301.59 L367.64,301.43 L368.21,301.27 L368.8,301.11 L369.41,300.95 L370.04,300.81 L370.68,300.68 L371.34,300.56 L372.02,300.47 L372.71,300.4 L373.41,300.35 L374.13,300.33 L374.86,300.33 L375.59,300.38 L376.33,300.47 L377.07,300.59 L377.8,300.75 L378.55,300.94 L379.29,301.16 L380.05,301.4 L380.82,301.66 L381.61,301.93 L382.42,302.22 L383.24,302.53 L384.07,302.88 L384.9,303.27 L385.72,303.7 L386.5,304.19 L387.25,304.73 L387.95,305.33 L388.6,305.98 L389.17,306.68 L389.66,307.44 L390.07,308.24 L390.36,309.08 L390.55,309.96 L390.61,310.86 L390.55,311.78 L390.38,312.7 L390.12,313.61 L389.79,314.5 L389.37,315.37 L388.9,316.2 L388.39,317 L387.86,317.76 L387.32,318.49 L386.77,319.18 L386.23,319.84 L385.68,320.47 L385.13,321.07 L384.59,321.63 L384.04,322.17 L383.51,322.69 L382.97,323.18 L382.44,323.64 L381.92,324.09 L381.4,324.51 L380.89,324.91 L380.37,325.3 L379.86,325.66 L379.33,325.99 L378.8,326.3 L378.27,326.58 L377.73,326.84 L377.2,327.09 L376.68,327.32 L376.17,327.54 L375.67,327.74 L375.17,327.93 L374.68,328.12 L374.2,328.29 L373.73,328.46 L373.26,328.63 L372.8,328.78 L372.35,328.94 L371.89,329.09 L371.45,329.23 L371,329.37 L370.55,329.51 L370.11,329.64 L369.66,329.77 L369.22,329.9 L368.77,330.03 L368.32,330.15 L367.87,330.28 L367.41,330.39 L366.94,330.51 L366.48,330.62 L366,330.72 L365.52,330.83 L365.03,330.93 L364.53,331.03 L364.01,331.13 L363.49,331.21 L362.96,331.29 L362.42,331.35 L361.87,331.39 L361.31,331.42 L360.75,331.43 L360.17,331.43 L359.58,331.41 L358.99,331.38 L358.38,331.34 L357.75,331.29 L357.12,331.22 L356.47,331.13 L355.82,331.02 L355.15,330.89 L354.46,330.75 L353.76,330.6 L353.03,330.44 L352.26,330.27 L351.46,330.09 L350.62,329.9 L349.76,329.69 L348.88,329.44 L347.99,329.15 L347.11,328.8 L346.27,328.39 L345.46,327.92 L344.7,327.39 L344.01,326.79 L343.43,326.12 L342.97,325.38 L342.64,324.59 L342.44,323.76 L342.42,322.88 L342.5,321.99 L342.68,321.11 L342.94,320.24 L343.26,319.39 L343.63,318.56 L344.05,317.77Z" fill="#cce9c6" fill-rule="evenodd"/>
<path d="M348.19,317 L348.6,316.39 L349.03,315.81 L349.48,315.26 L349.94,314.74 L350.4,314.25 L350.87,313.78 L351.34,313.34 L351.8,312.93 L352.26,312.54 L352.72,312.17 L353.17,311.82 L353.61,311.48 L354.04,311.17 L354.47,310.87 L354.88,310.58 L355.29,310.31 L355.69,310.05 L356.08,309.8 L356.47,309.55 L356.85,309.32 L357.23,309.1 L357.6,308.89 L357.97,308.69 L358.34,308.49 L358.71,308.31 L359.07,308.13 L359.43,307.95 L359.78,307.78 L360.14,307.62 L360.49,307.45 L360.84,307.29 L361.19,307.13 L361.53,306.97 L361.88,306.8 L362.22,306.63 L362.57,306.45 L362.92,306.28 L363.29,306.11 L363.65,305.97 L364.03,305.83 L364.41,305.71 L364.8,305.6 L365.2,305.49 L365.59,305.38 L366,305.28 L366.41,305.17 L366.84,305.05 L367.27,304.94 L367.71,304.83 L368.17,304.71 L368.63,304.61 L369.11,304.51 L369.61,304.42 L370.11,304.34 L370.63,304.27 L371.17,304.22 L371.71,304.17 L372.27,304.15 L372.84,304.14 L373.41,304.16 L374,304.2 L374.59,304.27 L375.19,304.35 L375.8,304.46 L376.41,304.59 L377.04,304.74 L377.69,304.9 L378.35,305.08 L379.02,305.28 L379.71,305.5 L380.4,305.75 L381.09,306.03 L381.78,306.36 L382.44,306.73 L383.07,307.14 L383.67,307.6 L384.22,308.11 L384.71,308.67 L385.14,309.27 L385.49,309.91 L385.76,310.58 L385.93,311.29 L386,312.01 L385.97,312.75 L385.86,313.5 L385.66,314.24 L385.4,314.96 L385.08,315.67 L384.7,316.35 L384.29,317 L383.85,317.62 L383.4,318.22 L382.94,318.78 L382.47,319.31 L382,319.82 L381.53,320.3 L381.06,320.76 L380.6,321.19 L380.13,321.59 L379.68,321.98 L379.23,322.34 L378.78,322.69 L378.34,323.02 L377.91,323.33 L377.48,323.63 L377.06,323.91 L376.63,324.17 L376.2,324.41 L375.77,324.63 L375.35,324.84 L374.93,325.04 L374.52,325.22 L374.11,325.4 L373.71,325.57 L373.32,325.73 L372.93,325.88 L372.55,326.02 L372.18,326.16 L371.81,326.3 L371.44,326.43 L371.08,326.55 L370.72,326.67 L370.36,326.79 L370,326.9 L369.65,327.02 L369.29,327.12 L368.93,327.23 L368.58,327.33 L368.22,327.44 L367.86,327.54 L367.49,327.63 L367.13,327.73 L366.76,327.82 L366.38,327.91 L366,328 L365.61,328.08 L365.22,328.16 L364.82,328.24 L364.41,328.32 L363.99,328.39 L363.57,328.45 L363.13,328.51 L362.69,328.55 L362.24,328.59 L361.77,328.61 L361.3,328.63 L360.82,328.63 L360.33,328.63 L359.82,328.62 L359.3,328.6 L358.77,328.57 L358.23,328.52 L357.67,328.46 L357.11,328.38 L356.52,328.3 L355.92,328.2 L355.3,328.08 L354.65,327.96 L353.98,327.82 L353.29,327.67 L352.58,327.49 L351.86,327.28 L351.13,327.03 L350.42,326.73 L349.74,326.39 L349.08,326 L348.47,325.55 L347.92,325.05 L347.44,324.5 L347.06,323.89 L346.78,323.25 L346.6,322.56 L346.55,321.85 L346.59,321.13 L346.71,320.4 L346.9,319.68 L347.15,318.98 L347.46,318.3 L347.81,317.64Z" fill="#def1d2" fill-rule="evenodd"/>
<path d="M352.13,317 L352.45,316.53 L352.8,316.08 L353.16,315.65 L353.53,315.25 L353.91,314.87 L354.28,314.51 L354.66,314.17 L355.04,313.86 L355.41,313.56 L355.77,313.28 L356.13,313.01 L356.49,312.76 L356.83,312.53 L357.17,312.31 L357.5,312.09 L357.83,311.89 L358.15,311.7 L358.46,311.52 L358.77,311.35 L359.07,311.18 L359.36,311.02 L359.65,310.87 L359.94,310.73 L360.23,310.59 L360.51,310.46 L360.79,310.33 L361.06,310.21 L361.34,310.09 L361.61,309.97 L361.88,309.86 L362.14,309.75 L362.41,309.64 L362.68,309.53 L362.94,309.42 L363.2,309.32 L363.47,309.21 L363.73,309.1 L364.01,309 L364.28,308.91 L364.56,308.82 L364.84,308.74 L365.12,308.66 L365.41,308.58 L365.7,308.51 L366,308.43 L366.3,308.36 L366.61,308.29 L366.92,308.21 L367.24,308.14 L367.57,308.07 L367.91,308.01 L368.26,307.94 L368.61,307.88 L368.98,307.83 L369.35,307.78 L369.74,307.74 L370.14,307.71 L370.54,307.69 L370.96,307.67 L371.39,307.67 L371.82,307.68 L372.27,307.7 L372.73,307.74 L373.2,307.79 L373.68,307.85 L374.17,307.93 L374.67,308.02 L375.19,308.12 L375.72,308.25 L376.26,308.39 L376.8,308.56 L377.34,308.76 L377.88,308.99 L378.41,309.25 L378.91,309.55 L379.39,309.88 L379.83,310.25 L380.23,310.67 L380.57,311.11 L380.86,311.59 L381.08,312.1 L381.22,312.64 L381.29,313.19 L381.29,313.75 L381.22,314.32 L381.08,314.88 L380.89,315.43 L380.65,315.98 L380.37,316.5 L380.05,317 L379.71,317.48 L379.36,317.93 L378.99,318.37 L378.62,318.77 L378.24,319.16 L377.87,319.52 L377.49,319.86 L377.11,320.19 L376.74,320.49 L376.38,320.78 L376.02,321.05 L375.66,321.3 L375.31,321.54 L374.97,321.77 L374.63,321.98 L374.3,322.19 L373.97,322.38 L373.65,322.56 L373.33,322.72 L373.01,322.88 L372.7,323.03 L372.39,323.17 L372.09,323.31 L371.79,323.43 L371.5,323.56 L371.21,323.67 L370.93,323.78 L370.65,323.89 L370.37,324 L370.1,324.1 L369.82,324.19 L369.55,324.29 L369.28,324.38 L369.02,324.46 L368.75,324.55 L368.48,324.63 L368.21,324.71 L367.94,324.79 L367.67,324.87 L367.4,324.95 L367.13,325.02 L366.85,325.09 L366.57,325.16 L366.29,325.23 L366,325.29 L365.71,325.36 L365.41,325.42 L365.11,325.48 L364.8,325.54 L364.49,325.59 L364.16,325.64 L363.83,325.69 L363.5,325.73 L363.15,325.76 L362.8,325.79 L362.44,325.82 L362.06,325.84 L361.68,325.85 L361.29,325.86 L360.88,325.86 L360.47,325.86 L360.04,325.84 L359.6,325.81 L359.14,325.78 L358.67,325.73 L358.19,325.67 L357.7,325.6 L357.18,325.51 L356.66,325.41 L356.12,325.29 L355.57,325.15 L355.01,324.98 L354.46,324.78 L353.92,324.55 L353.39,324.28 L352.9,323.97 L352.43,323.62 L352.01,323.23 L351.65,322.8 L351.35,322.33 L351.13,321.83 L350.98,321.31 L350.91,320.76 L350.92,320.21 L351,319.65 L351.13,319.09 L351.32,318.54 L351.55,318.01 L351.82,317.5Z" fill="#ecf7e3" fill-rule="evenodd"/>
<path d="M356.6,317 L356.82,316.68 L357.07,316.38 L357.32,316.09 L357.58,315.82 L357.84,315.56 L358.1,315.32 L358.37,315.1 L358.63,314.89 L358.89,314.69 L359.14,314.5 L359.39,314.33 L359.64,314.17 L359.88,314.01 L360.11,313.87 L360.34,313.73 L360.57,313.61 L360.79,313.48 L361,313.37 L361.21,313.26 L361.42,313.16 L361.62,313.06 L361.82,312.97 L362.02,312.88 L362.21,312.79 L362.4,312.71 L362.59,312.63 L362.77,312.56 L362.95,312.48 L363.13,312.41 L363.31,312.35 L363.49,312.28 L363.67,312.22 L363.84,312.16 L364.02,312.1 L364.2,312.04 L364.37,311.99 L364.55,311.93 L364.72,311.88 L364.9,311.83 L365.08,311.78 L365.26,311.73 L365.44,311.69 L365.63,311.64 L365.81,311.6 L366,311.55 L366.19,311.51 L366.39,311.47 L366.59,311.43 L366.79,311.39 L367,311.35 L367.21,311.32 L367.42,311.29 L367.65,311.25 L367.88,311.22 L368.11,311.2 L368.35,311.17 L368.61,311.15 L368.86,311.13 L369.13,311.11 L369.41,311.1 L369.69,311.09 L369.98,311.09 L370.29,311.1 L370.6,311.11 L370.93,311.13 L371.26,311.15 L371.61,311.19 L371.96,311.24 L372.32,311.31 L372.69,311.39 L373.06,311.49 L373.43,311.6 L373.8,311.74 L374.16,311.9 L374.51,312.09 L374.84,312.3 L375.14,312.54 L375.42,312.81 L375.66,313.1 L375.86,313.41 L376.02,313.74 L376.13,314.1 L376.19,314.46 L376.2,314.83 L376.16,315.21 L376.08,315.58 L375.95,315.95 L375.8,316.31 L375.61,316.66 L375.4,317 L375.18,317.32 L374.93,317.62 L374.68,317.91 L374.42,318.18 L374.16,318.44 L373.9,318.68 L373.63,318.9 L373.37,319.11 L373.11,319.31 L372.86,319.5 L372.61,319.67 L372.36,319.83 L372.12,319.99 L371.89,320.13 L371.66,320.27 L371.43,320.39 L371.21,320.52 L371,320.63 L370.79,320.74 L370.58,320.84 L370.38,320.94 L370.18,321.03 L369.98,321.12 L369.79,321.21 L369.6,321.29 L369.41,321.37 L369.23,321.44 L369.05,321.52 L368.87,321.59 L368.69,321.65 L368.51,321.72 L368.33,321.78 L368.16,321.84 L367.98,321.9 L367.8,321.96 L367.63,322.01 L367.45,322.07 L367.28,322.12 L367.1,322.17 L366.92,322.22 L366.74,322.27 L366.56,322.31 L366.37,322.36 L366.19,322.4 L366,322.45 L365.81,322.49 L365.61,322.53 L365.41,322.57 L365.21,322.61 L365,322.65 L364.79,322.68 L364.58,322.71 L364.35,322.75 L364.12,322.78 L363.89,322.8 L363.65,322.83 L363.39,322.85 L363.14,322.87 L362.87,322.89 L362.59,322.9 L362.31,322.91 L362.02,322.91 L361.71,322.9 L361.4,322.89 L361.07,322.87 L360.74,322.85 L360.39,322.81 L360.04,322.76 L359.68,322.69 L359.31,322.61 L358.94,322.51 L358.57,322.4 L358.2,322.26 L357.84,322.1 L357.49,321.91 L357.16,321.7 L356.86,321.46 L356.58,321.19 L356.34,320.9 L356.14,320.59 L355.98,320.26 L355.87,319.9 L355.81,319.54 L355.8,319.17 L355.84,318.79 L355.92,318.42 L356.05,318.05 L356.2,317.69 L356.39,317.34Z" fill="#f4fbef" fill-rule="evenodd"/>
<line x1="334.1" y1="368.04" x2="454.85" y2="238.62" stroke="#e4453d" stroke-width="0.95" stroke-dasharray="1.0,1.45"/>
<rect x="297.5" y="238.4" width="172" height="129.7" fill="none" stroke="#cfcfcf" stroke-width="0.8"/>
<line x1="341.6" y1="368.1" x2="341.6" y2="369.3" stroke="#444" stroke-width="0.4"/>
<line x1="387.6" y1="368.1" x2="387.6" y2="369.3" stroke="#444" stroke-width="0.4"/>
<line x1="433.6" y1="368.1" x2="433.6" y2="369.3" stroke="#444" stroke-width="0.4"/>
<line x1="296.3" y1="360" x2="297.5" y2="360" stroke="#444" stroke-width="0.4"/>
<line x1="296.3" y1="335.35" x2="297.5" y2="335.35" stroke="#444" stroke-width="0.4"/>
<line x1="296.3" y1="310.7" x2="297.5" y2="310.7" stroke="#444" stroke-width="0.4"/>
<line x1="296.3" y1="286.05" x2="297.5" y2="286.05" stroke="#444" stroke-width="0.4"/>
<line x1="296.3" y1="261.4" x2="297.5" y2="261.4" stroke="#444" stroke-width="0.4"/>
<text x="341.6" y="373.3" font-size="4" text-anchor="middle" fill="#4d4d4d" font-weight="normal" font-style="normal">30</text>
<text x="387.6" y="373.3" font-size="4" text-anchor="middle" fill="#4d4d4d" font-weight="normal" font-style="normal">40</text>
<text x="433.6" y="373.3" font-size="4" text-anchor="middle" fill="#4d4d4d" font-weight="normal" font-style="normal">50</text>
<text x="295.6" y="361.4" font-size="4" text-anchor="end" fill="#4d4d4d" font-weight="normal" font-style="normal">30</text>
<text x="295.6" y="336.75" font-size="4" text-anchor="end" fill="#4d4d4d" font-weight="normal" font-style="normal">35</text>
<text x="295.6" y="312.1" font-size="4" text-anchor="end" fill="#4d4d4d" font-weight="normal" font-style="normal">40</text>
<text x="295.6" y="287.45" font-size="4" text-anchor="end" fill="#4d4d4d" font-weight="normal" font-style="normal">45</text>
<text x="295.6" y="262.8" font-size="4" text-anchor="end" fill="#4d4d4d" font-weight="normal" font-style="normal">50</text>
<text x="383.5" y="377.8" font-size="4.3" text-anchor="middle" fill="#000" font-weight="normal" font-style="normal">Actual HbA1c</text>
<text x="269" y="307.8" font-size="6.6" text-anchor="middle" fill="#000" font-weight="normal" font-style="normal" transform="rotate(-90 269 307.8)">Predicted HbA1c</text>
<text x="276" y="307.8" font-size="6.65" text-anchor="middle" fill="#000" font-weight="normal" font-style="normal" transform="rotate(-90 276 307.8)">(based on fasting glucose - HbA1c</text>
<text x="283.3" y="306.3" font-size="6.7" text-anchor="middle" fill="#000" font-weight="normal" font-style="normal" transform="rotate(-90 283.3 306.3)">relationship in G/G genotype)</text>
<text x="495.6" y="236.7" font-size="10.4" text-anchor="start" fill="#000" font-weight="bold" font-style="normal">F</text>
<rect x="502.1" y="243.5" width="176.1" height="119.5" fill="#fff" stroke="none" stroke-width="0.5"/>
<line x1="529.65" y1="243.5" x2="529.65" y2="363" stroke="#f4f4f4" stroke-width="0.35"/>
<line x1="557.95" y1="243.5" x2="557.95" y2="363" stroke="#f4f4f4" stroke-width="0.35"/>
<line x1="586.25" y1="243.5" x2="586.25" y2="363" stroke="#f4f4f4" stroke-width="0.35"/>
<line x1="614.55" y1="243.5" x2="614.55" y2="363" stroke="#f4f4f4" stroke-width="0.35"/>
<line x1="642.85" y1="243.5" x2="642.85" y2="363" stroke="#f4f4f4" stroke-width="0.35"/>
<line x1="671.15" y1="243.5" x2="671.15" y2="363" stroke="#f4f4f4" stroke-width="0.35"/>
<line x1="502.1" y1="346.44" x2="678.2" y2="346.44" stroke="#f4f4f4" stroke-width="0.35"/>
<line x1="502.1" y1="318.6" x2="678.2" y2="318.6" stroke="#f4f4f4" stroke-width="0.35"/>
<line x1="502.1" y1="290.76" x2="678.2" y2="290.76" stroke="#f4f4f4" stroke-width="0.35"/>
<line x1="502.1" y1="262.92" x2="678.2" y2="262.92" stroke="#f4f4f4" stroke-width="0.35"/>
<line x1="515.5" y1="243.5" x2="515.5" y2="363" stroke="#ebebeb" stroke-width="0.5"/>
<line x1="543.8" y1="243.5" x2="543.8" y2="363" stroke="#ebebeb" stroke-width="0.5"/>
<line x1="572.1" y1="243.5" x2="572.1" y2="363" stroke="#ebebeb" stroke-width="0.5"/>
<line x1="600.4" y1="243.5" x2="600.4" y2="363" stroke="#ebebeb" stroke-width="0.5"/>
<line x1="628.7" y1="243.5" x2="628.7" y2="363" stroke="#ebebeb" stroke-width="0.5"/>
<line x1="657" y1="243.5" x2="657" y2="363" stroke="#ebebeb" stroke-width="0.5"/>
<line x1="502.1" y1="360.36" x2="678.2" y2="360.36" stroke="#ebebeb" stroke-width="0.5"/>
<line x1="502.1" y1="332.52" x2="678.2" y2="332.52" stroke="#ebebeb" stroke-width="0.5"/>
<line x1="502.1" y1="304.68" x2="678.2" y2="304.68" stroke="#ebebeb" stroke-width="0.5"/>
<line x1="502.1" y1="276.84" x2="678.2" y2="276.84" stroke="#ebebeb" stroke-width="0.5"/>
<line x1="502.1" y1="249" x2="678.2" y2="249" stroke="#ebebeb" stroke-width="0.5"/>
<path d="M509.84,249 L511.2,249 L512.55,249.01 L513.91,249.02 L515.26,249.04 L516.62,249.06 L517.97,249.08 L519.33,249.11 L520.68,249.14 L522.04,249.17 L523.4,249.21 L524.75,249.25 L526.11,249.29 L527.46,249.34 L528.82,249.39 L530.17,249.44 L531.53,249.52 L532.88,249.62 L534.24,249.75 L535.6,249.9 L536.95,250.07 L538.31,250.25 L539.66,250.44 L541.02,250.65 L542.37,250.86 L543.73,251.08 L545.08,251.3 L546.44,251.56 L547.8,251.83 L549.15,252.13 L550.51,252.45 L551.86,252.79 L553.22,253.15 L554.57,253.53 L555.93,253.93 L557.28,254.35 L558.64,254.8 L560,255.28 L561.35,255.81 L562.71,256.39 L564.06,257 L565.42,257.64 L566.77,258.32 L568.13,259.03 L569.48,259.77 L570.84,260.52 L572.2,261.31 L573.55,262.13 L574.91,263.01 L576.26,263.94 L577.62,264.92 L578.97,265.94 L580.33,267 L581.68,268.09 L583.04,269.21 L584.4,270.36 L585.75,271.53 L587.11,272.73 L588.46,273.99 L589.82,275.3 L591.17,276.66 L592.53,278.06 L593.88,279.49 L595.24,280.95 L596.59,282.42 L597.95,283.9 L599.31,285.39 L600.66,286.87 L602.02,288.37 L603.37,289.9 L604.73,291.45 L606.08,293.03 L607.44,294.61 L608.79,296.2 L610.15,297.79 L611.51,299.37 L612.86,300.94 L614.22,302.49 L615.57,304.03 L616.93,305.57 L618.28,307.11 L619.64,308.65 L620.99,310.18 L622.35,311.7 L623.71,313.21 L625.06,314.7 L626.42,316.18 L627.77,317.63 L629.13,319.05 L630.48,320.45 L631.84,321.83 L633.19,323.2 L634.55,324.55 L635.91,325.89 L637.26,327.21 L638.62,328.52 L639.97,329.81 L641.33,331.09 L642.68,332.36 L644.04,333.63 L645.39,334.9 L646.75,336.16 L648.11,337.42 L649.46,338.66 L650.82,339.89 L652.17,341.08 L653.53,342.25 L654.88,343.38 L656.24,344.46 L657.59,345.5 L658.95,346.51 L660.31,347.5 L661.66,348.47 L663.02,349.42 L664.37,350.34 L665.73,351.23 L667.08,352.09 L668.44,352.93 L669.79,353.74 L671.15,354.51" fill="none" stroke="#e0303a" stroke-width="1.3"/>
<path d="M509.84,249 L511.2,249 L512.55,249.01 L513.91,249.01 L515.26,249.02 L516.62,249.04 L517.97,249.05 L519.33,249.07 L520.68,249.09 L522.04,249.12 L523.4,249.14 L524.75,249.17 L526.11,249.2 L527.46,249.23 L528.82,249.26 L530.17,249.29 L531.53,249.34 L532.88,249.41 L534.24,249.49 L535.6,249.58 L536.95,249.69 L538.31,249.81 L539.66,249.94 L541.02,250.08 L542.37,250.23 L543.73,250.38 L545.08,250.56 L546.44,250.78 L547.8,251.04 L549.15,251.32 L550.51,251.64 L551.86,251.98 L553.22,252.35 L554.57,252.73 L555.93,253.12 L557.28,253.53 L558.64,253.95 L560,254.4 L561.35,254.9 L562.71,255.43 L564.06,255.99 L565.42,256.59 L566.77,257.21 L568.13,257.85 L569.48,258.52 L570.84,259.21 L572.2,259.91 L573.55,260.64 L574.91,261.41 L576.26,262.22 L577.62,263.06 L578.97,263.94 L580.33,264.86 L581.68,265.8 L583.04,266.77 L584.4,267.77 L585.75,268.8 L587.11,269.86 L588.46,270.97 L589.82,272.14 L591.17,273.36 L592.53,274.62 L593.88,275.91 L595.24,277.23 L596.59,278.58 L597.95,279.93 L599.31,281.3 L600.66,282.67 L602.02,284.07 L603.37,285.51 L604.73,286.97 L606.08,288.46 L607.44,289.97 L608.79,291.49 L610.15,293.03 L611.51,294.56 L612.86,296.1 L614.22,297.62 L615.57,299.15 L616.93,300.69 L618.28,302.25 L619.64,303.82 L620.99,305.39 L622.35,306.96 L623.71,308.52 L625.06,310.07 L626.42,311.61 L627.77,313.12 L629.13,314.61 L630.48,316.09 L631.84,317.55 L633.19,319 L634.55,320.44 L635.91,321.87 L637.26,323.29 L638.62,324.7 L639.97,326.1 L641.33,327.49 L642.68,328.87 L644.04,330.24 L645.39,331.61 L646.75,332.96 L648.11,334.3 L649.46,335.63 L650.82,336.96 L652.17,338.28 L653.53,339.6 L654.88,340.91 L656.24,342.22 L657.59,343.54 L658.95,344.85 L660.31,346.15 L661.66,347.45 L663.02,348.75 L664.37,350.05 L665.73,351.34 L667.08,352.62 L668.44,353.91 L669.79,355.19 L671.15,356.46" fill="none" stroke="#4f8fc6" stroke-width="1.1"/>
<path d="M509.84,249 L511.2,249 L512.55,249.01 L513.91,249.01 L515.26,249.02 L516.62,249.04 L517.97,249.05 L519.33,249.07 L520.68,249.09 L522.04,249.12 L523.4,249.14 L524.75,249.17 L526.11,249.2 L527.46,249.23 L528.82,249.26 L530.17,249.29 L531.53,249.34 L532.88,249.41 L534.24,249.49 L535.6,249.59 L536.95,249.69 L538.31,249.81 L539.66,249.94 L541.02,250.08 L542.37,250.23 L543.73,250.38 L545.08,250.56 L546.44,250.76 L547.8,250.99 L549.15,251.26 L550.51,251.54 L551.86,251.85 L553.22,252.18 L554.57,252.53 L555.93,252.89 L557.28,253.27 L558.64,253.66 L560,254.08 L561.35,254.55 L562.71,255.06 L564.06,255.6 L565.42,256.17 L566.77,256.76 L568.13,257.38 L569.48,258.02 L570.84,258.68 L572.2,259.35 L573.55,260.05 L574.91,260.78 L576.26,261.55 L577.62,262.36 L578.97,263.2 L580.33,264.07 L581.68,264.97 L583.04,265.9 L584.4,266.86 L585.75,267.84 L587.11,268.86 L588.46,269.93 L589.82,271.06 L591.17,272.23 L592.53,273.45 L593.88,274.7 L595.24,275.98 L596.59,277.29 L597.95,278.61 L599.31,279.94 L600.66,281.27 L602.02,282.64 L603.37,284.04 L604.73,285.48 L606.08,286.94 L607.44,288.42 L608.79,289.92 L610.15,291.43 L611.51,292.94 L612.86,294.45 L614.22,295.96 L615.57,297.47 L616.93,298.99 L618.28,300.54 L619.64,302.09 L620.99,303.65 L622.35,305.21 L623.71,306.76 L625.06,308.31 L626.42,309.83 L627.77,311.33 L629.13,312.8 L630.48,314.25 L631.84,315.7 L633.19,317.13 L634.55,318.55 L635.91,319.95 L637.26,321.35 L638.62,322.73 L639.97,324.1 L641.33,325.45 L642.68,326.79 L644.04,328.12 L645.39,329.43 L646.75,330.74 L648.11,332.04 L649.46,333.32 L650.82,334.59 L652.17,335.85 L653.53,337.09 L654.88,338.31 L656.24,339.51 L657.59,340.69 L658.95,341.86 L660.31,343.02 L661.66,344.16 L663.02,345.28 L664.37,346.4 L665.73,347.49 L667.08,348.58 L668.44,349.64 L669.79,350.69 L671.15,351.73" fill="none" stroke="#62a3d3" stroke-width="2.3"/>
<path d="M509.84,249 L511.2,249 L512.55,249.01 L513.91,249.01 L515.26,249.02 L516.62,249.04 L517.97,249.05 L519.33,249.07 L520.68,249.09 L522.04,249.12 L523.4,249.14 L524.75,249.17 L526.11,249.2 L527.46,249.23 L528.82,249.26 L530.17,249.29 L531.53,249.34 L532.88,249.41 L534.24,249.49 L535.6,249.59 L536.95,249.7 L538.31,249.82 L539.66,249.95 L541.02,250.09 L542.37,250.23 L543.73,250.38 L545.08,250.55 L546.44,250.74 L547.8,250.95 L549.15,251.19 L550.51,251.45 L551.86,251.72 L553.22,252.02 L554.57,252.33 L555.93,252.66 L557.28,253 L558.64,253.36 L560,253.76 L561.35,254.2 L562.71,254.68 L564.06,255.2 L565.42,255.74 L566.77,256.31 L568.13,256.9 L569.48,257.52 L570.84,258.15 L572.2,258.79 L573.55,259.46 L574.91,260.17 L576.26,260.91 L577.62,261.69 L578.97,262.5 L580.33,263.34 L581.68,264.22 L583.04,265.12 L584.4,266.05 L585.75,267.01 L587.11,268.01 L588.46,269.07 L589.82,270.18 L591.17,271.35 L592.53,272.55 L593.88,273.8 L595.24,275.07 L596.59,276.36 L597.95,277.67 L599.31,278.98 L600.66,280.3 L602.02,281.63 L603.37,283 L604.73,284.39 L606.08,285.81 L607.44,287.24 L608.79,288.69 L610.15,290.16 L611.51,291.63 L612.86,293.1 L614.22,294.57 L615.57,296.06 L616.93,297.56 L618.28,299.09 L619.64,300.63 L620.99,302.18 L622.35,303.73 L623.71,305.27 L625.06,306.8 L626.42,308.32 L627.77,309.8 L629.13,311.26 L630.48,312.71 L631.84,314.14 L633.19,315.56 L634.55,316.97 L635.91,318.37 L637.26,319.75 L638.62,321.12 L639.97,322.47 L641.33,323.81 L642.68,325.12 L644.04,326.42 L645.39,327.7 L646.75,328.97 L648.11,330.23 L649.46,331.47 L650.82,332.7 L652.17,333.91 L653.53,335.11 L654.88,336.28 L656.24,337.44 L657.59,338.59 L658.95,339.72 L660.31,340.83 L661.66,341.93 L663.02,343.02 L664.37,344.09 L665.73,345.15 L667.08,346.19 L668.44,347.22 L669.79,348.23 L671.15,349.22" fill="none" stroke="#9ad8ea" stroke-width="0.9"/>
<rect x="502.1" y="243.5" width="176.1" height="119.5" fill="none" stroke="#c8c8c8" stroke-width="0.9"/>
<line x1="515.5" y1="363" x2="515.5" y2="364.2" stroke="#444" stroke-width="0.4"/>
<line x1="543.8" y1="363" x2="543.8" y2="364.2" stroke="#444" stroke-width="0.4"/>
<line x1="572.1" y1="363" x2="572.1" y2="364.2" stroke="#444" stroke-width="0.4"/>
<line x1="600.4" y1="363" x2="600.4" y2="364.2" stroke="#444" stroke-width="0.4"/>
<line x1="628.7" y1="363" x2="628.7" y2="364.2" stroke="#444" stroke-width="0.4"/>
<line x1="657" y1="363" x2="657" y2="364.2" stroke="#444" stroke-width="0.4"/>
<line x1="500.9" y1="360.36" x2="502.1" y2="360.36" stroke="#444" stroke-width="0.4"/>
<line x1="500.9" y1="332.52" x2="502.1" y2="332.52" stroke="#444" stroke-width="0.4"/>
<line x1="500.9" y1="304.68" x2="502.1" y2="304.68" stroke="#444" stroke-width="0.4"/>
<line x1="500.9" y1="276.84" x2="502.1" y2="276.84" stroke="#444" stroke-width="0.4"/>
<line x1="500.9" y1="249" x2="502.1" y2="249" stroke="#444" stroke-width="0.4"/>
<text x="515.5" y="369.5" font-size="5.4" text-anchor="middle" fill="#4d4d4d" font-weight="normal" font-style="normal">20</text>
<text x="543.8" y="369.5" font-size="5.4" text-anchor="middle" fill="#4d4d4d" font-weight="normal" font-style="normal">30</text>
<text x="572.1" y="369.5" font-size="5.4" text-anchor="middle" fill="#4d4d4d" font-weight="normal" font-style="normal">40</text>
<text x="600.4" y="369.5" font-size="5.4" text-anchor="middle" fill="#4d4d4d" font-weight="normal" font-style="normal">50</text>
<text x="628.7" y="369.5" font-size="5.4" text-anchor="middle" fill="#4d4d4d" font-weight="normal" font-style="normal">60</text>
<text x="657" y="369.5" font-size="5.4" text-anchor="middle" fill="#4d4d4d" font-weight="normal" font-style="normal">70</text>
<text x="499.3" y="362.46" font-size="5.3" text-anchor="end" fill="#4d4d4d" font-weight="normal" font-style="normal">0.2</text>
<text x="499.3" y="334.62" font-size="5.3" text-anchor="end" fill="#4d4d4d" font-weight="normal" font-style="normal">0.4</text>
<text x="499.3" y="306.78" font-size="5.3" text-anchor="end" fill="#4d4d4d" font-weight="normal" font-style="normal">0.6</text>
<text x="499.3" y="278.94" font-size="5.3" text-anchor="end" fill="#4d4d4d" font-weight="normal" font-style="normal">0.8</text>
<text x="499.3" y="251.1" font-size="5.3" text-anchor="end" fill="#4d4d4d" font-weight="normal" font-style="normal">1.0</text>
<text x="590.4" y="377" font-size="5.7" text-anchor="middle" fill="#222" font-weight="bold" font-style="normal">Age (years)</text>
<text x="488.5" y="303.4" font-size="6.05" text-anchor="middle" fill="#222" font-weight="normal" font-style="normal" transform="rotate(-90 488.5 303.4)">Survival probability (T2DM diagnosis)</text>
<rect x="628.6" y="243.7" width="49.9" height="18.1" fill="#fff" stroke="#c0c0c0" stroke-width="0.8"/>
<text x="651.7" y="256.6" font-size="9.5" text-anchor="middle" fill="#111"><tspan font-style="italic">P</tspan> = 0.01</text>
</svg></body></html>
